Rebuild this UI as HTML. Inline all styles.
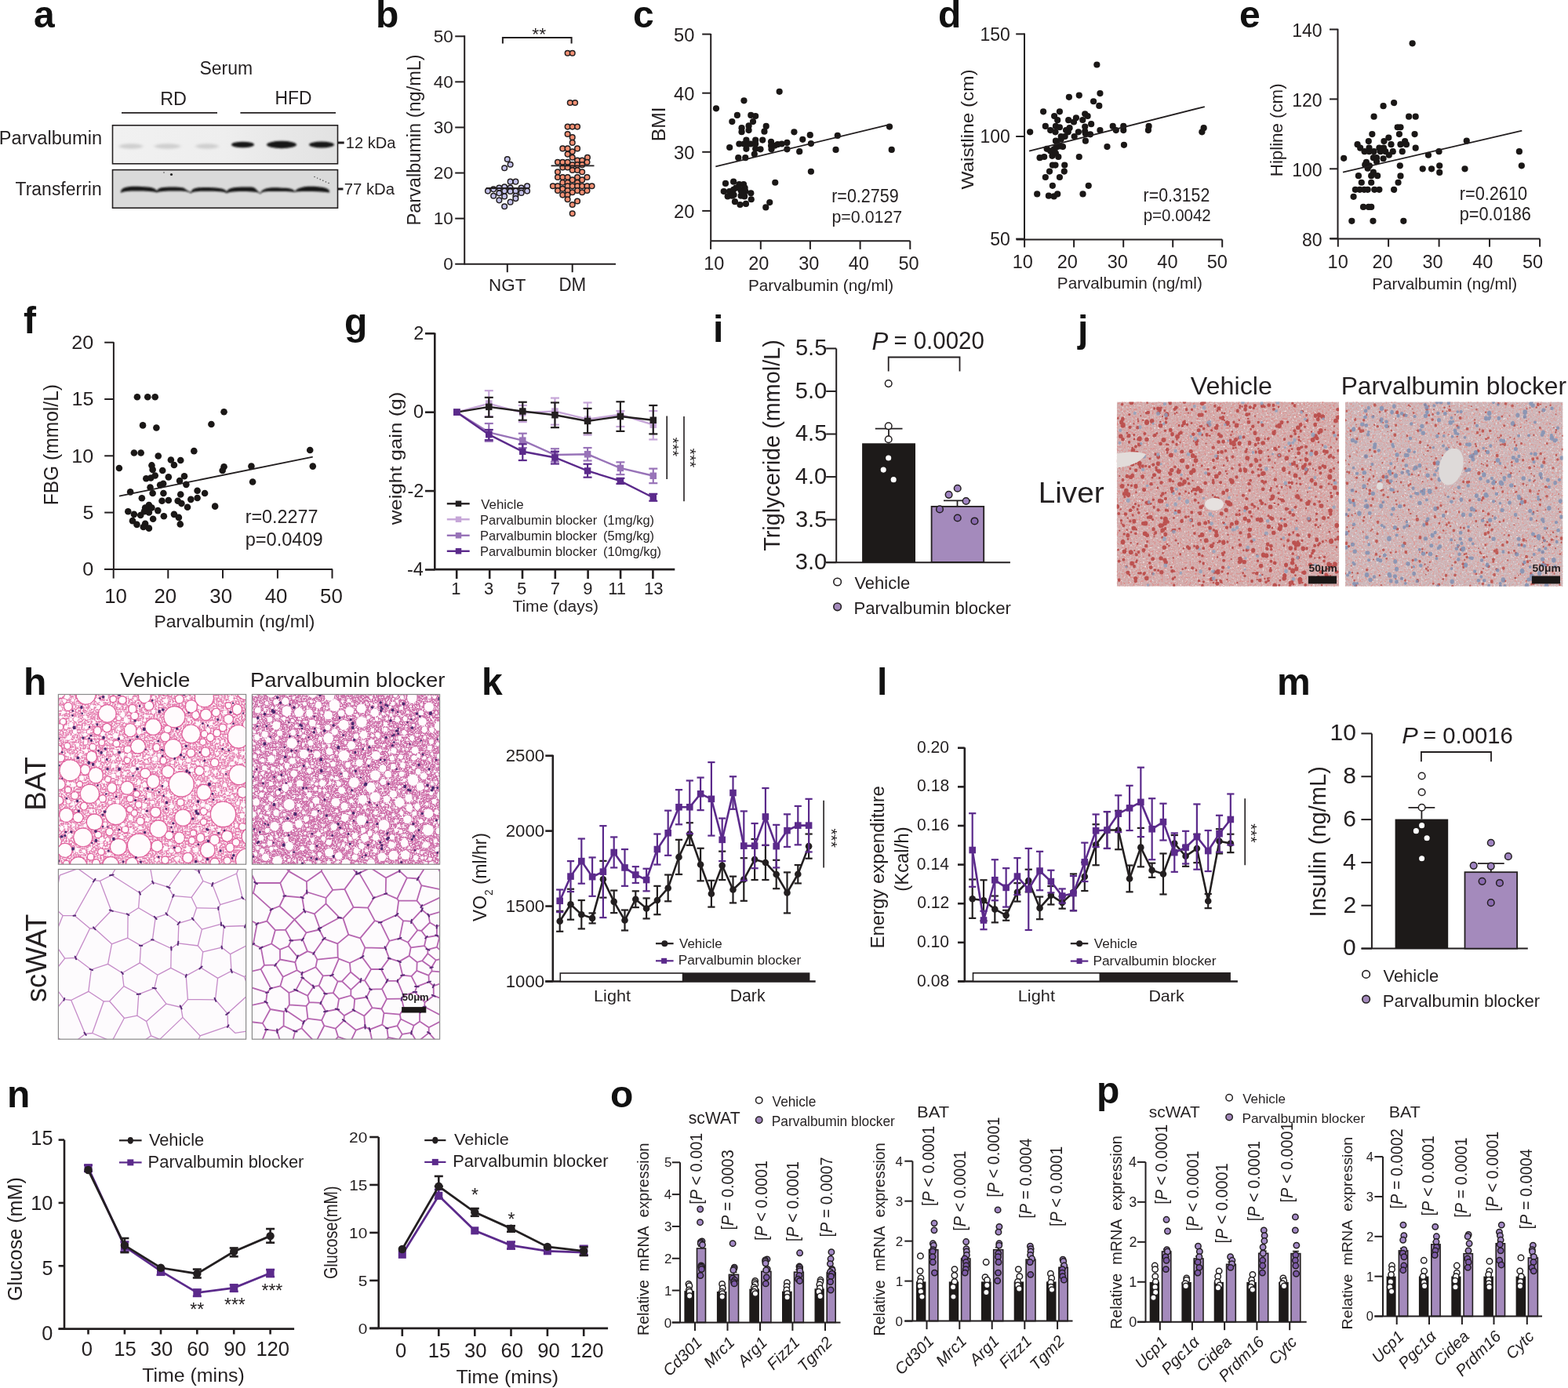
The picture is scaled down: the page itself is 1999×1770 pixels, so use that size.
<!DOCTYPE html>
<html><head><meta charset="utf-8"><title>Figure</title>
<style>
html,body{margin:0;padding:0;background:#fff;}
body{width:1999px;height:1770px;overflow:hidden;}
svg{display:block;}
svg text{font-family:'Liberation Sans', Arial, sans-serif;}
</style></head><body>
<svg xmlns="http://www.w3.org/2000/svg" width="1999" height="1770" viewBox="0 0 1999 1770">
<rect width="1999" height="1770" fill="#ffffff"/>
<text x="43" y="35" font-size="48" text-anchor="start" font-weight="bold" fill="#111" >a</text>
<text transform="translate(254.57 94.95) scale(0.936 1)" font-size="24.51" fill="#231f20" >Serum</text>
<text transform="translate(204.13 133.7) scale(0.979 1)" font-size="23.91" fill="#231f20" >RD</text>
<text transform="translate(350.47 132.8) scale(0.956 1)" font-size="23.91" fill="#231f20" >HFD</text>
<line x1="155" y1="143.9" x2="277" y2="143.9" stroke="#231f20" stroke-width="1.8" />
<line x1="306.4" y1="143.9" x2="428" y2="143.9" stroke="#231f20" stroke-width="1.8" />
<text transform="translate(-1.19 183.55) scale(0.954 1)" font-size="24.76" fill="#231f20" >Parvalbumin</text>
<text transform="translate(19.54 249.27) scale(0.993 1)" font-size="23.13" fill="#231f20" >Transferrin</text>
<defs><linearGradient id="blotTop" x1="0" x2="1" y1="0" y2="0"><stop offset="0" stop-color="#f1f1f1"/><stop offset="0.5" stop-color="#eeeeee"/><stop offset="1" stop-color="#e2e2e2"/></linearGradient><filter id="blur2" x="-20%" y="-50%" width="140%" height="200%"><feGaussianBlur stdDeviation="2.2 1.6"/></filter><filter id="blur1" x="-20%" y="-50%" width="140%" height="200%"><feGaussianBlur stdDeviation="1.2 0.8"/></filter></defs>
<rect x="143.5" y="159.8" width="287" height="49" fill="url(#blotTop)" />
<ellipse cx="167" cy="186.5" rx="15.0" ry="3.2" fill="#cfcfcf" filter="url(#blur2)"/>
<ellipse cx="213.5" cy="186.5" rx="16.5" ry="3.2" fill="#cfcfcf" filter="url(#blur2)"/>
<ellipse cx="264" cy="186.5" rx="14.5" ry="3.2" fill="#cfcfcf" filter="url(#blur2)"/>
<ellipse cx="309.5" cy="184.5" rx="14.5" ry="3.75" fill="#141414" filter="url(#blur1)"/>
<ellipse cx="359" cy="184.5" rx="19.0" ry="4.75" fill="#141414" filter="url(#blur1)"/>
<ellipse cx="410" cy="184.5" rx="16.0" ry="4.0" fill="#141414" filter="url(#blur1)"/>
<rect x="143.5" y="159.8" width="287" height="49" fill="none" stroke="#231f20" stroke-width="1.6" />
<rect x="143.5" y="216.6" width="287" height="48.6" fill="#dadada" />
<path d="M154,244 C156,238 165,237.5 180,238 C192,238.5 197,239 200,243.5 C202,239 207,238.5 220,238.5 C232,238.5 235,239.5 236,241 C238,242 240,244 243.5,245 C245,240 250,239 262,239 C274,239 287,239.5 289,244.5 C291,239 300,238.5 312,238.5 C320,238.5 322,238 325,240 C328,243 331,246 332,246 C335,239.5 345,239 357,239.5 C368,240 373,240 376,244 C380,238 392,237 404,238 C414,239 418,240 420,243.5 L420,245.5 C410,244 400,244 392,244 C380,244 376,244.5 376,245 C372,244 360,244 345,244 C336,244 333,245 332,247.5 C330,245 326,244.5 314,244 C300,244 292,244.5 289,246.5 C286,244 276,243.8 262,243.8 C250,243.8 245,244.5 243.5,246.5 C240,244 235,243.5 224,243.5 C210,243.5 203,244 200,245.5 C196,244 186,243.5 175,243.5 C164,243.5 157,244 154,246 Z" fill="#151515" filter="url(#blur1)"/>
<circle cx="209" cy="220" r="0.8" fill="#444"/>
<circle cx="218.5" cy="222.5" r="1.6" fill="#222"/>
<circle cx="401" cy="225.5" r="0.7" fill="#333"/>
<circle cx="404.6" cy="227.1" r="0.7" fill="#333"/>
<circle cx="408.2" cy="228.7" r="0.7" fill="#333"/>
<circle cx="411.8" cy="230.3" r="0.7" fill="#333"/>
<circle cx="415.4" cy="231.9" r="0.7" fill="#333"/>
<circle cx="419" cy="233.5" r="0.7" fill="#333"/>
<rect x="143.5" y="216.6" width="287" height="48.6" fill="none" stroke="#231f20" stroke-width="1.6" />
<line x1="431" y1="182" x2="438.7" y2="182" stroke="#231f20" stroke-width="3" />
<line x1="431" y1="241" x2="437.5" y2="241" stroke="#231f20" stroke-width="3" />
<text transform="translate(440.8 188.9) scale(0.990 1)" font-size="20.27" fill="#231f20" >12 kDa</text>
<text transform="translate(438.68 248.4) scale(1.016 1)" font-size="20.00" fill="#231f20" >77 kDa</text>
<text x="479" y="35" font-size="48" text-anchor="start" font-weight="bold" fill="#111" >b</text>
<line x1="592.2" y1="45.3" x2="592.2" y2="337.5" stroke="#231f20" stroke-width="2" />
<line x1="580.2" y1="336.7" x2="592.2" y2="336.7" stroke="#231f20" stroke-width="2" />
<line x1="580.2" y1="278.62" x2="592.2" y2="278.62" stroke="#231f20" stroke-width="2" />
<line x1="580.2" y1="220.54" x2="592.2" y2="220.54" stroke="#231f20" stroke-width="2" />
<line x1="580.2" y1="162.46" x2="592.2" y2="162.46" stroke="#231f20" stroke-width="2" />
<line x1="580.2" y1="104.38" x2="592.2" y2="104.38" stroke="#231f20" stroke-width="2" />
<line x1="580.2" y1="46.3" x2="592.2" y2="46.3" stroke="#231f20" stroke-width="2" />
<text transform="translate(565.2 344.46)" font-size="22.50" fill="#231f20" >0</text>
<text transform="translate(552.71 286.38)" font-size="22.50" fill="#231f20" >10</text>
<text transform="translate(552.71 228.3)" font-size="22.50" fill="#231f20" >20</text>
<text transform="translate(552.71 170.22)" font-size="22.50" fill="#231f20" >30</text>
<text transform="translate(552.71 112.14)" font-size="22.50" fill="#231f20" >40</text>
<text transform="translate(552.71 54.06)" font-size="22.50" fill="#231f20" >50</text>
<line x1="592" y1="336.7" x2="785" y2="336.7" stroke="#231f20" stroke-width="2" />
<line x1="646.8" y1="336.7" x2="646.8" y2="347.2" stroke="#231f20" stroke-width="2" />
<line x1="729.7" y1="336.7" x2="729.7" y2="347.2" stroke="#231f20" stroke-width="2" />
<text transform="translate(623.11 370.67) scale(0.975 1)" font-size="22.96" fill="#231f20" >NGT</text>
<text transform="translate(712.41 370.9) scale(0.947 1)" font-size="23.62" fill="#231f20" >DM</text>
<text transform="translate(535.89 287.48) rotate(-90) scale(0.948 1)" font-size="24.81" fill="#231f20" >Parvalbumin (ng/mL)</text>
<polyline points="640.9,55.4 640.9,47.9 728.6,47.9 728.6,55.4" fill="none" stroke="#231f20" stroke-width="2" stroke-linejoin="miter" />
<text transform="translate(678.36 50.58) scale(1.029 1)" font-size="22.29" fill="#231f20" >**</text>
<circle cx="646.78" cy="202.94" r="3.3" fill="#c4c2ea" stroke="#231f20" stroke-width="1.5"/>
<circle cx="650.62" cy="209.72" r="3.3" fill="#c4c2ea" stroke="#231f20" stroke-width="1.5"/>
<circle cx="643.16" cy="214.24" r="3.3" fill="#c4c2ea" stroke="#231f20" stroke-width="1.5"/>
<circle cx="650.62" cy="231.64" r="3.3" fill="#c4c2ea" stroke="#231f20" stroke-width="1.5"/>
<circle cx="657.4" cy="231.64" r="3.3" fill="#c4c2ea" stroke="#231f20" stroke-width="1.5"/>
<circle cx="621.92" cy="243.62" r="3.3" fill="#c4c2ea" stroke="#231f20" stroke-width="1.5"/>
<circle cx="629.15" cy="241.36" r="3.3" fill="#c4c2ea" stroke="#231f20" stroke-width="1.5"/>
<circle cx="636.38" cy="239.55" r="3.3" fill="#c4c2ea" stroke="#231f20" stroke-width="1.5"/>
<circle cx="643.16" cy="238.42" r="3.3" fill="#c4c2ea" stroke="#231f20" stroke-width="1.5"/>
<circle cx="650.62" cy="239.55" r="3.3" fill="#c4c2ea" stroke="#231f20" stroke-width="1.5"/>
<circle cx="657.4" cy="243.62" r="3.3" fill="#c4c2ea" stroke="#231f20" stroke-width="1.5"/>
<circle cx="664.63" cy="239.55" r="3.3" fill="#c4c2ea" stroke="#231f20" stroke-width="1.5"/>
<circle cx="672.09" cy="237.29" r="3.3" fill="#c4c2ea" stroke="#231f20" stroke-width="1.5"/>
<circle cx="672.09" cy="243.62" r="3.3" fill="#c4c2ea" stroke="#231f20" stroke-width="1.5"/>
<circle cx="629.15" cy="249.72" r="3.3" fill="#c4c2ea" stroke="#231f20" stroke-width="1.5"/>
<circle cx="636.38" cy="246.33" r="3.3" fill="#c4c2ea" stroke="#231f20" stroke-width="1.5"/>
<circle cx="643.16" cy="243.62" r="3.3" fill="#c4c2ea" stroke="#231f20" stroke-width="1.5"/>
<circle cx="650.62" cy="244.07" r="3.3" fill="#c4c2ea" stroke="#231f20" stroke-width="1.5"/>
<circle cx="664.63" cy="245.88" r="3.3" fill="#c4c2ea" stroke="#231f20" stroke-width="1.5"/>
<circle cx="643.16" cy="250.4" r="3.3" fill="#c4c2ea" stroke="#231f20" stroke-width="1.5"/>
<circle cx="657.4" cy="249.72" r="3.3" fill="#c4c2ea" stroke="#231f20" stroke-width="1.5"/>
<circle cx="636.38" cy="255.37" r="3.3" fill="#c4c2ea" stroke="#231f20" stroke-width="1.5"/>
<circle cx="650.62" cy="257.63" r="3.3" fill="#c4c2ea" stroke="#231f20" stroke-width="1.5"/>
<circle cx="657.4" cy="253.11" r="3.3" fill="#c4c2ea" stroke="#231f20" stroke-width="1.5"/>
<circle cx="643.16" cy="263.28" r="3.3" fill="#c4c2ea" stroke="#231f20" stroke-width="1.5"/>
<circle cx="723.62" cy="67.8" r="3.3" fill="#f39073" stroke="#231f20" stroke-width="1.5"/>
<circle cx="729.72" cy="67.8" r="3.3" fill="#f39073" stroke="#231f20" stroke-width="1.5"/>
<circle cx="726.78" cy="131.07" r="3.3" fill="#f39073" stroke="#231f20" stroke-width="1.5"/>
<circle cx="733.11" cy="131.07" r="3.3" fill="#f39073" stroke="#231f20" stroke-width="1.5"/>
<circle cx="723.62" cy="161.58" r="3.3" fill="#f39073" stroke="#231f20" stroke-width="1.5"/>
<circle cx="729.72" cy="161.58" r="3.3" fill="#f39073" stroke="#231f20" stroke-width="1.5"/>
<circle cx="736.05" cy="161.58" r="3.3" fill="#f39073" stroke="#231f20" stroke-width="1.5"/>
<circle cx="723.62" cy="171.07" r="3.3" fill="#f39073" stroke="#231f20" stroke-width="1.5"/>
<circle cx="729.72" cy="175.14" r="3.3" fill="#f39073" stroke="#231f20" stroke-width="1.5"/>
<circle cx="729.72" cy="181.92" r="3.3" fill="#f39073" stroke="#231f20" stroke-width="1.5"/>
<circle cx="717.29" cy="189.38" r="3.3" fill="#f39073" stroke="#231f20" stroke-width="1.5"/>
<circle cx="723.62" cy="189.38" r="3.3" fill="#f39073" stroke="#231f20" stroke-width="1.5"/>
<circle cx="736.05" cy="189.38" r="3.3" fill="#f39073" stroke="#231f20" stroke-width="1.5"/>
<circle cx="729.72" cy="193.22" r="3.3" fill="#f39073" stroke="#231f20" stroke-width="1.5"/>
<circle cx="723.62" cy="196.61" r="3.3" fill="#f39073" stroke="#231f20" stroke-width="1.5"/>
<circle cx="729.72" cy="200.68" r="3.3" fill="#f39073" stroke="#231f20" stroke-width="1.5"/>
<circle cx="748.93" cy="200.68" r="3.3" fill="#f39073" stroke="#231f20" stroke-width="1.5"/>
<circle cx="736.05" cy="204.52" r="3.3" fill="#f39073" stroke="#231f20" stroke-width="1.5"/>
<circle cx="742.15" cy="204.52" r="3.3" fill="#f39073" stroke="#231f20" stroke-width="1.5"/>
<circle cx="710.96" cy="206.78" r="3.3" fill="#f39073" stroke="#231f20" stroke-width="1.5"/>
<circle cx="717.29" cy="206.78" r="3.3" fill="#f39073" stroke="#231f20" stroke-width="1.5"/>
<circle cx="723.62" cy="206.78" r="3.3" fill="#f39073" stroke="#231f20" stroke-width="1.5"/>
<circle cx="748.47" cy="206.78" r="3.3" fill="#f39073" stroke="#231f20" stroke-width="1.5"/>
<circle cx="729.72" cy="210.17" r="3.3" fill="#f39073" stroke="#231f20" stroke-width="1.5"/>
<circle cx="736.05" cy="210.17" r="3.3" fill="#f39073" stroke="#231f20" stroke-width="1.5"/>
<circle cx="742.15" cy="210.17" r="3.3" fill="#f39073" stroke="#231f20" stroke-width="1.5"/>
<circle cx="717.29" cy="213.56" r="3.3" fill="#f39073" stroke="#231f20" stroke-width="1.5"/>
<circle cx="723.62" cy="213.56" r="3.3" fill="#f39073" stroke="#231f20" stroke-width="1.5"/>
<circle cx="729.72" cy="216.95" r="3.3" fill="#f39073" stroke="#231f20" stroke-width="1.5"/>
<circle cx="736.05" cy="216.95" r="3.3" fill="#f39073" stroke="#231f20" stroke-width="1.5"/>
<circle cx="742.15" cy="219.21" r="3.3" fill="#f39073" stroke="#231f20" stroke-width="1.5"/>
<circle cx="710.96" cy="219.21" r="3.3" fill="#f39073" stroke="#231f20" stroke-width="1.5"/>
<circle cx="710.96" cy="225.99" r="3.3" fill="#f39073" stroke="#231f20" stroke-width="1.5"/>
<circle cx="717.29" cy="225.99" r="3.3" fill="#f39073" stroke="#231f20" stroke-width="1.5"/>
<circle cx="723.62" cy="225.99" r="3.3" fill="#f39073" stroke="#231f20" stroke-width="1.5"/>
<circle cx="736.05" cy="225.99" r="3.3" fill="#f39073" stroke="#231f20" stroke-width="1.5"/>
<circle cx="748.47" cy="225.99" r="3.3" fill="#f39073" stroke="#231f20" stroke-width="1.5"/>
<circle cx="729.72" cy="229.38" r="3.3" fill="#f39073" stroke="#231f20" stroke-width="1.5"/>
<circle cx="742.15" cy="229.38" r="3.3" fill="#f39073" stroke="#231f20" stroke-width="1.5"/>
<circle cx="717.29" cy="232.77" r="3.3" fill="#f39073" stroke="#231f20" stroke-width="1.5"/>
<circle cx="723.62" cy="232.77" r="3.3" fill="#f39073" stroke="#231f20" stroke-width="1.5"/>
<circle cx="736.05" cy="232.77" r="3.3" fill="#f39073" stroke="#231f20" stroke-width="1.5"/>
<circle cx="704.86" cy="237.29" r="3.3" fill="#f39073" stroke="#231f20" stroke-width="1.5"/>
<circle cx="710.96" cy="237.29" r="3.3" fill="#f39073" stroke="#231f20" stroke-width="1.5"/>
<circle cx="723.62" cy="237.29" r="3.3" fill="#f39073" stroke="#231f20" stroke-width="1.5"/>
<circle cx="729.72" cy="237.29" r="3.3" fill="#f39073" stroke="#231f20" stroke-width="1.5"/>
<circle cx="736.05" cy="237.29" r="3.3" fill="#f39073" stroke="#231f20" stroke-width="1.5"/>
<circle cx="742.15" cy="237.29" r="3.3" fill="#f39073" stroke="#231f20" stroke-width="1.5"/>
<circle cx="748.47" cy="237.29" r="3.3" fill="#f39073" stroke="#231f20" stroke-width="1.5"/>
<circle cx="754.58" cy="237.29" r="3.3" fill="#f39073" stroke="#231f20" stroke-width="1.5"/>
<circle cx="717.29" cy="240.68" r="3.3" fill="#f39073" stroke="#231f20" stroke-width="1.5"/>
<circle cx="710.96" cy="242.94" r="3.3" fill="#f39073" stroke="#231f20" stroke-width="1.5"/>
<circle cx="723.62" cy="242.94" r="3.3" fill="#f39073" stroke="#231f20" stroke-width="1.5"/>
<circle cx="736.05" cy="242.94" r="3.3" fill="#f39073" stroke="#231f20" stroke-width="1.5"/>
<circle cx="748.47" cy="242.94" r="3.3" fill="#f39073" stroke="#231f20" stroke-width="1.5"/>
<circle cx="729.72" cy="245.2" r="3.3" fill="#f39073" stroke="#231f20" stroke-width="1.5"/>
<circle cx="742.15" cy="245.2" r="3.3" fill="#f39073" stroke="#231f20" stroke-width="1.5"/>
<circle cx="717.29" cy="248.59" r="3.3" fill="#f39073" stroke="#231f20" stroke-width="1.5"/>
<circle cx="723.62" cy="248.59" r="3.3" fill="#f39073" stroke="#231f20" stroke-width="1.5"/>
<circle cx="723.62" cy="254.24" r="3.3" fill="#f39073" stroke="#231f20" stroke-width="1.5"/>
<circle cx="736.05" cy="256.5" r="3.3" fill="#f39073" stroke="#231f20" stroke-width="1.5"/>
<circle cx="729.72" cy="261.02" r="3.3" fill="#f39073" stroke="#231f20" stroke-width="1.5"/>
<circle cx="729.72" cy="272.32" r="3.3" fill="#f39073" stroke="#231f20" stroke-width="1.5"/>
<line x1="619.66" y1="240" x2="674.8" y2="240" stroke="#231f20" stroke-width="1.8" />
<line x1="702.6" y1="211.3" x2="757.51" y2="211.3" stroke="#231f20" stroke-width="1.8" />
<text x="807" y="35" font-size="48" text-anchor="start" font-weight="bold" fill="#111" >c</text>
<line x1="906.2" y1="43" x2="906.2" y2="307.3" stroke="#231f20" stroke-width="2" />
<line x1="895.2" y1="268.9" x2="906.2" y2="268.9" stroke="#231f20" stroke-width="2" />
<line x1="895.2" y1="193.8" x2="906.2" y2="193.8" stroke="#231f20" stroke-width="2" />
<line x1="895.2" y1="118.7" x2="906.2" y2="118.7" stroke="#231f20" stroke-width="2" />
<line x1="895.2" y1="43.6" x2="906.2" y2="43.6" stroke="#231f20" stroke-width="2" />
<text transform="translate(859.02 277.83)" font-size="23.70" fill="#231f20" >20</text>
<text transform="translate(859.02 202.73)" font-size="23.70" fill="#231f20" >30</text>
<text transform="translate(859.02 127.63)" font-size="23.70" fill="#231f20" >40</text>
<text transform="translate(859.02 52.53)" font-size="23.70" fill="#231f20" >50</text>
<line x1="906.2" y1="307.2" x2="1160.3" y2="307.2" stroke="#231f20" stroke-width="2" />
<line x1="906.1" y1="307.2" x2="906.1" y2="317.9" stroke="#231f20" stroke-width="2" />
<line x1="969.8" y1="307.2" x2="969.8" y2="317.9" stroke="#231f20" stroke-width="2" />
<line x1="1032.9" y1="307.2" x2="1032.9" y2="317.9" stroke="#231f20" stroke-width="2" />
<line x1="1096.6" y1="307.2" x2="1096.6" y2="317.9" stroke="#231f20" stroke-width="2" />
<line x1="1160.3" y1="307.2" x2="1160.3" y2="317.9" stroke="#231f20" stroke-width="2" />
<text transform="translate(897.29 343.75)" font-size="23.50" fill="#231f20" >10</text>
<text transform="translate(954.18 343.75)" font-size="23.50" fill="#231f20" >20</text>
<text transform="translate(1018.2 343.75)" font-size="23.50" fill="#231f20" >30</text>
<text transform="translate(1081.63 343.75)" font-size="23.50" fill="#231f20" >40</text>
<text transform="translate(1145.4 343.75)" font-size="23.50" fill="#231f20" >50</text>
<text transform="translate(953.94 371.2) scale(0.988 1)" font-size="20.96" fill="#231f20" >Parvalbumin (ng/ml)</text>
<text transform="translate(847.5 180.27) rotate(-90) scale(1.038 1)" font-size="23.77" fill="#231f20" >BMI</text>
<circle cx="912.99" cy="138.31" r="4.1" fill="#1a1716"/>
<circle cx="993.67" cy="116.84" r="4.1" fill="#1a1716"/>
<circle cx="948.47" cy="128.36" r="4.1" fill="#1a1716"/>
<circle cx="939.89" cy="146.89" r="4.1" fill="#1a1716"/>
<circle cx="933.33" cy="155.03" r="4.1" fill="#1a1716"/>
<circle cx="957.29" cy="146.89" r="4.1" fill="#1a1716"/>
<circle cx="963.16" cy="148.02" r="4.1" fill="#1a1716"/>
<circle cx="960" cy="155.03" r="4.1" fill="#1a1716"/>
<circle cx="945.54" cy="163.16" r="4.1" fill="#1a1716"/>
<circle cx="954.58" cy="160.45" r="4.1" fill="#1a1716"/>
<circle cx="945.54" cy="168.14" r="4.1" fill="#1a1716"/>
<circle cx="954.58" cy="166.1" r="4.1" fill="#1a1716"/>
<circle cx="976.72" cy="160.9" r="4.1" fill="#1a1716"/>
<circle cx="974.46" cy="167.68" r="4.1" fill="#1a1716"/>
<circle cx="930.17" cy="188.02" r="4.1" fill="#1a1716"/>
<circle cx="942.37" cy="183.5" r="4.1" fill="#1a1716"/>
<circle cx="948.47" cy="183.5" r="4.1" fill="#1a1716"/>
<circle cx="951.41" cy="178.53" r="4.1" fill="#1a1716"/>
<circle cx="954.58" cy="183.5" r="4.1" fill="#1a1716"/>
<circle cx="957.29" cy="183.5" r="4.1" fill="#1a1716"/>
<circle cx="951.41" cy="189.83" r="4.1" fill="#1a1716"/>
<circle cx="963.16" cy="178.53" r="4.1" fill="#1a1716"/>
<circle cx="963.16" cy="183.5" r="4.1" fill="#1a1716"/>
<circle cx="963.16" cy="189.83" r="4.1" fill="#1a1716"/>
<circle cx="969.49" cy="190.28" r="4.1" fill="#1a1716"/>
<circle cx="972.2" cy="178.53" r="4.1" fill="#1a1716"/>
<circle cx="983.05" cy="180.79" r="4.1" fill="#1a1716"/>
<circle cx="983.05" cy="185.76" r="4.1" fill="#1a1716"/>
<circle cx="987.57" cy="185.76" r="4.1" fill="#1a1716"/>
<circle cx="991.41" cy="184.18" r="4.1" fill="#1a1716"/>
<circle cx="996.61" cy="183.5" r="4.1" fill="#1a1716"/>
<circle cx="1003.39" cy="181.92" r="4.1" fill="#1a1716"/>
<circle cx="1003.39" cy="190.28" r="4.1" fill="#1a1716"/>
<circle cx="983.5" cy="190.28" r="4.1" fill="#1a1716"/>
<circle cx="961.81" cy="196.61" r="4.1" fill="#1a1716"/>
<circle cx="941.24" cy="201.13" r="4.1" fill="#1a1716"/>
<circle cx="950.28" cy="201.13" r="4.1" fill="#1a1716"/>
<circle cx="1012.43" cy="168.36" r="4.1" fill="#1a1716"/>
<circle cx="1023.28" cy="177.85" r="4.1" fill="#1a1716"/>
<circle cx="1032.77" cy="172.2" r="4.1" fill="#1a1716"/>
<circle cx="1033.9" cy="183.05" r="4.1" fill="#1a1716"/>
<circle cx="1019.21" cy="193.22" r="4.1" fill="#1a1716"/>
<circle cx="1065.54" cy="190.96" r="4.1" fill="#1a1716"/>
<circle cx="1067.8" cy="172.88" r="4.1" fill="#1a1716"/>
<circle cx="1134.01" cy="161.58" r="4.1" fill="#1a1716"/>
<circle cx="1136.72" cy="190.96" r="4.1" fill="#1a1716"/>
<circle cx="1033.9" cy="218.76" r="4.1" fill="#1a1716"/>
<circle cx="988.25" cy="232.77" r="4.1" fill="#1a1716"/>
<circle cx="924.97" cy="233.9" r="4.1" fill="#1a1716"/>
<circle cx="935.14" cy="231.64" r="4.1" fill="#1a1716"/>
<circle cx="942.37" cy="235.03" r="4.1" fill="#1a1716"/>
<circle cx="948.02" cy="235.03" r="4.1" fill="#1a1716"/>
<circle cx="949.6" cy="239.55" r="4.1" fill="#1a1716"/>
<circle cx="922.71" cy="244.07" r="4.1" fill="#1a1716"/>
<circle cx="929.94" cy="244.07" r="4.1" fill="#1a1716"/>
<circle cx="935.14" cy="241.81" r="4.1" fill="#1a1716"/>
<circle cx="938.31" cy="239.55" r="4.1" fill="#1a1716"/>
<circle cx="944.63" cy="242.94" r="4.1" fill="#1a1716"/>
<circle cx="950.28" cy="244.07" r="4.1" fill="#1a1716"/>
<circle cx="957.29" cy="246.33" r="4.1" fill="#1a1716"/>
<circle cx="927.68" cy="250.4" r="4.1" fill="#1a1716"/>
<circle cx="935.59" cy="248.59" r="4.1" fill="#1a1716"/>
<circle cx="944.63" cy="249.72" r="4.1" fill="#1a1716"/>
<circle cx="949.15" cy="250.4" r="4.1" fill="#1a1716"/>
<circle cx="957.74" cy="254.24" r="4.1" fill="#1a1716"/>
<circle cx="936.95" cy="257.18" r="4.1" fill="#1a1716"/>
<circle cx="943.5" cy="261.02" r="4.1" fill="#1a1716"/>
<circle cx="950.96" cy="259.89" r="4.1" fill="#1a1716"/>
<circle cx="976.27" cy="264.41" r="4.1" fill="#1a1716"/>
<circle cx="981.24" cy="258.08" r="4.1" fill="#1a1716"/>
<circle cx="941.92" cy="239.55" r="4.1" fill="#1a1716"/>
<circle cx="946.44" cy="246.33" r="4.1" fill="#1a1716"/>
<circle cx="933.33" cy="249.72" r="4.1" fill="#1a1716"/>
<line x1="912.32" y1="212.43" x2="1134.01" y2="158.87" stroke="#231f20" stroke-width="1.8" />
<text transform="translate(1060.2 258.37) scale(0.926 1)" font-size="23.24" fill="#231f20" >r=0.2759</text>
<text transform="translate(1060.41 284.09) scale(0.955 1)" font-size="22.42" fill="#231f20" >p=0.0127</text>
<text x="1196" y="35" font-size="48" text-anchor="start" font-weight="bold" fill="#111" >d</text>
<line x1="1306" y1="42.6" x2="1306" y2="305.4" stroke="#231f20" stroke-width="2" />
<line x1="1295.2" y1="304.6" x2="1306" y2="304.6" stroke="#231f20" stroke-width="2" />
<line x1="1295.2" y1="174" x2="1306" y2="174" stroke="#231f20" stroke-width="2" />
<line x1="1295.2" y1="43.4" x2="1306" y2="43.4" stroke="#231f20" stroke-width="2" />
<text transform="translate(1262.24 313.01) scale(0.980 1)" font-size="23.50" fill="#231f20" >50</text>
<text transform="translate(1249.46 182.41) scale(0.980 1)" font-size="23.50" fill="#231f20" >100</text>
<text transform="translate(1249.46 51.81) scale(0.980 1)" font-size="23.50" fill="#231f20" >150</text>
<line x1="1295.6" y1="305.4" x2="1558.2" y2="305.4" stroke="#231f20" stroke-width="2" />
<line x1="1306.1" y1="305.4" x2="1306.1" y2="315.4" stroke="#231f20" stroke-width="2" />
<line x1="1369.1" y1="305.4" x2="1369.1" y2="315.4" stroke="#231f20" stroke-width="2" />
<line x1="1432.2" y1="305.4" x2="1432.2" y2="315.4" stroke="#231f20" stroke-width="2" />
<line x1="1495.2" y1="305.4" x2="1495.2" y2="315.4" stroke="#231f20" stroke-width="2" />
<line x1="1558.2" y1="305.4" x2="1558.2" y2="315.4" stroke="#231f20" stroke-width="2" />
<text transform="translate(1290.79 341.75)" font-size="23.50" fill="#231f20" >10</text>
<text transform="translate(1347.78 341.75)" font-size="23.50" fill="#231f20" >20</text>
<text transform="translate(1411.7 341.75)" font-size="23.50" fill="#231f20" >30</text>
<text transform="translate(1475.33 341.75)" font-size="23.50" fill="#231f20" >40</text>
<text transform="translate(1538.8 341.75)" font-size="23.50" fill="#231f20" >50</text>
<text transform="translate(1347.85 367.96) scale(1.023 1)" font-size="20.21" fill="#231f20" >Parvalbumin (ng/ml)</text>
<text transform="translate(1240.62 241.62) rotate(-90) scale(1.069 1)" font-size="22.78" fill="#231f20" >Waistline (cm)</text>
<circle cx="1398.36" cy="82.49" r="4.1" fill="#1a1716"/>
<circle cx="1362.88" cy="123.84" r="4.1" fill="#1a1716"/>
<circle cx="1375.76" cy="121.58" r="4.1" fill="#1a1716"/>
<circle cx="1402.43" cy="119.1" r="4.1" fill="#1a1716"/>
<circle cx="1394.07" cy="129.27" r="4.1" fill="#1a1716"/>
<circle cx="1401.3" cy="134.92" r="4.1" fill="#1a1716"/>
<circle cx="1330.11" cy="142.37" r="4.1" fill="#1a1716"/>
<circle cx="1350.9" cy="142.37" r="4.1" fill="#1a1716"/>
<circle cx="1344.12" cy="148.02" r="4.1" fill="#1a1716"/>
<circle cx="1383.22" cy="145.31" r="4.1" fill="#1a1716"/>
<circle cx="1386.61" cy="148.02" r="4.1" fill="#1a1716"/>
<circle cx="1348.19" cy="153.22" r="4.1" fill="#1a1716"/>
<circle cx="1362.2" cy="153.22" r="4.1" fill="#1a1716"/>
<circle cx="1371.92" cy="150.28" r="4.1" fill="#1a1716"/>
<circle cx="1368.98" cy="155.48" r="4.1" fill="#1a1716"/>
<circle cx="1380.28" cy="152.99" r="4.1" fill="#1a1716"/>
<circle cx="1391.13" cy="158.19" r="4.1" fill="#1a1716"/>
<circle cx="1332.82" cy="160.9" r="4.1" fill="#1a1716"/>
<circle cx="1339.15" cy="166.1" r="4.1" fill="#1a1716"/>
<circle cx="1345.93" cy="160.9" r="4.1" fill="#1a1716"/>
<circle cx="1350.9" cy="162.26" r="4.1" fill="#1a1716"/>
<circle cx="1359.04" cy="166.1" r="4.1" fill="#1a1716"/>
<circle cx="1363.56" cy="163.16" r="4.1" fill="#1a1716"/>
<circle cx="1345.48" cy="168.36" r="4.1" fill="#1a1716"/>
<circle cx="1361.75" cy="168.36" r="4.1" fill="#1a1716"/>
<circle cx="1374.86" cy="168.36" r="4.1" fill="#1a1716"/>
<circle cx="1383.22" cy="161.58" r="4.1" fill="#1a1716"/>
<circle cx="1383.22" cy="167.68" r="4.1" fill="#1a1716"/>
<circle cx="1402.43" cy="166.1" r="4.1" fill="#1a1716"/>
<circle cx="1418.7" cy="160.9" r="4.1" fill="#1a1716"/>
<circle cx="1422.77" cy="166.1" r="4.1" fill="#1a1716"/>
<circle cx="1432.26" cy="160.9" r="4.1" fill="#1a1716"/>
<circle cx="1432.26" cy="166.1" r="4.1" fill="#1a1716"/>
<circle cx="1464.58" cy="160.9" r="4.1" fill="#1a1716"/>
<circle cx="1463.9" cy="166.1" r="4.1" fill="#1a1716"/>
<circle cx="1534.63" cy="163.16" r="4.1" fill="#1a1716"/>
<circle cx="1532.37" cy="168.36" r="4.1" fill="#1a1716"/>
<circle cx="1313.16" cy="168.36" r="4.1" fill="#1a1716"/>
<circle cx="1352.71" cy="174.01" r="4.1" fill="#1a1716"/>
<circle cx="1357.68" cy="174.01" r="4.1" fill="#1a1716"/>
<circle cx="1369.66" cy="174.01" r="4.1" fill="#1a1716"/>
<circle cx="1383.9" cy="170.62" r="4.1" fill="#1a1716"/>
<circle cx="1390" cy="171.3" r="4.1" fill="#1a1716"/>
<circle cx="1345.93" cy="179.66" r="4.1" fill="#1a1716"/>
<circle cx="1352.71" cy="177.4" r="4.1" fill="#1a1716"/>
<circle cx="1383.9" cy="179.66" r="4.1" fill="#1a1716"/>
<circle cx="1348.19" cy="184.18" r="4.1" fill="#1a1716"/>
<circle cx="1350.9" cy="186.44" r="4.1" fill="#1a1716"/>
<circle cx="1354.97" cy="187.12" r="4.1" fill="#1a1716"/>
<circle cx="1334.63" cy="189.83" r="4.1" fill="#1a1716"/>
<circle cx="1339.15" cy="192.54" r="4.1" fill="#1a1716"/>
<circle cx="1343.67" cy="190.28" r="4.1" fill="#1a1716"/>
<circle cx="1346.38" cy="188.02" r="4.1" fill="#1a1716"/>
<circle cx="1411.47" cy="187.12" r="4.1" fill="#1a1716"/>
<circle cx="1432.94" cy="184.86" r="4.1" fill="#1a1716"/>
<circle cx="1325.59" cy="201.13" r="4.1" fill="#1a1716"/>
<circle cx="1331.24" cy="200" r="4.1" fill="#1a1716"/>
<circle cx="1341.41" cy="198.87" r="4.1" fill="#1a1716"/>
<circle cx="1349.32" cy="200" r="4.1" fill="#1a1716"/>
<circle cx="1345.93" cy="195.48" r="4.1" fill="#1a1716"/>
<circle cx="1375.76" cy="200" r="4.1" fill="#1a1716"/>
<circle cx="1341.86" cy="210.62" r="4.1" fill="#1a1716"/>
<circle cx="1345.48" cy="210.62" r="4.1" fill="#1a1716"/>
<circle cx="1357.23" cy="210.62" r="4.1" fill="#1a1716"/>
<circle cx="1338.02" cy="218.53" r="4.1" fill="#1a1716"/>
<circle cx="1356.78" cy="218.53" r="4.1" fill="#1a1716"/>
<circle cx="1332.82" cy="225.99" r="4.1" fill="#1a1716"/>
<circle cx="1350.9" cy="225.99" r="4.1" fill="#1a1716"/>
<circle cx="1341.86" cy="236.84" r="4.1" fill="#1a1716"/>
<circle cx="1387.74" cy="236.84" r="4.1" fill="#1a1716"/>
<circle cx="1322.2" cy="247.46" r="4.1" fill="#1a1716"/>
<circle cx="1336.89" cy="249.72" r="4.1" fill="#1a1716"/>
<circle cx="1343.67" cy="250.4" r="4.1" fill="#1a1716"/>
<circle cx="1348.19" cy="247.46" r="4.1" fill="#1a1716"/>
<circle cx="1380.51" cy="247.46" r="4.1" fill="#1a1716"/>
<line x1="1312.03" y1="192.54" x2="1535.76" y2="136.05" stroke="#231f20" stroke-width="1.8" />
<text transform="translate(1457.61 256.57) scale(0.917 1)" font-size="23.24" fill="#231f20" >r=0.3152</text>
<text transform="translate(1457.67 282.34) scale(0.924 1)" font-size="22.20" fill="#231f20" >p=0.0042</text>
<text x="1580" y="35" font-size="48" text-anchor="start" font-weight="bold" fill="#111" >e</text>
<line x1="1705.5" y1="36.8" x2="1705.5" y2="304.5" stroke="#231f20" stroke-width="2" />
<line x1="1695" y1="304.2" x2="1705.5" y2="304.2" stroke="#231f20" stroke-width="2" />
<line x1="1695" y1="215.3" x2="1705.5" y2="215.3" stroke="#231f20" stroke-width="2" />
<line x1="1695" y1="126.4" x2="1705.5" y2="126.4" stroke="#231f20" stroke-width="2" />
<line x1="1695" y1="37.5" x2="1705.5" y2="37.5" stroke="#231f20" stroke-width="2" />
<text transform="translate(1659.94 313.51) scale(0.980 1)" font-size="23.50" fill="#231f20" >80</text>
<text transform="translate(1647.16 224.61) scale(0.980 1)" font-size="23.50" fill="#231f20" >100</text>
<text transform="translate(1647.16 135.71) scale(0.980 1)" font-size="23.50" fill="#231f20" >120</text>
<text transform="translate(1647.16 46.81) scale(0.980 1)" font-size="23.50" fill="#231f20" >140</text>
<line x1="1695.6" y1="304.5" x2="1963.1" y2="304.5" stroke="#231f20" stroke-width="2" />
<line x1="1705.8" y1="304.5" x2="1705.8" y2="314.7" stroke="#231f20" stroke-width="2" />
<line x1="1770.1" y1="304.5" x2="1770.1" y2="314.7" stroke="#231f20" stroke-width="2" />
<line x1="1834.6" y1="304.5" x2="1834.6" y2="314.7" stroke="#231f20" stroke-width="2" />
<line x1="1899" y1="304.5" x2="1899" y2="314.7" stroke="#231f20" stroke-width="2" />
<line x1="1963.1" y1="304.5" x2="1963.1" y2="314.7" stroke="#231f20" stroke-width="2" />
<text transform="translate(1692.59 341.75)" font-size="23.50" fill="#231f20" >10</text>
<text transform="translate(1749.38 341.75)" font-size="23.50" fill="#231f20" >20</text>
<text transform="translate(1813.5 341.75)" font-size="23.50" fill="#231f20" >30</text>
<text transform="translate(1877.13 341.75)" font-size="23.50" fill="#231f20" >40</text>
<text transform="translate(1940.9 341.75)" font-size="23.50" fill="#231f20" >50</text>
<text transform="translate(1749.25 368.66) scale(1.023 1)" font-size="20.21" fill="#231f20" >Parvalbumin (ng/ml)</text>
<text transform="translate(1634.82 225.18) rotate(-90) scale(0.978 1)" font-size="22.78" fill="#231f20" >Hipline (cm)</text>
<circle cx="1800.62" cy="55.37" r="4.1" fill="#1a1716"/>
<circle cx="1763.56" cy="135.14" r="4.1" fill="#1a1716"/>
<circle cx="1777.12" cy="131.07" r="4.1" fill="#1a1716"/>
<circle cx="1751.58" cy="148.7" r="4.1" fill="#1a1716"/>
<circle cx="1796.1" cy="148.7" r="4.1" fill="#1a1716"/>
<circle cx="1804.69" cy="148.7" r="4.1" fill="#1a1716"/>
<circle cx="1781.64" cy="162.26" r="4.1" fill="#1a1716"/>
<circle cx="1785.48" cy="162.26" r="4.1" fill="#1a1716"/>
<circle cx="1783.9" cy="171.07" r="4.1" fill="#1a1716"/>
<circle cx="1749.32" cy="171.07" r="4.1" fill="#1a1716"/>
<circle cx="1803.56" cy="171.07" r="4.1" fill="#1a1716"/>
<circle cx="1770.34" cy="175.59" r="4.1" fill="#1a1716"/>
<circle cx="1744.8" cy="180.11" r="4.1" fill="#1a1716"/>
<circle cx="1764.46" cy="180.11" r="4.1" fill="#1a1716"/>
<circle cx="1791.13" cy="180.11" r="4.1" fill="#1a1716"/>
<circle cx="1730.56" cy="184.18" r="4.1" fill="#1a1716"/>
<circle cx="1734.18" cy="188.7" r="4.1" fill="#1a1716"/>
<circle cx="1773.5" cy="184.18" r="4.1" fill="#1a1716"/>
<circle cx="1785.48" cy="184.18" r="4.1" fill="#1a1716"/>
<circle cx="1792.94" cy="184.18" r="4.1" fill="#1a1716"/>
<circle cx="1745.48" cy="188.7" r="4.1" fill="#1a1716"/>
<circle cx="1758.36" cy="188.7" r="4.1" fill="#1a1716"/>
<circle cx="1764.01" cy="188.7" r="4.1" fill="#1a1716"/>
<circle cx="1804.69" cy="188.7" r="4.1" fill="#1a1716"/>
<circle cx="1739.6" cy="193.22" r="4.1" fill="#1a1716"/>
<circle cx="1745.48" cy="193.22" r="4.1" fill="#1a1716"/>
<circle cx="1751.58" cy="193.22" r="4.1" fill="#1a1716"/>
<circle cx="1759.94" cy="193.22" r="4.1" fill="#1a1716"/>
<circle cx="1766.27" cy="193.22" r="4.1" fill="#1a1716"/>
<circle cx="1775.76" cy="193.22" r="4.1" fill="#1a1716"/>
<circle cx="1787.74" cy="193.22" r="4.1" fill="#1a1716"/>
<circle cx="1770.79" cy="197.74" r="4.1" fill="#1a1716"/>
<circle cx="1750.9" cy="201.13" r="4.1" fill="#1a1716"/>
<circle cx="1754.97" cy="201.13" r="4.1" fill="#1a1716"/>
<circle cx="1763.56" cy="202.26" r="4.1" fill="#1a1716"/>
<circle cx="1820.96" cy="197.74" r="4.1" fill="#1a1716"/>
<circle cx="1834.52" cy="193.22" r="4.1" fill="#1a1716"/>
<circle cx="1936.89" cy="193.22" r="4.1" fill="#1a1716"/>
<circle cx="1713.16" cy="201.81" r="4.1" fill="#1a1716"/>
<circle cx="1741.86" cy="206.78" r="4.1" fill="#1a1716"/>
<circle cx="1754.97" cy="206.1" r="4.1" fill="#1a1716"/>
<circle cx="1745.93" cy="211.3" r="4.1" fill="#1a1716"/>
<circle cx="1740.28" cy="210.17" r="4.1" fill="#1a1716"/>
<circle cx="1743.67" cy="214.69" r="4.1" fill="#1a1716"/>
<circle cx="1784.8" cy="211.3" r="4.1" fill="#1a1716"/>
<circle cx="1835.2" cy="211.3" r="4.1" fill="#1a1716"/>
<circle cx="1939.83" cy="211.3" r="4.1" fill="#1a1716"/>
<circle cx="1813.73" cy="215.37" r="4.1" fill="#1a1716"/>
<circle cx="1825.03" cy="215.37" r="4.1" fill="#1a1716"/>
<circle cx="1867.51" cy="215.37" r="4.1" fill="#1a1716"/>
<circle cx="1835.2" cy="219.89" r="4.1" fill="#1a1716"/>
<circle cx="1750.9" cy="219.66" r="4.1" fill="#1a1716"/>
<circle cx="1748.19" cy="224.18" r="4.1" fill="#1a1716"/>
<circle cx="1756.1" cy="224.18" r="4.1" fill="#1a1716"/>
<circle cx="1731.92" cy="224.18" r="4.1" fill="#1a1716"/>
<circle cx="1785.48" cy="224.41" r="4.1" fill="#1a1716"/>
<circle cx="1735.76" cy="232.77" r="4.1" fill="#1a1716"/>
<circle cx="1748.19" cy="232.77" r="4.1" fill="#1a1716"/>
<circle cx="1782.54" cy="232.77" r="4.1" fill="#1a1716"/>
<circle cx="1727.85" cy="241.81" r="4.1" fill="#1a1716"/>
<circle cx="1733.5" cy="241.81" r="4.1" fill="#1a1716"/>
<circle cx="1739.15" cy="241.81" r="4.1" fill="#1a1716"/>
<circle cx="1743.67" cy="241.81" r="4.1" fill="#1a1716"/>
<circle cx="1752.26" cy="241.81" r="4.1" fill="#1a1716"/>
<circle cx="1758.36" cy="241.81" r="4.1" fill="#1a1716"/>
<circle cx="1777.12" cy="241.81" r="4.1" fill="#1a1716"/>
<circle cx="1725.59" cy="250.85" r="4.1" fill="#1a1716"/>
<circle cx="1738.02" cy="263.95" r="4.1" fill="#1a1716"/>
<circle cx="1744.8" cy="263.95" r="4.1" fill="#1a1716"/>
<circle cx="1748.19" cy="263.95" r="4.1" fill="#1a1716"/>
<circle cx="1723.33" cy="281.81" r="4.1" fill="#1a1716"/>
<circle cx="1750.45" cy="281.81" r="4.1" fill="#1a1716"/>
<circle cx="1789.32" cy="281.81" r="4.1" fill="#1a1716"/>
<circle cx="1869.77" cy="179.66" r="4.1" fill="#1a1716"/>
<line x1="1712.03" y1="219.66" x2="1940.28" y2="166.55" stroke="#231f20" stroke-width="1.8" />
<text transform="translate(1860.69 254.87) scale(0.936 1)" font-size="23.24" fill="#231f20" >r=0.2610</text>
<text transform="translate(1860.69 281.25) scale(0.942 1)" font-size="23.08" fill="#231f20" >p=0.0186</text>
<text x="30" y="425" font-size="48" text-anchor="start" font-weight="bold" fill="#111" >f</text>
<line x1="144.9" y1="436.2" x2="144.9" y2="726.1" stroke="#231f20" stroke-width="2" />
<line x1="133.2" y1="725.9" x2="144.9" y2="725.9" stroke="#231f20" stroke-width="2" />
<line x1="133.2" y1="653.6" x2="144.9" y2="653.6" stroke="#231f20" stroke-width="2" />
<line x1="133.2" y1="581.3" x2="144.9" y2="581.3" stroke="#231f20" stroke-width="2" />
<line x1="133.2" y1="509" x2="144.9" y2="509" stroke="#231f20" stroke-width="2" />
<line x1="133.2" y1="436.7" x2="144.9" y2="436.7" stroke="#231f20" stroke-width="2" />
<text transform="translate(105.31 734.25) scale(1.040 1)" font-size="24.20" fill="#231f20" >0</text>
<text transform="translate(105.44 661.83) scale(1.040 1)" font-size="24.20" fill="#231f20" >5</text>
<text transform="translate(91.34 589.65) scale(1.040 1)" font-size="24.20" fill="#231f20" >10</text>
<text transform="translate(91.47 517.23) scale(1.040 1)" font-size="24.20" fill="#231f20" >15</text>
<text transform="translate(91.34 445.05) scale(1.040 1)" font-size="24.20" fill="#231f20" >20</text>
<line x1="133" y1="726.1" x2="424" y2="726.1" stroke="#231f20" stroke-width="2" />
<line x1="144.7" y1="726.1" x2="144.7" y2="737.6" stroke="#231f20" stroke-width="2" />
<line x1="214.3" y1="726.1" x2="214.3" y2="737.6" stroke="#231f20" stroke-width="2" />
<line x1="284" y1="726.1" x2="284" y2="737.6" stroke="#231f20" stroke-width="2" />
<line x1="353.9" y1="726.1" x2="353.9" y2="737.6" stroke="#231f20" stroke-width="2" />
<line x1="423.5" y1="726.1" x2="423.5" y2="737.6" stroke="#231f20" stroke-width="2" />
<text transform="translate(133.16 768.56)" font-size="25.80" fill="#231f20" >10</text>
<text transform="translate(196.49 768.56)" font-size="25.80" fill="#231f20" >20</text>
<text transform="translate(267.32 768.56)" font-size="25.80" fill="#231f20" >30</text>
<text transform="translate(337.77 768.56)" font-size="25.80" fill="#231f20" >40</text>
<text transform="translate(408.12 768.56)" font-size="25.80" fill="#231f20" >50</text>
<text transform="translate(196.47 800.23) scale(1.030 1)" font-size="22.25" fill="#231f20" >Parvalbumin (ng/ml)</text>
<text transform="translate(73.62 644.37) rotate(-90) scale(0.979 1)" font-size="25.13" fill="#231f20" >FBG (mmol/L)</text>
<circle cx="174.93" cy="506.31" r="4.3" fill="#1a1716"/>
<circle cx="188.23" cy="506.31" r="4.3" fill="#1a1716"/>
<circle cx="197.72" cy="506.31" r="4.3" fill="#1a1716"/>
<circle cx="182.06" cy="542.39" r="4.3" fill="#1a1716"/>
<circle cx="199.38" cy="545.47" r="4.3" fill="#1a1716"/>
<circle cx="269.4" cy="540.96" r="4.3" fill="#1a1716"/>
<circle cx="285.54" cy="525.3" r="4.3" fill="#1a1716"/>
<circle cx="170.9" cy="577.51" r="4.3" fill="#1a1716"/>
<circle cx="179.68" cy="577.51" r="4.3" fill="#1a1716"/>
<circle cx="201.76" cy="581.55" r="4.3" fill="#1a1716"/>
<circle cx="247.33" cy="575.14" r="4.3" fill="#1a1716"/>
<circle cx="395.21" cy="573.95" r="4.3" fill="#1a1716"/>
<circle cx="217.9" cy="586.53" r="4.3" fill="#1a1716"/>
<circle cx="221.93" cy="592.94" r="4.3" fill="#1a1716"/>
<circle cx="230.24" cy="587.01" r="4.3" fill="#1a1716"/>
<circle cx="151.91" cy="596.98" r="4.3" fill="#1a1716"/>
<circle cx="193.45" cy="593.42" r="4.3" fill="#1a1716"/>
<circle cx="194.64" cy="598.88" r="4.3" fill="#1a1716"/>
<circle cx="207.22" cy="600.06" r="4.3" fill="#1a1716"/>
<circle cx="214.81" cy="608.37" r="4.3" fill="#1a1716"/>
<circle cx="186.33" cy="610.27" r="4.3" fill="#1a1716"/>
<circle cx="192.26" cy="609.56" r="4.3" fill="#1a1716"/>
<circle cx="197.72" cy="606.47" r="4.3" fill="#1a1716"/>
<circle cx="229.05" cy="613.12" r="4.3" fill="#1a1716"/>
<circle cx="234.99" cy="607.18" r="4.3" fill="#1a1716"/>
<circle cx="237.36" cy="617.87" r="4.3" fill="#1a1716"/>
<circle cx="204.13" cy="618.58" r="4.3" fill="#1a1716"/>
<circle cx="208.17" cy="616.68" r="4.3" fill="#1a1716"/>
<circle cx="166.15" cy="627.36" r="4.3" fill="#1a1716"/>
<circle cx="191.55" cy="621.43" r="4.3" fill="#1a1716"/>
<circle cx="194.64" cy="629.02" r="4.3" fill="#1a1716"/>
<circle cx="208.4" cy="629.02" r="4.3" fill="#1a1716"/>
<circle cx="251.6" cy="625.7" r="4.3" fill="#1a1716"/>
<circle cx="261.1" cy="629.02" r="4.3" fill="#1a1716"/>
<circle cx="230.24" cy="630.45" r="4.3" fill="#1a1716"/>
<circle cx="285.54" cy="595.32" r="4.3" fill="#1a1716"/>
<circle cx="283.65" cy="600.06" r="4.3" fill="#1a1716"/>
<circle cx="320.44" cy="594.6" r="4.3" fill="#1a1716"/>
<circle cx="398.77" cy="594.6" r="4.3" fill="#1a1716"/>
<circle cx="322.1" cy="614.54" r="4.3" fill="#1a1716"/>
<circle cx="180.87" cy="635.19" r="4.3" fill="#1a1716"/>
<circle cx="206.5" cy="638.75" r="4.3" fill="#1a1716"/>
<circle cx="214.81" cy="638.04" r="4.3" fill="#1a1716"/>
<circle cx="226.68" cy="638.75" r="4.3" fill="#1a1716"/>
<circle cx="231.43" cy="642.08" r="4.3" fill="#1a1716"/>
<circle cx="243.29" cy="636.85" r="4.3" fill="#1a1716"/>
<circle cx="251.6" cy="634.96" r="4.3" fill="#1a1716"/>
<circle cx="239.02" cy="646.82" r="4.3" fill="#1a1716"/>
<circle cx="274.15" cy="645.64" r="4.3" fill="#1a1716"/>
<circle cx="163.3" cy="652.28" r="4.3" fill="#1a1716"/>
<circle cx="170.9" cy="655.84" r="4.3" fill="#1a1716"/>
<circle cx="179.21" cy="657.03" r="4.3" fill="#1a1716"/>
<circle cx="185.14" cy="647.54" r="4.3" fill="#1a1716"/>
<circle cx="189.89" cy="643.98" r="4.3" fill="#1a1716"/>
<circle cx="187.51" cy="649.91" r="4.3" fill="#1a1716"/>
<circle cx="193.45" cy="647.54" r="4.3" fill="#1a1716"/>
<circle cx="183.95" cy="652.28" r="4.3" fill="#1a1716"/>
<circle cx="189.89" cy="653.47" r="4.3" fill="#1a1716"/>
<circle cx="201.28" cy="651.1" r="4.3" fill="#1a1716"/>
<circle cx="208.88" cy="658.22" r="4.3" fill="#1a1716"/>
<circle cx="221.93" cy="655.84" r="4.3" fill="#1a1716"/>
<circle cx="227.87" cy="659.88" r="4.3" fill="#1a1716"/>
<circle cx="169" cy="664.15" r="4.3" fill="#1a1716"/>
<circle cx="174.46" cy="668.9" r="4.3" fill="#1a1716"/>
<circle cx="185.14" cy="667.71" r="4.3" fill="#1a1716"/>
<circle cx="195.11" cy="661.78" r="4.3" fill="#1a1716"/>
<circle cx="182.77" cy="671.98" r="4.3" fill="#1a1716"/>
<circle cx="189.89" cy="673.65" r="4.3" fill="#1a1716"/>
<circle cx="229.77" cy="668.42" r="4.3" fill="#1a1716"/>
<line x1="151.91" y1="632.58" x2="398.77" y2="582.74" stroke="#231f20" stroke-width="1.8" />
<text transform="translate(312.68 666.96) scale(0.986 1)" font-size="23.66" fill="#231f20" >r=0.2277</text>
<text transform="translate(312.67 695.58) scale(1.008 1)" font-size="23.41" fill="#231f20" >p=0.0409</text>
<text x="439" y="427" font-size="48" text-anchor="start" font-weight="bold" fill="#111" >g</text>
<line x1="554.3" y1="424.6" x2="554.3" y2="726.1" stroke="#231f20" stroke-width="2.6" />
<line x1="542" y1="425.3" x2="554.3" y2="425.3" stroke="#231f20" stroke-width="2.6" />
<line x1="542" y1="525.7" x2="554.3" y2="525.7" stroke="#231f20" stroke-width="2.6" />
<line x1="542" y1="626.1" x2="554.3" y2="626.1" stroke="#231f20" stroke-width="2.6" />
<line x1="542" y1="726.5" x2="554.3" y2="726.5" stroke="#231f20" stroke-width="2.6" />
<text transform="translate(527.33 433.03)" font-size="23.50" fill="#231f20" >2</text>
<text transform="translate(526.98 533.31)" font-size="23.50" fill="#231f20" >0</text>
<text transform="translate(519.46 633.83)" font-size="23.50" fill="#231f20" >-2</text>
<text transform="translate(518.99 734.11)" font-size="23.50" fill="#231f20" >-4</text>
<line x1="553" y1="726.1" x2="860.3" y2="726.1" stroke="#231f20" stroke-width="2.6" />
<line x1="582.2" y1="726.1" x2="582.2" y2="738.1" stroke="#231f20" stroke-width="2.6" />
<line x1="624.2" y1="726.1" x2="624.2" y2="738.1" stroke="#231f20" stroke-width="2.6" />
<line x1="666" y1="726.1" x2="666" y2="738.1" stroke="#231f20" stroke-width="2.6" />
<line x1="707.8" y1="726.1" x2="707.8" y2="738.1" stroke="#231f20" stroke-width="2.6" />
<line x1="749.6" y1="726.1" x2="749.6" y2="738.1" stroke="#231f20" stroke-width="2.6" />
<line x1="791.1" y1="726.1" x2="791.1" y2="738.1" stroke="#231f20" stroke-width="2.6" />
<line x1="832.4" y1="726.1" x2="832.4" y2="738.1" stroke="#231f20" stroke-width="2.6" />
<text transform="translate(575.37 757.7)" font-size="22.00" fill="#231f20" >1</text>
<text transform="translate(617.1 757.7)" font-size="22.00" fill="#231f20" >3</text>
<text transform="translate(659 757.7)" font-size="22.00" fill="#231f20" >5</text>
<text transform="translate(701.69 757.7)" font-size="22.00" fill="#231f20" >7</text>
<text transform="translate(743.29 757.7)" font-size="22.00" fill="#231f20" >9</text>
<text transform="translate(775.18 757.7)" font-size="22.00" fill="#231f20" >11</text>
<text transform="translate(820.9 757.7)" font-size="22.00" fill="#231f20" >13</text>
<text transform="translate(653.38 780.38) scale(1.042 1)" font-size="20.11" fill="#231f20" >Time (days)</text>
<text transform="translate(511.5 669.3) rotate(-90) scale(1.179 1)" font-size="21.93" fill="#231f20" >weight gain (g)</text>
<polyline points="582.36,525.67 623.28,514.62 666.3,526.37 707.45,524.49 749.07,534.6 790.92,528.73 832.77,541.66" fill="none" stroke="#c6a6d8" stroke-width="2.4" stroke-linejoin="miter" />
<rect x="578.11" y="521.42" width="8.5" height="8.5" fill="#c6a6d8" />
<line x1="623.28" y1="498.16" x2="623.28" y2="531.08" stroke="#c6a6d8" stroke-width="2.2" />
<line x1="617.78" y1="498.16" x2="628.78" y2="498.16" stroke="#c6a6d8" stroke-width="2.2" />
<line x1="617.78" y1="531.08" x2="628.78" y2="531.08" stroke="#c6a6d8" stroke-width="2.2" />
<rect x="619.03" y="510.37" width="8.5" height="8.5" fill="#c6a6d8" />
<line x1="666.3" y1="516.97" x2="666.3" y2="538.13" stroke="#c6a6d8" stroke-width="2.2" />
<line x1="660.8" y1="516.97" x2="671.8" y2="516.97" stroke="#c6a6d8" stroke-width="2.2" />
<line x1="660.8" y1="538.13" x2="671.8" y2="538.13" stroke="#c6a6d8" stroke-width="2.2" />
<rect x="662.05" y="522.12" width="8.5" height="8.5" fill="#c6a6d8" />
<line x1="707.45" y1="507.56" x2="707.45" y2="541.66" stroke="#c6a6d8" stroke-width="2.2" />
<line x1="701.95" y1="507.56" x2="712.95" y2="507.56" stroke="#c6a6d8" stroke-width="2.2" />
<line x1="701.95" y1="541.66" x2="712.95" y2="541.66" stroke="#c6a6d8" stroke-width="2.2" />
<rect x="703.2" y="520.24" width="8.5" height="8.5" fill="#c6a6d8" />
<line x1="749.07" y1="513.44" x2="749.07" y2="554.59" stroke="#c6a6d8" stroke-width="2.2" />
<line x1="743.57" y1="513.44" x2="754.57" y2="513.44" stroke="#c6a6d8" stroke-width="2.2" />
<line x1="743.57" y1="554.59" x2="754.57" y2="554.59" stroke="#c6a6d8" stroke-width="2.2" />
<rect x="744.82" y="530.35" width="8.5" height="8.5" fill="#c6a6d8" />
<line x1="790.92" y1="524.02" x2="790.92" y2="544.01" stroke="#c6a6d8" stroke-width="2.2" />
<line x1="785.42" y1="524.02" x2="796.42" y2="524.02" stroke="#c6a6d8" stroke-width="2.2" />
<line x1="785.42" y1="544.01" x2="796.42" y2="544.01" stroke="#c6a6d8" stroke-width="2.2" />
<rect x="786.67" y="524.48" width="8.5" height="8.5" fill="#c6a6d8" />
<line x1="832.77" y1="524.02" x2="832.77" y2="560.47" stroke="#c6a6d8" stroke-width="2.2" />
<line x1="827.27" y1="524.02" x2="838.27" y2="524.02" stroke="#c6a6d8" stroke-width="2.2" />
<line x1="827.27" y1="560.47" x2="838.27" y2="560.47" stroke="#c6a6d8" stroke-width="2.2" />
<rect x="828.52" y="537.41" width="8.5" height="8.5" fill="#c6a6d8" />
<polyline points="582.36,525.67 623.28,518.85 666.3,524.49 707.45,529.2 749.07,536.96 790.92,531.08 832.77,535.78" fill="none" stroke="#231f20" stroke-width="2.4" stroke-linejoin="miter" />
<rect x="578.11" y="521.42" width="8.5" height="8.5" fill="#231f20" />
<line x1="623.28" y1="506.86" x2="623.28" y2="531.78" stroke="#231f20" stroke-width="2.2" />
<line x1="617.78" y1="506.86" x2="628.78" y2="506.86" stroke="#231f20" stroke-width="2.2" />
<line x1="617.78" y1="531.78" x2="628.78" y2="531.78" stroke="#231f20" stroke-width="2.2" />
<rect x="619.03" y="514.6" width="8.5" height="8.5" fill="#231f20" />
<line x1="666.3" y1="512.74" x2="666.3" y2="535.78" stroke="#231f20" stroke-width="2.2" />
<line x1="660.8" y1="512.74" x2="671.8" y2="512.74" stroke="#231f20" stroke-width="2.2" />
<line x1="660.8" y1="535.78" x2="671.8" y2="535.78" stroke="#231f20" stroke-width="2.2" />
<rect x="662.05" y="520.24" width="8.5" height="8.5" fill="#231f20" />
<line x1="707.45" y1="513.44" x2="707.45" y2="545.18" stroke="#231f20" stroke-width="2.2" />
<line x1="701.95" y1="513.44" x2="712.95" y2="513.44" stroke="#231f20" stroke-width="2.2" />
<line x1="701.95" y1="545.18" x2="712.95" y2="545.18" stroke="#231f20" stroke-width="2.2" />
<rect x="703.2" y="524.95" width="8.5" height="8.5" fill="#231f20" />
<line x1="749.07" y1="520.97" x2="749.07" y2="552.24" stroke="#231f20" stroke-width="2.2" />
<line x1="743.57" y1="520.97" x2="754.57" y2="520.97" stroke="#231f20" stroke-width="2.2" />
<line x1="743.57" y1="552.24" x2="754.57" y2="552.24" stroke="#231f20" stroke-width="2.2" />
<rect x="744.82" y="532.71" width="8.5" height="8.5" fill="#231f20" />
<line x1="790.92" y1="512.27" x2="790.92" y2="549.89" stroke="#231f20" stroke-width="2.2" />
<line x1="785.42" y1="512.27" x2="796.42" y2="512.27" stroke="#231f20" stroke-width="2.2" />
<line x1="785.42" y1="549.89" x2="796.42" y2="549.89" stroke="#231f20" stroke-width="2.2" />
<rect x="786.67" y="526.83" width="8.5" height="8.5" fill="#231f20" />
<line x1="832.77" y1="516.97" x2="832.77" y2="553.41" stroke="#231f20" stroke-width="2.2" />
<line x1="827.27" y1="516.97" x2="838.27" y2="516.97" stroke="#231f20" stroke-width="2.2" />
<line x1="827.27" y1="553.41" x2="838.27" y2="553.41" stroke="#231f20" stroke-width="2.2" />
<rect x="828.52" y="531.53" width="8.5" height="8.5" fill="#231f20" />
<polyline points="582.36,525.67 623.28,551.3 666.3,561.64 707.45,579.98 749.07,579.28 790.92,596.91 832.77,606.79" fill="none" stroke="#9873b8" stroke-width="2.4" stroke-linejoin="miter" />
<rect x="578.11" y="521.42" width="8.5" height="8.5" fill="#9873b8" />
<line x1="623.28" y1="540.01" x2="623.28" y2="562.82" stroke="#9873b8" stroke-width="2.2" />
<line x1="617.78" y1="540.01" x2="628.78" y2="540.01" stroke="#9873b8" stroke-width="2.2" />
<line x1="617.78" y1="562.82" x2="628.78" y2="562.82" stroke="#9873b8" stroke-width="2.2" />
<rect x="619.03" y="547.05" width="8.5" height="8.5" fill="#9873b8" />
<line x1="666.3" y1="552.71" x2="666.3" y2="571.05" stroke="#9873b8" stroke-width="2.2" />
<line x1="660.8" y1="552.71" x2="671.8" y2="552.71" stroke="#9873b8" stroke-width="2.2" />
<line x1="660.8" y1="571.05" x2="671.8" y2="571.05" stroke="#9873b8" stroke-width="2.2" />
<rect x="662.05" y="557.39" width="8.5" height="8.5" fill="#9873b8" />
<line x1="707.45" y1="572.22" x2="707.45" y2="588.68" stroke="#9873b8" stroke-width="2.2" />
<line x1="701.95" y1="572.22" x2="712.95" y2="572.22" stroke="#9873b8" stroke-width="2.2" />
<line x1="701.95" y1="588.68" x2="712.95" y2="588.68" stroke="#9873b8" stroke-width="2.2" />
<rect x="703.2" y="575.73" width="8.5" height="8.5" fill="#9873b8" />
<line x1="749.07" y1="571.05" x2="749.07" y2="587.51" stroke="#9873b8" stroke-width="2.2" />
<line x1="743.57" y1="571.05" x2="754.57" y2="571.05" stroke="#9873b8" stroke-width="2.2" />
<line x1="743.57" y1="587.51" x2="754.57" y2="587.51" stroke="#9873b8" stroke-width="2.2" />
<rect x="744.82" y="575.03" width="8.5" height="8.5" fill="#9873b8" />
<line x1="790.92" y1="589.39" x2="790.92" y2="605.14" stroke="#9873b8" stroke-width="2.2" />
<line x1="785.42" y1="589.39" x2="796.42" y2="589.39" stroke="#9873b8" stroke-width="2.2" />
<line x1="785.42" y1="605.14" x2="796.42" y2="605.14" stroke="#9873b8" stroke-width="2.2" />
<rect x="786.67" y="592.66" width="8.5" height="8.5" fill="#9873b8" />
<line x1="832.77" y1="597.62" x2="832.77" y2="616.19" stroke="#9873b8" stroke-width="2.2" />
<line x1="827.27" y1="597.62" x2="838.27" y2="597.62" stroke="#9873b8" stroke-width="2.2" />
<line x1="827.27" y1="616.19" x2="838.27" y2="616.19" stroke="#9873b8" stroke-width="2.2" />
<rect x="828.52" y="602.54" width="8.5" height="8.5" fill="#9873b8" />
<polyline points="582.36,525.67 623.28,554.12 666.3,575.75 707.45,583.51 749.07,600.44 790.92,613.37 832.77,634.53" fill="none" stroke="#5b2a8b" stroke-width="2.4" stroke-linejoin="miter" />
<rect x="578.11" y="521.42" width="8.5" height="8.5" fill="#5b2a8b" />
<line x1="623.28" y1="548.01" x2="623.28" y2="561.17" stroke="#5b2a8b" stroke-width="2.2" />
<line x1="617.78" y1="548.01" x2="628.78" y2="548.01" stroke="#5b2a8b" stroke-width="2.2" />
<line x1="617.78" y1="561.17" x2="628.78" y2="561.17" stroke="#5b2a8b" stroke-width="2.2" />
<rect x="619.03" y="549.87" width="8.5" height="8.5" fill="#5b2a8b" />
<line x1="666.3" y1="566.35" x2="666.3" y2="587.04" stroke="#5b2a8b" stroke-width="2.2" />
<line x1="660.8" y1="566.35" x2="671.8" y2="566.35" stroke="#5b2a8b" stroke-width="2.2" />
<line x1="660.8" y1="587.04" x2="671.8" y2="587.04" stroke="#5b2a8b" stroke-width="2.2" />
<rect x="662.05" y="571.5" width="8.5" height="8.5" fill="#5b2a8b" />
<line x1="707.45" y1="575.75" x2="707.45" y2="591.5" stroke="#5b2a8b" stroke-width="2.2" />
<line x1="701.95" y1="575.75" x2="712.95" y2="575.75" stroke="#5b2a8b" stroke-width="2.2" />
<line x1="701.95" y1="591.5" x2="712.95" y2="591.5" stroke="#5b2a8b" stroke-width="2.2" />
<rect x="703.2" y="579.26" width="8.5" height="8.5" fill="#5b2a8b" />
<line x1="749.07" y1="591.74" x2="749.07" y2="608.67" stroke="#5b2a8b" stroke-width="2.2" />
<line x1="743.57" y1="591.74" x2="754.57" y2="591.74" stroke="#5b2a8b" stroke-width="2.2" />
<line x1="743.57" y1="608.67" x2="754.57" y2="608.67" stroke="#5b2a8b" stroke-width="2.2" />
<rect x="744.82" y="596.19" width="8.5" height="8.5" fill="#5b2a8b" />
<line x1="790.92" y1="609.84" x2="790.92" y2="616.9" stroke="#5b2a8b" stroke-width="2.2" />
<line x1="785.42" y1="609.84" x2="796.42" y2="609.84" stroke="#5b2a8b" stroke-width="2.2" />
<line x1="785.42" y1="616.9" x2="796.42" y2="616.9" stroke="#5b2a8b" stroke-width="2.2" />
<rect x="786.67" y="609.12" width="8.5" height="8.5" fill="#5b2a8b" />
<line x1="832.77" y1="629.83" x2="832.77" y2="638.77" stroke="#5b2a8b" stroke-width="2.2" />
<line x1="827.27" y1="629.83" x2="838.27" y2="629.83" stroke="#5b2a8b" stroke-width="2.2" />
<line x1="827.27" y1="638.77" x2="838.27" y2="638.77" stroke="#5b2a8b" stroke-width="2.2" />
<rect x="828.52" y="630.28" width="8.5" height="8.5" fill="#5b2a8b" />
<line x1="569.8" y1="642.3" x2="598.7" y2="642.3" stroke="#231f20" stroke-width="2.4" />
<rect x="580.75" y="638.55" width="7.5" height="7.5" fill="#231f20" />
<text transform="translate(613.22 649.03)" font-size="16.87" fill="#231f20" >Vehicle</text>
<line x1="569.8" y1="662.3" x2="598.7" y2="662.3" stroke="#c6a6d8" stroke-width="2.4" />
<rect x="580.75" y="658.55" width="7.5" height="7.5" fill="#c6a6d8" />
<text transform="translate(611.98 669.25) scale(0.975 1)" font-size="16.90" fill="#231f20" >Parvalbumin blocker  (1mg/kg)</text>
<line x1="569.8" y1="682.8" x2="598.7" y2="682.8" stroke="#9873b8" stroke-width="2.4" />
<rect x="580.75" y="679.05" width="7.5" height="7.5" fill="#9873b8" />
<text transform="translate(611.98 689.47) scale(0.982 1)" font-size="16.79" fill="#231f20" >Parvalbumin blocker  (5mg/kg)</text>
<line x1="569.8" y1="702.8" x2="598.7" y2="702.8" stroke="#5b2a8b" stroke-width="2.4" />
<rect x="580.75" y="699.05" width="7.5" height="7.5" fill="#5b2a8b" />
<text transform="translate(611.98 709.21) scale(0.963 1)" font-size="17.11" fill="#231f20" >Parvalbumin blocker  (10mg/kg)</text>
<line x1="850.2" y1="530.4" x2="850.2" y2="611" stroke="#231f20" stroke-width="1.6" />
<text x="851" y="570" font-size="21" text-anchor="middle" transform="rotate(90 851 570)" fill="#231f20" >***</text>
<line x1="872" y1="531" x2="872" y2="639.2" stroke="#231f20" stroke-width="1.6" />
<text x="872.5" y="584" font-size="21" text-anchor="middle" transform="rotate(90 872.5 584)" fill="#231f20" >***</text>
<text x="909" y="436" font-size="48" text-anchor="start" font-weight="bold" fill="#111" >i</text>
<line x1="1066.2" y1="444.4" x2="1066.2" y2="717.2" stroke="#231f20" stroke-width="2" />
<line x1="1053.2" y1="717.2" x2="1066.2" y2="717.2" stroke="#231f20" stroke-width="2" />
<line x1="1053.2" y1="662.64" x2="1066.2" y2="662.64" stroke="#231f20" stroke-width="2" />
<line x1="1053.2" y1="608.08" x2="1066.2" y2="608.08" stroke="#231f20" stroke-width="2" />
<line x1="1053.2" y1="553.52" x2="1066.2" y2="553.52" stroke="#231f20" stroke-width="2" />
<line x1="1053.2" y1="498.96" x2="1066.2" y2="498.96" stroke="#231f20" stroke-width="2" />
<line x1="1053.2" y1="444.4" x2="1066.2" y2="444.4" stroke="#231f20" stroke-width="2" />
<text transform="translate(1013.77 726.3) scale(0.970 1)" font-size="30.00" fill="#231f20" >3.0</text>
<text transform="translate(1013.92 671.74) scale(0.970 1)" font-size="30.00" fill="#231f20" >3.5</text>
<text transform="translate(1013.77 617.18) scale(0.970 1)" font-size="30.00" fill="#231f20" >4.0</text>
<text transform="translate(1013.92 562.47) scale(0.970 1)" font-size="30.00" fill="#231f20" >4.5</text>
<text transform="translate(1013.77 508.06) scale(0.970 1)" font-size="30.00" fill="#231f20" >5.0</text>
<text transform="translate(1013.92 453.35) scale(0.970 1)" font-size="30.00" fill="#231f20" >5.5</text>
<line x1="1053" y1="717.2" x2="1287.9" y2="717.2" stroke="#231f20" stroke-width="2" />
<rect x="1099.1" y="565.3" width="67.9" height="151.9" fill="#1d1a19" />
<rect x="1187.6" y="645.9" width="66.6" height="71" fill="#a48abc" stroke="#231f20" stroke-width="1.8" />
<line x1="1133" y1="546.6" x2="1133" y2="565.3" stroke="#231f20" stroke-width="1.8" />
<line x1="1115.8" y1="546.6" x2="1150.5" y2="546.6" stroke="#231f20" stroke-width="1.8" />
<line x1="1220.5" y1="638.3" x2="1220.5" y2="645.9" stroke="#231f20" stroke-width="1.8" />
<line x1="1203" y1="638.3" x2="1237.4" y2="638.3" stroke="#231f20" stroke-width="1.8" />
<circle cx="1132.7" cy="489.12" r="4.3" fill="#fff" stroke="#231f20" stroke-width="1.5"/>
<circle cx="1132.7" cy="543.31" r="4.3" fill="#fff" stroke="#231f20" stroke-width="1.5"/>
<circle cx="1132.7" cy="560.22" r="4.3" fill="#fff" stroke="#231f20" stroke-width="1.5"/>
<circle cx="1132.7" cy="584.07" r="4.3" fill="#fff" stroke="#1d1a19" stroke-width="1.5"/>
<circle cx="1126.22" cy="599.12" r="4.3" fill="#fff" stroke="#1d1a19" stroke-width="1.5"/>
<circle cx="1139.19" cy="611.63" r="4.3" fill="#fff" stroke="#1d1a19" stroke-width="1.5"/>
<circle cx="1220.71" cy="622.75" r="4.3" fill="#a084c2" stroke="#231f20" stroke-width="1.5"/>
<circle cx="1209.59" cy="630.85" r="4.3" fill="#a084c2" stroke="#231f20" stroke-width="1.5"/>
<circle cx="1231.59" cy="638.96" r="4.3" fill="#a084c2" stroke="#231f20" stroke-width="1.5"/>
<circle cx="1198.01" cy="649.38" r="4.3" fill="#8a6ab0" stroke="#231f20" stroke-width="1.5"/>
<circle cx="1220.71" cy="660.5" r="4.3" fill="#8a6ab0" stroke="#231f20" stroke-width="1.5"/>
<circle cx="1242.48" cy="664.43" r="4.3" fill="#8a6ab0" stroke="#231f20" stroke-width="1.5"/>
<polyline points="1132.7,473.4 1132.7,455.5 1223.5,455.5 1223.5,473.4" fill="none" stroke="#231f20" stroke-width="1.8" stroke-linejoin="miter" />
<text transform="translate(1111.46 445.5) scale(0.985 1)" font-size="31.74" font-style="italic" fill="#231f20" >P</text>
<text transform="translate(1139.56 444.02) scale(1.009 1)" font-size="28.62" fill="#231f20" >=</text>
<text transform="translate(1164.72 445.19) scale(0.955 1)" font-size="30.85" fill="#231f20" >0.0020</text>
<text transform="translate(993.5 702.78) rotate(-90) scale(0.977 1)" font-size="29.52" fill="#231f20" >Triglyceride (mmol/L)</text>
<circle cx="1067.6" cy="742" r="4.8" fill="#fff" stroke="#231f20" stroke-width="1.6"/>
<text transform="translate(1089.39 751.18) scale(0.987 1)" font-size="22.31" fill="#231f20" >Vehicle</text>
<circle cx="1067.6" cy="773.8" r="4.8" fill="#a48abc" stroke="#231f20" stroke-width="1.6"/>
<text transform="translate(1088.43 782.57) scale(0.968 1)" font-size="22.86" fill="#231f20" >Parvalbumin blocker</text>
<text x="1374" y="436" font-size="48" text-anchor="start" font-weight="bold" fill="#111" >j</text>
<text transform="translate(1517.84 502.89) scale(1.046 1)" font-size="30.88" fill="#231f20" >Vehicle</text>
<text transform="translate(1709.66 502.89) scale(1.028 1)" font-size="30.88" fill="#231f20" >Parvalbumin blocker</text>
<text transform="translate(1323.7 641.42) scale(1.024 1)" font-size="37.82" fill="#231f20" >Liver</text>
<clipPath id="cliplva"><rect x="1423.8" y="512.4" width="283.3" height="235.4"/></clipPath>
<g clip-path="url(#cliplva)">
<rect x="1423.8" y="512.4" width="283.3" height="235.4" fill="#d2b0b0" />
<filter id="ltlva" x="1423.8" y="512.4" width="283.3" height="235.4" filterUnits="userSpaceOnUse"><feTurbulence type="fractalNoise" baseFrequency="0.42" numOctaves="2" seed="4" result="n"/><feColorMatrix in="n" type="matrix" values="0 0 0 0 0.72  0 0 0 0 0.26  0 0 0 0 0.25  3.6 0 0 0 -1.75" result="r"/><feColorMatrix in="n" type="matrix" values="0 0 0 0 0.96  0 0 0 0 0.94  0 0 0 0 0.94  0 3.6 0 0 -2.232" result="wt"/><feMerge><feMergeNode in="r"/><feMergeNode in="wt"/></feMerge></filter>
<rect x="1423.8" y="512.4" width="283.3" height="235.4" fill="#fff" filter="url(#ltlva)"/>
<path d="M1468.5,674.8a2.1,2.1 0 1,0 4.1,0a2.1,2.1 0 1,0 -4.1,0M1557.1,563.2a2.4,2.4 0 1,0 4.9,0a2.4,2.4 0 1,0 -4.9,0M1650.9,633.0a1.8,1.8 0 1,0 3.6,0a1.8,1.8 0 1,0 -3.6,0M1489.1,513.1a1.5,1.5 0 1,0 3.1,0a1.5,1.5 0 1,0 -3.1,0M1587.2,528.7a2.4,2.4 0 1,0 4.9,0a2.4,2.4 0 1,0 -4.9,0M1488.5,567.2a1.1,1.1 0 1,0 2.2,0a1.1,1.1 0 1,0 -2.2,0M1703.8,686.3a2.7,2.7 0 1,0 5.3,0a2.7,2.7 0 1,0 -5.3,0M1596.8,520.4a1.5,1.5 0 1,0 2.9,0a1.5,1.5 0 1,0 -2.9,0M1561.9,539.7a2.9,2.9 0 1,0 5.7,0a2.9,2.9 0 1,0 -5.7,0M1525.7,548.8a2.5,2.5 0 1,0 5.0,0a2.5,2.5 0 1,0 -5.0,0M1457.5,730.8a1.7,1.7 0 1,0 3.4,0a1.7,1.7 0 1,0 -3.4,0M1578.4,593.1a1.7,1.7 0 1,0 3.5,0a1.7,1.7 0 1,0 -3.5,0M1474.1,521.1a2.6,2.6 0 1,0 5.3,0a2.6,2.6 0 1,0 -5.3,0M1489.1,696.1a1.3,1.3 0 1,0 2.6,0a1.3,1.3 0 1,0 -2.6,0M1695.9,722.8a2.3,2.3 0 1,0 4.7,0a2.3,2.3 0 1,0 -4.7,0M1637.6,649.1a2.3,2.3 0 1,0 4.6,0a2.3,2.3 0 1,0 -4.6,0M1456.0,624.5a2.5,2.5 0 1,0 5.1,0a2.5,2.5 0 1,0 -5.1,0M1478.1,729.7a2.7,2.7 0 1,0 5.4,0a2.7,2.7 0 1,0 -5.4,0M1538.2,598.4a1.7,1.7 0 1,0 3.4,0a1.7,1.7 0 1,0 -3.4,0M1531.5,746.6a1.6,1.6 0 1,0 3.1,0a1.6,1.6 0 1,0 -3.1,0M1429.1,534.4a2.3,2.3 0 1,0 4.5,0a2.3,2.3 0 1,0 -4.5,0M1703.3,629.2a1.8,1.8 0 1,0 3.5,0a1.8,1.8 0 1,0 -3.5,0M1578.4,688.5a1.3,1.3 0 1,0 2.6,0a1.3,1.3 0 1,0 -2.6,0M1594.3,643.4a2.0,2.0 0 1,0 4.1,0a2.0,2.0 0 1,0 -4.1,0M1473.5,552.4a1.5,1.5 0 1,0 3.0,0a1.5,1.5 0 1,0 -3.0,0M1684.5,594.0a2.0,2.0 0 1,0 4.0,0a2.0,2.0 0 1,0 -4.0,0M1509.5,536.7a1.1,1.1 0 1,0 2.3,0a1.1,1.1 0 1,0 -2.3,0M1652.8,695.3a1.5,1.5 0 1,0 3.1,0a1.5,1.5 0 1,0 -3.1,0M1614.7,671.5a2.7,2.7 0 1,0 5.4,0a2.7,2.7 0 1,0 -5.4,0M1692.3,608.2a3.0,3.0 0 1,0 5.9,0a3.0,3.0 0 1,0 -5.9,0M1693.5,651.4a2.7,2.7 0 1,0 5.4,0a2.7,2.7 0 1,0 -5.4,0M1561.5,600.8a1.3,1.3 0 1,0 2.7,0a1.3,1.3 0 1,0 -2.7,0M1670.9,550.6a1.1,1.1 0 1,0 2.3,0a1.1,1.1 0 1,0 -2.3,0M1650.2,694.6a1.7,1.7 0 1,0 3.5,0a1.7,1.7 0 1,0 -3.5,0M1659.6,524.7a1.3,1.3 0 1,0 2.7,0a1.3,1.3 0 1,0 -2.7,0M1504.7,611.2a1.2,1.2 0 1,0 2.5,0a1.2,1.2 0 1,0 -2.5,0M1440.8,592.0a2.7,2.7 0 1,0 5.4,0a2.7,2.7 0 1,0 -5.4,0M1700.7,688.0a1.7,1.7 0 1,0 3.5,0a1.7,1.7 0 1,0 -3.5,0M1493.4,738.1a1.8,1.8 0 1,0 3.6,0a1.8,1.8 0 1,0 -3.6,0M1628.9,519.1a1.3,1.3 0 1,0 2.6,0a1.3,1.3 0 1,0 -2.6,0M1658.6,699.6a2.7,2.7 0 1,0 5.3,0a2.7,2.7 0 1,0 -5.3,0M1592.2,612.7a1.9,1.9 0 1,0 3.9,0a1.9,1.9 0 1,0 -3.9,0M1662.6,584.9a1.8,1.8 0 1,0 3.7,0a1.8,1.8 0 1,0 -3.7,0M1500.9,693.2a1.1,1.1 0 1,0 2.2,0a1.1,1.1 0 1,0 -2.2,0M1616.8,737.0a1.1,1.1 0 1,0 2.2,0a1.1,1.1 0 1,0 -2.2,0M1589.4,664.0a2.6,2.6 0 1,0 5.2,0a2.6,2.6 0 1,0 -5.2,0M1587.8,572.9a1.6,1.6 0 1,0 3.2,0a1.6,1.6 0 1,0 -3.2,0M1694.2,725.6a1.2,1.2 0 1,0 2.4,0a1.2,1.2 0 1,0 -2.4,0M1449.6,534.5a1.1,1.1 0 1,0 2.2,0a1.1,1.1 0 1,0 -2.2,0M1547.8,545.6a2.6,2.6 0 1,0 5.3,0a2.6,2.6 0 1,0 -5.3,0M1607.6,542.2a1.9,1.9 0 1,0 3.7,0a1.9,1.9 0 1,0 -3.7,0M1514.4,628.7a1.3,1.3 0 1,0 2.6,0a1.3,1.3 0 1,0 -2.6,0M1469.3,555.7a1.5,1.5 0 1,0 3.1,0a1.5,1.5 0 1,0 -3.1,0M1623.8,641.9a1.1,1.1 0 1,0 2.2,0a1.1,1.1 0 1,0 -2.2,0M1622.8,718.1a2.4,2.4 0 1,0 4.8,0a2.4,2.4 0 1,0 -4.8,0M1646.1,514.2a1.7,1.7 0 1,0 3.4,0a1.7,1.7 0 1,0 -3.4,0M1440.5,692.2a1.2,1.2 0 1,0 2.5,0a1.2,1.2 0 1,0 -2.5,0M1623.2,571.9a2.2,2.2 0 1,0 4.4,0a2.2,2.2 0 1,0 -4.4,0M1511.1,522.3a1.6,1.6 0 1,0 3.1,0a1.6,1.6 0 1,0 -3.1,0M1510.1,724.4a1.4,1.4 0 1,0 2.8,0a1.4,1.4 0 1,0 -2.8,0M1563.5,641.7a2.9,2.9 0 1,0 5.7,0a2.9,2.9 0 1,0 -5.7,0M1449.9,653.9a1.8,1.8 0 1,0 3.6,0a1.8,1.8 0 1,0 -3.6,0M1630.5,740.1a1.4,1.4 0 1,0 2.9,0a1.4,1.4 0 1,0 -2.9,0M1620.1,636.2a1.9,1.9 0 1,0 3.8,0a1.9,1.9 0 1,0 -3.8,0M1438.9,704.2a2.9,2.9 0 1,0 5.9,0a2.9,2.9 0 1,0 -5.9,0M1521.5,587.3a3.0,3.0 0 1,0 6.0,0a3.0,3.0 0 1,0 -6.0,0M1453.1,530.3a1.1,1.1 0 1,0 2.3,0a1.1,1.1 0 1,0 -2.3,0M1652.8,691.3a1.7,1.7 0 1,0 3.3,0a1.7,1.7 0 1,0 -3.3,0M1597.8,517.1a2.1,2.1 0 1,0 4.2,0a2.1,2.1 0 1,0 -4.2,0M1547.6,634.2a1.6,1.6 0 1,0 3.1,0a1.6,1.6 0 1,0 -3.1,0M1536.4,565.5a1.1,1.1 0 1,0 2.2,0a1.1,1.1 0 1,0 -2.2,0M1544.5,570.6a2.2,2.2 0 1,0 4.4,0a2.2,2.2 0 1,0 -4.4,0M1653.7,682.8a1.7,1.7 0 1,0 3.4,0a1.7,1.7 0 1,0 -3.4,0M1489.0,603.1a1.7,1.7 0 1,0 3.5,0a1.7,1.7 0 1,0 -3.5,0M1601.6,739.1a1.1,1.1 0 1,0 2.3,0a1.1,1.1 0 1,0 -2.3,0M1557.4,628.2a2.3,2.3 0 1,0 4.5,0a2.3,2.3 0 1,0 -4.5,0M1674.0,695.9a2.0,2.0 0 1,0 4.1,0a2.0,2.0 0 1,0 -4.1,0M1636.1,669.7a2.6,2.6 0 1,0 5.2,0a2.6,2.6 0 1,0 -5.2,0M1620.5,673.2a1.3,1.3 0 1,0 2.7,0a1.3,1.3 0 1,0 -2.7,0M1681.5,603.3a2.0,2.0 0 1,0 4.0,0a2.0,2.0 0 1,0 -4.0,0M1654.5,739.3a3.0,3.0 0 1,0 5.9,0a3.0,3.0 0 1,0 -5.9,0M1424.2,586.0a1.4,1.4 0 1,0 2.9,0a1.4,1.4 0 1,0 -2.9,0M1532.8,546.6a1.9,1.9 0 1,0 3.8,0a1.9,1.9 0 1,0 -3.8,0M1443.5,583.6a2.8,2.8 0 1,0 5.7,0a2.8,2.8 0 1,0 -5.7,0M1632.9,621.2a1.2,1.2 0 1,0 2.3,0a1.2,1.2 0 1,0 -2.3,0M1693.4,678.1a1.3,1.3 0 1,0 2.6,0a1.3,1.3 0 1,0 -2.6,0M1516.6,663.4a2.2,2.2 0 1,0 4.3,0a2.2,2.2 0 1,0 -4.3,0M1496.3,736.3a1.4,1.4 0 1,0 2.9,0a1.4,1.4 0 1,0 -2.9,0M1494.6,711.4a1.2,1.2 0 1,0 2.4,0a1.2,1.2 0 1,0 -2.4,0M1614.8,559.5a2.0,2.0 0 1,0 4.0,0a2.0,2.0 0 1,0 -4.0,0M1499.6,601.6a2.8,2.8 0 1,0 5.7,0a2.8,2.8 0 1,0 -5.7,0M1554.1,615.2a2.0,2.0 0 1,0 4.0,0a2.0,2.0 0 1,0 -4.0,0M1501.7,553.4a1.6,1.6 0 1,0 3.1,0a1.6,1.6 0 1,0 -3.1,0M1498.1,556.8a2.9,2.9 0 1,0 5.8,0a2.9,2.9 0 1,0 -5.8,0M1430.7,703.2a2.8,2.8 0 1,0 5.6,0a2.8,2.8 0 1,0 -5.6,0M1621.6,516.9a1.8,1.8 0 1,0 3.5,0a1.8,1.8 0 1,0 -3.5,0M1432.7,655.5a2.2,2.2 0 1,0 4.4,0a2.2,2.2 0 1,0 -4.4,0M1490.0,514.2a1.9,1.9 0 1,0 3.7,0a1.9,1.9 0 1,0 -3.7,0M1448.9,585.1a1.7,1.7 0 1,0 3.4,0a1.7,1.7 0 1,0 -3.4,0M1676.0,599.5a1.2,1.2 0 1,0 2.4,0a1.2,1.2 0 1,0 -2.4,0M1646.3,706.0a1.8,1.8 0 1,0 3.7,0a1.8,1.8 0 1,0 -3.7,0M1436.1,556.6a1.6,1.6 0 1,0 3.2,0a1.6,1.6 0 1,0 -3.2,0M1577.7,565.4a2.5,2.5 0 1,0 4.9,0a2.5,2.5 0 1,0 -4.9,0M1660.1,730.2a2.7,2.7 0 1,0 5.4,0a2.7,2.7 0 1,0 -5.4,0M1427.6,649.4a1.1,1.1 0 1,0 2.3,0a1.1,1.1 0 1,0 -2.3,0M1676.3,688.2a2.4,2.4 0 1,0 4.7,0a2.4,2.4 0 1,0 -4.7,0M1474.6,526.4a2.5,2.5 0 1,0 5.0,0a2.5,2.5 0 1,0 -5.0,0M1593.9,658.4a1.7,1.7 0 1,0 3.4,0a1.7,1.7 0 1,0 -3.4,0M1649.1,592.0a1.4,1.4 0 1,0 2.7,0a1.4,1.4 0 1,0 -2.7,0M1521.8,582.5a2.0,2.0 0 1,0 4.1,0a2.0,2.0 0 1,0 -4.1,0M1674.8,529.1a1.1,1.1 0 1,0 2.3,0a1.1,1.1 0 1,0 -2.3,0M1567.5,672.0a1.3,1.3 0 1,0 2.5,0a1.3,1.3 0 1,0 -2.5,0M1499.1,526.2a1.1,1.1 0 1,0 2.2,0a1.1,1.1 0 1,0 -2.2,0M1561.9,672.7a2.1,2.1 0 1,0 4.2,0a2.1,2.1 0 1,0 -4.2,0M1465.8,536.9a2.8,2.8 0 1,0 5.6,0a2.8,2.8 0 1,0 -5.6,0M1574.2,608.5a2.2,2.2 0 1,0 4.4,0a2.2,2.2 0 1,0 -4.4,0M1628.8,635.9a1.1,1.1 0 1,0 2.3,0a1.1,1.1 0 1,0 -2.3,0M1657.1,562.7a1.1,1.1 0 1,0 2.2,0a1.1,1.1 0 1,0 -2.2,0M1521.6,637.8a2.0,2.0 0 1,0 4.1,0a2.0,2.0 0 1,0 -4.1,0M1471.4,679.4a1.8,1.8 0 1,0 3.5,0a1.8,1.8 0 1,0 -3.5,0M1467.2,712.7a2.5,2.5 0 1,0 5.0,0a2.5,2.5 0 1,0 -5.0,0M1679.3,672.3a1.3,1.3 0 1,0 2.6,0a1.3,1.3 0 1,0 -2.6,0M1642.3,724.9a1.8,1.8 0 1,0 3.7,0a1.8,1.8 0 1,0 -3.7,0M1679.6,740.8a1.6,1.6 0 1,0 3.1,0a1.6,1.6 0 1,0 -3.1,0M1688.2,732.9a2.4,2.4 0 1,0 4.9,0a2.4,2.4 0 1,0 -4.9,0M1425.0,595.2a2.0,2.0 0 1,0 4.0,0a2.0,2.0 0 1,0 -4.0,0M1593.7,690.3a2.1,2.1 0 1,0 4.2,0a2.1,2.1 0 1,0 -4.2,0M1467.7,731.5a1.8,1.8 0 1,0 3.7,0a1.8,1.8 0 1,0 -3.7,0M1670.6,561.1a3.0,3.0 0 1,0 6.0,0a3.0,3.0 0 1,0 -6.0,0M1578.7,695.0a2.3,2.3 0 1,0 4.6,0a2.3,2.3 0 1,0 -4.6,0M1672.7,597.7a1.1,1.1 0 1,0 2.3,0a1.1,1.1 0 1,0 -2.3,0M1536.8,554.4a1.9,1.9 0 1,0 3.7,0a1.9,1.9 0 1,0 -3.7,0M1653.5,597.7a1.2,1.2 0 1,0 2.4,0a1.2,1.2 0 1,0 -2.4,0M1429.5,612.0a1.9,1.9 0 1,0 3.9,0a1.9,1.9 0 1,0 -3.9,0M1430.0,669.0a1.3,1.3 0 1,0 2.6,0a1.3,1.3 0 1,0 -2.6,0M1452.3,730.8a1.8,1.8 0 1,0 3.6,0a1.8,1.8 0 1,0 -3.6,0M1676.2,633.4a1.2,1.2 0 1,0 2.4,0a1.2,1.2 0 1,0 -2.4,0M1489.7,612.3a2.1,2.1 0 1,0 4.1,0a2.1,2.1 0 1,0 -4.1,0M1640.1,689.3a2.1,2.1 0 1,0 4.2,0a2.1,2.1 0 1,0 -4.2,0M1493.9,613.7a1.5,1.5 0 1,0 3.1,0a1.5,1.5 0 1,0 -3.1,0M1560.6,574.9a1.8,1.8 0 1,0 3.7,0a1.8,1.8 0 1,0 -3.7,0M1551.3,520.8a2.5,2.5 0 1,0 5.0,0a2.5,2.5 0 1,0 -5.0,0M1587.6,701.4a2.3,2.3 0 1,0 4.6,0a2.3,2.3 0 1,0 -4.6,0M1629.3,746.3a1.5,1.5 0 1,0 3.1,0a1.5,1.5 0 1,0 -3.1,0M1533.2,513.3a2.1,2.1 0 1,0 4.3,0a2.1,2.1 0 1,0 -4.3,0M1585.5,648.1a3.0,3.0 0 1,0 6.0,0a3.0,3.0 0 1,0 -6.0,0M1477.3,565.9a2.3,2.3 0 1,0 4.6,0a2.3,2.3 0 1,0 -4.6,0M1652.8,626.1a1.1,1.1 0 1,0 2.2,0a1.1,1.1 0 1,0 -2.2,0M1527.0,706.9a1.8,1.8 0 1,0 3.5,0a1.8,1.8 0 1,0 -3.5,0M1552.5,604.1a2.0,2.0 0 1,0 4.1,0a2.0,2.0 0 1,0 -4.1,0M1590.7,675.5a2.6,2.6 0 1,0 5.3,0a2.6,2.6 0 1,0 -5.3,0M1635.3,600.7a1.3,1.3 0 1,0 2.7,0a1.3,1.3 0 1,0 -2.7,0M1642.5,699.1a2.8,2.8 0 1,0 5.6,0a2.8,2.8 0 1,0 -5.6,0M1477.4,711.9a2.7,2.7 0 1,0 5.4,0a2.7,2.7 0 1,0 -5.4,0M1443.6,584.9a2.1,2.1 0 1,0 4.1,0a2.1,2.1 0 1,0 -4.1,0M1463.8,708.1a1.4,1.4 0 1,0 2.7,0a1.4,1.4 0 1,0 -2.7,0M1615.8,582.0a1.3,1.3 0 1,0 2.6,0a1.3,1.3 0 1,0 -2.6,0M1480.2,629.5a2.2,2.2 0 1,0 4.5,0a2.2,2.2 0 1,0 -4.5,0M1484.1,674.0a1.5,1.5 0 1,0 2.9,0a1.5,1.5 0 1,0 -2.9,0M1606.5,599.1a1.3,1.3 0 1,0 2.5,0a1.3,1.3 0 1,0 -2.5,0M1461.6,526.0a2.2,2.2 0 1,0 4.4,0a2.2,2.2 0 1,0 -4.4,0M1538.3,541.4a2.7,2.7 0 1,0 5.3,0a2.7,2.7 0 1,0 -5.3,0M1607.0,517.4a2.3,2.3 0 1,0 4.5,0a2.3,2.3 0 1,0 -4.5,0M1590.5,616.9a1.8,1.8 0 1,0 3.5,0a1.8,1.8 0 1,0 -3.5,0M1694.3,600.4a2.1,2.1 0 1,0 4.1,0a2.1,2.1 0 1,0 -4.1,0M1602.4,598.5a1.5,1.5 0 1,0 3.0,0a1.5,1.5 0 1,0 -3.0,0M1636.0,662.1a1.7,1.7 0 1,0 3.4,0a1.7,1.7 0 1,0 -3.4,0M1566.9,565.0a2.4,2.4 0 1,0 4.9,0a2.4,2.4 0 1,0 -4.9,0M1427.7,663.8a1.7,1.7 0 1,0 3.4,0a1.7,1.7 0 1,0 -3.4,0M1484.6,650.5a1.9,1.9 0 1,0 3.9,0a1.9,1.9 0 1,0 -3.9,0M1447.2,627.8a1.2,1.2 0 1,0 2.5,0a1.2,1.2 0 1,0 -2.5,0M1648.7,589.4a1.5,1.5 0 1,0 2.9,0a1.5,1.5 0 1,0 -2.9,0M1483.6,523.7a1.3,1.3 0 1,0 2.5,0a1.3,1.3 0 1,0 -2.5,0M1464.2,659.3a2.6,2.6 0 1,0 5.2,0a2.6,2.6 0 1,0 -5.2,0M1484.6,538.7a1.8,1.8 0 1,0 3.7,0a1.8,1.8 0 1,0 -3.7,0M1454.2,607.8a2.4,2.4 0 1,0 4.7,0a2.4,2.4 0 1,0 -4.7,0M1479.5,677.1a1.9,1.9 0 1,0 3.7,0a1.9,1.9 0 1,0 -3.7,0M1445.9,569.5a2.0,2.0 0 1,0 4.0,0a2.0,2.0 0 1,0 -4.0,0M1449.1,560.3a1.9,1.9 0 1,0 3.9,0a1.9,1.9 0 1,0 -3.9,0M1653.4,634.9a2.1,2.1 0 1,0 4.3,0a2.1,2.1 0 1,0 -4.3,0M1424.9,583.6a1.4,1.4 0 1,0 2.9,0a1.4,1.4 0 1,0 -2.9,0M1680.2,596.6a2.4,2.4 0 1,0 4.8,0a2.4,2.4 0 1,0 -4.8,0M1430.8,629.7a2.7,2.7 0 1,0 5.4,0a2.7,2.7 0 1,0 -5.4,0M1641.1,648.9a1.2,1.2 0 1,0 2.5,0a1.2,1.2 0 1,0 -2.5,0M1683.3,531.2a2.9,2.9 0 1,0 5.8,0a2.9,2.9 0 1,0 -5.8,0M1641.9,681.8a1.8,1.8 0 1,0 3.7,0a1.8,1.8 0 1,0 -3.7,0M1468.1,592.6a2.1,2.1 0 1,0 4.3,0a2.1,2.1 0 1,0 -4.3,0M1607.2,604.0a2.5,2.5 0 1,0 4.9,0a2.5,2.5 0 1,0 -4.9,0M1437.8,580.0a1.2,1.2 0 1,0 2.3,0a1.2,1.2 0 1,0 -2.3,0M1513.5,699.1a2.3,2.3 0 1,0 4.7,0a2.3,2.3 0 1,0 -4.7,0M1464.9,585.0a1.2,1.2 0 1,0 2.3,0a1.2,1.2 0 1,0 -2.3,0M1610.0,616.6a1.3,1.3 0 1,0 2.6,0a1.3,1.3 0 1,0 -2.6,0M1528.2,716.1a1.6,1.6 0 1,0 3.3,0a1.6,1.6 0 1,0 -3.3,0M1617.8,660.2a1.7,1.7 0 1,0 3.4,0a1.7,1.7 0 1,0 -3.4,0M1580.2,598.0a1.3,1.3 0 1,0 2.5,0a1.3,1.3 0 1,0 -2.5,0M1562.4,584.1a1.5,1.5 0 1,0 2.9,0a1.5,1.5 0 1,0 -2.9,0M1475.0,727.4a1.6,1.6 0 1,0 3.3,0a1.6,1.6 0 1,0 -3.3,0M1479.2,519.9a1.3,1.3 0 1,0 2.6,0a1.3,1.3 0 1,0 -2.6,0M1667.7,591.7a2.1,2.1 0 1,0 4.3,0a2.1,2.1 0 1,0 -4.3,0M1487.4,665.6a1.7,1.7 0 1,0 3.3,0a1.7,1.7 0 1,0 -3.3,0M1630.9,636.8a1.5,1.5 0 1,0 3.1,0a1.5,1.5 0 1,0 -3.1,0M1500.6,652.3a2.5,2.5 0 1,0 5.1,0a2.5,2.5 0 1,0 -5.1,0M1618.3,625.4a1.5,1.5 0 1,0 2.9,0a1.5,1.5 0 1,0 -2.9,0M1675.1,711.6a1.2,1.2 0 1,0 2.4,0a1.2,1.2 0 1,0 -2.4,0M1614.1,694.1a2.2,2.2 0 1,0 4.3,0a2.2,2.2 0 1,0 -4.3,0M1695.7,719.3a1.3,1.3 0 1,0 2.7,0a1.3,1.3 0 1,0 -2.7,0M1704.6,589.5a1.5,1.5 0 1,0 3.1,0a1.5,1.5 0 1,0 -3.1,0M1698.8,551.8a1.6,1.6 0 1,0 3.1,0a1.6,1.6 0 1,0 -3.1,0M1599.8,576.6a1.4,1.4 0 1,0 2.7,0a1.4,1.4 0 1,0 -2.7,0M1646.5,656.6a2.3,2.3 0 1,0 4.6,0a2.3,2.3 0 1,0 -4.6,0M1644.9,717.7a2.7,2.7 0 1,0 5.4,0a2.7,2.7 0 1,0 -5.4,0M1655.3,742.7a1.8,1.8 0 1,0 3.5,0a1.8,1.8 0 1,0 -3.5,0M1619.6,633.4a2.9,2.9 0 1,0 5.8,0a2.9,2.9 0 1,0 -5.8,0M1607.2,613.8a2.1,2.1 0 1,0 4.3,0a2.1,2.1 0 1,0 -4.3,0M1505.8,542.9a1.6,1.6 0 1,0 3.1,0a1.6,1.6 0 1,0 -3.1,0M1461.4,513.3a1.2,1.2 0 1,0 2.3,0a1.2,1.2 0 1,0 -2.3,0M1551.4,692.1a1.1,1.1 0 1,0 2.2,0a1.1,1.1 0 1,0 -2.2,0M1602.4,538.6a1.8,1.8 0 1,0 3.6,0a1.8,1.8 0 1,0 -3.6,0M1505.4,617.4a2.2,2.2 0 1,0 4.5,0a2.2,2.2 0 1,0 -4.5,0M1538.6,604.6a2.3,2.3 0 1,0 4.6,0a2.3,2.3 0 1,0 -4.6,0M1454.4,594.5a2.2,2.2 0 1,0 4.4,0a2.2,2.2 0 1,0 -4.4,0M1659.0,743.0a1.3,1.3 0 1,0 2.7,0a1.3,1.3 0 1,0 -2.7,0M1598.7,586.0a2.2,2.2 0 1,0 4.4,0a2.2,2.2 0 1,0 -4.4,0M1662.0,544.2a1.5,1.5 0 1,0 3.0,0a1.5,1.5 0 1,0 -3.0,0M1687.0,595.4a2.1,2.1 0 1,0 4.1,0a2.1,2.1 0 1,0 -4.1,0M1653.3,578.0a2.4,2.4 0 1,0 4.8,0a2.4,2.4 0 1,0 -4.8,0M1423.6,592.5a1.2,1.2 0 1,0 2.5,0a1.2,1.2 0 1,0 -2.5,0M1520.7,562.6a1.1,1.1 0 1,0 2.2,0a1.1,1.1 0 1,0 -2.2,0M1649.4,553.2a1.9,1.9 0 1,0 3.8,0a1.9,1.9 0 1,0 -3.8,0M1578.2,712.4a2.6,2.6 0 1,0 5.2,0a2.6,2.6 0 1,0 -5.2,0M1597.6,552.2a2.4,2.4 0 1,0 4.7,0a2.4,2.4 0 1,0 -4.7,0M1450.0,731.0a1.4,1.4 0 1,0 2.9,0a1.4,1.4 0 1,0 -2.9,0M1493.8,563.4a1.6,1.6 0 1,0 3.1,0a1.6,1.6 0 1,0 -3.1,0M1645.7,713.6a2.3,2.3 0 1,0 4.6,0a2.3,2.3 0 1,0 -4.6,0M1629.0,569.9a1.4,1.4 0 1,0 2.9,0a1.4,1.4 0 1,0 -2.9,0M1507.3,614.4a2.7,2.7 0 1,0 5.3,0a2.7,2.7 0 1,0 -5.3,0M1703.1,532.1a2.9,2.9 0 1,0 5.8,0a2.9,2.9 0 1,0 -5.8,0M1681.8,620.9a2.2,2.2 0 1,0 4.4,0a2.2,2.2 0 1,0 -4.4,0M1644.0,556.4a2.0,2.0 0 1,0 4.0,0a2.0,2.0 0 1,0 -4.0,0M1699.2,719.6a2.8,2.8 0 1,0 5.5,0a2.8,2.8 0 1,0 -5.5,0M1446.1,680.6a1.7,1.7 0 1,0 3.5,0a1.7,1.7 0 1,0 -3.5,0M1679.5,551.7a1.9,1.9 0 1,0 3.7,0a1.9,1.9 0 1,0 -3.7,0M1455.7,701.7a2.3,2.3 0 1,0 4.5,0a2.3,2.3 0 1,0 -4.5,0M1431.4,585.3a1.2,1.2 0 1,0 2.4,0a1.2,1.2 0 1,0 -2.4,0M1602.7,660.7a1.1,1.1 0 1,0 2.3,0a1.1,1.1 0 1,0 -2.3,0M1691.5,739.6a1.7,1.7 0 1,0 3.3,0a1.7,1.7 0 1,0 -3.3,0M1584.5,598.0a2.0,2.0 0 1,0 4.0,0a2.0,2.0 0 1,0 -4.0,0M1534.3,616.1a2.3,2.3 0 1,0 4.7,0a2.3,2.3 0 1,0 -4.7,0M1474.3,582.6a2.4,2.4 0 1,0 4.7,0a2.4,2.4 0 1,0 -4.7,0M1484.8,528.6a2.8,2.8 0 1,0 5.5,0a2.8,2.8 0 1,0 -5.5,0M1467.6,609.2a1.4,1.4 0 1,0 2.9,0a1.4,1.4 0 1,0 -2.9,0M1496.1,595.4a1.8,1.8 0 1,0 3.7,0a1.8,1.8 0 1,0 -3.7,0M1455.6,637.9a1.1,1.1 0 1,0 2.2,0a1.1,1.1 0 1,0 -2.2,0M1444.8,560.0a1.3,1.3 0 1,0 2.6,0a1.3,1.3 0 1,0 -2.6,0M1518.0,581.0a2.6,2.6 0 1,0 5.1,0a2.6,2.6 0 1,0 -5.1,0M1607.8,623.8a2.4,2.4 0 1,0 4.8,0a2.4,2.4 0 1,0 -4.8,0M1616.1,586.6a2.0,2.0 0 1,0 4.0,0a2.0,2.0 0 1,0 -4.0,0M1632.6,638.2a2.3,2.3 0 1,0 4.7,0a2.3,2.3 0 1,0 -4.7,0M1601.7,730.8a1.4,1.4 0 1,0 2.7,0a1.4,1.4 0 1,0 -2.7,0M1612.2,742.3a1.8,1.8 0 1,0 3.7,0a1.8,1.8 0 1,0 -3.7,0M1678.0,534.7a2.3,2.3 0 1,0 4.5,0a2.3,2.3 0 1,0 -4.5,0M1497.4,689.0a1.6,1.6 0 1,0 3.2,0a1.6,1.6 0 1,0 -3.2,0M1574.0,570.9a1.3,1.3 0 1,0 2.7,0a1.3,1.3 0 1,0 -2.7,0M1666.9,663.8a2.0,2.0 0 1,0 4.1,0a2.0,2.0 0 1,0 -4.1,0M1453.7,581.4a2.9,2.9 0 1,0 5.8,0a2.9,2.9 0 1,0 -5.8,0M1479.2,639.0a2.2,2.2 0 1,0 4.4,0a2.2,2.2 0 1,0 -4.4,0M1565.5,642.9a2.9,2.9 0 1,0 5.8,0a2.9,2.9 0 1,0 -5.8,0M1643.5,568.2a1.6,1.6 0 1,0 3.3,0a1.6,1.6 0 1,0 -3.3,0M1540.5,673.4a2.2,2.2 0 1,0 4.3,0a2.2,2.2 0 1,0 -4.3,0M1496.1,675.4a1.6,1.6 0 1,0 3.3,0a1.6,1.6 0 1,0 -3.3,0M1426.6,581.1a1.5,1.5 0 1,0 3.1,0a1.5,1.5 0 1,0 -3.1,0M1476.6,670.3a3.0,3.0 0 1,0 6.0,0a3.0,3.0 0 1,0 -6.0,0M1685.1,660.6a2.6,2.6 0 1,0 5.2,0a2.6,2.6 0 1,0 -5.2,0M1560.4,650.5a2.7,2.7 0 1,0 5.4,0a2.7,2.7 0 1,0 -5.4,0M1439.2,597.7a1.5,1.5 0 1,0 3.1,0a1.5,1.5 0 1,0 -3.1,0M1519.3,613.1a1.1,1.1 0 1,0 2.3,0a1.1,1.1 0 1,0 -2.3,0M1614.9,737.6a1.3,1.3 0 1,0 2.6,0a1.3,1.3 0 1,0 -2.6,0M1474.0,591.2a2.5,2.5 0 1,0 4.9,0a2.5,2.5 0 1,0 -4.9,0M1486.7,693.9a1.2,1.2 0 1,0 2.5,0a1.2,1.2 0 1,0 -2.5,0M1590.2,682.2a2.2,2.2 0 1,0 4.3,0a2.2,2.2 0 1,0 -4.3,0M1445.1,737.6a2.6,2.6 0 1,0 5.2,0a2.6,2.6 0 1,0 -5.2,0M1558.1,714.7a2.0,2.0 0 1,0 4.0,0a2.0,2.0 0 1,0 -4.0,0M1469.0,605.8a2.5,2.5 0 1,0 5.0,0a2.5,2.5 0 1,0 -5.0,0M1554.0,522.3a1.2,1.2 0 1,0 2.5,0a1.2,1.2 0 1,0 -2.5,0M1474.5,650.3a2.1,2.1 0 1,0 4.2,0a2.1,2.1 0 1,0 -4.2,0M1547.8,607.4a2.9,2.9 0 1,0 5.8,0a2.9,2.9 0 1,0 -5.8,0M1519.7,670.6a1.3,1.3 0 1,0 2.6,0a1.3,1.3 0 1,0 -2.6,0M1568.3,554.7a1.2,1.2 0 1,0 2.3,0a1.2,1.2 0 1,0 -2.3,0M1517.6,539.5a1.5,1.5 0 1,0 3.1,0a1.5,1.5 0 1,0 -3.1,0M1606.3,641.7a2.4,2.4 0 1,0 4.9,0a2.4,2.4 0 1,0 -4.9,0M1556.7,532.2a2.3,2.3 0 1,0 4.6,0a2.3,2.3 0 1,0 -4.6,0M1534.8,689.3a2.9,2.9 0 1,0 5.9,0a2.9,2.9 0 1,0 -5.9,0M1570.8,571.4a1.5,1.5 0 1,0 3.0,0a1.5,1.5 0 1,0 -3.0,0M1563.9,587.5a1.2,1.2 0 1,0 2.3,0a1.2,1.2 0 1,0 -2.3,0M1534.2,666.9a2.5,2.5 0 1,0 5.0,0a2.5,2.5 0 1,0 -5.0,0M1637.1,720.5a2.5,2.5 0 1,0 4.9,0a2.5,2.5 0 1,0 -4.9,0M1539.2,664.1a1.1,1.1 0 1,0 2.2,0a1.1,1.1 0 1,0 -2.2,0M1647.4,679.1a1.4,1.4 0 1,0 2.7,0a1.4,1.4 0 1,0 -2.7,0M1555.1,576.4a2.4,2.4 0 1,0 4.9,0a2.4,2.4 0 1,0 -4.9,0M1541.9,696.2a2.8,2.8 0 1,0 5.6,0a2.8,2.8 0 1,0 -5.6,0M1642.6,601.9a1.5,1.5 0 1,0 3.0,0a1.5,1.5 0 1,0 -3.0,0M1690.5,725.3a1.3,1.3 0 1,0 2.5,0a1.3,1.3 0 1,0 -2.5,0M1524.1,697.9a2.4,2.4 0 1,0 4.7,0a2.4,2.4 0 1,0 -4.7,0M1501.1,617.5a2.9,2.9 0 1,0 5.8,0a2.9,2.9 0 1,0 -5.8,0M1447.2,576.9a2.1,2.1 0 1,0 4.3,0a2.1,2.1 0 1,0 -4.3,0M1679.2,735.3a1.7,1.7 0 1,0 3.4,0a1.7,1.7 0 1,0 -3.4,0M1646.2,741.3a1.5,1.5 0 1,0 2.9,0a1.5,1.5 0 1,0 -2.9,0M1485.8,573.5a2.4,2.4 0 1,0 4.8,0a2.4,2.4 0 1,0 -4.8,0M1460.5,641.1a2.8,2.8 0 1,0 5.6,0a2.8,2.8 0 1,0 -5.6,0M1478.9,660.4a1.8,1.8 0 1,0 3.7,0a1.8,1.8 0 1,0 -3.7,0M1695.8,633.3a1.8,1.8 0 1,0 3.5,0a1.8,1.8 0 1,0 -3.5,0M1678.6,689.5a1.2,1.2 0 1,0 2.4,0a1.2,1.2 0 1,0 -2.4,0M1648.6,606.4a2.9,2.9 0 1,0 5.8,0a2.9,2.9 0 1,0 -5.8,0M1695.0,628.5a1.6,1.6 0 1,0 3.2,0a1.6,1.6 0 1,0 -3.2,0M1486.8,577.4a1.3,1.3 0 1,0 2.6,0a1.3,1.3 0 1,0 -2.6,0M1470.3,684.3a1.1,1.1 0 1,0 2.2,0a1.1,1.1 0 1,0 -2.2,0M1591.1,653.1a2.3,2.3 0 1,0 4.6,0a2.3,2.3 0 1,0 -4.6,0M1583.2,730.7a1.4,1.4 0 1,0 2.8,0a1.4,1.4 0 1,0 -2.8,0M1448.8,649.5a1.4,1.4 0 1,0 2.7,0a1.4,1.4 0 1,0 -2.7,0M1701.6,729.4a2.2,2.2 0 1,0 4.4,0a2.2,2.2 0 1,0 -4.4,0M1658.2,569.9a1.7,1.7 0 1,0 3.5,0a1.7,1.7 0 1,0 -3.5,0M1530.7,593.7a1.5,1.5 0 1,0 3.1,0a1.5,1.5 0 1,0 -3.1,0M1558.0,666.3a1.1,1.1 0 1,0 2.2,0a1.1,1.1 0 1,0 -2.2,0M1573.7,542.5a2.9,2.9 0 1,0 5.8,0a2.9,2.9 0 1,0 -5.8,0M1578.7,651.1a1.4,1.4 0 1,0 2.9,0a1.4,1.4 0 1,0 -2.9,0M1621.0,679.5a2.7,2.7 0 1,0 5.5,0a2.7,2.7 0 1,0 -5.5,0M1586.3,575.9a2.0,2.0 0 1,0 4.1,0a2.0,2.0 0 1,0 -4.1,0M1436.6,687.5a1.4,1.4 0 1,0 2.8,0a1.4,1.4 0 1,0 -2.8,0M1625.6,543.5a2.0,2.0 0 1,0 4.0,0a2.0,2.0 0 1,0 -4.0,0M1470.3,521.0a1.4,1.4 0 1,0 2.7,0a1.4,1.4 0 1,0 -2.7,0M1662.3,603.9a1.8,1.8 0 1,0 3.6,0a1.8,1.8 0 1,0 -3.6,0M1646.3,742.7a1.4,1.4 0 1,0 2.7,0a1.4,1.4 0 1,0 -2.7,0M1618.0,696.4a2.4,2.4 0 1,0 4.9,0a2.4,2.4 0 1,0 -4.9,0M1519.6,624.1a2.4,2.4 0 1,0 4.8,0a2.4,2.4 0 1,0 -4.8,0M1492.8,626.7a2.1,2.1 0 1,0 4.1,0a2.1,2.1 0 1,0 -4.1,0M1662.8,569.8a2.1,2.1 0 1,0 4.3,0a2.1,2.1 0 1,0 -4.3,0M1483.6,549.3a1.7,1.7 0 1,0 3.5,0a1.7,1.7 0 1,0 -3.5,0M1604.5,663.1a2.9,2.9 0 1,0 5.7,0a2.9,2.9 0 1,0 -5.7,0M1468.6,637.2a1.7,1.7 0 1,0 3.5,0a1.7,1.7 0 1,0 -3.5,0M1495.9,728.4a1.2,1.2 0 1,0 2.4,0a1.2,1.2 0 1,0 -2.4,0M1495.5,521.9a2.1,2.1 0 1,0 4.2,0a2.1,2.1 0 1,0 -4.2,0M1607.3,565.0a2.8,2.8 0 1,0 5.6,0a2.8,2.8 0 1,0 -5.6,0M1600.8,559.9a2.8,2.8 0 1,0 5.7,0a2.8,2.8 0 1,0 -5.7,0M1662.9,586.3a2.6,2.6 0 1,0 5.3,0a2.6,2.6 0 1,0 -5.3,0M1459.1,594.3a1.6,1.6 0 1,0 3.2,0a1.6,1.6 0 1,0 -3.2,0M1692.8,582.7a1.6,1.6 0 1,0 3.1,0a1.6,1.6 0 1,0 -3.1,0M1481.3,705.3a1.2,1.2 0 1,0 2.5,0a1.2,1.2 0 1,0 -2.5,0M1662.1,592.6a1.9,1.9 0 1,0 3.7,0a1.9,1.9 0 1,0 -3.7,0M1670.3,575.2a1.8,1.8 0 1,0 3.7,0a1.8,1.8 0 1,0 -3.7,0M1602.4,648.4a1.6,1.6 0 1,0 3.2,0a1.6,1.6 0 1,0 -3.2,0M1605.6,586.5a1.2,1.2 0 1,0 2.4,0a1.2,1.2 0 1,0 -2.4,0M1424.4,655.0a1.9,1.9 0 1,0 3.9,0a1.9,1.9 0 1,0 -3.9,0M1648.2,549.3a2.1,2.1 0 1,0 4.3,0a2.1,2.1 0 1,0 -4.3,0M1549.7,636.0a2.5,2.5 0 1,0 5.1,0a2.5,2.5 0 1,0 -5.1,0M1568.8,615.0a2.1,2.1 0 1,0 4.2,0a2.1,2.1 0 1,0 -4.2,0M1463.9,717.9a1.8,1.8 0 1,0 3.6,0a1.8,1.8 0 1,0 -3.6,0M1433.0,625.7a2.8,2.8 0 1,0 5.7,0a2.8,2.8 0 1,0 -5.7,0M1699.7,612.8a1.4,1.4 0 1,0 2.7,0a1.4,1.4 0 1,0 -2.7,0M1688.0,579.3a1.1,1.1 0 1,0 2.2,0a1.1,1.1 0 1,0 -2.2,0M1491.6,623.2a2.2,2.2 0 1,0 4.3,0a2.2,2.2 0 1,0 -4.3,0M1440.5,591.1a2.3,2.3 0 1,0 4.6,0a2.3,2.3 0 1,0 -4.6,0M1519.1,553.7a2.2,2.2 0 1,0 4.5,0a2.2,2.2 0 1,0 -4.5,0M1545.7,676.0a1.7,1.7 0 1,0 3.5,0a1.7,1.7 0 1,0 -3.5,0M1651.0,632.9a2.9,2.9 0 1,0 5.9,0a2.9,2.9 0 1,0 -5.9,0M1652.4,682.3a1.8,1.8 0 1,0 3.5,0a1.8,1.8 0 1,0 -3.5,0M1595.4,601.1a1.1,1.1 0 1,0 2.3,0a1.1,1.1 0 1,0 -2.3,0M1672.0,702.5a2.4,2.4 0 1,0 4.8,0a2.4,2.4 0 1,0 -4.8,0M1664.2,642.1a3.0,3.0 0 1,0 6.0,0a3.0,3.0 0 1,0 -6.0,0M1556.7,743.3a1.1,1.1 0 1,0 2.3,0a1.1,1.1 0 1,0 -2.3,0M1528.5,646.8a2.5,2.5 0 1,0 5.0,0a2.5,2.5 0 1,0 -5.0,0M1569.8,698.4a1.5,1.5 0 1,0 3.1,0a1.5,1.5 0 1,0 -3.1,0M1613.6,699.9a2.0,2.0 0 1,0 4.0,0a2.0,2.0 0 1,0 -4.0,0M1428.6,667.0a1.1,1.1 0 1,0 2.2,0a1.1,1.1 0 1,0 -2.2,0M1507.2,539.4a2.4,2.4 0 1,0 4.7,0a2.4,2.4 0 1,0 -4.7,0M1470.3,681.7a1.1,1.1 0 1,0 2.3,0a1.1,1.1 0 1,0 -2.3,0M1479.6,676.0a2.8,2.8 0 1,0 5.6,0a2.8,2.8 0 1,0 -5.6,0M1442.5,657.0a1.6,1.6 0 1,0 3.2,0a1.6,1.6 0 1,0 -3.2,0M1598.9,530.6a1.1,1.1 0 1,0 2.2,0a1.1,1.1 0 1,0 -2.2,0M1444.3,722.2a1.8,1.8 0 1,0 3.5,0a1.8,1.8 0 1,0 -3.5,0M1595.1,543.8a2.2,2.2 0 1,0 4.4,0a2.2,2.2 0 1,0 -4.4,0M1676.7,559.0a2.4,2.4 0 1,0 4.8,0a2.4,2.4 0 1,0 -4.8,0M1662.3,746.0a1.9,1.9 0 1,0 3.8,0a1.9,1.9 0 1,0 -3.8,0M1604.1,593.6a2.4,2.4 0 1,0 4.8,0a2.4,2.4 0 1,0 -4.8,0M1509.7,659.2a2.0,2.0 0 1,0 4.1,0a2.0,2.0 0 1,0 -4.1,0M1702.9,697.7a1.2,1.2 0 1,0 2.3,0a1.2,1.2 0 1,0 -2.3,0M1472.4,596.5a1.6,1.6 0 1,0 3.1,0a1.6,1.6 0 1,0 -3.1,0M1625.0,573.5a1.9,1.9 0 1,0 3.8,0a1.9,1.9 0 1,0 -3.8,0M1549.8,584.3a2.1,2.1 0 1,0 4.2,0a2.1,2.1 0 1,0 -4.2,0M1545.6,743.0a1.2,1.2 0 1,0 2.4,0a1.2,1.2 0 1,0 -2.4,0M1676.7,662.4a1.7,1.7 0 1,0 3.4,0a1.7,1.7 0 1,0 -3.4,0M1443.4,664.7a2.5,2.5 0 1,0 4.9,0a2.5,2.5 0 1,0 -4.9,0M1521.1,680.1a1.8,1.8 0 1,0 3.7,0a1.8,1.8 0 1,0 -3.7,0M1447.9,714.7a1.4,1.4 0 1,0 2.9,0a1.4,1.4 0 1,0 -2.9,0M1557.2,691.7a2.7,2.7 0 1,0 5.3,0a2.7,2.7 0 1,0 -5.3,0M1663.1,598.9a2.6,2.6 0 1,0 5.2,0a2.6,2.6 0 1,0 -5.2,0M1465.4,642.3a1.6,1.6 0 1,0 3.3,0a1.6,1.6 0 1,0 -3.3,0M1667.0,682.4a2.1,2.1 0 1,0 4.2,0a2.1,2.1 0 1,0 -4.2,0M1651.8,594.2a1.7,1.7 0 1,0 3.3,0a1.7,1.7 0 1,0 -3.3,0M1451.7,595.0a1.3,1.3 0 1,0 2.5,0a1.3,1.3 0 1,0 -2.5,0M1628.2,542.9a2.8,2.8 0 1,0 5.5,0a2.8,2.8 0 1,0 -5.5,0M1592.7,617.4a1.2,1.2 0 1,0 2.4,0a1.2,1.2 0 1,0 -2.4,0M1549.1,645.1a1.2,1.2 0 1,0 2.4,0a1.2,1.2 0 1,0 -2.4,0M1698.8,597.3a1.6,1.6 0 1,0 3.3,0a1.6,1.6 0 1,0 -3.3,0M1503.2,600.2a1.4,1.4 0 1,0 2.8,0a1.4,1.4 0 1,0 -2.8,0M1664.2,529.3a1.5,1.5 0 1,0 3.0,0a1.5,1.5 0 1,0 -3.0,0M1591.6,625.3a1.5,1.5 0 1,0 2.9,0a1.5,1.5 0 1,0 -2.9,0M1559.5,527.1a1.4,1.4 0 1,0 2.8,0a1.4,1.4 0 1,0 -2.8,0M1545.4,692.9a1.6,1.6 0 1,0 3.3,0a1.6,1.6 0 1,0 -3.3,0M1540.1,666.4a1.4,1.4 0 1,0 2.8,0a1.4,1.4 0 1,0 -2.8,0M1577.7,558.2a2.0,2.0 0 1,0 4.0,0a2.0,2.0 0 1,0 -4.0,0M1573.9,666.4a2.7,2.7 0 1,0 5.3,0a2.7,2.7 0 1,0 -5.3,0M1647.7,745.1a1.3,1.3 0 1,0 2.6,0a1.3,1.3 0 1,0 -2.6,0M1692.5,617.1a1.5,1.5 0 1,0 3.0,0a1.5,1.5 0 1,0 -3.0,0M1549.8,729.3a2.9,2.9 0 1,0 5.7,0a2.9,2.9 0 1,0 -5.7,0M1650.7,583.3a1.2,1.2 0 1,0 2.4,0a1.2,1.2 0 1,0 -2.4,0M1479.3,670.6a2.2,2.2 0 1,0 4.4,0a2.2,2.2 0 1,0 -4.4,0M1439.4,513.3a3.0,3.0 0 1,0 6.0,0a3.0,3.0 0 1,0 -6.0,0M1517.8,522.2a1.7,1.7 0 1,0 3.4,0a1.7,1.7 0 1,0 -3.4,0M1449.7,704.2a1.8,1.8 0 1,0 3.7,0a1.8,1.8 0 1,0 -3.7,0M1596.1,730.6a1.2,1.2 0 1,0 2.4,0a1.2,1.2 0 1,0 -2.4,0M1482.8,697.6a2.0,2.0 0 1,0 4.0,0a2.0,2.0 0 1,0 -4.0,0M1546.0,596.2a2.0,2.0 0 1,0 4.1,0a2.0,2.0 0 1,0 -4.1,0M1688.7,735.7a2.8,2.8 0 1,0 5.5,0a2.8,2.8 0 1,0 -5.5,0M1699.9,543.4a1.1,1.1 0 1,0 2.2,0a1.1,1.1 0 1,0 -2.2,0M1656.9,570.6a1.8,1.8 0 1,0 3.6,0a1.8,1.8 0 1,0 -3.6,0M1554.8,741.6a1.7,1.7 0 1,0 3.3,0a1.7,1.7 0 1,0 -3.3,0M1459.2,560.5a2.7,2.7 0 1,0 5.5,0a2.7,2.7 0 1,0 -5.5,0M1652.0,545.3a2.9,2.9 0 1,0 5.8,0a2.9,2.9 0 1,0 -5.8,0M1527.2,683.6a1.9,1.9 0 1,0 3.8,0a1.9,1.9 0 1,0 -3.8,0M1665.8,627.6a1.1,1.1 0 1,0 2.2,0a1.1,1.1 0 1,0 -2.2,0M1580.2,712.8a1.6,1.6 0 1,0 3.2,0a1.6,1.6 0 1,0 -3.2,0M1656.4,617.5a1.5,1.5 0 1,0 3.0,0a1.5,1.5 0 1,0 -3.0,0M1523.8,566.2a1.8,1.8 0 1,0 3.5,0a1.8,1.8 0 1,0 -3.5,0M1693.2,651.5a2.4,2.4 0 1,0 4.8,0a2.4,2.4 0 1,0 -4.8,0M1472.7,599.4a1.9,1.9 0 1,0 3.9,0a1.9,1.9 0 1,0 -3.9,0M1529.9,514.5a2.6,2.6 0 1,0 5.3,0a2.6,2.6 0 1,0 -5.3,0M1457.4,667.5a2.9,2.9 0 1,0 5.9,0a2.9,2.9 0 1,0 -5.9,0M1504.3,575.9a1.5,1.5 0 1,0 2.9,0a1.5,1.5 0 1,0 -2.9,0M1576.2,743.1a1.2,1.2 0 1,0 2.4,0a1.2,1.2 0 1,0 -2.4,0M1491.8,723.4a1.4,1.4 0 1,0 2.8,0a1.4,1.4 0 1,0 -2.8,0M1611.7,682.3a1.1,1.1 0 1,0 2.2,0a1.1,1.1 0 1,0 -2.2,0M1428.8,691.1a2.8,2.8 0 1,0 5.5,0a2.8,2.8 0 1,0 -5.5,0M1619.4,622.4a1.2,1.2 0 1,0 2.3,0a1.2,1.2 0 1,0 -2.3,0M1571.6,538.3a1.5,1.5 0 1,0 2.9,0a1.5,1.5 0 1,0 -2.9,0M1432.1,633.6a1.7,1.7 0 1,0 3.4,0a1.7,1.7 0 1,0 -3.4,0M1503.3,564.5a1.1,1.1 0 1,0 2.3,0a1.1,1.1 0 1,0 -2.3,0M1428.7,542.3a3.0,3.0 0 1,0 5.9,0a3.0,3.0 0 1,0 -5.9,0M1431.5,681.0a1.7,1.7 0 1,0 3.4,0a1.7,1.7 0 1,0 -3.4,0M1587.3,584.1a2.9,2.9 0 1,0 5.9,0a2.9,2.9 0 1,0 -5.9,0M1651.0,607.7a1.6,1.6 0 1,0 3.3,0a1.6,1.6 0 1,0 -3.3,0M1681.2,549.2a2.7,2.7 0 1,0 5.3,0a2.7,2.7 0 1,0 -5.3,0M1597.4,645.9a1.8,1.8 0 1,0 3.7,0a1.8,1.8 0 1,0 -3.7,0M1589.9,533.8a1.3,1.3 0 1,0 2.7,0a1.3,1.3 0 1,0 -2.7,0M1522.8,564.5a1.1,1.1 0 1,0 2.3,0a1.1,1.1 0 1,0 -2.3,0M1623.4,611.6a2.3,2.3 0 1,0 4.6,0a2.3,2.3 0 1,0 -4.6,0M1533.5,734.1a1.3,1.3 0 1,0 2.7,0a1.3,1.3 0 1,0 -2.7,0M1566.5,612.0a2.4,2.4 0 1,0 4.9,0a2.4,2.4 0 1,0 -4.9,0M1459.2,640.9a1.7,1.7 0 1,0 3.4,0a1.7,1.7 0 1,0 -3.4,0M1598.8,567.2a1.9,1.9 0 1,0 3.7,0a1.9,1.9 0 1,0 -3.7,0M1700.0,536.6a2.9,2.9 0 1,0 5.8,0a2.9,2.9 0 1,0 -5.8,0M1696.5,617.9a1.1,1.1 0 1,0 2.3,0a1.1,1.1 0 1,0 -2.3,0M1563.4,739.1a1.1,1.1 0 1,0 2.2,0a1.1,1.1 0 1,0 -2.2,0M1635.9,696.0a1.2,1.2 0 1,0 2.3,0a1.2,1.2 0 1,0 -2.3,0M1593.5,547.3a1.2,1.2 0 1,0 2.3,0a1.2,1.2 0 1,0 -2.3,0M1569.4,582.6a2.1,2.1 0 1,0 4.2,0a2.1,2.1 0 1,0 -4.2,0M1570.3,566.4a2.8,2.8 0 1,0 5.6,0a2.8,2.8 0 1,0 -5.6,0M1424.1,701.2a1.4,1.4 0 1,0 2.8,0a1.4,1.4 0 1,0 -2.8,0M1676.8,655.3a1.7,1.7 0 1,0 3.4,0a1.7,1.7 0 1,0 -3.4,0M1482.4,714.0a2.6,2.6 0 1,0 5.2,0a2.6,2.6 0 1,0 -5.2,0M1693.2,651.2a2.8,2.8 0 1,0 5.6,0a2.8,2.8 0 1,0 -5.6,0M1675.8,669.3a1.5,1.5 0 1,0 2.9,0a1.5,1.5 0 1,0 -2.9,0M1592.3,593.2a2.5,2.5 0 1,0 5.0,0a2.5,2.5 0 1,0 -5.0,0M1577.7,716.4a2.7,2.7 0 1,0 5.4,0a2.7,2.7 0 1,0 -5.4,0M1636.1,560.2a1.5,1.5 0 1,0 2.9,0a1.5,1.5 0 1,0 -2.9,0M1446.8,591.3a1.2,1.2 0 1,0 2.4,0a1.2,1.2 0 1,0 -2.4,0M1507.6,699.3a1.2,1.2 0 1,0 2.4,0a1.2,1.2 0 1,0 -2.4,0M1681.4,729.4a2.4,2.4 0 1,0 4.8,0a2.4,2.4 0 1,0 -4.8,0M1489.6,580.8a1.7,1.7 0 1,0 3.4,0a1.7,1.7 0 1,0 -3.4,0M1598.0,730.3a1.1,1.1 0 1,0 2.2,0a1.1,1.1 0 1,0 -2.2,0M1447.1,705.9a1.1,1.1 0 1,0 2.2,0a1.1,1.1 0 1,0 -2.2,0M1674.0,556.3a2.9,2.9 0 1,0 5.9,0a2.9,2.9 0 1,0 -5.9,0M1554.7,655.0a2.5,2.5 0 1,0 5.0,0a2.5,2.5 0 1,0 -5.0,0M1655.3,610.0a1.7,1.7 0 1,0 3.4,0a1.7,1.7 0 1,0 -3.4,0M1645.8,572.7a1.4,1.4 0 1,0 2.8,0a1.4,1.4 0 1,0 -2.8,0M1668.0,720.0a2.5,2.5 0 1,0 5.1,0a2.5,2.5 0 1,0 -5.1,0M1520.1,593.1a1.2,1.2 0 1,0 2.3,0a1.2,1.2 0 1,0 -2.3,0M1658.4,523.8a1.2,1.2 0 1,0 2.5,0a1.2,1.2 0 1,0 -2.5,0M1427.6,620.1a3.0,3.0 0 1,0 6.0,0a3.0,3.0 0 1,0 -6.0,0M1442.4,571.7a1.4,1.4 0 1,0 2.7,0a1.4,1.4 0 1,0 -2.7,0M1621.2,596.3a1.2,1.2 0 1,0 2.5,0a1.2,1.2 0 1,0 -2.5,0M1618.5,724.3a1.2,1.2 0 1,0 2.5,0a1.2,1.2 0 1,0 -2.5,0M1438.9,608.3a2.8,2.8 0 1,0 5.6,0a2.8,2.8 0 1,0 -5.6,0M1438.6,544.9a2.1,2.1 0 1,0 4.2,0a2.1,2.1 0 1,0 -4.2,0M1638.4,618.8a1.1,1.1 0 1,0 2.2,0a1.1,1.1 0 1,0 -2.2,0M1578.7,535.9a1.1,1.1 0 1,0 2.3,0a1.1,1.1 0 1,0 -2.3,0M1438.7,733.0a1.2,1.2 0 1,0 2.3,0a1.2,1.2 0 1,0 -2.3,0M1557.1,705.7a1.3,1.3 0 1,0 2.5,0a1.3,1.3 0 1,0 -2.5,0M1532.4,699.2a1.9,1.9 0 1,0 3.8,0a1.9,1.9 0 1,0 -3.8,0M1475.8,638.7a3.0,3.0 0 1,0 6.0,0a3.0,3.0 0 1,0 -6.0,0M1654.6,739.0a1.1,1.1 0 1,0 2.2,0a1.1,1.1 0 1,0 -2.2,0M1439.2,630.7a1.1,1.1 0 1,0 2.2,0a1.1,1.1 0 1,0 -2.2,0M1694.5,581.2a1.9,1.9 0 1,0 3.7,0a1.9,1.9 0 1,0 -3.7,0M1670.0,612.5a2.4,2.4 0 1,0 4.7,0a2.4,2.4 0 1,0 -4.7,0M1465.3,617.2a2.3,2.3 0 1,0 4.6,0a2.3,2.3 0 1,0 -4.6,0M1553.8,556.0a2.6,2.6 0 1,0 5.2,0a2.6,2.6 0 1,0 -5.2,0M1523.7,727.2a1.4,1.4 0 1,0 2.9,0a1.4,1.4 0 1,0 -2.9,0M1656.1,541.6a2.2,2.2 0 1,0 4.3,0a2.2,2.2 0 1,0 -4.3,0M1691.8,660.1a1.6,1.6 0 1,0 3.2,0a1.6,1.6 0 1,0 -3.2,0M1699.1,739.9a2.5,2.5 0 1,0 5.0,0a2.5,2.5 0 1,0 -5.0,0M1484.8,533.4a2.0,2.0 0 1,0 4.0,0a2.0,2.0 0 1,0 -4.0,0M1459.9,526.6a1.9,1.9 0 1,0 3.8,0a1.9,1.9 0 1,0 -3.8,0M1688.8,576.2a2.5,2.5 0 1,0 5.0,0a2.5,2.5 0 1,0 -5.0,0M1694.8,734.1a1.1,1.1 0 1,0 2.3,0a1.1,1.1 0 1,0 -2.3,0M1458.9,737.3a2.9,2.9 0 1,0 5.8,0a2.9,2.9 0 1,0 -5.8,0M1470.1,555.0a2.2,2.2 0 1,0 4.5,0a2.2,2.2 0 1,0 -4.5,0M1450.0,536.9a1.2,1.2 0 1,0 2.4,0a1.2,1.2 0 1,0 -2.4,0M1585.1,599.8a2.6,2.6 0 1,0 5.1,0a2.6,2.6 0 1,0 -5.1,0M1464.7,723.6a2.4,2.4 0 1,0 4.9,0a2.4,2.4 0 1,0 -4.9,0M1527.8,654.7a2.2,2.2 0 1,0 4.3,0a2.2,2.2 0 1,0 -4.3,0M1456.7,731.8a1.7,1.7 0 1,0 3.3,0a1.7,1.7 0 1,0 -3.3,0M1568.6,713.0a1.1,1.1 0 1,0 2.2,0a1.1,1.1 0 1,0 -2.2,0M1497.2,519.7a2.3,2.3 0 1,0 4.6,0a2.3,2.3 0 1,0 -4.6,0M1483.5,681.4a2.3,2.3 0 1,0 4.5,0a2.3,2.3 0 1,0 -4.5,0M1704.3,554.8a1.6,1.6 0 1,0 3.2,0a1.6,1.6 0 1,0 -3.2,0M1645.9,617.0a1.2,1.2 0 1,0 2.5,0a1.2,1.2 0 1,0 -2.5,0M1613.3,699.4a1.7,1.7 0 1,0 3.3,0a1.7,1.7 0 1,0 -3.3,0M1530.4,543.5a1.6,1.6 0 1,0 3.2,0a1.6,1.6 0 1,0 -3.2,0M1659.0,595.9a2.9,2.9 0 1,0 5.7,0a2.9,2.9 0 1,0 -5.7,0M1522.7,624.5a2.4,2.4 0 1,0 4.8,0a2.4,2.4 0 1,0 -4.8,0M1680.5,711.2a1.6,1.6 0 1,0 3.2,0a1.6,1.6 0 1,0 -3.2,0M1549.8,542.9a1.9,1.9 0 1,0 3.7,0a1.9,1.9 0 1,0 -3.7,0M1654.4,557.3a1.4,1.4 0 1,0 2.9,0a1.4,1.4 0 1,0 -2.9,0M1440.7,619.2a1.7,1.7 0 1,0 3.5,0a1.7,1.7 0 1,0 -3.5,0M1701.5,670.1a2.8,2.8 0 1,0 5.5,0a2.8,2.8 0 1,0 -5.5,0M1478.3,615.5a2.2,2.2 0 1,0 4.4,0a2.2,2.2 0 1,0 -4.4,0M1442.8,646.8a2.0,2.0 0 1,0 4.1,0a2.0,2.0 0 1,0 -4.1,0M1429.0,560.2a2.4,2.4 0 1,0 4.8,0a2.4,2.4 0 1,0 -4.8,0M1468.0,662.5a1.6,1.6 0 1,0 3.2,0a1.6,1.6 0 1,0 -3.2,0M1532.6,718.5a1.6,1.6 0 1,0 3.1,0a1.6,1.6 0 1,0 -3.1,0M1671.1,705.6a1.9,1.9 0 1,0 3.8,0a1.9,1.9 0 1,0 -3.8,0M1449.7,590.9a2.9,2.9 0 1,0 5.7,0a2.9,2.9 0 1,0 -5.7,0M1497.3,651.4a1.3,1.3 0 1,0 2.5,0a1.3,1.3 0 1,0 -2.5,0M1628.6,674.3a2.7,2.7 0 1,0 5.4,0a2.7,2.7 0 1,0 -5.4,0M1589.5,538.4a2.4,2.4 0 1,0 4.9,0a2.4,2.4 0 1,0 -4.9,0M1585.2,734.5a1.8,1.8 0 1,0 3.6,0a1.8,1.8 0 1,0 -3.6,0M1513.8,616.7a1.9,1.9 0 1,0 3.8,0a1.9,1.9 0 1,0 -3.8,0M1619.1,661.3a2.6,2.6 0 1,0 5.2,0a2.6,2.6 0 1,0 -5.2,0M1573.0,560.6a2.6,2.6 0 1,0 5.2,0a2.6,2.6 0 1,0 -5.2,0M1623.6,549.6a1.7,1.7 0 1,0 3.4,0a1.7,1.7 0 1,0 -3.4,0M1663.7,648.2a1.2,1.2 0 1,0 2.4,0a1.2,1.2 0 1,0 -2.4,0M1667.8,684.5a1.3,1.3 0 1,0 2.5,0a1.3,1.3 0 1,0 -2.5,0M1618.5,715.7a1.9,1.9 0 1,0 3.9,0a1.9,1.9 0 1,0 -3.9,0M1691.3,639.0a1.1,1.1 0 1,0 2.2,0a1.1,1.1 0 1,0 -2.2,0M1607.8,707.8a2.8,2.8 0 1,0 5.5,0a2.8,2.8 0 1,0 -5.5,0M1635.3,734.1a2.5,2.5 0 1,0 4.9,0a2.5,2.5 0 1,0 -4.9,0M1556.8,526.6a1.2,1.2 0 1,0 2.5,0a1.2,1.2 0 1,0 -2.5,0M1435.3,730.3a2.5,2.5 0 1,0 5.0,0a2.5,2.5 0 1,0 -5.0,0M1678.9,695.3a1.7,1.7 0 1,0 3.4,0a1.7,1.7 0 1,0 -3.4,0M1582.3,518.4a1.2,1.2 0 1,0 2.4,0a1.2,1.2 0 1,0 -2.4,0M1535.7,525.0a1.4,1.4 0 1,0 2.9,0a1.4,1.4 0 1,0 -2.9,0M1569.6,550.4a1.2,1.2 0 1,0 2.5,0a1.2,1.2 0 1,0 -2.5,0M1445.5,620.0a2.6,2.6 0 1,0 5.1,0a2.6,2.6 0 1,0 -5.1,0M1548.3,678.2a2.3,2.3 0 1,0 4.5,0a2.3,2.3 0 1,0 -4.5,0M1649.7,699.8a1.8,1.8 0 1,0 3.5,0a1.8,1.8 0 1,0 -3.5,0M1435.5,552.1a1.4,1.4 0 1,0 2.8,0a1.4,1.4 0 1,0 -2.8,0M1517.5,653.4a1.8,1.8 0 1,0 3.5,0a1.8,1.8 0 1,0 -3.5,0M1503.2,551.9a2.3,2.3 0 1,0 4.6,0a2.3,2.3 0 1,0 -4.6,0M1704.6,677.6a1.2,1.2 0 1,0 2.4,0a1.2,1.2 0 1,0 -2.4,0M1618.9,700.6a1.8,1.8 0 1,0 3.7,0a1.8,1.8 0 1,0 -3.7,0M1601.7,715.3a1.7,1.7 0 1,0 3.5,0a1.7,1.7 0 1,0 -3.5,0M1621.5,552.2a2.6,2.6 0 1,0 5.1,0a2.6,2.6 0 1,0 -5.1,0M1583.5,557.4a2.0,2.0 0 1,0 4.1,0a2.0,2.0 0 1,0 -4.1,0M1656.1,617.3a1.4,1.4 0 1,0 2.9,0a1.4,1.4 0 1,0 -2.9,0M1622.3,746.6a2.9,2.9 0 1,0 5.8,0a2.9,2.9 0 1,0 -5.8,0M1510.0,626.8a1.5,1.5 0 1,0 3.1,0a1.5,1.5 0 1,0 -3.1,0M1462.7,640.9a1.4,1.4 0 1,0 2.8,0a1.4,1.4 0 1,0 -2.8,0M1557.3,707.5a1.9,1.9 0 1,0 3.8,0a1.9,1.9 0 1,0 -3.8,0M1703.0,560.2a1.3,1.3 0 1,0 2.5,0a1.3,1.3 0 1,0 -2.5,0M1440.7,678.6a1.4,1.4 0 1,0 2.8,0a1.4,1.4 0 1,0 -2.8,0M1482.9,662.3a3.0,3.0 0 1,0 5.9,0a3.0,3.0 0 1,0 -5.9,0M1634.4,737.7a2.8,2.8 0 1,0 5.6,0a2.8,2.8 0 1,0 -5.6,0M1570.8,564.1a2.4,2.4 0 1,0 4.7,0a2.4,2.4 0 1,0 -4.7,0M1484.0,528.8a1.5,1.5 0 1,0 3.1,0a1.5,1.5 0 1,0 -3.1,0M1631.5,661.4a1.6,1.6 0 1,0 3.2,0a1.6,1.6 0 1,0 -3.2,0M1457.4,552.9a2.0,2.0 0 1,0 4.0,0a2.0,2.0 0 1,0 -4.0,0M1561.5,640.1a2.3,2.3 0 1,0 4.6,0a2.3,2.3 0 1,0 -4.6,0M1583.4,716.7a2.8,2.8 0 1,0 5.6,0a2.8,2.8 0 1,0 -5.6,0M1569.1,597.2a1.8,1.8 0 1,0 3.6,0a1.8,1.8 0 1,0 -3.6,0M1492.3,553.7a2.3,2.3 0 1,0 4.5,0a2.3,2.3 0 1,0 -4.5,0M1547.3,517.7a1.6,1.6 0 1,0 3.1,0a1.6,1.6 0 1,0 -3.1,0M1513.7,526.7a1.1,1.1 0 1,0 2.2,0a1.1,1.1 0 1,0 -2.2,0M1595.1,701.9a2.6,2.6 0 1,0 5.1,0a2.6,2.6 0 1,0 -5.1,0M1590.9,565.5a2.1,2.1 0 1,0 4.1,0a2.1,2.1 0 1,0 -4.1,0M1498.6,566.7a1.5,1.5 0 1,0 2.9,0a1.5,1.5 0 1,0 -2.9,0M1459.1,538.6a3.0,3.0 0 1,0 5.9,0a3.0,3.0 0 1,0 -5.9,0M1445.5,741.0a2.2,2.2 0 1,0 4.4,0a2.2,2.2 0 1,0 -4.4,0M1631.9,538.6a2.2,2.2 0 1,0 4.3,0a2.2,2.2 0 1,0 -4.3,0M1478.8,632.0a1.7,1.7 0 1,0 3.4,0a1.7,1.7 0 1,0 -3.4,0M1678.2,536.0a1.1,1.1 0 1,0 2.2,0a1.1,1.1 0 1,0 -2.2,0M1587.2,636.0a2.1,2.1 0 1,0 4.2,0a2.1,2.1 0 1,0 -4.2,0M1446.0,599.7a2.2,2.2 0 1,0 4.5,0a2.2,2.2 0 1,0 -4.5,0M1590.4,586.8a1.1,1.1 0 1,0 2.2,0a1.1,1.1 0 1,0 -2.2,0M1434.9,722.4a1.4,1.4 0 1,0 2.7,0a1.4,1.4 0 1,0 -2.7,0M1442.7,581.1a1.3,1.3 0 1,0 2.6,0a1.3,1.3 0 1,0 -2.6,0M1575.9,523.9a1.9,1.9 0 1,0 3.7,0a1.9,1.9 0 1,0 -3.7,0M1605.0,638.6a2.0,2.0 0 1,0 4.0,0a2.0,2.0 0 1,0 -4.0,0M1489.9,604.5a2.3,2.3 0 1,0 4.7,0a2.3,2.3 0 1,0 -4.7,0M1503.4,706.8a1.3,1.3 0 1,0 2.5,0a1.3,1.3 0 1,0 -2.5,0M1557.0,723.6a2.1,2.1 0 1,0 4.3,0a2.1,2.1 0 1,0 -4.3,0M1500.6,598.5a1.4,1.4 0 1,0 2.8,0a1.4,1.4 0 1,0 -2.8,0M1634.1,598.3a2.6,2.6 0 1,0 5.1,0a2.6,2.6 0 1,0 -5.1,0M1619.0,708.0a1.8,1.8 0 1,0 3.7,0a1.8,1.8 0 1,0 -3.7,0M1502.0,674.2a1.6,1.6 0 1,0 3.3,0a1.6,1.6 0 1,0 -3.3,0M1437.0,618.3a1.3,1.3 0 1,0 2.5,0a1.3,1.3 0 1,0 -2.5,0M1441.7,574.9a2.9,2.9 0 1,0 5.7,0a2.9,2.9 0 1,0 -5.7,0M1611.4,614.5a1.9,1.9 0 1,0 3.9,0a1.9,1.9 0 1,0 -3.9,0M1532.1,645.0a1.4,1.4 0 1,0 2.7,0a1.4,1.4 0 1,0 -2.7,0M1664.3,699.3a1.7,1.7 0 1,0 3.3,0a1.7,1.7 0 1,0 -3.3,0M1578.9,600.1a2.4,2.4 0 1,0 4.8,0a2.4,2.4 0 1,0 -4.8,0M1659.2,730.3a1.2,1.2 0 1,0 2.3,0a1.2,1.2 0 1,0 -2.3,0M1679.8,563.8a1.2,1.2 0 1,0 2.3,0a1.2,1.2 0 1,0 -2.3,0M1539.8,664.7a1.2,1.2 0 1,0 2.3,0a1.2,1.2 0 1,0 -2.3,0M1603.8,740.1a2.4,2.4 0 1,0 4.8,0a2.4,2.4 0 1,0 -4.8,0M1656.8,549.7a1.5,1.5 0 1,0 2.9,0a1.5,1.5 0 1,0 -2.9,0M1491.1,599.5a2.7,2.7 0 1,0 5.4,0a2.7,2.7 0 1,0 -5.4,0M1704.1,574.6a1.9,1.9 0 1,0 3.8,0a1.9,1.9 0 1,0 -3.8,0M1594.4,741.1a1.7,1.7 0 1,0 3.3,0a1.7,1.7 0 1,0 -3.3,0M1456.0,535.7a1.2,1.2 0 1,0 2.4,0a1.2,1.2 0 1,0 -2.4,0M1556.5,534.1a2.2,2.2 0 1,0 4.4,0a2.2,2.2 0 1,0 -4.4,0M1476.4,522.4a2.3,2.3 0 1,0 4.5,0a2.3,2.3 0 1,0 -4.5,0M1553.0,690.3a1.9,1.9 0 1,0 3.9,0a1.9,1.9 0 1,0 -3.9,0M1529.3,529.0a2.6,2.6 0 1,0 5.2,0a2.6,2.6 0 1,0 -5.2,0M1615.2,573.9a1.1,1.1 0 1,0 2.3,0a1.1,1.1 0 1,0 -2.3,0M1599.9,731.3a2.3,2.3 0 1,0 4.6,0a2.3,2.3 0 1,0 -4.6,0M1683.9,746.3a1.2,1.2 0 1,0 2.4,0a1.2,1.2 0 1,0 -2.4,0M1474.8,622.1a1.2,1.2 0 1,0 2.3,0a1.2,1.2 0 1,0 -2.3,0M1559.6,704.5a1.4,1.4 0 1,0 2.7,0a1.4,1.4 0 1,0 -2.7,0M1652.9,572.3a2.5,2.5 0 1,0 5.0,0a2.5,2.5 0 1,0 -5.0,0M1444.3,540.4a1.1,1.1 0 1,0 2.2,0a1.1,1.1 0 1,0 -2.2,0M1585.9,517.7a2.2,2.2 0 1,0 4.4,0a2.2,2.2 0 1,0 -4.4,0M1540.6,725.4a1.6,1.6 0 1,0 3.1,0a1.6,1.6 0 1,0 -3.1,0M1658.5,689.4a1.5,1.5 0 1,0 3.1,0a1.5,1.5 0 1,0 -3.1,0M1642.6,653.6a2.0,2.0 0 1,0 3.9,0a2.0,2.0 0 1,0 -3.9,0M1542.8,548.7a1.8,1.8 0 1,0 3.6,0a1.8,1.8 0 1,0 -3.6,0M1567.8,614.1a3.0,3.0 0 1,0 5.9,0a3.0,3.0 0 1,0 -5.9,0M1470.4,726.8a1.9,1.9 0 1,0 3.8,0a1.9,1.9 0 1,0 -3.8,0M1450.5,644.9a1.3,1.3 0 1,0 2.5,0a1.3,1.3 0 1,0 -2.5,0M1561.9,625.3a2.4,2.4 0 1,0 4.8,0a2.4,2.4 0 1,0 -4.8,0M1678.8,529.3a2.7,2.7 0 1,0 5.3,0a2.7,2.7 0 1,0 -5.3,0M1688.2,548.0a1.1,1.1 0 1,0 2.3,0a1.1,1.1 0 1,0 -2.3,0M1554.1,519.9a1.2,1.2 0 1,0 2.4,0a1.2,1.2 0 1,0 -2.4,0M1566.5,561.6a2.0,2.0 0 1,0 4.0,0a2.0,2.0 0 1,0 -4.0,0M1480.7,669.2a2.0,2.0 0 1,0 4.1,0a2.0,2.0 0 1,0 -4.1,0M1442.5,673.6a2.8,2.8 0 1,0 5.6,0a2.8,2.8 0 1,0 -5.6,0M1703.2,522.3a2.2,2.2 0 1,0 4.4,0a2.2,2.2 0 1,0 -4.4,0M1512.5,610.5a1.7,1.7 0 1,0 3.4,0a1.7,1.7 0 1,0 -3.4,0M1436.5,660.6a1.2,1.2 0 1,0 2.4,0a1.2,1.2 0 1,0 -2.4,0M1664.2,536.3a2.0,2.0 0 1,0 4.1,0a2.0,2.0 0 1,0 -4.1,0M1579.4,520.0a1.2,1.2 0 1,0 2.3,0a1.2,1.2 0 1,0 -2.3,0M1563.1,604.3a1.2,1.2 0 1,0 2.4,0a1.2,1.2 0 1,0 -2.4,0M1450.0,566.9a2.5,2.5 0 1,0 5.0,0a2.5,2.5 0 1,0 -5.0,0M1461.4,690.6a1.2,1.2 0 1,0 2.3,0a1.2,1.2 0 1,0 -2.3,0M1652.5,693.9a2.7,2.7 0 1,0 5.3,0a2.7,2.7 0 1,0 -5.3,0M1532.8,741.9a1.6,1.6 0 1,0 3.2,0a1.6,1.6 0 1,0 -3.2,0M1601.3,707.4a1.2,1.2 0 1,0 2.4,0a1.2,1.2 0 1,0 -2.4,0M1435.4,675.8a1.3,1.3 0 1,0 2.6,0a1.3,1.3 0 1,0 -2.6,0M1484.7,628.6a1.2,1.2 0 1,0 2.5,0a1.2,1.2 0 1,0 -2.5,0M1499.3,560.1a1.2,1.2 0 1,0 2.3,0a1.2,1.2 0 1,0 -2.3,0M1652.6,711.1a2.3,2.3 0 1,0 4.6,0a2.3,2.3 0 1,0 -4.6,0M1546.5,729.5a1.9,1.9 0 1,0 3.7,0a1.9,1.9 0 1,0 -3.7,0M1579.4,517.4a1.5,1.5 0 1,0 3.0,0a1.5,1.5 0 1,0 -3.0,0M1482.3,667.3a2.9,2.9 0 1,0 5.8,0a2.9,2.9 0 1,0 -5.8,0M1599.1,587.6a2.5,2.5 0 1,0 5.1,0a2.5,2.5 0 1,0 -5.1,0M1445.3,702.0a1.1,1.1 0 1,0 2.2,0a1.1,1.1 0 1,0 -2.2,0M1694.1,690.1a3.0,3.0 0 1,0 5.9,0a3.0,3.0 0 1,0 -5.9,0M1558.9,667.2a1.6,1.6 0 1,0 3.2,0a1.6,1.6 0 1,0 -3.2,0M1634.8,639.0a1.7,1.7 0 1,0 3.4,0a1.7,1.7 0 1,0 -3.4,0M1650.0,733.7a1.4,1.4 0 1,0 2.8,0a1.4,1.4 0 1,0 -2.8,0M1495.3,746.4a1.5,1.5 0 1,0 2.9,0a1.5,1.5 0 1,0 -2.9,0M1526.6,641.2a1.4,1.4 0 1,0 2.8,0a1.4,1.4 0 1,0 -2.8,0M1551.3,577.1a1.7,1.7 0 1,0 3.3,0a1.7,1.7 0 1,0 -3.3,0M1647.1,692.1a2.8,2.8 0 1,0 5.6,0a2.8,2.8 0 1,0 -5.6,0M1685.8,575.3a2.4,2.4 0 1,0 4.8,0a2.4,2.4 0 1,0 -4.8,0M1618.3,659.7a1.7,1.7 0 1,0 3.5,0a1.7,1.7 0 1,0 -3.5,0M1681.7,645.1a2.8,2.8 0 1,0 5.7,0a2.8,2.8 0 1,0 -5.7,0M1452.5,596.7a1.2,1.2 0 1,0 2.4,0a1.2,1.2 0 1,0 -2.4,0M1626.4,620.4a1.4,1.4 0 1,0 2.9,0a1.4,1.4 0 1,0 -2.9,0M1517.9,626.4a1.4,1.4 0 1,0 2.8,0a1.4,1.4 0 1,0 -2.8,0M1562.4,659.0a1.1,1.1 0 1,0 2.2,0a1.1,1.1 0 1,0 -2.2,0M1483.9,635.9a2.1,2.1 0 1,0 4.2,0a2.1,2.1 0 1,0 -4.2,0M1590.0,684.9a1.6,1.6 0 1,0 3.3,0a1.6,1.6 0 1,0 -3.3,0M1680.4,693.1a1.8,1.8 0 1,0 3.6,0a1.8,1.8 0 1,0 -3.6,0M1584.0,701.8a1.4,1.4 0 1,0 2.8,0a1.4,1.4 0 1,0 -2.8,0M1502.0,629.8a1.8,1.8 0 1,0 3.6,0a1.8,1.8 0 1,0 -3.6,0M1435.7,630.8a2.8,2.8 0 1,0 5.5,0a2.8,2.8 0 1,0 -5.5,0M1666.7,639.5a2.2,2.2 0 1,0 4.4,0a2.2,2.2 0 1,0 -4.4,0M1526.5,529.3a2.5,2.5 0 1,0 5.0,0a2.5,2.5 0 1,0 -5.0,0M1574.5,656.2a2.0,2.0 0 1,0 4.0,0a2.0,2.0 0 1,0 -4.0,0M1698.1,583.5a1.9,1.9 0 1,0 3.8,0a1.9,1.9 0 1,0 -3.8,0M1629.1,674.1a2.8,2.8 0 1,0 5.5,0a2.8,2.8 0 1,0 -5.5,0M1434.3,699.9a1.1,1.1 0 1,0 2.2,0a1.1,1.1 0 1,0 -2.2,0M1511.3,595.4a2.5,2.5 0 1,0 4.9,0a2.5,2.5 0 1,0 -4.9,0M1673.8,642.9a1.9,1.9 0 1,0 3.8,0a1.9,1.9 0 1,0 -3.8,0M1610.7,518.6a1.5,1.5 0 1,0 3.1,0a1.5,1.5 0 1,0 -3.1,0M1550.4,523.8a1.4,1.4 0 1,0 2.9,0a1.4,1.4 0 1,0 -2.9,0M1501.8,542.7a1.3,1.3 0 1,0 2.5,0a1.3,1.3 0 1,0 -2.5,0M1526.2,668.1a2.6,2.6 0 1,0 5.2,0a2.6,2.6 0 1,0 -5.2,0M1511.9,697.5a2.2,2.2 0 1,0 4.5,0a2.2,2.2 0 1,0 -4.5,0M1450.3,559.5a2.7,2.7 0 1,0 5.3,0a2.7,2.7 0 1,0 -5.3,0M1461.7,659.9a1.9,1.9 0 1,0 3.9,0a1.9,1.9 0 1,0 -3.9,0M1649.7,695.2a2.5,2.5 0 1,0 5.0,0a2.5,2.5 0 1,0 -5.0,0M1459.7,682.6a2.7,2.7 0 1,0 5.4,0a2.7,2.7 0 1,0 -5.4,0M1611.2,737.9a1.1,1.1 0 1,0 2.3,0a1.1,1.1 0 1,0 -2.3,0M1554.3,740.2a1.4,1.4 0 1,0 2.8,0a1.4,1.4 0 1,0 -2.8,0M1520.0,581.8a1.5,1.5 0 1,0 3.1,0a1.5,1.5 0 1,0 -3.1,0M1544.7,631.4a1.3,1.3 0 1,0 2.7,0a1.3,1.3 0 1,0 -2.7,0M1564.0,731.3a1.5,1.5 0 1,0 3.0,0a1.5,1.5 0 1,0 -3.0,0M1492.2,728.2a2.2,2.2 0 1,0 4.5,0a2.2,2.2 0 1,0 -4.5,0M1645.2,728.0a3.0,3.0 0 1,0 5.9,0a3.0,3.0 0 1,0 -5.9,0M1507.7,512.6a2.3,2.3 0 1,0 4.6,0a2.3,2.3 0 1,0 -4.6,0M1608.2,603.8a2.7,2.7 0 1,0 5.5,0a2.7,2.7 0 1,0 -5.5,0M1649.4,646.7a2.0,2.0 0 1,0 4.0,0a2.0,2.0 0 1,0 -4.0,0M1541.0,555.6a1.4,1.4 0 1,0 2.8,0a1.4,1.4 0 1,0 -2.8,0M1628.2,628.8a1.8,1.8 0 1,0 3.6,0a1.8,1.8 0 1,0 -3.6,0M1608.1,732.9a1.2,1.2 0 1,0 2.4,0a1.2,1.2 0 1,0 -2.4,0M1448.9,693.5a1.3,1.3 0 1,0 2.6,0a1.3,1.3 0 1,0 -2.6,0M1582.8,631.8a2.1,2.1 0 1,0 4.3,0a2.1,2.1 0 1,0 -4.3,0M1602.8,606.4a2.0,2.0 0 1,0 4.0,0a2.0,2.0 0 1,0 -4.0,0M1686.9,710.2a1.7,1.7 0 1,0 3.4,0a1.7,1.7 0 1,0 -3.4,0M1628.1,580.8a2.8,2.8 0 1,0 5.6,0a2.8,2.8 0 1,0 -5.6,0M1422.3,645.9a2.4,2.4 0 1,0 4.7,0a2.4,2.4 0 1,0 -4.7,0M1680.4,639.8a1.8,1.8 0 1,0 3.6,0a1.8,1.8 0 1,0 -3.6,0M1594.3,690.6a1.5,1.5 0 1,0 3.1,0a1.5,1.5 0 1,0 -3.1,0M1603.0,572.3a1.1,1.1 0 1,0 2.3,0a1.1,1.1 0 1,0 -2.3,0M1444.2,554.5a1.6,1.6 0 1,0 3.2,0a1.6,1.6 0 1,0 -3.2,0M1459.0,696.3a2.2,2.2 0 1,0 4.4,0a2.2,2.2 0 1,0 -4.4,0M1531.0,554.6a1.6,1.6 0 1,0 3.2,0a1.6,1.6 0 1,0 -3.2,0M1668.7,709.2a2.2,2.2 0 1,0 4.4,0a2.2,2.2 0 1,0 -4.4,0M1531.1,708.9a1.8,1.8 0 1,0 3.6,0a1.8,1.8 0 1,0 -3.6,0M1518.1,724.3a2.1,2.1 0 1,0 4.3,0a2.1,2.1 0 1,0 -4.3,0M1438.1,528.6a1.7,1.7 0 1,0 3.4,0a1.7,1.7 0 1,0 -3.4,0M1641.7,615.5a1.8,1.8 0 1,0 3.7,0a1.8,1.8 0 1,0 -3.7,0M1460.8,654.8a1.6,1.6 0 1,0 3.2,0a1.6,1.6 0 1,0 -3.2,0M1524.2,562.2a2.0,2.0 0 1,0 3.9,0a2.0,2.0 0 1,0 -3.9,0M1656.7,637.8a2.0,2.0 0 1,0 4.0,0a2.0,2.0 0 1,0 -4.0,0M1579.3,679.4a2.2,2.2 0 1,0 4.4,0a2.2,2.2 0 1,0 -4.4,0M1425.0,739.8a1.8,1.8 0 1,0 3.5,0a1.8,1.8 0 1,0 -3.5,0M1435.5,682.7a2.4,2.4 0 1,0 4.7,0a2.4,2.4 0 1,0 -4.7,0M1526.5,653.6a1.1,1.1 0 1,0 2.2,0a1.1,1.1 0 1,0 -2.2,0M1630.3,671.0a2.5,2.5 0 1,0 5.0,0a2.5,2.5 0 1,0 -5.0,0M1556.4,728.9a1.6,1.6 0 1,0 3.2,0a1.6,1.6 0 1,0 -3.2,0M1423.8,533.4a1.4,1.4 0 1,0 2.9,0a1.4,1.4 0 1,0 -2.9,0M1486.3,566.7a1.2,1.2 0 1,0 2.3,0a1.2,1.2 0 1,0 -2.3,0M1604.8,721.5a2.8,2.8 0 1,0 5.6,0a2.8,2.8 0 1,0 -5.6,0M1522.2,629.9a1.8,1.8 0 1,0 3.6,0a1.8,1.8 0 1,0 -3.6,0M1592.5,683.9a1.6,1.6 0 1,0 3.3,0a1.6,1.6 0 1,0 -3.3,0M1428.2,586.8a1.1,1.1 0 1,0 2.2,0a1.1,1.1 0 1,0 -2.2,0M1615.2,740.3a1.9,1.9 0 1,0 3.8,0a1.9,1.9 0 1,0 -3.8,0M1616.7,646.4a2.9,2.9 0 1,0 5.8,0a2.9,2.9 0 1,0 -5.8,0M1469.7,646.9a1.5,1.5 0 1,0 2.9,0a1.5,1.5 0 1,0 -2.9,0M1551.2,563.6a2.4,2.4 0 1,0 4.8,0a2.4,2.4 0 1,0 -4.8,0M1515.6,575.5a2.6,2.6 0 1,0 5.2,0a2.6,2.6 0 1,0 -5.2,0M1426.0,556.3a2.8,2.8 0 1,0 5.6,0a2.8,2.8 0 1,0 -5.6,0M1611.4,559.8a1.2,1.2 0 1,0 2.4,0a1.2,1.2 0 1,0 -2.4,0M1611.4,708.4a3.0,3.0 0 1,0 6.0,0a3.0,3.0 0 1,0 -6.0,0M1689.5,689.3a1.1,1.1 0 1,0 2.3,0a1.1,1.1 0 1,0 -2.3,0M1645.1,615.4a1.8,1.8 0 1,0 3.7,0a1.8,1.8 0 1,0 -3.7,0M1428.7,515.6a1.8,1.8 0 1,0 3.6,0a1.8,1.8 0 1,0 -3.6,0M1603.8,576.2a2.9,2.9 0 1,0 5.8,0a2.9,2.9 0 1,0 -5.8,0M1440.3,718.4a2.8,2.8 0 1,0 5.6,0a2.8,2.8 0 1,0 -5.6,0M1446.8,707.4a2.0,2.0 0 1,0 4.0,0a2.0,2.0 0 1,0 -4.0,0M1545.0,615.3a1.9,1.9 0 1,0 3.7,0a1.9,1.9 0 1,0 -3.7,0M1684.6,690.8a1.7,1.7 0 1,0 3.4,0a1.7,1.7 0 1,0 -3.4,0M1552.0,553.8a1.9,1.9 0 1,0 3.7,0a1.9,1.9 0 1,0 -3.7,0M1665.6,661.7a2.0,2.0 0 1,0 4.0,0a2.0,2.0 0 1,0 -4.0,0M1549.2,744.1a2.6,2.6 0 1,0 5.2,0a2.6,2.6 0 1,0 -5.2,0M1567.9,668.2a2.5,2.5 0 1,0 5.0,0a2.5,2.5 0 1,0 -5.0,0M1495.1,660.5a1.4,1.4 0 1,0 2.8,0a1.4,1.4 0 1,0 -2.8,0M1637.4,584.3a2.9,2.9 0 1,0 5.8,0a2.9,2.9 0 1,0 -5.8,0M1618.1,636.7a1.9,1.9 0 1,0 3.8,0a1.9,1.9 0 1,0 -3.8,0M1588.0,575.3a1.1,1.1 0 1,0 2.2,0a1.1,1.1 0 1,0 -2.2,0M1550.3,581.6a1.7,1.7 0 1,0 3.4,0a1.7,1.7 0 1,0 -3.4,0M1480.5,561.0a2.9,2.9 0 1,0 5.9,0a2.9,2.9 0 1,0 -5.9,0M1529.7,688.6a1.2,1.2 0 1,0 2.4,0a1.2,1.2 0 1,0 -2.4,0M1446.9,675.1a1.6,1.6 0 1,0 3.3,0a1.6,1.6 0 1,0 -3.3,0M1648.8,517.4a1.8,1.8 0 1,0 3.5,0a1.8,1.8 0 1,0 -3.5,0M1590.8,564.6a2.3,2.3 0 1,0 4.5,0a2.3,2.3 0 1,0 -4.5,0M1478.1,537.9a1.2,1.2 0 1,0 2.4,0a1.2,1.2 0 1,0 -2.4,0M1434.5,607.5a2.4,2.4 0 1,0 4.8,0a2.4,2.4 0 1,0 -4.8,0M1471.6,579.2a1.5,1.5 0 1,0 2.9,0a1.5,1.5 0 1,0 -2.9,0M1483.8,717.1a2.5,2.5 0 1,0 5.1,0a2.5,2.5 0 1,0 -5.1,0M1455.0,667.6a2.7,2.7 0 1,0 5.5,0a2.7,2.7 0 1,0 -5.5,0M1426.2,607.0a1.1,1.1 0 1,0 2.2,0a1.1,1.1 0 1,0 -2.2,0M1511.8,541.4a1.7,1.7 0 1,0 3.4,0a1.7,1.7 0 1,0 -3.4,0M1480.2,685.2a1.5,1.5 0 1,0 3.1,0a1.5,1.5 0 1,0 -3.1,0M1445.7,642.6a1.7,1.7 0 1,0 3.4,0a1.7,1.7 0 1,0 -3.4,0M1632.1,687.7a1.3,1.3 0 1,0 2.7,0a1.3,1.3 0 1,0 -2.7,0M1529.7,682.0a2.9,2.9 0 1,0 5.8,0a2.9,2.9 0 1,0 -5.8,0M1578.8,656.1a1.5,1.5 0 1,0 2.9,0a1.5,1.5 0 1,0 -2.9,0M1545.2,587.0a1.8,1.8 0 1,0 3.5,0a1.8,1.8 0 1,0 -3.5,0M1503.7,588.2a1.1,1.1 0 1,0 2.2,0a1.1,1.1 0 1,0 -2.2,0M1447.1,716.4a1.5,1.5 0 1,0 3.0,0a1.5,1.5 0 1,0 -3.0,0M1695.2,570.2a1.5,1.5 0 1,0 3.0,0a1.5,1.5 0 1,0 -3.0,0M1674.8,617.1a2.2,2.2 0 1,0 4.3,0a2.2,2.2 0 1,0 -4.3,0M1642.3,603.6a1.3,1.3 0 1,0 2.5,0a1.3,1.3 0 1,0 -2.5,0M1424.7,715.6a1.9,1.9 0 1,0 3.9,0a1.9,1.9 0 1,0 -3.9,0M1642.6,743.5a2.6,2.6 0 1,0 5.3,0a2.6,2.6 0 1,0 -5.3,0M1589.6,538.6a1.9,1.9 0 1,0 3.9,0a1.9,1.9 0 1,0 -3.9,0M1559.9,536.2a1.1,1.1 0 1,0 2.2,0a1.1,1.1 0 1,0 -2.2,0M1519.1,600.0a2.7,2.7 0 1,0 5.3,0a2.7,2.7 0 1,0 -5.3,0M1703.8,729.2a1.4,1.4 0 1,0 2.9,0a1.4,1.4 0 1,0 -2.9,0M1663.9,602.1a1.5,1.5 0 1,0 3.0,0a1.5,1.5 0 1,0 -3.0,0M1585.4,522.2a2.2,2.2 0 1,0 4.3,0a2.2,2.2 0 1,0 -4.3,0M1438.9,650.9a2.3,2.3 0 1,0 4.7,0a2.3,2.3 0 1,0 -4.7,0M1439.1,664.7a1.8,1.8 0 1,0 3.6,0a1.8,1.8 0 1,0 -3.6,0M1521.1,696.5a1.4,1.4 0 1,0 2.9,0a1.4,1.4 0 1,0 -2.9,0M1476.7,609.5a1.5,1.5 0 1,0 3.0,0a1.5,1.5 0 1,0 -3.0,0M1654.6,561.0a1.6,1.6 0 1,0 3.2,0a1.6,1.6 0 1,0 -3.2,0M1643.3,621.3a1.5,1.5 0 1,0 2.9,0a1.5,1.5 0 1,0 -2.9,0M1463.6,595.2a1.8,1.8 0 1,0 3.7,0a1.8,1.8 0 1,0 -3.7,0M1642.8,747.3a1.8,1.8 0 1,0 3.7,0a1.8,1.8 0 1,0 -3.7,0M1563.2,691.0a1.7,1.7 0 1,0 3.4,0a1.7,1.7 0 1,0 -3.4,0M1493.3,676.6a2.5,2.5 0 1,0 5.1,0a2.5,2.5 0 1,0 -5.1,0M1485.4,714.8a1.1,1.1 0 1,0 2.3,0a1.1,1.1 0 1,0 -2.3,0M1474.9,601.1a2.7,2.7 0 1,0 5.5,0a2.7,2.7 0 1,0 -5.5,0M1558.8,593.7a1.3,1.3 0 1,0 2.7,0a1.3,1.3 0 1,0 -2.7,0M1554.2,644.2a2.0,2.0 0 1,0 4.0,0a2.0,2.0 0 1,0 -4.0,0M1674.5,541.5a2.3,2.3 0 1,0 4.5,0a2.3,2.3 0 1,0 -4.5,0M1694.1,655.4a2.2,2.2 0 1,0 4.5,0a2.2,2.2 0 1,0 -4.5,0M1650.5,721.0a1.4,1.4 0 1,0 2.9,0a1.4,1.4 0 1,0 -2.9,0M1550.9,710.4a1.2,1.2 0 1,0 2.4,0a1.2,1.2 0 1,0 -2.4,0M1549.3,739.8a1.6,1.6 0 1,0 3.2,0a1.6,1.6 0 1,0 -3.2,0M1544.8,612.3a1.7,1.7 0 1,0 3.5,0a1.7,1.7 0 1,0 -3.5,0M1639.9,538.1a1.7,1.7 0 1,0 3.4,0a1.7,1.7 0 1,0 -3.4,0M1542.0,738.4a2.6,2.6 0 1,0 5.2,0a2.6,2.6 0 1,0 -5.2,0M1504.1,587.4a3.0,3.0 0 1,0 6.0,0a3.0,3.0 0 1,0 -6.0,0M1426.2,676.7a1.1,1.1 0 1,0 2.2,0a1.1,1.1 0 1,0 -2.2,0M1504.4,664.5a2.2,2.2 0 1,0 4.3,0a2.2,2.2 0 1,0 -4.3,0M1602.5,565.1a1.6,1.6 0 1,0 3.2,0a1.6,1.6 0 1,0 -3.2,0M1664.0,577.7a1.8,1.8 0 1,0 3.7,0a1.8,1.8 0 1,0 -3.7,0M1579.5,714.3a2.5,2.5 0 1,0 4.9,0a2.5,2.5 0 1,0 -4.9,0M1645.3,591.8a2.3,2.3 0 1,0 4.6,0a2.3,2.3 0 1,0 -4.6,0M1674.7,530.1a2.3,2.3 0 1,0 4.5,0a2.3,2.3 0 1,0 -4.5,0M1552.9,603.1a2.1,2.1 0 1,0 4.2,0a2.1,2.1 0 1,0 -4.2,0M1650.4,725.3a2.5,2.5 0 1,0 4.9,0a2.5,2.5 0 1,0 -4.9,0M1686.2,715.4a1.8,1.8 0 1,0 3.6,0a1.8,1.8 0 1,0 -3.6,0M1617.8,727.5a2.0,2.0 0 1,0 3.9,0a2.0,2.0 0 1,0 -3.9,0M1441.6,606.5a2.2,2.2 0 1,0 4.3,0a2.2,2.2 0 1,0 -4.3,0M1427.2,538.6a2.6,2.6 0 1,0 5.1,0a2.6,2.6 0 1,0 -5.1,0M1615.3,516.7a2.4,2.4 0 1,0 4.8,0a2.4,2.4 0 1,0 -4.8,0M1594.8,602.1a2.1,2.1 0 1,0 4.2,0a2.1,2.1 0 1,0 -4.2,0M1448.1,545.3a2.2,2.2 0 1,0 4.4,0a2.2,2.2 0 1,0 -4.4,0M1615.4,657.8a1.6,1.6 0 1,0 3.3,0a1.6,1.6 0 1,0 -3.3,0M1476.7,542.8a2.8,2.8 0 1,0 5.6,0a2.8,2.8 0 1,0 -5.6,0M1504.2,610.5a1.8,1.8 0 1,0 3.6,0a1.8,1.8 0 1,0 -3.6,0M1423.4,588.1a1.3,1.3 0 1,0 2.5,0a1.3,1.3 0 1,0 -2.5,0M1452.1,731.2a1.2,1.2 0 1,0 2.5,0a1.2,1.2 0 1,0 -2.5,0M1504.6,575.9a2.4,2.4 0 1,0 4.8,0a2.4,2.4 0 1,0 -4.8,0M1667.5,662.4a2.1,2.1 0 1,0 4.1,0a2.1,2.1 0 1,0 -4.1,0M1591.7,519.4a2.1,2.1 0 1,0 4.3,0a2.1,2.1 0 1,0 -4.3,0M1691.3,719.8a2.8,2.8 0 1,0 5.5,0a2.8,2.8 0 1,0 -5.5,0M1456.8,680.4a3.0,3.0 0 1,0 6.0,0a3.0,3.0 0 1,0 -6.0,0M1490.0,580.5a2.9,2.9 0 1,0 5.9,0a2.9,2.9 0 1,0 -5.9,0M1490.2,548.4a2.2,2.2 0 1,0 4.3,0a2.2,2.2 0 1,0 -4.3,0M1514.0,658.8a1.3,1.3 0 1,0 2.7,0a1.3,1.3 0 1,0 -2.7,0M1487.1,651.0a1.6,1.6 0 1,0 3.3,0a1.6,1.6 0 1,0 -3.3,0M1611.7,643.2a1.3,1.3 0 1,0 2.7,0a1.3,1.3 0 1,0 -2.7,0M1480.9,531.1a1.1,1.1 0 1,0 2.3,0a1.1,1.1 0 1,0 -2.3,0M1624.2,590.3a1.1,1.1 0 1,0 2.2,0a1.1,1.1 0 1,0 -2.2,0M1430.4,713.8a2.0,2.0 0 1,0 4.1,0a2.0,2.0 0 1,0 -4.1,0M1481.6,698.2a2.7,2.7 0 1,0 5.4,0a2.7,2.7 0 1,0 -5.4,0M1437.1,555.6a2.2,2.2 0 1,0 4.3,0a2.2,2.2 0 1,0 -4.3,0M1641.6,575.0a1.7,1.7 0 1,0 3.5,0a1.7,1.7 0 1,0 -3.5,0M1516.1,602.6a2.6,2.6 0 1,0 5.1,0a2.6,2.6 0 1,0 -5.1,0M1584.4,661.4a2.7,2.7 0 1,0 5.5,0a2.7,2.7 0 1,0 -5.5,0M1682.1,670.1a1.1,1.1 0 1,0 2.2,0a1.1,1.1 0 1,0 -2.2,0M1526.8,740.8a1.7,1.7 0 1,0 3.4,0a1.7,1.7 0 1,0 -3.4,0M1430.7,670.3a1.9,1.9 0 1,0 3.8,0a1.9,1.9 0 1,0 -3.8,0M1628.3,643.3a1.4,1.4 0 1,0 2.8,0a1.4,1.4 0 1,0 -2.8,0M1528.5,543.5a1.6,1.6 0 1,0 3.2,0a1.6,1.6 0 1,0 -3.2,0M1566.7,543.4a1.1,1.1 0 1,0 2.2,0a1.1,1.1 0 1,0 -2.2,0M1600.6,662.5a2.4,2.4 0 1,0 4.8,0a2.4,2.4 0 1,0 -4.8,0M1554.0,532.9a1.8,1.8 0 1,0 3.6,0a1.8,1.8 0 1,0 -3.6,0M1506.4,725.7a1.3,1.3 0 1,0 2.6,0a1.3,1.3 0 1,0 -2.6,0M1651.6,663.9a1.4,1.4 0 1,0 2.8,0a1.4,1.4 0 1,0 -2.8,0M1591.4,528.1a1.4,1.4 0 1,0 2.7,0a1.4,1.4 0 1,0 -2.7,0M1622.1,521.9a1.9,1.9 0 1,0 3.8,0a1.9,1.9 0 1,0 -3.8,0M1677.6,739.1a2.4,2.4 0 1,0 4.8,0a2.4,2.4 0 1,0 -4.8,0M1656.5,586.8a1.5,1.5 0 1,0 3.0,0a1.5,1.5 0 1,0 -3.0,0M1496.6,527.5a1.1,1.1 0 1,0 2.3,0a1.1,1.1 0 1,0 -2.3,0M1438.1,563.8a1.5,1.5 0 1,0 2.9,0a1.5,1.5 0 1,0 -2.9,0M1528.2,625.8a2.6,2.6 0 1,0 5.1,0a2.6,2.6 0 1,0 -5.1,0M1525.0,622.7a2.5,2.5 0 1,0 4.9,0a2.5,2.5 0 1,0 -4.9,0M1548.0,682.6a2.9,2.9 0 1,0 5.8,0a2.9,2.9 0 1,0 -5.8,0M1675.3,577.9a2.6,2.6 0 1,0 5.1,0a2.6,2.6 0 1,0 -5.1,0M1684.9,567.5a1.2,1.2 0 1,0 2.4,0a1.2,1.2 0 1,0 -2.4,0M1629.0,668.5a1.3,1.3 0 1,0 2.6,0a1.3,1.3 0 1,0 -2.6,0M1698.9,621.9a2.9,2.9 0 1,0 5.9,0a2.9,2.9 0 1,0 -5.9,0M1564.3,682.0a1.2,1.2 0 1,0 2.4,0a1.2,1.2 0 1,0 -2.4,0M1651.8,616.5a1.3,1.3 0 1,0 2.6,0a1.3,1.3 0 1,0 -2.6,0" fill="#b7423f" opacity="0.85"/>
<path d="M1542.1,667.7a2.4,2.4 0 1,0 4.8,0a2.4,2.4 0 1,0 -4.8,0M1637.3,728.3a2.3,2.3 0 1,0 4.5,0a2.3,2.3 0 1,0 -4.5,0M1527.3,553.0a2.4,2.4 0 1,0 4.8,0a2.4,2.4 0 1,0 -4.8,0M1545.0,737.6a2.2,2.2 0 1,0 4.3,0a2.2,2.2 0 1,0 -4.3,0M1646.0,650.4a1.7,1.7 0 1,0 3.4,0a1.7,1.7 0 1,0 -3.4,0M1560.0,668.7a1.6,1.6 0 1,0 3.2,0a1.6,1.6 0 1,0 -3.2,0M1527.5,700.2a1.7,1.7 0 1,0 3.4,0a1.7,1.7 0 1,0 -3.4,0M1425.5,564.7a1.9,1.9 0 1,0 3.9,0a1.9,1.9 0 1,0 -3.9,0M1501.7,635.6a1.8,1.8 0 1,0 3.5,0a1.8,1.8 0 1,0 -3.5,0M1544.1,728.5a2.3,2.3 0 1,0 4.7,0a2.3,2.3 0 1,0 -4.7,0M1636.7,616.1a2.1,2.1 0 1,0 4.1,0a2.1,2.1 0 1,0 -4.1,0M1648.7,561.1a1.9,1.9 0 1,0 3.7,0a1.9,1.9 0 1,0 -3.7,0M1460.8,619.6a1.8,1.8 0 1,0 3.6,0a1.8,1.8 0 1,0 -3.6,0M1612.2,597.9a2.2,2.2 0 1,0 4.3,0a2.2,2.2 0 1,0 -4.3,0M1585.1,651.2a1.9,1.9 0 1,0 3.9,0a1.9,1.9 0 1,0 -3.9,0M1540.3,541.8a2.1,2.1 0 1,0 4.3,0a2.1,2.1 0 1,0 -4.3,0M1512.6,579.3a2.4,2.4 0 1,0 4.8,0a2.4,2.4 0 1,0 -4.8,0M1540.0,537.8a2.1,2.1 0 1,0 4.2,0a2.1,2.1 0 1,0 -4.2,0M1535.0,603.1a2.1,2.1 0 1,0 4.2,0a2.1,2.1 0 1,0 -4.2,0M1564.6,723.6a1.8,1.8 0 1,0 3.6,0a1.8,1.8 0 1,0 -3.6,0M1652.4,711.2a1.8,1.8 0 1,0 3.5,0a1.8,1.8 0 1,0 -3.5,0M1426.2,548.9a2.0,2.0 0 1,0 4.1,0a2.0,2.0 0 1,0 -4.1,0M1667.7,622.2a1.7,1.7 0 1,0 3.5,0a1.7,1.7 0 1,0 -3.5,0M1588.2,698.3a2.4,2.4 0 1,0 4.9,0a2.4,2.4 0 1,0 -4.9,0M1579.1,557.6a2.1,2.1 0 1,0 4.1,0a2.1,2.1 0 1,0 -4.1,0M1564.0,562.0a1.6,1.6 0 1,0 3.2,0a1.6,1.6 0 1,0 -3.2,0M1669.2,578.9a2.4,2.4 0 1,0 4.7,0a2.4,2.4 0 1,0 -4.7,0M1582.0,513.0a2.4,2.4 0 1,0 4.8,0a2.4,2.4 0 1,0 -4.8,0M1699.5,555.3a2.2,2.2 0 1,0 4.4,0a2.2,2.2 0 1,0 -4.4,0M1434.2,722.9a1.6,1.6 0 1,0 3.3,0a1.6,1.6 0 1,0 -3.3,0M1596.5,688.5a2.1,2.1 0 1,0 4.2,0a2.1,2.1 0 1,0 -4.2,0M1671.5,554.4a2.5,2.5 0 1,0 4.9,0a2.5,2.5 0 1,0 -4.9,0M1606.8,538.6a1.5,1.5 0 1,0 3.1,0a1.5,1.5 0 1,0 -3.1,0M1481.7,540.3a1.9,1.9 0 1,0 3.8,0a1.9,1.9 0 1,0 -3.8,0M1456.3,581.7a2.4,2.4 0 1,0 4.7,0a2.4,2.4 0 1,0 -4.7,0M1620.9,579.0a1.6,1.6 0 1,0 3.2,0a1.6,1.6 0 1,0 -3.2,0M1448.1,585.7a1.6,1.6 0 1,0 3.1,0a1.6,1.6 0 1,0 -3.1,0M1461.6,746.1a1.8,1.8 0 1,0 3.7,0a1.8,1.8 0 1,0 -3.7,0M1657.5,525.6a1.7,1.7 0 1,0 3.3,0a1.7,1.7 0 1,0 -3.3,0M1435.9,638.1a2.4,2.4 0 1,0 4.7,0a2.4,2.4 0 1,0 -4.7,0M1662.7,598.4a2.3,2.3 0 1,0 4.6,0a2.3,2.3 0 1,0 -4.6,0M1532.6,635.3a1.8,1.8 0 1,0 3.6,0a1.8,1.8 0 1,0 -3.6,0M1515.7,663.3a1.9,1.9 0 1,0 3.8,0a1.9,1.9 0 1,0 -3.8,0M1478.5,591.7a1.5,1.5 0 1,0 3.1,0a1.5,1.5 0 1,0 -3.1,0M1528.6,728.8a2.1,2.1 0 1,0 4.1,0a2.1,2.1 0 1,0 -4.1,0M1497.8,623.6a2.0,2.0 0 1,0 4.1,0a2.0,2.0 0 1,0 -4.1,0M1463.1,640.4a1.8,1.8 0 1,0 3.5,0a1.8,1.8 0 1,0 -3.5,0M1452.9,565.7a1.8,1.8 0 1,0 3.7,0a1.8,1.8 0 1,0 -3.7,0M1625.1,523.9a2.0,2.0 0 1,0 4.0,0a2.0,2.0 0 1,0 -4.0,0M1586.2,711.8a1.6,1.6 0 1,0 3.3,0a1.6,1.6 0 1,0 -3.3,0M1643.2,592.0a1.6,1.6 0 1,0 3.3,0a1.6,1.6 0 1,0 -3.3,0M1611.8,680.2a2.5,2.5 0 1,0 5.0,0a2.5,2.5 0 1,0 -5.0,0M1494.0,678.1a2.4,2.4 0 1,0 4.9,0a2.4,2.4 0 1,0 -4.9,0M1572.7,675.5a1.6,1.6 0 1,0 3.2,0a1.6,1.6 0 1,0 -3.2,0M1504.4,605.5a1.7,1.7 0 1,0 3.4,0a1.7,1.7 0 1,0 -3.4,0M1455.0,598.9a2.1,2.1 0 1,0 4.3,0a2.1,2.1 0 1,0 -4.3,0M1565.0,634.6a2.0,2.0 0 1,0 4.0,0a2.0,2.0 0 1,0 -4.0,0M1634.5,685.9a1.8,1.8 0 1,0 3.7,0a1.8,1.8 0 1,0 -3.7,0M1451.7,544.7a1.9,1.9 0 1,0 3.7,0a1.9,1.9 0 1,0 -3.7,0M1541.1,676.9a1.6,1.6 0 1,0 3.2,0a1.6,1.6 0 1,0 -3.2,0M1482.0,687.2a2.4,2.4 0 1,0 4.7,0a2.4,2.4 0 1,0 -4.7,0M1496.6,643.1a2.1,2.1 0 1,0 4.1,0a2.1,2.1 0 1,0 -4.1,0M1494.6,629.2a1.6,1.6 0 1,0 3.1,0a1.6,1.6 0 1,0 -3.1,0M1687.1,569.9a2.4,2.4 0 1,0 4.8,0a2.4,2.4 0 1,0 -4.8,0M1674.7,609.0a1.7,1.7 0 1,0 3.3,0a1.7,1.7 0 1,0 -3.3,0M1503.8,730.8a1.6,1.6 0 1,0 3.1,0a1.6,1.6 0 1,0 -3.1,0M1496.8,574.9a1.9,1.9 0 1,0 3.7,0a1.9,1.9 0 1,0 -3.7,0M1699.8,615.8a2.4,2.4 0 1,0 4.8,0a2.4,2.4 0 1,0 -4.8,0M1606.7,514.1a1.9,1.9 0 1,0 3.7,0a1.9,1.9 0 1,0 -3.7,0M1516.6,556.6a1.7,1.7 0 1,0 3.5,0a1.7,1.7 0 1,0 -3.5,0M1483.8,721.1a2.1,2.1 0 1,0 4.1,0a2.1,2.1 0 1,0 -4.1,0M1548.0,581.7a2.1,2.1 0 1,0 4.3,0a2.1,2.1 0 1,0 -4.3,0M1521.1,518.2a1.7,1.7 0 1,0 3.3,0a1.7,1.7 0 1,0 -3.3,0M1650.6,674.2a2.2,2.2 0 1,0 4.4,0a2.2,2.2 0 1,0 -4.4,0M1544.7,658.0a1.5,1.5 0 1,0 3.0,0a1.5,1.5 0 1,0 -3.0,0M1600.9,709.2a2.1,2.1 0 1,0 4.2,0a2.1,2.1 0 1,0 -4.2,0M1569.7,675.5a2.3,2.3 0 1,0 4.6,0a2.3,2.3 0 1,0 -4.6,0M1538.1,538.9a2.1,2.1 0 1,0 4.3,0a2.1,2.1 0 1,0 -4.3,0M1605.2,733.7a1.5,1.5 0 1,0 3.1,0a1.5,1.5 0 1,0 -3.1,0M1585.6,726.1a1.5,1.5 0 1,0 3.1,0a1.5,1.5 0 1,0 -3.1,0M1613.8,664.3a2.3,2.3 0 1,0 4.7,0a2.3,2.3 0 1,0 -4.7,0M1574.8,672.7a2.3,2.3 0 1,0 4.6,0a2.3,2.3 0 1,0 -4.6,0M1482.8,515.3a2.2,2.2 0 1,0 4.4,0a2.2,2.2 0 1,0 -4.4,0M1468.5,540.2a1.6,1.6 0 1,0 3.2,0a1.6,1.6 0 1,0 -3.2,0M1674.8,720.4a2.0,2.0 0 1,0 4.0,0a2.0,2.0 0 1,0 -4.0,0M1629.1,580.5a1.6,1.6 0 1,0 3.2,0a1.6,1.6 0 1,0 -3.2,0M1596.0,577.1a1.6,1.6 0 1,0 3.1,0a1.6,1.6 0 1,0 -3.1,0M1626.7,513.2a2.2,2.2 0 1,0 4.3,0a2.2,2.2 0 1,0 -4.3,0M1474.5,579.7a1.9,1.9 0 1,0 3.7,0a1.9,1.9 0 1,0 -3.7,0M1632.6,663.6a1.6,1.6 0 1,0 3.2,0a1.6,1.6 0 1,0 -3.2,0M1511.0,639.6a2.5,2.5 0 1,0 4.9,0a2.5,2.5 0 1,0 -4.9,0M1545.2,703.3a2.3,2.3 0 1,0 4.6,0a2.3,2.3 0 1,0 -4.6,0M1636.5,570.6a1.6,1.6 0 1,0 3.3,0a1.6,1.6 0 1,0 -3.3,0M1646.2,564.8a2.0,2.0 0 1,0 4.0,0a2.0,2.0 0 1,0 -4.0,0M1540.4,655.8a2.4,2.4 0 1,0 4.9,0a2.4,2.4 0 1,0 -4.9,0M1484.3,529.4a2.3,2.3 0 1,0 4.5,0a2.3,2.3 0 1,0 -4.5,0M1486.2,644.4a1.8,1.8 0 1,0 3.5,0a1.8,1.8 0 1,0 -3.5,0M1666.0,661.2a2.3,2.3 0 1,0 4.6,0a2.3,2.3 0 1,0 -4.6,0M1522.1,559.7a2.2,2.2 0 1,0 4.3,0a2.2,2.2 0 1,0 -4.3,0M1473.9,527.6a2.5,2.5 0 1,0 5.0,0a2.5,2.5 0 1,0 -5.0,0M1662.1,534.6a1.9,1.9 0 1,0 3.8,0a1.9,1.9 0 1,0 -3.8,0M1444.7,526.9a2.1,2.1 0 1,0 4.2,0a2.1,2.1 0 1,0 -4.2,0M1646.6,738.4a2.4,2.4 0 1,0 4.8,0a2.4,2.4 0 1,0 -4.8,0M1532.9,520.0a2.2,2.2 0 1,0 4.3,0a2.2,2.2 0 1,0 -4.3,0M1560.1,541.6a1.7,1.7 0 1,0 3.5,0a1.7,1.7 0 1,0 -3.5,0M1468.5,731.9a1.8,1.8 0 1,0 3.6,0a1.8,1.8 0 1,0 -3.6,0M1698.3,646.7a2.2,2.2 0 1,0 4.4,0a2.2,2.2 0 1,0 -4.4,0M1641.2,565.4a2.3,2.3 0 1,0 4.7,0a2.3,2.3 0 1,0 -4.7,0M1685.2,534.1a1.8,1.8 0 1,0 3.6,0a1.8,1.8 0 1,0 -3.6,0M1496.2,654.2a2.3,2.3 0 1,0 4.6,0a2.3,2.3 0 1,0 -4.6,0" fill="#8da2bf" opacity="0.8"/>
</g>
<clipPath id="cliplvb"><rect x="1715" y="512.4" width="277.5" height="235.4"/></clipPath>
<g clip-path="url(#cliplvb)">
<rect x="1715" y="512.4" width="277.5" height="235.4" fill="#cdb9bc" />
<filter id="ltlvb" x="1715" y="512.4" width="277.5" height="235.4" filterUnits="userSpaceOnUse"><feTurbulence type="fractalNoise" baseFrequency="0.42" numOctaves="2" seed="7" result="n"/><feColorMatrix in="n" type="matrix" values="0 0 0 0 0.74  0 0 0 0 0.3  0 0 0 0 0.28  3.4 0 0 0 -1.65" result="r"/><feColorMatrix in="n" type="matrix" values="0 0 0 0 0.96  0 0 0 0 0.94  0 0 0 0 0.94  0 3.4 0 0 -2.108" result="wt"/><feMerge><feMergeNode in="r"/><feMergeNode in="wt"/></feMerge></filter>
<rect x="1715" y="512.4" width="277.5" height="235.4" fill="#fff" filter="url(#ltlvb)"/>
<path d="M1980.1,545.4a0.8,0.8 0 1,0 1.6,0a0.8,0.8 0 1,0 -1.6,0M1991.3,555.8a0.9,0.9 0 1,0 1.7,0a0.9,0.9 0 1,0 -1.7,0M1894.0,593.8a1.8,1.8 0 1,0 3.6,0a1.8,1.8 0 1,0 -3.6,0M1778.3,738.3a1.0,1.0 0 1,0 2.0,0a1.0,1.0 0 1,0 -2.0,0M1880.3,731.8a1.5,1.5 0 1,0 3.0,0a1.5,1.5 0 1,0 -3.0,0M1970.6,679.1a0.8,0.8 0 1,0 1.6,0a0.8,0.8 0 1,0 -1.6,0M1958.6,651.2a1.0,1.0 0 1,0 2.0,0a1.0,1.0 0 1,0 -2.0,0M1766.4,712.4a1.3,1.3 0 1,0 2.7,0a1.3,1.3 0 1,0 -2.7,0M1973.4,694.6a1.9,1.9 0 1,0 3.9,0a1.9,1.9 0 1,0 -3.9,0M1870.8,676.8a1.4,1.4 0 1,0 2.7,0a1.4,1.4 0 1,0 -2.7,0M1785.7,737.6a1.0,1.0 0 1,0 2.0,0a1.0,1.0 0 1,0 -2.0,0M1930.3,737.1a1.4,1.4 0 1,0 2.9,0a1.4,1.4 0 1,0 -2.9,0M1753.0,706.7a1.5,1.5 0 1,0 2.9,0a1.5,1.5 0 1,0 -2.9,0M1765.1,524.0a1.3,1.3 0 1,0 2.5,0a1.3,1.3 0 1,0 -2.5,0M1722.7,730.2a1.2,1.2 0 1,0 2.5,0a1.2,1.2 0 1,0 -2.5,0M1857.1,608.8a1.4,1.4 0 1,0 2.9,0a1.4,1.4 0 1,0 -2.9,0M1968.2,584.7a1.1,1.1 0 1,0 2.1,0a1.1,1.1 0 1,0 -2.1,0M1875.3,582.4a1.4,1.4 0 1,0 2.7,0a1.4,1.4 0 1,0 -2.7,0M1864.3,614.4a1.5,1.5 0 1,0 2.9,0a1.5,1.5 0 1,0 -2.9,0M1859.6,533.1a2.0,2.0 0 1,0 4.0,0a2.0,2.0 0 1,0 -4.0,0M1812.6,614.0a1.1,1.1 0 1,0 2.2,0a1.1,1.1 0 1,0 -2.2,0M1971.7,736.5a1.2,1.2 0 1,0 2.5,0a1.2,1.2 0 1,0 -2.5,0M1824.4,535.1a1.8,1.8 0 1,0 3.6,0a1.8,1.8 0 1,0 -3.6,0M1761.5,641.1a1.0,1.0 0 1,0 2.1,0a1.0,1.0 0 1,0 -2.1,0M1805.2,596.5a0.9,0.9 0 1,0 1.8,0a0.9,0.9 0 1,0 -1.8,0M1723.6,638.4a1.7,1.7 0 1,0 3.3,0a1.7,1.7 0 1,0 -3.3,0M1893.1,559.8a1.5,1.5 0 1,0 3.0,0a1.5,1.5 0 1,0 -3.0,0M1727.8,609.1a1.7,1.7 0 1,0 3.4,0a1.7,1.7 0 1,0 -3.4,0M1968.8,620.8a1.7,1.7 0 1,0 3.5,0a1.7,1.7 0 1,0 -3.5,0M1852.0,635.7a1.3,1.3 0 1,0 2.7,0a1.3,1.3 0 1,0 -2.7,0M1988.9,687.5a1.2,1.2 0 1,0 2.4,0a1.2,1.2 0 1,0 -2.4,0M1915.8,663.8a1.1,1.1 0 1,0 2.1,0a1.1,1.1 0 1,0 -2.1,0M1931.2,705.4a1.4,1.4 0 1,0 2.7,0a1.4,1.4 0 1,0 -2.7,0M1975.4,516.7a1.2,1.2 0 1,0 2.4,0a1.2,1.2 0 1,0 -2.4,0M1890.2,592.6a0.9,0.9 0 1,0 1.8,0a0.9,0.9 0 1,0 -1.8,0M1906.1,614.7a1.0,1.0 0 1,0 1.9,0a1.0,1.0 0 1,0 -1.9,0M1725.6,740.1a1.1,1.1 0 1,0 2.1,0a1.1,1.1 0 1,0 -2.1,0M1746.8,563.3a1.0,1.0 0 1,0 1.9,0a1.0,1.0 0 1,0 -1.9,0M1954.4,554.9a1.0,1.0 0 1,0 1.9,0a1.0,1.0 0 1,0 -1.9,0M1741.1,623.0a0.9,0.9 0 1,0 1.8,0a0.9,0.9 0 1,0 -1.8,0M1808.6,685.4a1.9,1.9 0 1,0 3.7,0a1.9,1.9 0 1,0 -3.7,0M1945.4,521.4a1.1,1.1 0 1,0 2.2,0a1.1,1.1 0 1,0 -2.2,0M1949.7,520.2a0.9,0.9 0 1,0 1.8,0a0.9,0.9 0 1,0 -1.8,0M1849.4,602.4a1.6,1.6 0 1,0 3.2,0a1.6,1.6 0 1,0 -3.2,0M1913.3,621.7a0.9,0.9 0 1,0 1.9,0a0.9,0.9 0 1,0 -1.9,0M1778.2,575.1a0.8,0.8 0 1,0 1.6,0a0.8,0.8 0 1,0 -1.6,0M1897.9,549.5a1.8,1.8 0 1,0 3.6,0a1.8,1.8 0 1,0 -3.6,0M1893.0,525.8a1.2,1.2 0 1,0 2.4,0a1.2,1.2 0 1,0 -2.4,0M1881.3,522.3a1.2,1.2 0 1,0 2.4,0a1.2,1.2 0 1,0 -2.4,0M1722.5,692.8a0.8,0.8 0 1,0 1.6,0a0.8,0.8 0 1,0 -1.6,0M1888.6,744.4a1.7,1.7 0 1,0 3.5,0a1.7,1.7 0 1,0 -3.5,0M1778.9,638.2a0.9,0.9 0 1,0 1.7,0a0.9,0.9 0 1,0 -1.7,0M1808.3,715.8a1.7,1.7 0 1,0 3.4,0a1.7,1.7 0 1,0 -3.4,0M1716.1,601.8a1.4,1.4 0 1,0 2.8,0a1.4,1.4 0 1,0 -2.8,0M1761.9,701.3a1.8,1.8 0 1,0 3.6,0a1.8,1.8 0 1,0 -3.6,0M1866.3,597.6a1.7,1.7 0 1,0 3.5,0a1.7,1.7 0 1,0 -3.5,0M1856.3,556.7a1.0,1.0 0 1,0 2.0,0a1.0,1.0 0 1,0 -2.0,0M1757.9,709.8a1.2,1.2 0 1,0 2.5,0a1.2,1.2 0 1,0 -2.5,0M1906.4,704.8a2.0,2.0 0 1,0 3.9,0a2.0,2.0 0 1,0 -3.9,0M1766.1,607.9a1.8,1.8 0 1,0 3.6,0a1.8,1.8 0 1,0 -3.6,0M1924.9,603.4a1.4,1.4 0 1,0 2.9,0a1.4,1.4 0 1,0 -2.9,0M1768.3,550.5a0.8,0.8 0 1,0 1.6,0a0.8,0.8 0 1,0 -1.6,0M1819.1,567.9a1.2,1.2 0 1,0 2.5,0a1.2,1.2 0 1,0 -2.5,0M1982.7,548.4a1.3,1.3 0 1,0 2.6,0a1.3,1.3 0 1,0 -2.6,0M1953.7,653.3a1.3,1.3 0 1,0 2.5,0a1.3,1.3 0 1,0 -2.5,0M1926.2,517.5a1.9,1.9 0 1,0 3.8,0a1.9,1.9 0 1,0 -3.8,0M1903.8,702.3a1.7,1.7 0 1,0 3.4,0a1.7,1.7 0 1,0 -3.4,0M1741.5,528.1a0.9,0.9 0 1,0 1.8,0a0.9,0.9 0 1,0 -1.8,0M1853.2,733.3a1.8,1.8 0 1,0 3.7,0a1.8,1.8 0 1,0 -3.7,0M1827.8,658.9a1.6,1.6 0 1,0 3.1,0a1.6,1.6 0 1,0 -3.1,0M1805.3,740.9a1.9,1.9 0 1,0 3.8,0a1.9,1.9 0 1,0 -3.8,0M1915.1,724.6a1.7,1.7 0 1,0 3.3,0a1.7,1.7 0 1,0 -3.3,0M1895.0,588.0a1.0,1.0 0 1,0 2.0,0a1.0,1.0 0 1,0 -2.0,0M1779.3,525.9a1.9,1.9 0 1,0 3.7,0a1.9,1.9 0 1,0 -3.7,0M1796.8,518.0a1.0,1.0 0 1,0 2.0,0a1.0,1.0 0 1,0 -2.0,0M1742.6,617.2a1.0,1.0 0 1,0 2.1,0a1.0,1.0 0 1,0 -2.1,0M1762.6,624.6a1.1,1.1 0 1,0 2.2,0a1.1,1.1 0 1,0 -2.2,0M1812.2,703.8a1.0,1.0 0 1,0 2.0,0a1.0,1.0 0 1,0 -2.0,0M1863.3,719.1a1.9,1.9 0 1,0 3.9,0a1.9,1.9 0 1,0 -3.9,0M1817.1,521.9a1.9,1.9 0 1,0 3.8,0a1.9,1.9 0 1,0 -3.8,0M1856.8,563.6a0.9,0.9 0 1,0 1.7,0a0.9,0.9 0 1,0 -1.7,0M1780.5,585.5a0.9,0.9 0 1,0 1.7,0a0.9,0.9 0 1,0 -1.7,0M1726.9,746.5a1.7,1.7 0 1,0 3.4,0a1.7,1.7 0 1,0 -3.4,0M1744.8,625.6a1.7,1.7 0 1,0 3.3,0a1.7,1.7 0 1,0 -3.3,0M1854.0,528.7a1.0,1.0 0 1,0 2.1,0a1.0,1.0 0 1,0 -2.1,0M1819.3,727.7a1.3,1.3 0 1,0 2.7,0a1.3,1.3 0 1,0 -2.7,0M1841.6,660.9a0.8,0.8 0 1,0 1.6,0a0.8,0.8 0 1,0 -1.6,0M1904.0,702.6a1.5,1.5 0 1,0 2.9,0a1.5,1.5 0 1,0 -2.9,0M1814.3,579.7a0.8,0.8 0 1,0 1.6,0a0.8,0.8 0 1,0 -1.6,0M1736.6,548.8a1.2,1.2 0 1,0 2.3,0a1.2,1.2 0 1,0 -2.3,0M1929.8,563.5a1.2,1.2 0 1,0 2.4,0a1.2,1.2 0 1,0 -2.4,0M1890.7,660.6a0.8,0.8 0 1,0 1.6,0a0.8,0.8 0 1,0 -1.6,0M1969.5,650.2a1.0,1.0 0 1,0 2.0,0a1.0,1.0 0 1,0 -2.0,0M1779.5,674.6a1.9,1.9 0 1,0 3.8,0a1.9,1.9 0 1,0 -3.8,0M1807.3,606.1a1.3,1.3 0 1,0 2.6,0a1.3,1.3 0 1,0 -2.6,0M1761.7,607.9a1.9,1.9 0 1,0 3.7,0a1.9,1.9 0 1,0 -3.7,0M1868.4,706.1a1.0,1.0 0 1,0 1.9,0a1.0,1.0 0 1,0 -1.9,0M1955.1,696.6a0.9,0.9 0 1,0 1.9,0a0.9,0.9 0 1,0 -1.9,0M1860.8,672.9a1.3,1.3 0 1,0 2.6,0a1.3,1.3 0 1,0 -2.6,0M1880.7,568.9a1.3,1.3 0 1,0 2.6,0a1.3,1.3 0 1,0 -2.6,0M1812.3,700.2a1.1,1.1 0 1,0 2.1,0a1.1,1.1 0 1,0 -2.1,0M1985.9,649.1a0.9,0.9 0 1,0 1.9,0a0.9,0.9 0 1,0 -1.9,0M1828.8,542.5a1.6,1.6 0 1,0 3.1,0a1.6,1.6 0 1,0 -3.1,0M1726.7,654.8a1.0,1.0 0 1,0 2.0,0a1.0,1.0 0 1,0 -2.0,0M1929.2,542.2a1.5,1.5 0 1,0 2.9,0a1.5,1.5 0 1,0 -2.9,0M1912.3,567.3a0.9,0.9 0 1,0 1.7,0a0.9,0.9 0 1,0 -1.7,0M1817.4,665.2a1.0,1.0 0 1,0 1.9,0a1.0,1.0 0 1,0 -1.9,0M1715.8,616.3a1.7,1.7 0 1,0 3.3,0a1.7,1.7 0 1,0 -3.3,0M1757.6,733.8a1.2,1.2 0 1,0 2.5,0a1.2,1.2 0 1,0 -2.5,0M1758.5,536.0a1.1,1.1 0 1,0 2.1,0a1.1,1.1 0 1,0 -2.1,0M1846.4,553.8a0.8,0.8 0 1,0 1.7,0a0.8,0.8 0 1,0 -1.7,0M1852.9,572.2a1.2,1.2 0 1,0 2.3,0a1.2,1.2 0 1,0 -2.3,0M1838.8,676.6a1.3,1.3 0 1,0 2.7,0a1.3,1.3 0 1,0 -2.7,0M1776.6,554.7a1.8,1.8 0 1,0 3.5,0a1.8,1.8 0 1,0 -3.5,0M1728.2,541.4a0.8,0.8 0 1,0 1.6,0a0.8,0.8 0 1,0 -1.6,0M1942.4,639.7a1.9,1.9 0 1,0 3.7,0a1.9,1.9 0 1,0 -3.7,0M1887.7,591.4a1.1,1.1 0 1,0 2.3,0a1.1,1.1 0 1,0 -2.3,0M1916.6,566.8a1.7,1.7 0 1,0 3.3,0a1.7,1.7 0 1,0 -3.3,0M1827.0,522.3a1.0,1.0 0 1,0 2.1,0a1.0,1.0 0 1,0 -2.1,0M1868.6,546.9a1.8,1.8 0 1,0 3.7,0a1.8,1.8 0 1,0 -3.7,0M1970.2,632.8a1.8,1.8 0 1,0 3.7,0a1.8,1.8 0 1,0 -3.7,0M1905.6,639.1a0.9,0.9 0 1,0 1.8,0a0.9,0.9 0 1,0 -1.8,0M1978.2,728.9a1.2,1.2 0 1,0 2.3,0a1.2,1.2 0 1,0 -2.3,0M1820.4,529.7a1.4,1.4 0 1,0 2.8,0a1.4,1.4 0 1,0 -2.8,0M1951.2,603.9a1.0,1.0 0 1,0 2.0,0a1.0,1.0 0 1,0 -2.0,0M1884.2,699.2a0.9,0.9 0 1,0 1.8,0a0.9,0.9 0 1,0 -1.8,0M1792.5,663.6a0.8,0.8 0 1,0 1.6,0a0.8,0.8 0 1,0 -1.6,0M1940.0,586.7a1.7,1.7 0 1,0 3.4,0a1.7,1.7 0 1,0 -3.4,0M1840.4,551.4a0.8,0.8 0 1,0 1.6,0a0.8,0.8 0 1,0 -1.6,0M1744.8,573.7a1.6,1.6 0 1,0 3.2,0a1.6,1.6 0 1,0 -3.2,0M1934.3,661.0a1.0,1.0 0 1,0 2.0,0a1.0,1.0 0 1,0 -2.0,0M1898.2,684.8a1.1,1.1 0 1,0 2.1,0a1.1,1.1 0 1,0 -2.1,0M1736.7,622.8a0.9,0.9 0 1,0 1.9,0a0.9,0.9 0 1,0 -1.9,0M1766.5,604.3a0.8,0.8 0 1,0 1.6,0a0.8,0.8 0 1,0 -1.6,0M1962.4,578.5a1.8,1.8 0 1,0 3.6,0a1.8,1.8 0 1,0 -3.6,0M1917.8,514.9a1.8,1.8 0 1,0 3.6,0a1.8,1.8 0 1,0 -3.6,0M1937.8,636.1a1.8,1.8 0 1,0 3.6,0a1.8,1.8 0 1,0 -3.6,0M1846.9,518.3a0.9,0.9 0 1,0 1.7,0a0.9,0.9 0 1,0 -1.7,0M1799.5,714.4a1.7,1.7 0 1,0 3.4,0a1.7,1.7 0 1,0 -3.4,0M1746.9,594.8a0.8,0.8 0 1,0 1.7,0a0.8,0.8 0 1,0 -1.7,0M1777.3,595.3a1.1,1.1 0 1,0 2.2,0a1.1,1.1 0 1,0 -2.2,0M1755.7,667.2a0.9,0.9 0 1,0 1.9,0a0.9,0.9 0 1,0 -1.9,0M1960.9,625.7a1.1,1.1 0 1,0 2.3,0a1.1,1.1 0 1,0 -2.3,0M1926.6,593.6a1.0,1.0 0 1,0 1.9,0a1.0,1.0 0 1,0 -1.9,0M1748.1,581.8a0.9,0.9 0 1,0 1.9,0a0.9,0.9 0 1,0 -1.9,0M1917.5,596.0a1.5,1.5 0 1,0 3.0,0a1.5,1.5 0 1,0 -3.0,0M1790.5,528.8a1.0,1.0 0 1,0 2.0,0a1.0,1.0 0 1,0 -2.0,0M1823.1,726.6a0.9,0.9 0 1,0 1.8,0a0.9,0.9 0 1,0 -1.8,0M1772.8,549.1a1.0,1.0 0 1,0 1.9,0a1.0,1.0 0 1,0 -1.9,0M1980.6,731.8a0.9,0.9 0 1,0 1.9,0a0.9,0.9 0 1,0 -1.9,0M1727.5,626.9a1.3,1.3 0 1,0 2.7,0a1.3,1.3 0 1,0 -2.7,0M1744.4,610.8a1.6,1.6 0 1,0 3.2,0a1.6,1.6 0 1,0 -3.2,0M1713.9,681.6a1.5,1.5 0 1,0 3.0,0a1.5,1.5 0 1,0 -3.0,0M1932.1,627.0a1.2,1.2 0 1,0 2.4,0a1.2,1.2 0 1,0 -2.4,0M1857.7,544.5a1.2,1.2 0 1,0 2.5,0a1.2,1.2 0 1,0 -2.5,0M1780.6,588.0a0.8,0.8 0 1,0 1.6,0a0.8,0.8 0 1,0 -1.6,0M1757.7,525.4a1.3,1.3 0 1,0 2.6,0a1.3,1.3 0 1,0 -2.6,0M1779.3,643.2a1.2,1.2 0 1,0 2.5,0a1.2,1.2 0 1,0 -2.5,0M1778.3,542.3a1.4,1.4 0 1,0 2.7,0a1.4,1.4 0 1,0 -2.7,0M1901.5,674.9a1.2,1.2 0 1,0 2.5,0a1.2,1.2 0 1,0 -2.5,0M1874.9,518.2a1.0,1.0 0 1,0 2.0,0a1.0,1.0 0 1,0 -2.0,0M1936.3,601.2a0.8,0.8 0 1,0 1.7,0a0.8,0.8 0 1,0 -1.7,0M1831.0,708.7a0.8,0.8 0 1,0 1.7,0a0.8,0.8 0 1,0 -1.7,0M1744.3,629.7a1.8,1.8 0 1,0 3.6,0a1.8,1.8 0 1,0 -3.6,0M1821.7,570.8a1.6,1.6 0 1,0 3.2,0a1.6,1.6 0 1,0 -3.2,0M1739.8,581.9a1.4,1.4 0 1,0 2.7,0a1.4,1.4 0 1,0 -2.7,0M1949.7,715.1a1.0,1.0 0 1,0 2.0,0a1.0,1.0 0 1,0 -2.0,0M1788.0,597.9a0.9,0.9 0 1,0 1.7,0a0.9,0.9 0 1,0 -1.7,0M1788.7,692.9a2.0,2.0 0 1,0 3.9,0a2.0,2.0 0 1,0 -3.9,0M1788.4,529.4a1.6,1.6 0 1,0 3.1,0a1.6,1.6 0 1,0 -3.1,0M1982.0,699.3a1.1,1.1 0 1,0 2.2,0a1.1,1.1 0 1,0 -2.2,0M1919.9,691.4a1.6,1.6 0 1,0 3.1,0a1.6,1.6 0 1,0 -3.1,0M1850.1,747.6a1.6,1.6 0 1,0 3.3,0a1.6,1.6 0 1,0 -3.3,0M1779.4,613.8a0.8,0.8 0 1,0 1.7,0a0.8,0.8 0 1,0 -1.7,0M1817.8,704.8a1.2,1.2 0 1,0 2.4,0a1.2,1.2 0 1,0 -2.4,0M1859.6,695.8a0.8,0.8 0 1,0 1.7,0a0.8,0.8 0 1,0 -1.7,0M1811.9,626.2a1.2,1.2 0 1,0 2.4,0a1.2,1.2 0 1,0 -2.4,0M1903.4,733.0a1.7,1.7 0 1,0 3.3,0a1.7,1.7 0 1,0 -3.3,0M1865.1,673.4a1.3,1.3 0 1,0 2.5,0a1.3,1.3 0 1,0 -2.5,0M1987.3,652.8a1.3,1.3 0 1,0 2.7,0a1.3,1.3 0 1,0 -2.7,0M1823.3,611.1a1.6,1.6 0 1,0 3.2,0a1.6,1.6 0 1,0 -3.2,0M1816.9,725.2a1.5,1.5 0 1,0 3.1,0a1.5,1.5 0 1,0 -3.1,0M1978.7,678.7a1.3,1.3 0 1,0 2.6,0a1.3,1.3 0 1,0 -2.6,0M1815.4,516.6a1.4,1.4 0 1,0 2.9,0a1.4,1.4 0 1,0 -2.9,0M1921.9,682.6a1.6,1.6 0 1,0 3.2,0a1.6,1.6 0 1,0 -3.2,0M1724.0,673.4a1.0,1.0 0 1,0 2.0,0a1.0,1.0 0 1,0 -2.0,0M1821.7,716.9a1.1,1.1 0 1,0 2.2,0a1.1,1.1 0 1,0 -2.2,0M1843.7,524.3a0.9,0.9 0 1,0 1.8,0a0.9,0.9 0 1,0 -1.8,0M1772.1,563.0a1.3,1.3 0 1,0 2.5,0a1.3,1.3 0 1,0 -2.5,0M1727.4,533.4a0.8,0.8 0 1,0 1.7,0a0.8,0.8 0 1,0 -1.7,0M1917.0,740.8a1.6,1.6 0 1,0 3.2,0a1.6,1.6 0 1,0 -3.2,0M1856.2,543.1a1.6,1.6 0 1,0 3.3,0a1.6,1.6 0 1,0 -3.3,0M1749.7,530.5a1.2,1.2 0 1,0 2.5,0a1.2,1.2 0 1,0 -2.5,0M1952.5,585.5a1.8,1.8 0 1,0 3.5,0a1.8,1.8 0 1,0 -3.5,0M1805.6,739.9a1.6,1.6 0 1,0 3.1,0a1.6,1.6 0 1,0 -3.1,0M1953.3,744.2a1.7,1.7 0 1,0 3.4,0a1.7,1.7 0 1,0 -3.4,0M1768.2,633.9a1.3,1.3 0 1,0 2.6,0a1.3,1.3 0 1,0 -2.6,0M1914.1,566.5a1.3,1.3 0 1,0 2.7,0a1.3,1.3 0 1,0 -2.7,0M1792.7,555.8a1.2,1.2 0 1,0 2.3,0a1.2,1.2 0 1,0 -2.3,0M1936.9,642.8a1.1,1.1 0 1,0 2.1,0a1.1,1.1 0 1,0 -2.1,0M1776.6,596.9a1.1,1.1 0 1,0 2.2,0a1.1,1.1 0 1,0 -2.2,0M1789.5,585.6a0.9,0.9 0 1,0 1.9,0a0.9,0.9 0 1,0 -1.9,0M1795.2,670.9a1.4,1.4 0 1,0 2.8,0a1.4,1.4 0 1,0 -2.8,0M1887.4,729.9a1.5,1.5 0 1,0 2.9,0a1.5,1.5 0 1,0 -2.9,0M1749.8,607.4a1.3,1.3 0 1,0 2.5,0a1.3,1.3 0 1,0 -2.5,0M1921.3,637.2a0.8,0.8 0 1,0 1.7,0a0.8,0.8 0 1,0 -1.7,0M1845.5,666.6a1.6,1.6 0 1,0 3.3,0a1.6,1.6 0 1,0 -3.3,0M1837.9,562.7a0.8,0.8 0 1,0 1.6,0a0.8,0.8 0 1,0 -1.6,0M1853.8,688.9a0.8,0.8 0 1,0 1.7,0a0.8,0.8 0 1,0 -1.7,0M1858.8,652.9a1.3,1.3 0 1,0 2.6,0a1.3,1.3 0 1,0 -2.6,0M1778.5,534.1a0.8,0.8 0 1,0 1.6,0a0.8,0.8 0 1,0 -1.6,0M1798.6,723.5a1.1,1.1 0 1,0 2.3,0a1.1,1.1 0 1,0 -2.3,0M1987.5,706.5a1.3,1.3 0 1,0 2.7,0a1.3,1.3 0 1,0 -2.7,0M1835.3,644.8a1.7,1.7 0 1,0 3.4,0a1.7,1.7 0 1,0 -3.4,0M1806.0,549.2a1.8,1.8 0 1,0 3.6,0a1.8,1.8 0 1,0 -3.6,0M1889.0,601.3a1.1,1.1 0 1,0 2.2,0a1.1,1.1 0 1,0 -2.2,0M1741.4,645.9a1.6,1.6 0 1,0 3.3,0a1.6,1.6 0 1,0 -3.3,0M1851.8,676.6a1.6,1.6 0 1,0 3.1,0a1.6,1.6 0 1,0 -3.1,0M1804.9,662.5a2.0,2.0 0 1,0 3.9,0a2.0,2.0 0 1,0 -3.9,0M1912.1,555.5a1.4,1.4 0 1,0 2.9,0a1.4,1.4 0 1,0 -2.9,0M1892.4,695.0a1.5,1.5 0 1,0 3.0,0a1.5,1.5 0 1,0 -3.0,0M1967.3,742.2a0.9,0.9 0 1,0 1.8,0a0.9,0.9 0 1,0 -1.8,0M1846.1,523.1a2.0,2.0 0 1,0 4.0,0a2.0,2.0 0 1,0 -4.0,0M1743.2,612.8a1.4,1.4 0 1,0 2.8,0a1.4,1.4 0 1,0 -2.8,0M1832.9,552.8a1.2,1.2 0 1,0 2.5,0a1.2,1.2 0 1,0 -2.5,0M1775.5,627.7a1.5,1.5 0 1,0 3.1,0a1.5,1.5 0 1,0 -3.1,0M1796.6,617.5a1.4,1.4 0 1,0 2.8,0a1.4,1.4 0 1,0 -2.8,0M1860.8,700.9a1.8,1.8 0 1,0 3.6,0a1.8,1.8 0 1,0 -3.6,0M1982.1,551.3a1.2,1.2 0 1,0 2.4,0a1.2,1.2 0 1,0 -2.4,0M1746.7,676.8a1.1,1.1 0 1,0 2.2,0a1.1,1.1 0 1,0 -2.2,0M1949.1,626.2a1.7,1.7 0 1,0 3.3,0a1.7,1.7 0 1,0 -3.3,0M1722.4,656.7a1.1,1.1 0 1,0 2.2,0a1.1,1.1 0 1,0 -2.2,0M1945.3,536.7a0.8,0.8 0 1,0 1.7,0a0.8,0.8 0 1,0 -1.7,0M1904.7,589.2a1.1,1.1 0 1,0 2.3,0a1.1,1.1 0 1,0 -2.3,0M1825.8,744.4a1.4,1.4 0 1,0 2.8,0a1.4,1.4 0 1,0 -2.8,0M1944.3,709.9a1.8,1.8 0 1,0 3.5,0a1.8,1.8 0 1,0 -3.5,0M1837.8,580.7a1.2,1.2 0 1,0 2.5,0a1.2,1.2 0 1,0 -2.5,0M1962.0,720.3a1.2,1.2 0 1,0 2.4,0a1.2,1.2 0 1,0 -2.4,0M1965.8,691.9a0.8,0.8 0 1,0 1.6,0a0.8,0.8 0 1,0 -1.6,0M1890.0,699.2a0.8,0.8 0 1,0 1.6,0a0.8,0.8 0 1,0 -1.6,0M1818.5,664.3a1.2,1.2 0 1,0 2.5,0a1.2,1.2 0 1,0 -2.5,0M1861.1,533.6a1.0,1.0 0 1,0 1.9,0a1.0,1.0 0 1,0 -1.9,0M1954.9,594.6a1.2,1.2 0 1,0 2.4,0a1.2,1.2 0 1,0 -2.4,0M1877.7,578.9a1.1,1.1 0 1,0 2.2,0a1.1,1.1 0 1,0 -2.2,0M1853.6,716.9a1.7,1.7 0 1,0 3.5,0a1.7,1.7 0 1,0 -3.5,0M1762.5,630.9a1.6,1.6 0 1,0 3.2,0a1.6,1.6 0 1,0 -3.2,0M1962.4,637.3a1.4,1.4 0 1,0 2.8,0a1.4,1.4 0 1,0 -2.8,0M1892.3,669.5a1.8,1.8 0 1,0 3.6,0a1.8,1.8 0 1,0 -3.6,0M1987.6,745.8a0.9,0.9 0 1,0 1.7,0a0.9,0.9 0 1,0 -1.7,0M1912.9,603.7a1.0,1.0 0 1,0 2.0,0a1.0,1.0 0 1,0 -2.0,0M1740.9,726.8a1.8,1.8 0 1,0 3.6,0a1.8,1.8 0 1,0 -3.6,0M1860.8,629.5a0.9,0.9 0 1,0 1.8,0a0.9,0.9 0 1,0 -1.8,0M1971.4,690.7a0.9,0.9 0 1,0 1.8,0a0.9,0.9 0 1,0 -1.8,0M1873.3,746.8a1.0,1.0 0 1,0 1.9,0a1.0,1.0 0 1,0 -1.9,0M1817.5,597.9a1.1,1.1 0 1,0 2.1,0a1.1,1.1 0 1,0 -2.1,0M1746.7,660.3a0.9,0.9 0 1,0 1.9,0a0.9,0.9 0 1,0 -1.9,0M1902.1,622.6a1.7,1.7 0 1,0 3.5,0a1.7,1.7 0 1,0 -3.5,0M1921.3,714.4a0.9,0.9 0 1,0 1.7,0a0.9,0.9 0 1,0 -1.7,0M1934.5,694.7a1.0,1.0 0 1,0 2.0,0a1.0,1.0 0 1,0 -2.0,0M1713.6,535.8a1.6,1.6 0 1,0 3.2,0a1.6,1.6 0 1,0 -3.2,0M1982.7,528.3a0.9,0.9 0 1,0 1.9,0a0.9,0.9 0 1,0 -1.9,0M1825.2,528.5a1.4,1.4 0 1,0 2.8,0a1.4,1.4 0 1,0 -2.8,0M1952.2,710.6a0.9,0.9 0 1,0 1.8,0a0.9,0.9 0 1,0 -1.8,0M1966.8,697.3a0.9,0.9 0 1,0 1.7,0a0.9,0.9 0 1,0 -1.7,0M1950.0,731.4a1.8,1.8 0 1,0 3.6,0a1.8,1.8 0 1,0 -3.6,0M1922.2,704.7a1.3,1.3 0 1,0 2.5,0a1.3,1.3 0 1,0 -2.5,0M1716.2,672.2a1.2,1.2 0 1,0 2.4,0a1.2,1.2 0 1,0 -2.4,0M1754.4,543.8a1.8,1.8 0 1,0 3.6,0a1.8,1.8 0 1,0 -3.6,0M1965.1,524.4a0.8,0.8 0 1,0 1.6,0a0.8,0.8 0 1,0 -1.6,0M1906.9,581.0a1.8,1.8 0 1,0 3.5,0a1.8,1.8 0 1,0 -3.5,0M1842.5,680.0a0.8,0.8 0 1,0 1.6,0a0.8,0.8 0 1,0 -1.6,0M1929.4,559.4a1.1,1.1 0 1,0 2.3,0a1.1,1.1 0 1,0 -2.3,0M1848.9,588.9a0.9,0.9 0 1,0 1.9,0a0.9,0.9 0 1,0 -1.9,0M1838.4,524.5a0.9,0.9 0 1,0 1.7,0a0.9,0.9 0 1,0 -1.7,0M1750.1,713.4a1.0,1.0 0 1,0 2.0,0a1.0,1.0 0 1,0 -2.0,0M1987.1,724.4a0.9,0.9 0 1,0 1.8,0a0.9,0.9 0 1,0 -1.8,0M1951.4,744.7a1.2,1.2 0 1,0 2.3,0a1.2,1.2 0 1,0 -2.3,0M1847.9,671.1a1.2,1.2 0 1,0 2.4,0a1.2,1.2 0 1,0 -2.4,0M1787.0,684.8a0.9,0.9 0 1,0 1.8,0a0.9,0.9 0 1,0 -1.8,0M1820.6,517.7a1.0,1.0 0 1,0 2.0,0a1.0,1.0 0 1,0 -2.0,0M1937.8,544.9a0.9,0.9 0 1,0 1.8,0a0.9,0.9 0 1,0 -1.8,0M1823.9,582.4a0.8,0.8 0 1,0 1.6,0a0.8,0.8 0 1,0 -1.6,0M1728.4,559.7a1.6,1.6 0 1,0 3.3,0a1.6,1.6 0 1,0 -3.3,0M1929.0,702.2a1.5,1.5 0 1,0 3.0,0a1.5,1.5 0 1,0 -3.0,0M1990.5,573.1a1.5,1.5 0 1,0 3.0,0a1.5,1.5 0 1,0 -3.0,0M1838.6,738.5a1.2,1.2 0 1,0 2.3,0a1.2,1.2 0 1,0 -2.3,0M1913.9,695.0a1.9,1.9 0 1,0 3.9,0a1.9,1.9 0 1,0 -3.9,0M1925.8,589.5a1.4,1.4 0 1,0 2.9,0a1.4,1.4 0 1,0 -2.9,0M1935.1,733.6a0.9,0.9 0 1,0 1.9,0a0.9,0.9 0 1,0 -1.9,0M1916.8,682.2a0.9,0.9 0 1,0 1.8,0a0.9,0.9 0 1,0 -1.8,0M1746.7,644.7a1.4,1.4 0 1,0 2.7,0a1.4,1.4 0 1,0 -2.7,0M1805.3,658.0a0.9,0.9 0 1,0 1.7,0a0.9,0.9 0 1,0 -1.7,0M1872.2,638.2a1.7,1.7 0 1,0 3.4,0a1.7,1.7 0 1,0 -3.4,0M1913.6,531.1a1.3,1.3 0 1,0 2.6,0a1.3,1.3 0 1,0 -2.6,0M1748.7,636.3a1.5,1.5 0 1,0 2.9,0a1.5,1.5 0 1,0 -2.9,0M1909.1,514.6a1.3,1.3 0 1,0 2.5,0a1.3,1.3 0 1,0 -2.5,0M1762.3,631.7a1.2,1.2 0 1,0 2.4,0a1.2,1.2 0 1,0 -2.4,0M1849.5,692.2a1.0,1.0 0 1,0 2.0,0a1.0,1.0 0 1,0 -2.0,0M1846.3,570.4a0.9,0.9 0 1,0 1.8,0a0.9,0.9 0 1,0 -1.8,0M1888.7,549.7a1.7,1.7 0 1,0 3.3,0a1.7,1.7 0 1,0 -3.3,0M1817.3,539.1a1.6,1.6 0 1,0 3.3,0a1.6,1.6 0 1,0 -3.3,0M1719.4,581.9a1.4,1.4 0 1,0 2.9,0a1.4,1.4 0 1,0 -2.9,0M1718.1,677.5a1.3,1.3 0 1,0 2.6,0a1.3,1.3 0 1,0 -2.6,0M1984.1,586.0a1.7,1.7 0 1,0 3.4,0a1.7,1.7 0 1,0 -3.4,0M1986.3,629.9a0.8,0.8 0 1,0 1.7,0a0.8,0.8 0 1,0 -1.7,0M1808.9,704.0a0.8,0.8 0 1,0 1.6,0a0.8,0.8 0 1,0 -1.6,0M1889.2,635.0a1.6,1.6 0 1,0 3.1,0a1.6,1.6 0 1,0 -3.1,0M1816.9,732.7a0.8,0.8 0 1,0 1.7,0a0.8,0.8 0 1,0 -1.7,0M1829.3,584.4a1.3,1.3 0 1,0 2.6,0a1.3,1.3 0 1,0 -2.6,0M1774.1,603.5a1.2,1.2 0 1,0 2.3,0a1.2,1.2 0 1,0 -2.3,0M1970.1,519.0a1.0,1.0 0 1,0 2.0,0a1.0,1.0 0 1,0 -2.0,0M1754.4,680.7a1.6,1.6 0 1,0 3.2,0a1.6,1.6 0 1,0 -3.2,0M1717.7,696.7a1.8,1.8 0 1,0 3.6,0a1.8,1.8 0 1,0 -3.6,0M1841.8,652.6a1.6,1.6 0 1,0 3.3,0a1.6,1.6 0 1,0 -3.3,0M1970.8,565.5a1.5,1.5 0 1,0 3.0,0a1.5,1.5 0 1,0 -3.0,0M1735.1,598.2a1.8,1.8 0 1,0 3.7,0a1.8,1.8 0 1,0 -3.7,0M1888.1,638.0a1.2,1.2 0 1,0 2.3,0a1.2,1.2 0 1,0 -2.3,0M1840.3,519.7a1.3,1.3 0 1,0 2.6,0a1.3,1.3 0 1,0 -2.6,0M1975.3,540.2a0.8,0.8 0 1,0 1.6,0a0.8,0.8 0 1,0 -1.6,0M1887.2,706.0a1.1,1.1 0 1,0 2.3,0a1.1,1.1 0 1,0 -2.3,0M1736.8,664.2a1.4,1.4 0 1,0 2.9,0a1.4,1.4 0 1,0 -2.9,0M1778.2,704.0a1.3,1.3 0 1,0 2.6,0a1.3,1.3 0 1,0 -2.6,0M1932.1,567.8a1.1,1.1 0 1,0 2.1,0a1.1,1.1 0 1,0 -2.1,0M1897.2,669.7a1.7,1.7 0 1,0 3.5,0a1.7,1.7 0 1,0 -3.5,0M1976.0,682.0a0.8,0.8 0 1,0 1.6,0a0.8,0.8 0 1,0 -1.6,0M1842.6,669.2a1.6,1.6 0 1,0 3.3,0a1.6,1.6 0 1,0 -3.3,0M1800.9,526.6a1.3,1.3 0 1,0 2.7,0a1.3,1.3 0 1,0 -2.7,0M1767.6,634.0a0.9,0.9 0 1,0 1.9,0a0.9,0.9 0 1,0 -1.9,0M1957.5,519.5a1.3,1.3 0 1,0 2.6,0a1.3,1.3 0 1,0 -2.6,0M1958.0,663.7a0.9,0.9 0 1,0 1.7,0a0.9,0.9 0 1,0 -1.7,0M1865.6,706.8a1.4,1.4 0 1,0 2.8,0a1.4,1.4 0 1,0 -2.8,0M1965.4,704.3a1.1,1.1 0 1,0 2.2,0a1.1,1.1 0 1,0 -2.2,0M1748.1,675.1a1.2,1.2 0 1,0 2.4,0a1.2,1.2 0 1,0 -2.4,0M1940.4,617.1a1.5,1.5 0 1,0 3.1,0a1.5,1.5 0 1,0 -3.1,0M1753.2,690.3a1.8,1.8 0 1,0 3.5,0a1.8,1.8 0 1,0 -3.5,0M1938.3,694.9a1.5,1.5 0 1,0 2.9,0a1.5,1.5 0 1,0 -2.9,0M1761.4,590.0a1.0,1.0 0 1,0 2.0,0a1.0,1.0 0 1,0 -2.0,0M1795.0,650.0a1.1,1.1 0 1,0 2.1,0a1.1,1.1 0 1,0 -2.1,0M1895.7,722.2a2.0,2.0 0 1,0 4.0,0a2.0,2.0 0 1,0 -4.0,0M1714.7,655.9a1.3,1.3 0 1,0 2.7,0a1.3,1.3 0 1,0 -2.7,0M1833.2,685.4a1.8,1.8 0 1,0 3.6,0a1.8,1.8 0 1,0 -3.6,0M1782.1,662.1a0.9,0.9 0 1,0 1.8,0a0.9,0.9 0 1,0 -1.8,0M1835.5,595.8a1.7,1.7 0 1,0 3.4,0a1.7,1.7 0 1,0 -3.4,0M1966.4,717.3a1.3,1.3 0 1,0 2.5,0a1.3,1.3 0 1,0 -2.5,0M1910.8,665.6a1.3,1.3 0 1,0 2.6,0a1.3,1.3 0 1,0 -2.6,0M1750.9,575.8a1.9,1.9 0 1,0 3.8,0a1.9,1.9 0 1,0 -3.8,0M1879.1,539.5a1.1,1.1 0 1,0 2.1,0a1.1,1.1 0 1,0 -2.1,0M1751.0,541.9a1.1,1.1 0 1,0 2.2,0a1.1,1.1 0 1,0 -2.2,0M1794.8,516.8a1.2,1.2 0 1,0 2.4,0a1.2,1.2 0 1,0 -2.4,0M1971.6,621.3a1.1,1.1 0 1,0 2.2,0a1.1,1.1 0 1,0 -2.2,0M1819.8,575.1a1.0,1.0 0 1,0 2.0,0a1.0,1.0 0 1,0 -2.0,0M1767.1,613.4a1.9,1.9 0 1,0 3.7,0a1.9,1.9 0 1,0 -3.7,0M1815.3,719.6a1.2,1.2 0 1,0 2.4,0a1.2,1.2 0 1,0 -2.4,0M1890.5,625.8a1.1,1.1 0 1,0 2.2,0a1.1,1.1 0 1,0 -2.2,0M1959.7,651.5a0.9,0.9 0 1,0 1.8,0a0.9,0.9 0 1,0 -1.8,0M1798.8,604.9a1.3,1.3 0 1,0 2.6,0a1.3,1.3 0 1,0 -2.6,0M1818.7,574.9a1.0,1.0 0 1,0 2.0,0a1.0,1.0 0 1,0 -2.0,0M1988.9,686.5a1.8,1.8 0 1,0 3.5,0a1.8,1.8 0 1,0 -3.5,0M1962.1,545.7a1.3,1.3 0 1,0 2.5,0a1.3,1.3 0 1,0 -2.5,0M1914.6,627.0a1.3,1.3 0 1,0 2.5,0a1.3,1.3 0 1,0 -2.5,0M1889.7,661.3a0.9,0.9 0 1,0 1.8,0a0.9,0.9 0 1,0 -1.8,0M1729.3,576.6a0.8,0.8 0 1,0 1.6,0a0.8,0.8 0 1,0 -1.6,0M1800.0,521.5a0.8,0.8 0 1,0 1.7,0a0.8,0.8 0 1,0 -1.7,0M1895.7,558.3a1.5,1.5 0 1,0 3.0,0a1.5,1.5 0 1,0 -3.0,0M1830.0,709.2a1.3,1.3 0 1,0 2.6,0a1.3,1.3 0 1,0 -2.6,0M1955.7,612.4a1.1,1.1 0 1,0 2.2,0a1.1,1.1 0 1,0 -2.2,0M1971.5,673.6a1.1,1.1 0 1,0 2.3,0a1.1,1.1 0 1,0 -2.3,0M1955.4,683.9a1.4,1.4 0 1,0 2.8,0a1.4,1.4 0 1,0 -2.8,0M1721.8,721.6a0.8,0.8 0 1,0 1.7,0a0.8,0.8 0 1,0 -1.7,0M1718.7,592.2a0.9,0.9 0 1,0 1.8,0a0.9,0.9 0 1,0 -1.8,0M1780.7,626.7a1.2,1.2 0 1,0 2.5,0a1.2,1.2 0 1,0 -2.5,0M1902.2,716.2a1.5,1.5 0 1,0 3.0,0a1.5,1.5 0 1,0 -3.0,0M1954.5,613.8a0.9,0.9 0 1,0 1.7,0a0.9,0.9 0 1,0 -1.7,0M1911.2,746.7a0.9,0.9 0 1,0 1.8,0a0.9,0.9 0 1,0 -1.8,0M1883.4,603.5a2.0,2.0 0 1,0 3.9,0a2.0,2.0 0 1,0 -3.9,0M1723.0,624.9a1.1,1.1 0 1,0 2.1,0a1.1,1.1 0 1,0 -2.1,0M1816.7,687.4a0.8,0.8 0 1,0 1.6,0a0.8,0.8 0 1,0 -1.6,0M1790.3,740.1a1.2,1.2 0 1,0 2.3,0a1.2,1.2 0 1,0 -2.3,0M1717.4,658.0a1.4,1.4 0 1,0 2.9,0a1.4,1.4 0 1,0 -2.9,0M1970.8,720.7a1.9,1.9 0 1,0 3.8,0a1.9,1.9 0 1,0 -3.8,0M1787.0,587.2a1.5,1.5 0 1,0 3.0,0a1.5,1.5 0 1,0 -3.0,0M1810.2,600.8a0.8,0.8 0 1,0 1.6,0a0.8,0.8 0 1,0 -1.6,0M1769.0,543.9a1.1,1.1 0 1,0 2.1,0a1.1,1.1 0 1,0 -2.1,0M1908.5,558.0a1.0,1.0 0 1,0 2.0,0a1.0,1.0 0 1,0 -2.0,0M1736.6,608.2a1.3,1.3 0 1,0 2.7,0a1.3,1.3 0 1,0 -2.7,0M1880.5,664.6a1.3,1.3 0 1,0 2.5,0a1.3,1.3 0 1,0 -2.5,0M1906.4,700.9a1.7,1.7 0 1,0 3.4,0a1.7,1.7 0 1,0 -3.4,0M1714.0,731.4a1.2,1.2 0 1,0 2.4,0a1.2,1.2 0 1,0 -2.4,0M1989.3,691.8a1.2,1.2 0 1,0 2.4,0a1.2,1.2 0 1,0 -2.4,0M1726.0,535.3a1.6,1.6 0 1,0 3.2,0a1.6,1.6 0 1,0 -3.2,0M1715.4,524.2a1.5,1.5 0 1,0 3.0,0a1.5,1.5 0 1,0 -3.0,0M1882.7,671.6a0.8,0.8 0 1,0 1.6,0a0.8,0.8 0 1,0 -1.6,0M1980.1,688.7a0.8,0.8 0 1,0 1.6,0a0.8,0.8 0 1,0 -1.6,0M1872.2,589.2a0.9,0.9 0 1,0 1.9,0a0.9,0.9 0 1,0 -1.9,0M1884.6,743.8a0.8,0.8 0 1,0 1.6,0a0.8,0.8 0 1,0 -1.6,0M1937.5,731.8a0.8,0.8 0 1,0 1.7,0a0.8,0.8 0 1,0 -1.7,0M1963.0,515.8a1.0,1.0 0 1,0 2.0,0a1.0,1.0 0 1,0 -2.0,0M1720.6,554.2a0.9,0.9 0 1,0 1.8,0a0.9,0.9 0 1,0 -1.8,0M1868.9,614.9a1.9,1.9 0 1,0 3.9,0a1.9,1.9 0 1,0 -3.9,0M1923.8,530.0a0.8,0.8 0 1,0 1.6,0a0.8,0.8 0 1,0 -1.6,0M1790.7,704.2a1.7,1.7 0 1,0 3.3,0a1.7,1.7 0 1,0 -3.3,0M1946.1,716.3a1.6,1.6 0 1,0 3.1,0a1.6,1.6 0 1,0 -3.1,0M1868.5,710.5a1.7,1.7 0 1,0 3.4,0a1.7,1.7 0 1,0 -3.4,0M1940.6,719.4a1.3,1.3 0 1,0 2.5,0a1.3,1.3 0 1,0 -2.5,0M1737.6,659.4a1.5,1.5 0 1,0 3.0,0a1.5,1.5 0 1,0 -3.0,0M1976.5,688.2a1.8,1.8 0 1,0 3.6,0a1.8,1.8 0 1,0 -3.6,0M1966.4,589.5a1.9,1.9 0 1,0 3.7,0a1.9,1.9 0 1,0 -3.7,0M1871.8,614.4a1.2,1.2 0 1,0 2.3,0a1.2,1.2 0 1,0 -2.3,0M1851.2,609.9a1.5,1.5 0 1,0 3.1,0a1.5,1.5 0 1,0 -3.1,0M1784.7,615.0a1.4,1.4 0 1,0 2.9,0a1.4,1.4 0 1,0 -2.9,0M1983.0,684.3a1.3,1.3 0 1,0 2.6,0a1.3,1.3 0 1,0 -2.6,0M1817.1,667.8a1.9,1.9 0 1,0 3.7,0a1.9,1.9 0 1,0 -3.7,0M1718.9,603.4a1.0,1.0 0 1,0 2.0,0a1.0,1.0 0 1,0 -2.0,0M1929.4,669.4a0.8,0.8 0 1,0 1.6,0a0.8,0.8 0 1,0 -1.6,0M1963.0,608.5a0.9,0.9 0 1,0 1.7,0a0.9,0.9 0 1,0 -1.7,0M1741.5,529.2a0.9,0.9 0 1,0 1.9,0a0.9,0.9 0 1,0 -1.9,0M1736.9,678.4a0.9,0.9 0 1,0 1.7,0a0.9,0.9 0 1,0 -1.7,0M1833.9,667.2a1.2,1.2 0 1,0 2.3,0a1.2,1.2 0 1,0 -2.3,0M1794.7,619.1a1.2,1.2 0 1,0 2.3,0a1.2,1.2 0 1,0 -2.3,0M1874.6,651.3a1.0,1.0 0 1,0 2.0,0a1.0,1.0 0 1,0 -2.0,0M1902.0,713.5a1.9,1.9 0 1,0 3.9,0a1.9,1.9 0 1,0 -3.9,0M1886.0,581.6a0.8,0.8 0 1,0 1.6,0a0.8,0.8 0 1,0 -1.6,0M1832.3,745.4a2.0,2.0 0 1,0 4.0,0a2.0,2.0 0 1,0 -4.0,0M1910.8,558.0a0.9,0.9 0 1,0 1.8,0a0.9,0.9 0 1,0 -1.8,0M1756.1,614.3a1.9,1.9 0 1,0 3.8,0a1.9,1.9 0 1,0 -3.8,0M1771.6,704.6a1.3,1.3 0 1,0 2.6,0a1.3,1.3 0 1,0 -2.6,0M1788.3,619.2a0.8,0.8 0 1,0 1.6,0a0.8,0.8 0 1,0 -1.6,0M1890.0,725.2a1.0,1.0 0 1,0 2.0,0a1.0,1.0 0 1,0 -2.0,0M1983.0,580.4a1.1,1.1 0 1,0 2.1,0a1.1,1.1 0 1,0 -2.1,0M1907.1,562.8a0.8,0.8 0 1,0 1.6,0a0.8,0.8 0 1,0 -1.6,0M1852.8,627.9a0.9,0.9 0 1,0 1.8,0a0.9,0.9 0 1,0 -1.8,0M1762.3,539.0a0.9,0.9 0 1,0 1.8,0a0.9,0.9 0 1,0 -1.8,0M1754.9,665.5a1.8,1.8 0 1,0 3.6,0a1.8,1.8 0 1,0 -3.6,0M1879.7,566.2a1.3,1.3 0 1,0 2.6,0a1.3,1.3 0 1,0 -2.6,0M1978.4,596.9a1.5,1.5 0 1,0 3.1,0a1.5,1.5 0 1,0 -3.1,0M1714.7,692.7a1.8,1.8 0 1,0 3.5,0a1.8,1.8 0 1,0 -3.5,0M1864.4,723.3a1.4,1.4 0 1,0 2.7,0a1.4,1.4 0 1,0 -2.7,0M1931.0,627.8a1.1,1.1 0 1,0 2.2,0a1.1,1.1 0 1,0 -2.2,0M1788.8,644.4a1.6,1.6 0 1,0 3.2,0a1.6,1.6 0 1,0 -3.2,0M1723.9,670.3a0.8,0.8 0 1,0 1.6,0a0.8,0.8 0 1,0 -1.6,0M1891.8,680.9a1.9,1.9 0 1,0 3.7,0a1.9,1.9 0 1,0 -3.7,0M1894.7,665.8a1.5,1.5 0 1,0 3.0,0a1.5,1.5 0 1,0 -3.0,0M1900.4,675.7a1.5,1.5 0 1,0 2.9,0a1.5,1.5 0 1,0 -2.9,0M1948.2,596.5a1.9,1.9 0 1,0 3.8,0a1.9,1.9 0 1,0 -3.8,0M1767.6,522.9a0.8,0.8 0 1,0 1.6,0a0.8,0.8 0 1,0 -1.6,0M1866.4,714.0a0.9,0.9 0 1,0 1.7,0a0.9,0.9 0 1,0 -1.7,0M1959.2,629.9a1.4,1.4 0 1,0 2.9,0a1.4,1.4 0 1,0 -2.9,0M1759.6,746.1a1.2,1.2 0 1,0 2.4,0a1.2,1.2 0 1,0 -2.4,0M1780.8,659.0a0.8,0.8 0 1,0 1.6,0a0.8,0.8 0 1,0 -1.6,0M1894.6,709.9a0.9,0.9 0 1,0 1.7,0a0.9,0.9 0 1,0 -1.7,0M1784.3,577.0a0.9,0.9 0 1,0 1.8,0a0.9,0.9 0 1,0 -1.8,0M1886.0,704.2a1.2,1.2 0 1,0 2.3,0a1.2,1.2 0 1,0 -2.3,0M1906.2,726.0a1.7,1.7 0 1,0 3.4,0a1.7,1.7 0 1,0 -3.4,0M1819.5,723.0a0.9,0.9 0 1,0 1.8,0a0.9,0.9 0 1,0 -1.8,0M1942.4,532.4a1.0,1.0 0 1,0 2.0,0a1.0,1.0 0 1,0 -2.0,0M1742.8,645.1a0.8,0.8 0 1,0 1.7,0a0.8,0.8 0 1,0 -1.7,0M1882.1,551.7a1.5,1.5 0 1,0 2.9,0a1.5,1.5 0 1,0 -2.9,0M1851.7,585.8a0.9,0.9 0 1,0 1.7,0a0.9,0.9 0 1,0 -1.7,0M1924.2,557.8a1.0,1.0 0 1,0 2.1,0a1.0,1.0 0 1,0 -2.1,0M1968.4,719.7a1.5,1.5 0 1,0 3.1,0a1.5,1.5 0 1,0 -3.1,0M1890.2,710.8a1.7,1.7 0 1,0 3.4,0a1.7,1.7 0 1,0 -3.4,0M1944.6,689.5a1.1,1.1 0 1,0 2.2,0a1.1,1.1 0 1,0 -2.2,0M1923.9,605.2a1.3,1.3 0 1,0 2.6,0a1.3,1.3 0 1,0 -2.6,0M1720.6,549.3a1.5,1.5 0 1,0 2.9,0a1.5,1.5 0 1,0 -2.9,0M1736.9,535.7a1.8,1.8 0 1,0 3.6,0a1.8,1.8 0 1,0 -3.6,0M1962.2,741.5a1.6,1.6 0 1,0 3.3,0a1.6,1.6 0 1,0 -3.3,0M1797.1,655.0a1.2,1.2 0 1,0 2.5,0a1.2,1.2 0 1,0 -2.5,0M1736.6,549.8a1.4,1.4 0 1,0 2.8,0a1.4,1.4 0 1,0 -2.8,0M1830.7,647.8a1.9,1.9 0 1,0 3.7,0a1.9,1.9 0 1,0 -3.7,0M1733.1,549.6a2.0,2.0 0 1,0 3.9,0a2.0,2.0 0 1,0 -3.9,0M1746.0,599.1a1.3,1.3 0 1,0 2.6,0a1.3,1.3 0 1,0 -2.6,0M1787.9,602.8a0.9,0.9 0 1,0 1.8,0a0.9,0.9 0 1,0 -1.8,0M1938.0,565.5a1.5,1.5 0 1,0 3.1,0a1.5,1.5 0 1,0 -3.1,0M1841.6,631.3a0.8,0.8 0 1,0 1.7,0a0.8,0.8 0 1,0 -1.7,0M1959.1,515.9a1.8,1.8 0 1,0 3.5,0a1.8,1.8 0 1,0 -3.5,0M1718.9,602.4a1.2,1.2 0 1,0 2.3,0a1.2,1.2 0 1,0 -2.3,0M1882.6,574.9a2.0,2.0 0 1,0 4.0,0a2.0,2.0 0 1,0 -4.0,0M1809.1,564.1a1.6,1.6 0 1,0 3.1,0a1.6,1.6 0 1,0 -3.1,0M1895.7,655.4a1.9,1.9 0 1,0 3.8,0a1.9,1.9 0 1,0 -3.8,0M1958.1,584.3a1.8,1.8 0 1,0 3.6,0a1.8,1.8 0 1,0 -3.6,0M1961.3,525.5a1.2,1.2 0 1,0 2.5,0a1.2,1.2 0 1,0 -2.5,0M1954.8,607.1a1.0,1.0 0 1,0 2.1,0a1.0,1.0 0 1,0 -2.1,0M1849.0,711.1a0.8,0.8 0 1,0 1.6,0a0.8,0.8 0 1,0 -1.6,0M1895.5,679.0a1.9,1.9 0 1,0 3.8,0a1.9,1.9 0 1,0 -3.8,0M1893.0,575.3a1.4,1.4 0 1,0 2.9,0a1.4,1.4 0 1,0 -2.9,0M1916.1,542.8a1.6,1.6 0 1,0 3.3,0a1.6,1.6 0 1,0 -3.3,0M1880.1,651.4a1.4,1.4 0 1,0 2.9,0a1.4,1.4 0 1,0 -2.9,0M1885.5,547.5a0.9,0.9 0 1,0 1.7,0a0.9,0.9 0 1,0 -1.7,0M1714.8,587.2a0.9,0.9 0 1,0 1.8,0a0.9,0.9 0 1,0 -1.8,0M1879.3,535.2a0.9,0.9 0 1,0 1.7,0a0.9,0.9 0 1,0 -1.7,0M1857.6,697.6a1.2,1.2 0 1,0 2.4,0a1.2,1.2 0 1,0 -2.4,0M1729.5,730.9a1.3,1.3 0 1,0 2.6,0a1.3,1.3 0 1,0 -2.6,0M1967.0,689.2a1.8,1.8 0 1,0 3.7,0a1.8,1.8 0 1,0 -3.7,0M1940.8,688.5a1.8,1.8 0 1,0 3.5,0a1.8,1.8 0 1,0 -3.5,0M1900.0,741.5a1.9,1.9 0 1,0 3.7,0a1.9,1.9 0 1,0 -3.7,0M1759.1,625.1a1.9,1.9 0 1,0 3.8,0a1.9,1.9 0 1,0 -3.8,0M1901.8,658.1a1.1,1.1 0 1,0 2.2,0a1.1,1.1 0 1,0 -2.2,0M1737.3,612.4a0.8,0.8 0 1,0 1.6,0a0.8,0.8 0 1,0 -1.6,0M1759.9,620.5a1.2,1.2 0 1,0 2.3,0a1.2,1.2 0 1,0 -2.3,0M1889.2,651.6a1.6,1.6 0 1,0 3.2,0a1.6,1.6 0 1,0 -3.2,0M1871.9,699.4a0.8,0.8 0 1,0 1.6,0a0.8,0.8 0 1,0 -1.6,0M1842.0,733.7a1.6,1.6 0 1,0 3.1,0a1.6,1.6 0 1,0 -3.1,0M1945.1,740.7a0.9,0.9 0 1,0 1.8,0a0.9,0.9 0 1,0 -1.8,0M1850.3,720.7a1.0,1.0 0 1,0 2.0,0a1.0,1.0 0 1,0 -2.0,0M1857.6,556.6a0.8,0.8 0 1,0 1.6,0a0.8,0.8 0 1,0 -1.6,0M1965.7,685.8a1.6,1.6 0 1,0 3.2,0a1.6,1.6 0 1,0 -3.2,0M1961.6,643.4a1.7,1.7 0 1,0 3.5,0a1.7,1.7 0 1,0 -3.5,0M1929.9,619.9a1.2,1.2 0 1,0 2.4,0a1.2,1.2 0 1,0 -2.4,0M1769.9,616.0a1.7,1.7 0 1,0 3.5,0a1.7,1.7 0 1,0 -3.5,0M1723.3,735.4a0.9,0.9 0 1,0 1.8,0a0.9,0.9 0 1,0 -1.8,0M1854.3,582.4a0.8,0.8 0 1,0 1.6,0a0.8,0.8 0 1,0 -1.6,0M1885.8,554.9a1.1,1.1 0 1,0 2.2,0a1.1,1.1 0 1,0 -2.2,0M1945.2,618.7a1.0,1.0 0 1,0 2.1,0a1.0,1.0 0 1,0 -2.1,0M1751.1,516.6a1.7,1.7 0 1,0 3.3,0a1.7,1.7 0 1,0 -3.3,0M1848.1,584.1a1.6,1.6 0 1,0 3.2,0a1.6,1.6 0 1,0 -3.2,0M1859.5,566.3a1.9,1.9 0 1,0 3.9,0a1.9,1.9 0 1,0 -3.9,0M1826.8,590.6a2.0,2.0 0 1,0 3.9,0a2.0,2.0 0 1,0 -3.9,0M1829.3,622.3a1.7,1.7 0 1,0 3.4,0a1.7,1.7 0 1,0 -3.4,0M1894.0,571.3a0.8,0.8 0 1,0 1.6,0a0.8,0.8 0 1,0 -1.6,0M1731.4,546.5a1.6,1.6 0 1,0 3.1,0a1.6,1.6 0 1,0 -3.1,0" fill="#bc4c47" opacity="0.85"/>
<path d="M1816.9,637.5a2.0,2.0 0 1,0 4.0,0a2.0,2.0 0 1,0 -4.0,0M1724.0,744.4a2.4,2.4 0 1,0 4.9,0a2.4,2.4 0 1,0 -4.9,0M1904.3,660.7a1.8,1.8 0 1,0 3.5,0a1.8,1.8 0 1,0 -3.5,0M1941.5,717.3a2.0,2.0 0 1,0 3.9,0a2.0,2.0 0 1,0 -3.9,0M1951.3,739.3a1.9,1.9 0 1,0 3.8,0a1.9,1.9 0 1,0 -3.8,0M1965.4,522.9a2.5,2.5 0 1,0 5.0,0a2.5,2.5 0 1,0 -5.0,0M1983.7,545.8a2.2,2.2 0 1,0 4.4,0a2.2,2.2 0 1,0 -4.4,0M1718.7,638.0a1.8,1.8 0 1,0 3.5,0a1.8,1.8 0 1,0 -3.5,0M1849.6,556.7a1.9,1.9 0 1,0 3.8,0a1.9,1.9 0 1,0 -3.8,0M1898.5,568.5a1.9,1.9 0 1,0 3.7,0a1.9,1.9 0 1,0 -3.7,0M1792.3,601.3a2.4,2.4 0 1,0 4.9,0a2.4,2.4 0 1,0 -4.9,0M1873.8,648.8a2.5,2.5 0 1,0 4.9,0a2.5,2.5 0 1,0 -4.9,0M1788.5,672.5a1.8,1.8 0 1,0 3.5,0a1.8,1.8 0 1,0 -3.5,0M1738.6,645.7a2.4,2.4 0 1,0 4.8,0a2.4,2.4 0 1,0 -4.8,0M1790.0,743.9a1.8,1.8 0 1,0 3.7,0a1.8,1.8 0 1,0 -3.7,0M1937.9,640.5a2.4,2.4 0 1,0 4.7,0a2.4,2.4 0 1,0 -4.7,0M1831.1,527.0a2.2,2.2 0 1,0 4.4,0a2.2,2.2 0 1,0 -4.4,0M1901.5,687.2a2.6,2.6 0 1,0 5.2,0a2.6,2.6 0 1,0 -5.2,0M1796.9,633.1a1.8,1.8 0 1,0 3.7,0a1.8,1.8 0 1,0 -3.7,0M1832.6,611.3a2.6,2.6 0 1,0 5.1,0a2.6,2.6 0 1,0 -5.1,0M1738.6,524.0a2.4,2.4 0 1,0 4.8,0a2.4,2.4 0 1,0 -4.8,0M1932.4,529.5a2.5,2.5 0 1,0 4.9,0a2.5,2.5 0 1,0 -4.9,0M1754.3,713.5a2.4,2.4 0 1,0 4.8,0a2.4,2.4 0 1,0 -4.8,0M1768.9,601.3a2.6,2.6 0 1,0 5.2,0a2.6,2.6 0 1,0 -5.2,0M1976.4,520.8a2.2,2.2 0 1,0 4.4,0a2.2,2.2 0 1,0 -4.4,0M1744.4,739.4a2.7,2.7 0 1,0 5.5,0a2.7,2.7 0 1,0 -5.5,0M1829.5,712.3a2.0,2.0 0 1,0 4.0,0a2.0,2.0 0 1,0 -4.0,0M1947.0,555.3a2.0,2.0 0 1,0 4.1,0a2.0,2.0 0 1,0 -4.1,0M1859.6,687.3a2.2,2.2 0 1,0 4.4,0a2.2,2.2 0 1,0 -4.4,0M1742.9,520.2a1.9,1.9 0 1,0 3.7,0a1.9,1.9 0 1,0 -3.7,0M1791.6,665.6a1.9,1.9 0 1,0 3.8,0a1.9,1.9 0 1,0 -3.8,0M1965.6,665.1a2.0,2.0 0 1,0 4.1,0a2.0,2.0 0 1,0 -4.1,0M1872.1,711.4a2.0,2.0 0 1,0 4.0,0a2.0,2.0 0 1,0 -4.0,0M1897.1,663.2a2.6,2.6 0 1,0 5.2,0a2.6,2.6 0 1,0 -5.2,0M1896.0,526.9a2.7,2.7 0 1,0 5.3,0a2.7,2.7 0 1,0 -5.3,0M1772.3,656.1a1.8,1.8 0 1,0 3.7,0a1.8,1.8 0 1,0 -3.7,0M1931.1,706.8a2.6,2.6 0 1,0 5.2,0a2.6,2.6 0 1,0 -5.2,0M1906.9,727.3a2.3,2.3 0 1,0 4.6,0a2.3,2.3 0 1,0 -4.6,0M1950.2,578.5a1.8,1.8 0 1,0 3.7,0a1.8,1.8 0 1,0 -3.7,0M1776.8,606.7a2.6,2.6 0 1,0 5.1,0a2.6,2.6 0 1,0 -5.1,0M1926.8,583.6a2.5,2.5 0 1,0 5.1,0a2.5,2.5 0 1,0 -5.1,0M1961.6,605.0a2.5,2.5 0 1,0 4.9,0a2.5,2.5 0 1,0 -4.9,0M1794.3,604.9a1.9,1.9 0 1,0 3.9,0a1.9,1.9 0 1,0 -3.9,0M1801.5,531.1a2.1,2.1 0 1,0 4.3,0a2.1,2.1 0 1,0 -4.3,0M1934.1,555.8a1.9,1.9 0 1,0 3.9,0a1.9,1.9 0 1,0 -3.9,0M1963.8,594.4a2.0,2.0 0 1,0 3.9,0a2.0,2.0 0 1,0 -3.9,0M1758.8,520.7a2.7,2.7 0 1,0 5.3,0a2.7,2.7 0 1,0 -5.3,0M1913.7,739.5a2.7,2.7 0 1,0 5.3,0a2.7,2.7 0 1,0 -5.3,0M1886.3,735.4a2.0,2.0 0 1,0 4.0,0a2.0,2.0 0 1,0 -4.0,0M1914.5,703.5a1.9,1.9 0 1,0 3.7,0a1.9,1.9 0 1,0 -3.7,0M1968.8,741.6a1.9,1.9 0 1,0 3.9,0a1.9,1.9 0 1,0 -3.9,0M1759.2,537.6a1.9,1.9 0 1,0 3.8,0a1.9,1.9 0 1,0 -3.8,0M1807.9,700.7a1.9,1.9 0 1,0 3.9,0a1.9,1.9 0 1,0 -3.9,0M1775.8,672.6a2.6,2.6 0 1,0 5.2,0a2.6,2.6 0 1,0 -5.2,0M1713.7,698.2a2.4,2.4 0 1,0 4.9,0a2.4,2.4 0 1,0 -4.9,0M1799.9,622.7a1.8,1.8 0 1,0 3.5,0a1.8,1.8 0 1,0 -3.5,0M1834.4,513.0a2.5,2.5 0 1,0 5.0,0a2.5,2.5 0 1,0 -5.0,0M1856.6,553.4a1.9,1.9 0 1,0 3.9,0a1.9,1.9 0 1,0 -3.9,0M1874.9,580.7a2.5,2.5 0 1,0 5.1,0a2.5,2.5 0 1,0 -5.1,0M1875.9,693.4a1.8,1.8 0 1,0 3.7,0a1.8,1.8 0 1,0 -3.7,0M1769.3,734.3a2.5,2.5 0 1,0 5.0,0a2.5,2.5 0 1,0 -5.0,0M1831.3,747.6a1.8,1.8 0 1,0 3.5,0a1.8,1.8 0 1,0 -3.5,0M1880.9,542.9a2.0,2.0 0 1,0 4.1,0a2.0,2.0 0 1,0 -4.1,0M1770.7,604.6a1.8,1.8 0 1,0 3.5,0a1.8,1.8 0 1,0 -3.5,0M1762.8,672.1a1.9,1.9 0 1,0 3.8,0a1.9,1.9 0 1,0 -3.8,0M1848.7,741.7a2.6,2.6 0 1,0 5.1,0a2.6,2.6 0 1,0 -5.1,0M1740.2,685.4a2.3,2.3 0 1,0 4.7,0a2.3,2.3 0 1,0 -4.7,0M1862.1,700.3a2.8,2.8 0 1,0 5.5,0a2.8,2.8 0 1,0 -5.5,0M1813.5,706.1a1.9,1.9 0 1,0 3.8,0a1.9,1.9 0 1,0 -3.8,0M1866.0,720.6a2.6,2.6 0 1,0 5.1,0a2.6,2.6 0 1,0 -5.1,0M1808.9,721.3a2.3,2.3 0 1,0 4.7,0a2.3,2.3 0 1,0 -4.7,0M1960.2,701.3a2.2,2.2 0 1,0 4.4,0a2.2,2.2 0 1,0 -4.4,0M1810.2,543.5a2.7,2.7 0 1,0 5.4,0a2.7,2.7 0 1,0 -5.4,0M1748.3,531.6a2.0,2.0 0 1,0 4.1,0a2.0,2.0 0 1,0 -4.1,0M1750.4,567.2a2.5,2.5 0 1,0 4.9,0a2.5,2.5 0 1,0 -4.9,0M1802.7,713.8a2.1,2.1 0 1,0 4.2,0a2.1,2.1 0 1,0 -4.2,0M1953.8,706.9a2.0,2.0 0 1,0 4.0,0a2.0,2.0 0 1,0 -4.0,0M1870.1,671.8a1.9,1.9 0 1,0 3.8,0a1.9,1.9 0 1,0 -3.8,0M1723.4,717.5a1.7,1.7 0 1,0 3.4,0a1.7,1.7 0 1,0 -3.4,0M1765.1,543.4a2.6,2.6 0 1,0 5.2,0a2.6,2.6 0 1,0 -5.2,0M1893.4,632.3a2.2,2.2 0 1,0 4.5,0a2.2,2.2 0 1,0 -4.5,0M1979.6,561.6a2.6,2.6 0 1,0 5.2,0a2.6,2.6 0 1,0 -5.2,0M1793.7,574.6a2.5,2.5 0 1,0 4.9,0a2.5,2.5 0 1,0 -4.9,0M1827.4,648.8a2.5,2.5 0 1,0 4.9,0a2.5,2.5 0 1,0 -4.9,0M1727.9,603.9a2.1,2.1 0 1,0 4.3,0a2.1,2.1 0 1,0 -4.3,0M1941.2,696.2a2.2,2.2 0 1,0 4.4,0a2.2,2.2 0 1,0 -4.4,0M1822.3,695.7a2.5,2.5 0 1,0 5.0,0a2.5,2.5 0 1,0 -5.0,0M1724.6,703.2a2.6,2.6 0 1,0 5.3,0a2.6,2.6 0 1,0 -5.3,0M1791.7,670.3a2.2,2.2 0 1,0 4.5,0a2.2,2.2 0 1,0 -4.5,0M1784.9,527.4a2.3,2.3 0 1,0 4.6,0a2.3,2.3 0 1,0 -4.6,0M1915.4,609.3a2.4,2.4 0 1,0 4.8,0a2.4,2.4 0 1,0 -4.8,0M1762.8,707.9a2.5,2.5 0 1,0 5.0,0a2.5,2.5 0 1,0 -5.0,0M1850.8,537.5a1.7,1.7 0 1,0 3.4,0a1.7,1.7 0 1,0 -3.4,0M1825.6,570.7a1.7,1.7 0 1,0 3.5,0a1.7,1.7 0 1,0 -3.5,0M1800.4,731.5a2.3,2.3 0 1,0 4.5,0a2.3,2.3 0 1,0 -4.5,0M1902.5,613.6a2.0,2.0 0 1,0 4.1,0a2.0,2.0 0 1,0 -4.1,0M1758.2,645.3a2.5,2.5 0 1,0 4.9,0a2.5,2.5 0 1,0 -4.9,0M1857.4,621.6a2.3,2.3 0 1,0 4.7,0a2.3,2.3 0 1,0 -4.7,0M1768.6,732.5a2.6,2.6 0 1,0 5.3,0a2.6,2.6 0 1,0 -5.3,0M1757.4,714.7a2.5,2.5 0 1,0 5.0,0a2.5,2.5 0 1,0 -5.0,0M1721.9,694.3a2.6,2.6 0 1,0 5.2,0a2.6,2.6 0 1,0 -5.2,0M1795.7,559.0a2.2,2.2 0 1,0 4.5,0a2.2,2.2 0 1,0 -4.5,0M1723.2,547.3a2.5,2.5 0 1,0 4.9,0a2.5,2.5 0 1,0 -4.9,0M1817.4,606.3a2.7,2.7 0 1,0 5.4,0a2.7,2.7 0 1,0 -5.4,0M1934.7,581.9a1.8,1.8 0 1,0 3.5,0a1.8,1.8 0 1,0 -3.5,0M1723.7,668.7a2.3,2.3 0 1,0 4.6,0a2.3,2.3 0 1,0 -4.6,0M1986.9,639.1a2.4,2.4 0 1,0 4.7,0a2.4,2.4 0 1,0 -4.7,0M1933.9,632.7a2.2,2.2 0 1,0 4.5,0a2.2,2.2 0 1,0 -4.5,0M1812.2,628.8a2.5,2.5 0 1,0 4.9,0a2.5,2.5 0 1,0 -4.9,0M1848.1,688.4a2.1,2.1 0 1,0 4.2,0a2.1,2.1 0 1,0 -4.2,0M1885.2,610.4a2.3,2.3 0 1,0 4.6,0a2.3,2.3 0 1,0 -4.6,0M1927.1,538.5a1.7,1.7 0 1,0 3.5,0a1.7,1.7 0 1,0 -3.5,0M1773.6,567.0a1.9,1.9 0 1,0 3.7,0a1.9,1.9 0 1,0 -3.7,0M1869.5,619.3a2.2,2.2 0 1,0 4.4,0a2.2,2.2 0 1,0 -4.4,0M1925.8,540.3a2.7,2.7 0 1,0 5.4,0a2.7,2.7 0 1,0 -5.4,0M1929.8,572.5a2.5,2.5 0 1,0 5.1,0a2.5,2.5 0 1,0 -5.1,0M1950.6,512.8a2.1,2.1 0 1,0 4.2,0a2.1,2.1 0 1,0 -4.2,0M1910.5,591.0a1.9,1.9 0 1,0 3.8,0a1.9,1.9 0 1,0 -3.8,0M1791.8,580.4a2.5,2.5 0 1,0 5.0,0a2.5,2.5 0 1,0 -5.0,0M1852.1,594.3a2.8,2.8 0 1,0 5.6,0a2.8,2.8 0 1,0 -5.6,0M1807.3,641.4a2.7,2.7 0 1,0 5.4,0a2.7,2.7 0 1,0 -5.4,0M1985.9,611.8a2.1,2.1 0 1,0 4.2,0a2.1,2.1 0 1,0 -4.2,0M1883.3,636.9a2.3,2.3 0 1,0 4.6,0a2.3,2.3 0 1,0 -4.6,0M1865.7,557.8a1.9,1.9 0 1,0 3.8,0a1.9,1.9 0 1,0 -3.8,0M1867.9,566.8a2.2,2.2 0 1,0 4.4,0a2.2,2.2 0 1,0 -4.4,0M1723.7,596.7a1.9,1.9 0 1,0 3.8,0a1.9,1.9 0 1,0 -3.8,0M1848.7,725.1a1.9,1.9 0 1,0 3.8,0a1.9,1.9 0 1,0 -3.8,0M1771.3,591.2a2.0,2.0 0 1,0 4.0,0a2.0,2.0 0 1,0 -4.0,0M1738.0,531.9a2.4,2.4 0 1,0 4.9,0a2.4,2.4 0 1,0 -4.9,0M1949.3,514.6a2.5,2.5 0 1,0 5.1,0a2.5,2.5 0 1,0 -5.1,0M1933.6,687.3a2.5,2.5 0 1,0 5.1,0a2.5,2.5 0 1,0 -5.1,0M1738.8,582.0a2.6,2.6 0 1,0 5.3,0a2.6,2.6 0 1,0 -5.3,0M1856.7,695.6a2.0,2.0 0 1,0 4.0,0a2.0,2.0 0 1,0 -4.0,0M1948.7,723.0a1.9,1.9 0 1,0 3.8,0a1.9,1.9 0 1,0 -3.8,0M1916.7,747.5a1.8,1.8 0 1,0 3.5,0a1.8,1.8 0 1,0 -3.5,0M1778.1,725.7a2.5,2.5 0 1,0 4.9,0a2.5,2.5 0 1,0 -4.9,0M1811.6,552.2a2.7,2.7 0 1,0 5.4,0a2.7,2.7 0 1,0 -5.4,0M1725.8,746.9a1.7,1.7 0 1,0 3.5,0a1.7,1.7 0 1,0 -3.5,0M1804.8,629.6a2.3,2.3 0 1,0 4.7,0a2.3,2.3 0 1,0 -4.7,0M1939.5,609.9a2.7,2.7 0 1,0 5.5,0a2.7,2.7 0 1,0 -5.5,0M1802.1,596.2a2.8,2.8 0 1,0 5.6,0a2.8,2.8 0 1,0 -5.6,0M1803.0,628.9a1.8,1.8 0 1,0 3.6,0a1.8,1.8 0 1,0 -3.6,0M1934.3,634.9a2.6,2.6 0 1,0 5.3,0a2.6,2.6 0 1,0 -5.3,0M1900.2,610.1a1.8,1.8 0 1,0 3.5,0a1.8,1.8 0 1,0 -3.5,0M1809.8,626.9a2.1,2.1 0 1,0 4.2,0a2.1,2.1 0 1,0 -4.2,0M1838.1,568.5a1.9,1.9 0 1,0 3.9,0a1.9,1.9 0 1,0 -3.9,0M1968.3,699.4a2.1,2.1 0 1,0 4.2,0a2.1,2.1 0 1,0 -4.2,0M1941.5,531.5a2.4,2.4 0 1,0 4.8,0a2.4,2.4 0 1,0 -4.8,0M1789.9,580.5a2.3,2.3 0 1,0 4.5,0a2.3,2.3 0 1,0 -4.5,0M1872.5,582.0a2.0,2.0 0 1,0 3.9,0a2.0,2.0 0 1,0 -3.9,0M1820.8,706.5a2.7,2.7 0 1,0 5.4,0a2.7,2.7 0 1,0 -5.4,0M1958.7,684.4a2.8,2.8 0 1,0 5.5,0a2.8,2.8 0 1,0 -5.5,0M1724.4,719.4a2.1,2.1 0 1,0 4.2,0a2.1,2.1 0 1,0 -4.2,0M1721.8,561.4a2.6,2.6 0 1,0 5.3,0a2.6,2.6 0 1,0 -5.3,0M1897.1,532.4a2.0,2.0 0 1,0 4.1,0a2.0,2.0 0 1,0 -4.1,0M1968.8,746.7a2.8,2.8 0 1,0 5.5,0a2.8,2.8 0 1,0 -5.5,0M1960.0,731.0a2.7,2.7 0 1,0 5.3,0a2.7,2.7 0 1,0 -5.3,0M1842.2,572.5a2.3,2.3 0 1,0 4.6,0a2.3,2.3 0 1,0 -4.6,0M1724.1,641.8a2.0,2.0 0 1,0 4.0,0a2.0,2.0 0 1,0 -4.0,0M1770.7,613.6a2.4,2.4 0 1,0 4.9,0a2.4,2.4 0 1,0 -4.9,0M1846.4,538.9a2.8,2.8 0 1,0 5.6,0a2.8,2.8 0 1,0 -5.6,0M1773.5,648.9a2.6,2.6 0 1,0 5.2,0a2.6,2.6 0 1,0 -5.2,0M1901.2,616.1a2.7,2.7 0 1,0 5.4,0a2.7,2.7 0 1,0 -5.4,0M1739.4,638.4a1.8,1.8 0 1,0 3.7,0a1.8,1.8 0 1,0 -3.7,0M1852.1,582.5a2.6,2.6 0 1,0 5.2,0a2.6,2.6 0 1,0 -5.2,0M1838.9,555.8a1.9,1.9 0 1,0 3.8,0a1.9,1.9 0 1,0 -3.8,0M1747.7,629.4a2.6,2.6 0 1,0 5.3,0a2.6,2.6 0 1,0 -5.3,0M1967.2,689.6a1.8,1.8 0 1,0 3.6,0a1.8,1.8 0 1,0 -3.6,0M1889.4,571.6a1.8,1.8 0 1,0 3.7,0a1.8,1.8 0 1,0 -3.7,0M1743.4,694.4a1.8,1.8 0 1,0 3.5,0a1.8,1.8 0 1,0 -3.5,0M1953.4,589.1a2.1,2.1 0 1,0 4.2,0a2.1,2.1 0 1,0 -4.2,0M1963.9,554.4a2.2,2.2 0 1,0 4.3,0a2.2,2.2 0 1,0 -4.3,0M1949.9,661.8a2.0,2.0 0 1,0 3.9,0a2.0,2.0 0 1,0 -3.9,0M1740.3,705.0a2.4,2.4 0 1,0 4.8,0a2.4,2.4 0 1,0 -4.8,0M1975.9,554.9a2.0,2.0 0 1,0 4.0,0a2.0,2.0 0 1,0 -4.0,0M1906.6,586.9a2.8,2.8 0 1,0 5.6,0a2.8,2.8 0 1,0 -5.6,0M1797.0,540.4a2.2,2.2 0 1,0 4.5,0a2.2,2.2 0 1,0 -4.5,0M1736.6,602.7a2.7,2.7 0 1,0 5.5,0a2.7,2.7 0 1,0 -5.5,0M1894.5,613.7a2.4,2.4 0 1,0 4.9,0a2.4,2.4 0 1,0 -4.9,0M1941.4,525.6a2.8,2.8 0 1,0 5.5,0a2.8,2.8 0 1,0 -5.5,0M1963.3,609.5a1.9,1.9 0 1,0 3.8,0a1.9,1.9 0 1,0 -3.8,0M1910.6,641.8a1.8,1.8 0 1,0 3.7,0a1.8,1.8 0 1,0 -3.7,0M1880.0,632.1a2.4,2.4 0 1,0 4.7,0a2.4,2.4 0 1,0 -4.7,0M1719.6,640.6a2.2,2.2 0 1,0 4.4,0a2.2,2.2 0 1,0 -4.4,0M1951.9,681.0a2.5,2.5 0 1,0 5.0,0a2.5,2.5 0 1,0 -5.0,0M1870.6,566.9a2.6,2.6 0 1,0 5.2,0a2.6,2.6 0 1,0 -5.2,0M1784.8,737.8a2.3,2.3 0 1,0 4.6,0a2.3,2.3 0 1,0 -4.6,0M1826.8,605.5a2.2,2.2 0 1,0 4.4,0a2.2,2.2 0 1,0 -4.4,0M1852.9,549.2a2.2,2.2 0 1,0 4.3,0a2.2,2.2 0 1,0 -4.3,0M1724.8,644.6a1.8,1.8 0 1,0 3.7,0a1.8,1.8 0 1,0 -3.7,0M1775.1,518.1a2.3,2.3 0 1,0 4.5,0a2.3,2.3 0 1,0 -4.5,0M1721.6,625.4a2.4,2.4 0 1,0 4.9,0a2.4,2.4 0 1,0 -4.9,0M1747.4,592.1a2.0,2.0 0 1,0 4.1,0a2.0,2.0 0 1,0 -4.1,0M1836.7,586.0a2.1,2.1 0 1,0 4.2,0a2.1,2.1 0 1,0 -4.2,0M1951.5,517.1a2.7,2.7 0 1,0 5.4,0a2.7,2.7 0 1,0 -5.4,0M1964.0,662.5a2.5,2.5 0 1,0 5.1,0a2.5,2.5 0 1,0 -5.1,0M1916.1,611.8a1.9,1.9 0 1,0 3.8,0a1.9,1.9 0 1,0 -3.8,0M1743.8,654.5a2.4,2.4 0 1,0 4.9,0a2.4,2.4 0 1,0 -4.9,0M1910.7,744.1a2.0,2.0 0 1,0 4.0,0a2.0,2.0 0 1,0 -4.0,0M1878.9,577.2a2.7,2.7 0 1,0 5.3,0a2.7,2.7 0 1,0 -5.3,0M1730.3,654.8a2.7,2.7 0 1,0 5.3,0a2.7,2.7 0 1,0 -5.3,0M1778.3,741.8a2.2,2.2 0 1,0 4.3,0a2.2,2.2 0 1,0 -4.3,0M1988.6,584.0a2.7,2.7 0 1,0 5.4,0a2.7,2.7 0 1,0 -5.4,0M1811.9,706.1a2.7,2.7 0 1,0 5.4,0a2.7,2.7 0 1,0 -5.4,0M1872.0,687.9a2.5,2.5 0 1,0 5.1,0a2.5,2.5 0 1,0 -5.1,0M1964.3,703.9a2.4,2.4 0 1,0 4.8,0a2.4,2.4 0 1,0 -4.8,0M1912.8,650.1a2.0,2.0 0 1,0 4.0,0a2.0,2.0 0 1,0 -4.0,0M1718.6,730.2a1.8,1.8 0 1,0 3.7,0a1.8,1.8 0 1,0 -3.7,0M1830.3,556.3a2.0,2.0 0 1,0 3.9,0a2.0,2.0 0 1,0 -3.9,0M1761.6,640.2a1.8,1.8 0 1,0 3.7,0a1.8,1.8 0 1,0 -3.7,0M1952.3,655.2a1.8,1.8 0 1,0 3.7,0a1.8,1.8 0 1,0 -3.7,0M1768.2,686.9a2.8,2.8 0 1,0 5.5,0a2.8,2.8 0 1,0 -5.5,0M1826.3,517.3a2.0,2.0 0 1,0 4.0,0a2.0,2.0 0 1,0 -4.0,0M1870.2,599.1a2.5,2.5 0 1,0 5.0,0a2.5,2.5 0 1,0 -5.0,0M1728.5,743.9a1.8,1.8 0 1,0 3.6,0a1.8,1.8 0 1,0 -3.6,0M1891.6,631.2a2.7,2.7 0 1,0 5.3,0a2.7,2.7 0 1,0 -5.3,0M1831.9,597.5a2.1,2.1 0 1,0 4.2,0a2.1,2.1 0 1,0 -4.2,0M1967.9,673.6a2.1,2.1 0 1,0 4.2,0a2.1,2.1 0 1,0 -4.2,0M1829.3,600.2a1.8,1.8 0 1,0 3.6,0a1.8,1.8 0 1,0 -3.6,0M1978.1,714.3a2.8,2.8 0 1,0 5.5,0a2.8,2.8 0 1,0 -5.5,0M1856.5,525.1a1.8,1.8 0 1,0 3.6,0a1.8,1.8 0 1,0 -3.6,0M1773.8,624.7a2.0,2.0 0 1,0 4.1,0a2.0,2.0 0 1,0 -4.1,0M1980.2,722.5a2.2,2.2 0 1,0 4.4,0a2.2,2.2 0 1,0 -4.4,0M1800.8,598.1a2.2,2.2 0 1,0 4.4,0a2.2,2.2 0 1,0 -4.4,0M1831.9,535.6a2.6,2.6 0 1,0 5.2,0a2.6,2.6 0 1,0 -5.2,0M1911.0,747.6a2.0,2.0 0 1,0 4.0,0a2.0,2.0 0 1,0 -4.0,0M1833.7,697.0a2.2,2.2 0 1,0 4.3,0a2.2,2.2 0 1,0 -4.3,0M1959.9,687.2a2.0,2.0 0 1,0 4.0,0a2.0,2.0 0 1,0 -4.0,0M1911.8,616.7a2.7,2.7 0 1,0 5.5,0a2.7,2.7 0 1,0 -5.5,0M1774.2,569.5a2.0,2.0 0 1,0 4.1,0a2.0,2.0 0 1,0 -4.1,0M1734.1,541.1a2.6,2.6 0 1,0 5.3,0a2.6,2.6 0 1,0 -5.3,0M1863.2,699.4a2.5,2.5 0 1,0 5.1,0a2.5,2.5 0 1,0 -5.1,0M1889.2,605.4a2.7,2.7 0 1,0 5.3,0a2.7,2.7 0 1,0 -5.3,0M1800.6,722.7a1.8,1.8 0 1,0 3.6,0a1.8,1.8 0 1,0 -3.6,0M1882.5,740.2a2.3,2.3 0 1,0 4.6,0a2.3,2.3 0 1,0 -4.6,0M1813.2,624.8a2.2,2.2 0 1,0 4.4,0a2.2,2.2 0 1,0 -4.4,0M1758.5,612.6a1.9,1.9 0 1,0 3.8,0a1.9,1.9 0 1,0 -3.8,0M1848.1,639.8a2.3,2.3 0 1,0 4.6,0a2.3,2.3 0 1,0 -4.6,0M1908.0,516.1a1.8,1.8 0 1,0 3.6,0a1.8,1.8 0 1,0 -3.6,0M1814.9,530.4a2.5,2.5 0 1,0 5.1,0a2.5,2.5 0 1,0 -5.1,0M1911.2,561.5a2.3,2.3 0 1,0 4.6,0a2.3,2.3 0 1,0 -4.6,0M1790.4,593.7a2.4,2.4 0 1,0 4.8,0a2.4,2.4 0 1,0 -4.8,0M1848.7,533.1a1.8,1.8 0 1,0 3.5,0a1.8,1.8 0 1,0 -3.5,0M1874.2,711.9a2.4,2.4 0 1,0 4.8,0a2.4,2.4 0 1,0 -4.8,0M1860.6,637.1a2.3,2.3 0 1,0 4.5,0a2.3,2.3 0 1,0 -4.5,0M1922.4,641.0a2.2,2.2 0 1,0 4.3,0a2.2,2.2 0 1,0 -4.3,0M1785.3,602.8a2.2,2.2 0 1,0 4.4,0a2.2,2.2 0 1,0 -4.4,0M1860.5,525.2a2.1,2.1 0 1,0 4.3,0a2.1,2.1 0 1,0 -4.3,0M1970.8,612.0a2.5,2.5 0 1,0 5.1,0a2.5,2.5 0 1,0 -5.1,0M1889.9,740.3a2.3,2.3 0 1,0 4.6,0a2.3,2.3 0 1,0 -4.6,0M1740.0,645.7a2.8,2.8 0 1,0 5.5,0a2.8,2.8 0 1,0 -5.5,0M1981.9,666.2a2.1,2.1 0 1,0 4.2,0a2.1,2.1 0 1,0 -4.2,0M1892.0,533.5a2.6,2.6 0 1,0 5.1,0a2.6,2.6 0 1,0 -5.1,0M1931.2,587.0a2.6,2.6 0 1,0 5.1,0a2.6,2.6 0 1,0 -5.1,0M1964.1,720.4a2.6,2.6 0 1,0 5.3,0a2.6,2.6 0 1,0 -5.3,0M1905.6,629.8a2.3,2.3 0 1,0 4.6,0a2.3,2.3 0 1,0 -4.6,0M1839.2,583.6a2.2,2.2 0 1,0 4.4,0a2.2,2.2 0 1,0 -4.4,0M1736.6,620.2a2.5,2.5 0 1,0 4.9,0a2.5,2.5 0 1,0 -4.9,0M1792.3,719.0a2.7,2.7 0 1,0 5.4,0a2.7,2.7 0 1,0 -5.4,0M1972.2,648.1a2.7,2.7 0 1,0 5.3,0a2.7,2.7 0 1,0 -5.3,0M1743.0,550.7a1.8,1.8 0 1,0 3.6,0a1.8,1.8 0 1,0 -3.6,0M1814.7,516.0a2.1,2.1 0 1,0 4.2,0a2.1,2.1 0 1,0 -4.2,0M1959.2,633.7a1.8,1.8 0 1,0 3.6,0a1.8,1.8 0 1,0 -3.6,0M1863.0,656.4a2.5,2.5 0 1,0 4.9,0a2.5,2.5 0 1,0 -4.9,0M1755.6,574.5a2.1,2.1 0 1,0 4.3,0a2.1,2.1 0 1,0 -4.3,0M1858.3,706.8a2.2,2.2 0 1,0 4.5,0a2.2,2.2 0 1,0 -4.5,0M1902.0,639.4a2.1,2.1 0 1,0 4.2,0a2.1,2.1 0 1,0 -4.2,0M1739.9,733.1a2.7,2.7 0 1,0 5.3,0a2.7,2.7 0 1,0 -5.3,0M1912.5,650.5a2.6,2.6 0 1,0 5.2,0a2.6,2.6 0 1,0 -5.2,0M1772.3,525.6a2.3,2.3 0 1,0 4.5,0a2.3,2.3 0 1,0 -4.5,0M1808.8,548.4a2.0,2.0 0 1,0 4.0,0a2.0,2.0 0 1,0 -4.0,0M1983.0,691.0a1.8,1.8 0 1,0 3.5,0a1.8,1.8 0 1,0 -3.5,0M1786.3,696.0a2.4,2.4 0 1,0 4.9,0a2.4,2.4 0 1,0 -4.9,0M1782.1,645.6a2.7,2.7 0 1,0 5.4,0a2.7,2.7 0 1,0 -5.4,0M1716.0,733.5a2.0,2.0 0 1,0 4.1,0a2.0,2.0 0 1,0 -4.1,0M1771.3,624.3a2.2,2.2 0 1,0 4.4,0a2.2,2.2 0 1,0 -4.4,0M1749.8,570.4a2.5,2.5 0 1,0 5.0,0a2.5,2.5 0 1,0 -5.0,0M1790.2,529.7a2.2,2.2 0 1,0 4.4,0a2.2,2.2 0 1,0 -4.4,0M1856.9,713.3a2.4,2.4 0 1,0 4.8,0a2.4,2.4 0 1,0 -4.8,0M1893.7,720.5a2.4,2.4 0 1,0 4.7,0a2.4,2.4 0 1,0 -4.7,0M1872.5,656.6a2.2,2.2 0 1,0 4.3,0a2.2,2.2 0 1,0 -4.3,0M1924.0,618.9a2.7,2.7 0 1,0 5.5,0a2.7,2.7 0 1,0 -5.5,0M1878.3,728.5a1.9,1.9 0 1,0 3.7,0a1.9,1.9 0 1,0 -3.7,0M1914.6,562.5a2.3,2.3 0 1,0 4.5,0a2.3,2.3 0 1,0 -4.5,0M1816.3,519.4a2.6,2.6 0 1,0 5.2,0a2.6,2.6 0 1,0 -5.2,0M1875.5,585.6a2.4,2.4 0 1,0 4.7,0a2.4,2.4 0 1,0 -4.7,0M1955.0,538.5a2.0,2.0 0 1,0 4.0,0a2.0,2.0 0 1,0 -4.0,0M1943.9,746.7a2.7,2.7 0 1,0 5.3,0a2.7,2.7 0 1,0 -5.3,0M1801.3,576.3a1.9,1.9 0 1,0 3.8,0a1.9,1.9 0 1,0 -3.8,0M1741.8,554.2a2.2,2.2 0 1,0 4.5,0a2.2,2.2 0 1,0 -4.5,0M1902.1,513.2a1.9,1.9 0 1,0 3.9,0a1.9,1.9 0 1,0 -3.9,0M1934.6,695.1a2.0,2.0 0 1,0 4.0,0a2.0,2.0 0 1,0 -4.0,0M1982.2,561.0a1.9,1.9 0 1,0 3.8,0a1.9,1.9 0 1,0 -3.8,0M1820.0,626.6a2.8,2.8 0 1,0 5.5,0a2.8,2.8 0 1,0 -5.5,0M1776.4,715.9a2.4,2.4 0 1,0 4.7,0a2.4,2.4 0 1,0 -4.7,0M1964.0,713.1a2.7,2.7 0 1,0 5.4,0a2.7,2.7 0 1,0 -5.4,0M1887.8,663.8a2.2,2.2 0 1,0 4.5,0a2.2,2.2 0 1,0 -4.5,0M1813.5,669.4a1.9,1.9 0 1,0 3.7,0a1.9,1.9 0 1,0 -3.7,0M1771.1,740.8a2.2,2.2 0 1,0 4.3,0a2.2,2.2 0 1,0 -4.3,0M1838.2,657.6a2.1,2.1 0 1,0 4.1,0a2.1,2.1 0 1,0 -4.1,0M1778.6,682.5a2.1,2.1 0 1,0 4.2,0a2.1,2.1 0 1,0 -4.2,0M1959.2,636.6a2.1,2.1 0 1,0 4.2,0a2.1,2.1 0 1,0 -4.2,0M1817.1,664.5a1.8,1.8 0 1,0 3.6,0a1.8,1.8 0 1,0 -3.6,0M1964.9,551.5a2.5,2.5 0 1,0 4.9,0a2.5,2.5 0 1,0 -4.9,0M1717.9,650.1a1.9,1.9 0 1,0 3.8,0a1.9,1.9 0 1,0 -3.8,0M1910.8,615.8a2.8,2.8 0 1,0 5.5,0a2.8,2.8 0 1,0 -5.5,0M1775.9,734.9a2.5,2.5 0 1,0 5.1,0a2.5,2.5 0 1,0 -5.1,0M1831.4,699.1a2.2,2.2 0 1,0 4.4,0a2.2,2.2 0 1,0 -4.4,0M1814.8,686.9a2.6,2.6 0 1,0 5.2,0a2.6,2.6 0 1,0 -5.2,0M1827.8,679.0a1.9,1.9 0 1,0 3.7,0a1.9,1.9 0 1,0 -3.7,0M1950.1,734.8a2.8,2.8 0 1,0 5.5,0a2.8,2.8 0 1,0 -5.5,0M1823.6,682.7a2.5,2.5 0 1,0 4.9,0a2.5,2.5 0 1,0 -4.9,0M1758.9,534.6a2.4,2.4 0 1,0 4.8,0a2.4,2.4 0 1,0 -4.8,0M1984.2,676.4a2.3,2.3 0 1,0 4.7,0a2.3,2.3 0 1,0 -4.7,0M1975.7,558.5a2.8,2.8 0 1,0 5.5,0a2.8,2.8 0 1,0 -5.5,0M1742.4,704.9a2.0,2.0 0 1,0 3.9,0a2.0,2.0 0 1,0 -3.9,0M1921.5,606.8a2.7,2.7 0 1,0 5.5,0a2.7,2.7 0 1,0 -5.5,0M1861.6,692.8a1.9,1.9 0 1,0 3.7,0a1.9,1.9 0 1,0 -3.7,0M1954.7,579.0a2.5,2.5 0 1,0 5.1,0a2.5,2.5 0 1,0 -5.1,0M1780.7,530.2a1.9,1.9 0 1,0 3.7,0a1.9,1.9 0 1,0 -3.7,0M1844.9,513.9a2.0,2.0 0 1,0 3.9,0a2.0,2.0 0 1,0 -3.9,0M1726.2,563.5a2.2,2.2 0 1,0 4.5,0a2.2,2.2 0 1,0 -4.5,0M1759.7,669.9a2.0,2.0 0 1,0 4.0,0a2.0,2.0 0 1,0 -4.0,0M1819.9,626.1a2.4,2.4 0 1,0 4.7,0a2.4,2.4 0 1,0 -4.7,0M1839.9,527.4a2.4,2.4 0 1,0 4.9,0a2.4,2.4 0 1,0 -4.9,0M1853.5,552.2a2.3,2.3 0 1,0 4.7,0a2.3,2.3 0 1,0 -4.7,0M1714.3,656.1a2.0,2.0 0 1,0 4.1,0a2.0,2.0 0 1,0 -4.1,0M1895.7,533.8a2.4,2.4 0 1,0 4.8,0a2.4,2.4 0 1,0 -4.8,0M1829.8,512.6a2.3,2.3 0 1,0 4.5,0a2.3,2.3 0 1,0 -4.5,0M1743.0,714.2a2.0,2.0 0 1,0 4.1,0a2.0,2.0 0 1,0 -4.1,0M1764.9,608.4a2.4,2.4 0 1,0 4.8,0a2.4,2.4 0 1,0 -4.8,0M1859.7,679.4a2.4,2.4 0 1,0 4.8,0a2.4,2.4 0 1,0 -4.8,0M1988.3,659.1a2.1,2.1 0 1,0 4.1,0a2.1,2.1 0 1,0 -4.1,0M1973.0,620.9a2.0,2.0 0 1,0 4.0,0a2.0,2.0 0 1,0 -4.0,0M1714.3,679.9a2.4,2.4 0 1,0 4.7,0a2.4,2.4 0 1,0 -4.7,0M1750.1,735.5a1.9,1.9 0 1,0 3.7,0a1.9,1.9 0 1,0 -3.7,0M1876.9,650.2a2.2,2.2 0 1,0 4.4,0a2.2,2.2 0 1,0 -4.4,0M1818.0,661.9a2.3,2.3 0 1,0 4.6,0a2.3,2.3 0 1,0 -4.6,0M1807.7,593.7a2.3,2.3 0 1,0 4.5,0a2.3,2.3 0 1,0 -4.5,0M1830.3,590.4a2.7,2.7 0 1,0 5.3,0a2.7,2.7 0 1,0 -5.3,0M1896.2,746.5a1.9,1.9 0 1,0 3.8,0a1.9,1.9 0 1,0 -3.8,0M1930.1,656.5a2.1,2.1 0 1,0 4.1,0a2.1,2.1 0 1,0 -4.1,0M1854.6,699.7a2.3,2.3 0 1,0 4.6,0a2.3,2.3 0 1,0 -4.6,0M1778.5,579.9a2.6,2.6 0 1,0 5.2,0a2.6,2.6 0 1,0 -5.2,0M1739.3,542.4a2.4,2.4 0 1,0 4.9,0a2.4,2.4 0 1,0 -4.9,0M1886.9,714.5a2.2,2.2 0 1,0 4.4,0a2.2,2.2 0 1,0 -4.4,0M1804.5,741.3a2.0,2.0 0 1,0 4.1,0a2.0,2.0 0 1,0 -4.1,0M1908.7,533.3a2.2,2.2 0 1,0 4.3,0a2.2,2.2 0 1,0 -4.3,0M1844.5,633.6a1.7,1.7 0 1,0 3.5,0a1.7,1.7 0 1,0 -3.5,0M1946.4,739.1a2.5,2.5 0 1,0 5.0,0a2.5,2.5 0 1,0 -5.0,0M1937.9,728.2a2.8,2.8 0 1,0 5.5,0a2.8,2.8 0 1,0 -5.5,0M1948.2,612.5a1.8,1.8 0 1,0 3.6,0a1.8,1.8 0 1,0 -3.6,0M1817.1,525.6a2.3,2.3 0 1,0 4.5,0a2.3,2.3 0 1,0 -4.5,0M1968.1,721.0a1.9,1.9 0 1,0 3.9,0a1.9,1.9 0 1,0 -3.9,0M1894.0,576.6a2.6,2.6 0 1,0 5.2,0a2.6,2.6 0 1,0 -5.2,0M1765.2,537.7a2.3,2.3 0 1,0 4.6,0a2.3,2.3 0 1,0 -4.6,0M1980.4,615.8a2.3,2.3 0 1,0 4.5,0a2.3,2.3 0 1,0 -4.5,0M1948.2,651.5a2.5,2.5 0 1,0 5.0,0a2.5,2.5 0 1,0 -5.0,0M1867.3,600.1a2.2,2.2 0 1,0 4.4,0a2.2,2.2 0 1,0 -4.4,0M1857.3,545.3a2.0,2.0 0 1,0 4.0,0a2.0,2.0 0 1,0 -4.0,0" fill="#7a8fb3" opacity="0.8"/>
</g>
<path d="M1424,578 C1436,577 1446,574 1461,579 C1455,590 1440,594 1424,597 Z" fill="#e2dcda"/>
<ellipse cx="1548" cy="643" rx="12" ry="8" fill="#e6e1df"/>
<ellipse cx="1850" cy="595" rx="15" ry="24" fill="#dedad9" transform="rotate(15 1850 595)"/>
<ellipse cx="1759" cy="620" rx="4" ry="5" fill="#e0dcdb"/>
<rect x="1667.9" y="734.5" width="36.1" height="9.9" fill="#1a1716" />
<text transform="translate(1668.58 729.21) scale(1.020 1)" font-size="13.59" font-weight="bold" fill="#231f20" >50μm</text>
<rect x="1952.9" y="734.5" width="36.1" height="9.9" fill="#1a1716" />
<text transform="translate(1953.58 729.21) scale(1.020 1)" font-size="13.59" font-weight="bold" fill="#231f20" >50μm</text>
<text x="30" y="885.5" font-size="48" text-anchor="start" font-weight="bold" fill="#111" >h</text>
<text transform="translate(153.16 875.85) scale(1.087 1)" font-size="25.44" fill="#231f20" >Vehicle</text>
<text transform="translate(318.9 875.85) scale(1.079 1)" font-size="25.44" fill="#231f20" >Parvalbumin blocker</text>
<text transform="translate(58.1 1033.76) rotate(-90)" font-size="36.81" fill="#231f20" >BAT</text>
<text transform="translate(59.23 1277.98) rotate(-90) scale(0.977 1)" font-size="37.00" fill="#231f20" >scWAT</text>
<clipPath id="clipbv"><rect x="74.4" y="885.5" width="239.2" height="216.7"/></clipPath>
<g clip-path="url(#clipbv)">
<rect x="74.4" y="885.5" width="239.2" height="216.7" fill="#e683b2" />
<filter id="foambv" x="74.4" y="885.5" width="239.2" height="216.7" filterUnits="userSpaceOnUse"><feTurbulence type="fractalNoise" baseFrequency="0.5" numOctaves="2" seed="7" result="n"/><feColorMatrix in="n" type="matrix" values="0 0 0 0 1  0 0 0 0 0.97  0 0 0 0 0.99  0 0 0 5.0 -2.2"/></filter>
<rect x="74.4" y="885.5" width="239.2" height="216.7" fill="#fff" filter="url(#foambv)"/>
<path d="M102.6,1028.1a4.4,4.4 0 1,0 8.7,0a4.4,4.4 0 1,0 -8.7,0M81.3,901.1a5.5,5.5 0 1,0 11.1,0a5.5,5.5 0 1,0 -11.1,0M270.0,908.6a5.4,5.4 0 1,0 10.8,0a5.4,5.4 0 1,0 -10.8,0M160.7,1101.8a7.6,7.6 0 1,0 15.1,0a7.6,7.6 0 1,0 -15.1,0M102.2,1012.3a12.2,12.2 0 1,0 24.4,0a12.2,12.2 0 1,0 -24.4,0M153.6,1004.7a8.6,8.6 0 1,0 17.2,0a8.6,8.6 0 1,0 -17.2,0M166.6,951.7a9.4,9.4 0 1,0 18.8,0a9.4,9.4 0 1,0 -18.8,0M231.9,935.8a11.7,11.7 0 1,0 23.5,0a11.7,11.7 0 1,0 -23.5,0M192.8,1078.9a7.5,7.5 0 1,0 15.0,0a7.5,7.5 0 1,0 -15.0,0M130.8,1102.7a10.3,10.3 0 1,0 20.7,0a10.3,10.3 0 1,0 -20.7,0M250.8,1010.4a9.2,9.2 0 1,0 18.3,0a9.2,9.2 0 1,0 -18.3,0M134.0,1038.1a13.6,13.6 0 1,0 27.3,0a13.6,13.6 0 1,0 -27.3,0M206.1,983.9a7.8,7.8 0 1,0 15.7,0a7.8,7.8 0 1,0 -15.7,0M292.0,988.0a12.8,12.8 0 1,0 25.6,0a12.8,12.8 0 1,0 -25.6,0M75.4,1039.5a9.1,9.1 0 1,0 18.2,0a9.1,9.1 0 1,0 -18.2,0M308.1,1066.8a8.8,8.8 0 1,0 17.5,0a8.8,8.8 0 1,0 -17.5,0M161.5,1032.1a4.0,4.0 0 1,0 8.1,0a4.0,4.0 0 1,0 -8.1,0M75.9,982.3a13.5,13.5 0 1,0 27.1,0a13.5,13.5 0 1,0 -27.1,0M282.4,1066.2a7.1,7.1 0 1,0 14.3,0a7.1,7.1 0 1,0 -14.3,0M285.0,1097.6a4.7,4.7 0 1,0 9.4,0a4.7,4.7 0 1,0 -9.4,0M205.7,1096.6a4.8,4.8 0 1,0 9.6,0a4.8,4.8 0 1,0 -9.6,0M73.6,1084.4a9.3,9.3 0 1,0 18.6,0a9.3,9.3 0 1,0 -18.6,0M163.8,904.0a5.1,5.1 0 1,0 10.1,0a5.1,5.1 0 1,0 -10.1,0M208.8,914.2a13.6,13.6 0 1,0 27.2,0a13.6,13.6 0 1,0 -27.2,0M184.0,900.0a5.9,5.9 0 1,0 11.9,0a5.9,5.9 0 1,0 -11.9,0M97.1,885.7a12.5,12.5 0 1,0 25.0,0a12.5,12.5 0 1,0 -25.0,0M69.1,1000.2a7.0,7.0 0 1,0 14.1,0a7.0,7.0 0 1,0 -14.1,0M268.2,1038.3a16.3,16.3 0 1,0 32.6,0a16.3,16.3 0 1,0 -32.6,0M190.9,1057.1a11.2,11.2 0 1,0 22.5,0a11.2,11.2 0 1,0 -22.5,0M120.6,1064.5a4.4,4.4 0 1,0 8.8,0a4.4,4.4 0 1,0 -8.8,0M300.4,1097.0a15.2,15.2 0 1,0 30.4,0a15.2,15.2 0 1,0 -30.4,0M119.6,931.9a4.8,4.8 0 1,0 9.5,0a4.8,4.8 0 1,0 -9.5,0M93.8,1067.9a12.0,12.0 0 1,0 24.0,0a12.0,12.0 0 1,0 -24.0,0M215.2,999.9a16.1,16.1 0 1,0 32.2,0a16.1,16.1 0 1,0 -32.2,0M162.4,1078.1a15.1,15.1 0 1,0 30.2,0a15.1,15.1 0 1,0 -30.2,0M187.2,996.6a8.2,8.2 0 1,0 16.3,0a8.2,8.2 0 1,0 -16.3,0M290.5,939.3a13.7,13.7 0 1,0 27.3,0a13.7,13.7 0 1,0 -27.3,0M255.6,1083.9a9.2,9.2 0 1,0 18.3,0a9.2,9.2 0 1,0 -18.3,0M113.7,952.7a4.5,4.5 0 1,0 9.0,0a4.5,4.5 0 1,0 -9.0,0M68.3,955.7a5.6,5.6 0 1,0 11.2,0a5.6,5.6 0 1,0 -11.2,0M125.4,909.9a11.4,11.4 0 1,0 22.8,0a11.4,11.4 0 1,0 -22.8,0M236.5,900.8a7.5,7.5 0 1,0 14.9,0a7.5,7.5 0 1,0 -14.9,0M97.7,1000.0a3.9,3.9 0 1,0 7.8,0a3.9,3.9 0 1,0 -7.8,0M254.5,946.2a4.2,4.2 0 1,0 8.4,0a4.2,4.2 0 1,0 -8.4,0M296.3,904.6a6.1,6.1 0 1,0 12.1,0a6.1,6.1 0 1,0 -12.1,0M150.8,892.8a5.2,5.2 0 1,0 10.4,0a5.2,5.2 0 1,0 -10.4,0M125.7,946.9a4.0,4.0 0 1,0 8.0,0a4.0,4.0 0 1,0 -8.0,0M102.8,981.6a5.9,5.9 0 1,0 11.7,0a5.9,5.9 0 1,0 -11.7,0M222.5,1042.8a10.8,10.8 0 1,0 21.6,0a10.8,10.8 0 1,0 -21.6,0M110.2,1048.2a10.3,10.3 0 1,0 20.7,0a10.3,10.3 0 1,0 -20.7,0M206.7,883.3a4.2,4.2 0 1,0 8.4,0a4.2,4.2 0 1,0 -8.4,0M178.6,986.2a6.6,6.6 0 1,0 13.3,0a6.6,6.6 0 1,0 -13.3,0M267.9,1100.0a5.8,5.8 0 1,0 11.7,0a5.8,5.8 0 1,0 -11.7,0M130.6,928.1a5.7,5.7 0 1,0 11.5,0a5.7,5.7 0 1,0 -11.5,0M274.5,880.9a4.3,4.3 0 1,0 8.6,0a4.3,4.3 0 1,0 -8.6,0M158.1,969.6a4.1,4.1 0 1,0 8.2,0a4.1,4.1 0 1,0 -8.2,0M110.2,965.1a6.6,6.6 0 1,0 13.1,0a6.6,6.6 0 1,0 -13.1,0M204.1,969.9a4.2,4.2 0 1,0 8.3,0a4.2,4.2 0 1,0 -8.3,0M232.7,1093.9a6.7,6.7 0 1,0 13.4,0a6.7,6.7 0 1,0 -13.4,0M158.5,931.2a7.7,7.7 0 1,0 15.3,0a7.7,7.7 0 1,0 -15.3,0M184.7,927.0a10.5,10.5 0 1,0 21.1,0a10.5,10.5 0 1,0 -21.1,0M117.4,1101.3a5.1,5.1 0 1,0 10.1,0a5.1,5.1 0 1,0 -10.1,0M288.2,1080.8a5.1,5.1 0 1,0 10.1,0a5.1,5.1 0 1,0 -10.1,0M111.2,1092.7a4.4,4.4 0 1,0 8.8,0a4.4,4.4 0 1,0 -8.8,0M157.7,955.7a4.9,4.9 0 1,0 9.8,0a4.9,4.9 0 1,0 -9.8,0M248.3,889.7a12.1,12.1 0 1,0 24.3,0a12.1,12.1 0 1,0 -24.3,0M133.8,881.4a4.3,4.3 0 1,0 8.6,0a4.3,4.3 0 1,0 -8.6,0M209.5,954.8a11.3,11.3 0 1,0 22.5,0a11.3,11.3 0 1,0 -22.5,0M155.2,1057.8a4.3,4.3 0 1,0 8.7,0a4.3,4.3 0 1,0 -8.7,0M267.5,1071.1a6.1,6.1 0 1,0 12.1,0a6.1,6.1 0 1,0 -12.1,0M268.4,972.6a5.4,5.4 0 1,0 10.8,0a5.4,5.4 0 1,0 -10.8,0M169.9,1012.6a4.2,4.2 0 1,0 8.4,0a4.2,4.2 0 1,0 -8.4,0M69.6,1020.8a5.6,5.6 0 1,0 11.2,0a5.6,5.6 0 1,0 -11.2,0M263.1,940.5a5.1,5.1 0 1,0 10.2,0a5.1,5.1 0 1,0 -10.2,0M66.1,881.1a8.9,8.9 0 1,0 17.7,0a8.9,8.9 0 1,0 -17.7,0M140.0,891.5a4.2,4.2 0 1,0 8.5,0a4.2,4.2 0 1,0 -8.5,0M248.3,983.1a5.9,5.9 0 1,0 11.9,0a5.9,5.9 0 1,0 -11.9,0M140.2,1080.0a10.7,10.7 0 1,0 21.4,0a10.7,10.7 0 1,0 -21.4,0M124.6,1086.2a4.4,4.4 0 1,0 8.8,0a4.4,4.4 0 1,0 -8.8,0M256.5,959.1a5.6,5.6 0 1,0 11.1,0a5.6,5.6 0 1,0 -11.1,0M302.1,881.5a11.0,11.0 0 1,0 22.1,0a11.0,11.0 0 1,0 -22.1,0M240.5,1071.8a4.2,4.2 0 1,0 8.3,0a4.2,4.2 0 1,0 -8.3,0M222.1,1068.4a6.6,6.6 0 1,0 13.1,0a6.6,6.6 0 1,0 -13.1,0M88.9,1103.7a11.0,11.0 0 1,0 22.1,0a11.0,11.0 0 1,0 -22.1,0M238.0,960.3a5.4,5.4 0 1,0 10.8,0a5.4,5.4 0 1,0 -10.8,0M136.8,1004.8a6.0,6.0 0 1,0 11.9,0a6.0,6.0 0 1,0 -11.9,0M296.1,1074.2a4.7,4.7 0 1,0 9.5,0a4.7,4.7 0 1,0 -9.5,0M144.0,948.3a4.4,4.4 0 1,0 8.9,0a4.4,4.4 0 1,0 -8.9,0M172.4,1026.0a4.3,4.3 0 1,0 8.6,0a4.3,4.3 0 1,0 -8.6,0M225.4,1023.3a4.7,4.7 0 1,0 9.5,0a4.7,4.7 0 1,0 -9.5,0M80.4,1101.3a4.1,4.1 0 1,0 8.2,0a4.1,4.1 0 1,0 -8.2,0M210.2,1065.5a5.4,5.4 0 1,0 10.8,0a5.4,5.4 0 1,0 -10.8,0M204.5,939.8a6.2,6.2 0 1,0 12.4,0a6.2,6.2 0 1,0 -12.4,0M112.9,988.7a9.2,9.2 0 1,0 18.3,0a9.2,9.2 0 1,0 -18.3,0M92.9,1042.5a6.6,6.6 0 1,0 13.2,0a6.6,6.6 0 1,0 -13.2,0M174.0,1047.2a5.0,5.0 0 1,0 10.0,0a5.0,5.0 0 1,0 -10.0,0M302.9,1010.2a6.4,6.4 0 1,0 12.7,0a6.4,6.4 0 1,0 -12.7,0M191.7,1035.8a6.6,6.6 0 1,0 13.3,0a6.6,6.6 0 1,0 -13.3,0M126.0,1018.4a4.8,4.8 0 1,0 9.6,0a4.8,4.8 0 1,0 -9.6,0M81.7,951.1a4.1,4.1 0 1,0 8.3,0a4.1,4.1 0 1,0 -8.3,0M250.6,1068.4a5.1,5.1 0 1,0 10.1,0a5.1,5.1 0 1,0 -10.1,0M271.8,934.8a4.8,4.8 0 1,0 9.6,0a4.8,4.8 0 1,0 -9.6,0M255.2,911.5a7.3,7.3 0 1,0 14.7,0a7.3,7.3 0 1,0 -14.7,0M255.2,1034.8a4.5,4.5 0 1,0 9.1,0a4.5,4.5 0 1,0 -9.1,0M133.6,993.9a3.9,3.9 0 1,0 7.9,0a3.9,3.9 0 1,0 -7.9,0M134.8,1060.8a4.7,4.7 0 1,0 9.5,0a4.7,4.7 0 1,0 -9.5,0M255.4,1048.2a4.2,4.2 0 1,0 8.4,0a4.2,4.2 0 1,0 -8.4,0M285.2,917.1a6.2,6.2 0 1,0 12.4,0a6.2,6.2 0 1,0 -12.4,0M166.6,912.9a5.0,5.0 0 1,0 10.0,0a5.0,5.0 0 1,0 -10.0,0M242.4,1062.4a4.1,4.1 0 1,0 8.2,0a4.1,4.1 0 1,0 -8.2,0M223.2,891.6a5.5,5.5 0 1,0 11.1,0a5.5,5.5 0 1,0 -11.1,0M72.6,966.6a5.0,5.0 0 1,0 10.1,0a5.0,5.0 0 1,0 -10.1,0M82.6,1007.3a4.1,4.1 0 1,0 8.3,0a4.1,4.1 0 1,0 -8.3,0M176.5,888.1a7.9,7.9 0 1,0 15.7,0a7.9,7.9 0 1,0 -15.7,0M287.2,899.6a4.1,4.1 0 1,0 8.2,0a4.1,4.1 0 1,0 -8.2,0M309.3,923.4a6.5,6.5 0 1,0 13.0,0a6.5,6.5 0 1,0 -13.0,0M76.2,920.2a4.2,4.2 0 1,0 8.4,0a4.2,4.2 0 1,0 -8.4,0M90.4,1014.5a4.9,4.9 0 1,0 9.9,0a4.9,4.9 0 1,0 -9.9,0M167.1,1036.8a4.2,4.2 0 1,0 8.4,0a4.2,4.2 0 1,0 -8.4,0M244.7,911.9a4.8,4.8 0 1,0 9.5,0a4.8,4.8 0 1,0 -9.5,0M304.4,1054.3a4.8,4.8 0 1,0 9.6,0a4.8,4.8 0 1,0 -9.6,0M195.1,953.1a4.5,4.5 0 1,0 8.9,0a4.5,4.5 0 1,0 -8.9,0M222.7,1083.3a4.2,4.2 0 1,0 8.5,0a4.2,4.2 0 1,0 -8.5,0M256.0,936.1a4.5,4.5 0 1,0 9.0,0a4.5,4.5 0 1,0 -9.0,0M63.5,1073.1a7.5,7.5 0 1,0 15.0,0a7.5,7.5 0 1,0 -15.0,0M161.4,1018.6a4.4,4.4 0 1,0 8.9,0a4.4,4.4 0 1,0 -8.9,0M72.3,926.9a4.3,4.3 0 1,0 8.6,0a4.3,4.3 0 1,0 -8.6,0M311.2,901.1a5.6,5.6 0 1,0 11.2,0a5.6,5.6 0 1,0 -11.2,0M279.2,928.0a4.8,4.8 0 1,0 9.7,0a4.8,4.8 0 1,0 -9.7,0M208.7,929.9a4.9,4.9 0 1,0 9.8,0a4.9,4.9 0 1,0 -9.8,0" fill="none" stroke="#e0609c" stroke-width="1.1"/>
<path d="M103.5,1028.1a3.5,3.5 0 1,0 6.9,0a3.5,3.5 0 1,0 -6.9,0M200.9,963.4a2.1,2.1 0 1,0 4.1,0a2.1,2.1 0 1,0 -4.1,0M193.8,889.0a2.0,2.0 0 1,0 4.1,0a2.0,2.0 0 1,0 -4.1,0M82.2,901.1a4.6,4.6 0 1,0 9.3,0a4.6,4.6 0 1,0 -9.3,0M270.9,908.6a4.5,4.5 0 1,0 9.0,0a4.5,4.5 0 1,0 -9.0,0M223.1,1095.3a2.7,2.7 0 1,0 5.4,0a2.7,2.7 0 1,0 -5.4,0M161.6,1101.8a6.7,6.7 0 1,0 13.3,0a6.7,6.7 0 1,0 -13.3,0M281.3,946.2a2.0,2.0 0 1,0 4.1,0a2.0,2.0 0 1,0 -4.1,0M96.5,950.4a2.3,2.3 0 1,0 4.6,0a2.3,2.3 0 1,0 -4.6,0M103.1,1012.3a11.3,11.3 0 1,0 22.6,0a11.3,11.3 0 1,0 -22.6,0M154.5,1004.7a7.7,7.7 0 1,0 15.4,0a7.7,7.7 0 1,0 -15.4,0M82.2,927.2a2.1,2.1 0 1,0 4.1,0a2.1,2.1 0 1,0 -4.1,0M167.5,951.7a8.5,8.5 0 1,0 17.0,0a8.5,8.5 0 1,0 -17.0,0M232.8,935.8a10.8,10.8 0 1,0 21.7,0a10.8,10.8 0 1,0 -21.7,0M193.7,1078.9a6.6,6.6 0 1,0 13.2,0a6.6,6.6 0 1,0 -13.2,0M131.7,1102.7a9.4,9.4 0 1,0 18.9,0a9.4,9.4 0 1,0 -18.9,0M171.4,1052.1a2.2,2.2 0 1,0 4.4,0a2.2,2.2 0 1,0 -4.4,0M251.7,1010.4a8.3,8.3 0 1,0 16.5,0a8.3,8.3 0 1,0 -16.5,0M134.9,1038.1a12.7,12.7 0 1,0 25.5,0a12.7,12.7 0 1,0 -25.5,0M207.0,983.9a6.9,6.9 0 1,0 13.9,0a6.9,6.9 0 1,0 -13.9,0M292.9,988.0a11.9,11.9 0 1,0 23.8,0a11.9,11.9 0 1,0 -23.8,0M76.3,1039.5a8.2,8.2 0 1,0 16.4,0a8.2,8.2 0 1,0 -16.4,0M309.0,1066.8a7.9,7.9 0 1,0 15.7,0a7.9,7.9 0 1,0 -15.7,0M162.4,1032.1a3.1,3.1 0 1,0 6.3,0a3.1,3.1 0 1,0 -6.3,0M182.4,918.6a2.0,2.0 0 1,0 4.0,0a2.0,2.0 0 1,0 -4.0,0M81.9,1054.7a2.2,2.2 0 1,0 4.4,0a2.2,2.2 0 1,0 -4.4,0M128.9,969.1a2.2,2.2 0 1,0 4.5,0a2.2,2.2 0 1,0 -4.5,0M76.8,982.3a12.6,12.6 0 1,0 25.3,0a12.6,12.6 0 1,0 -25.3,0M283.3,1066.2a6.2,6.2 0 1,0 12.5,0a6.2,6.2 0 1,0 -12.5,0M285.9,1097.6a3.8,3.8 0 1,0 7.6,0a3.8,3.8 0 1,0 -7.6,0M111.0,933.1a2.3,2.3 0 1,0 4.6,0a2.3,2.3 0 1,0 -4.6,0M187.5,1014.1a2.8,2.8 0 1,0 5.5,0a2.8,2.8 0 1,0 -5.5,0M67.5,975.5a3.0,3.0 0 1,0 5.9,0a3.0,3.0 0 1,0 -5.9,0M206.6,1096.6a3.9,3.9 0 1,0 7.8,0a3.9,3.9 0 1,0 -7.8,0M74.5,1084.4a8.4,8.4 0 1,0 16.8,0a8.4,8.4 0 1,0 -16.8,0M164.7,904.0a4.2,4.2 0 1,0 8.3,0a4.2,4.2 0 1,0 -8.3,0M107.2,957.6a2.6,2.6 0 1,0 5.2,0a2.6,2.6 0 1,0 -5.2,0M67.4,914.8a2.0,2.0 0 1,0 4.1,0a2.0,2.0 0 1,0 -4.1,0M157.9,886.3a2.1,2.1 0 1,0 4.3,0a2.1,2.1 0 1,0 -4.3,0M209.7,914.2a12.7,12.7 0 1,0 25.4,0a12.7,12.7 0 1,0 -25.4,0M153.1,963.1a2.9,2.9 0 1,0 5.8,0a2.9,2.9 0 1,0 -5.8,0M278.7,1105.6a2.2,2.2 0 1,0 4.4,0a2.2,2.2 0 1,0 -4.4,0M184.9,900.0a5.0,5.0 0 1,0 10.1,0a5.0,5.0 0 1,0 -10.1,0M152.6,940.5a2.1,2.1 0 1,0 4.3,0a2.1,2.1 0 1,0 -4.3,0M98.0,885.7a11.6,11.6 0 1,0 23.2,0a11.6,11.6 0 1,0 -23.2,0M70.0,1000.2a6.1,6.1 0 1,0 12.3,0a6.1,6.1 0 1,0 -12.3,0M269.1,1038.3a15.4,15.4 0 1,0 30.8,0a15.4,15.4 0 1,0 -30.8,0M157.8,918.4a3.0,3.0 0 1,0 5.9,0a3.0,3.0 0 1,0 -5.9,0M191.8,1057.1a10.3,10.3 0 1,0 20.7,0a10.3,10.3 0 1,0 -20.7,0M121.5,1064.5a3.5,3.5 0 1,0 7.0,0a3.5,3.5 0 1,0 -7.0,0M137.0,939.3a2.0,2.0 0 1,0 4.0,0a2.0,2.0 0 1,0 -4.0,0M301.3,1097.0a14.3,14.3 0 1,0 28.6,0a14.3,14.3 0 1,0 -28.6,0M120.5,931.9a3.9,3.9 0 1,0 7.7,0a3.9,3.9 0 1,0 -7.7,0M104.8,1085.6a2.2,2.2 0 1,0 4.5,0a2.2,2.2 0 1,0 -4.5,0M94.7,1067.9a11.1,11.1 0 1,0 22.2,0a11.1,11.1 0 1,0 -22.2,0M216.1,999.9a15.2,15.2 0 1,0 30.4,0a15.2,15.2 0 1,0 -30.4,0M163.3,1078.1a14.2,14.2 0 1,0 28.4,0a14.2,14.2 0 1,0 -28.4,0M67.9,1061.7a2.5,2.5 0 1,0 4.9,0a2.5,2.5 0 1,0 -4.9,0M185.0,1044.9a2.4,2.4 0 1,0 4.8,0a2.4,2.4 0 1,0 -4.8,0M188.1,996.6a7.3,7.3 0 1,0 14.5,0a7.3,7.3 0 1,0 -14.5,0M291.4,939.3a12.8,12.8 0 1,0 25.5,0a12.8,12.8 0 1,0 -25.5,0M127.3,897.1a2.1,2.1 0 1,0 4.1,0a2.1,2.1 0 1,0 -4.1,0M256.5,1083.9a8.3,8.3 0 1,0 16.5,0a8.3,8.3 0 1,0 -16.5,0M245.5,1030.2a2.3,2.3 0 1,0 4.7,0a2.3,2.3 0 1,0 -4.7,0M304.1,970.8a2.7,2.7 0 1,0 5.4,0a2.7,2.7 0 1,0 -5.4,0M174.6,997.4a2.4,2.4 0 1,0 4.7,0a2.4,2.4 0 1,0 -4.7,0M114.6,952.7a3.6,3.6 0 1,0 7.2,0a3.6,3.6 0 1,0 -7.2,0M69.2,955.7a4.7,4.7 0 1,0 9.4,0a4.7,4.7 0 1,0 -9.4,0M133.4,889.5a2.2,2.2 0 1,0 4.3,0a2.2,2.2 0 1,0 -4.3,0M126.3,909.9a10.5,10.5 0 1,0 21.0,0a10.5,10.5 0 1,0 -21.0,0M237.4,900.8a6.6,6.6 0 1,0 13.1,0a6.6,6.6 0 1,0 -13.1,0M238.9,976.9a2.0,2.0 0 1,0 4.1,0a2.0,2.0 0 1,0 -4.1,0M301.2,1024.3a2.1,2.1 0 1,0 4.1,0a2.1,2.1 0 1,0 -4.1,0M282.3,983.4a2.1,2.1 0 1,0 4.1,0a2.1,2.1 0 1,0 -4.1,0M98.6,1000.0a3.0,3.0 0 1,0 6.0,0a3.0,3.0 0 1,0 -6.0,0M93.9,917.1a2.8,2.8 0 1,0 5.6,0a2.8,2.8 0 1,0 -5.6,0M255.4,946.2a3.3,3.3 0 1,0 6.6,0a3.3,3.3 0 1,0 -6.6,0M129.8,884.0a2.0,2.0 0 1,0 4.0,0a2.0,2.0 0 1,0 -4.0,0M297.2,904.6a5.2,5.2 0 1,0 10.3,0a5.2,5.2 0 1,0 -10.3,0M151.7,892.8a4.3,4.3 0 1,0 8.6,0a4.3,4.3 0 1,0 -8.6,0M126.6,946.9a3.1,3.1 0 1,0 6.2,0a3.1,3.1 0 1,0 -6.2,0M103.7,981.6a5.0,5.0 0 1,0 9.9,0a5.0,5.0 0 1,0 -9.9,0M192.6,881.6a2.6,2.6 0 1,0 5.1,0a2.6,2.6 0 1,0 -5.1,0M223.4,1042.8a9.9,9.9 0 1,0 19.8,0a9.9,9.9 0 1,0 -19.8,0M100.6,962.3a2.0,2.0 0 1,0 4.0,0a2.0,2.0 0 1,0 -4.0,0M275.5,1007.1a2.2,2.2 0 1,0 4.3,0a2.2,2.2 0 1,0 -4.3,0M85.1,940.7a2.9,2.9 0 1,0 5.8,0a2.9,2.9 0 1,0 -5.8,0M111.1,1048.2a9.4,9.4 0 1,0 18.9,0a9.4,9.4 0 1,0 -18.9,0M207.6,883.3a3.3,3.3 0 1,0 6.6,0a3.3,3.3 0 1,0 -6.6,0M179.5,986.2a5.7,5.7 0 1,0 11.5,0a5.7,5.7 0 1,0 -11.5,0M289.9,925.7a2.2,2.2 0 1,0 4.4,0a2.2,2.2 0 1,0 -4.4,0M268.8,1100.0a4.9,4.9 0 1,0 9.9,0a4.9,4.9 0 1,0 -9.9,0M131.5,928.1a4.8,4.8 0 1,0 9.7,0a4.8,4.8 0 1,0 -9.7,0M197.7,1096.5a2.3,2.3 0 1,0 4.6,0a2.3,2.3 0 1,0 -4.6,0M271.6,995.8a2.2,2.2 0 1,0 4.5,0a2.2,2.2 0 1,0 -4.5,0M275.4,880.9a3.4,3.4 0 1,0 6.8,0a3.4,3.4 0 1,0 -6.8,0M159.0,969.6a3.2,3.2 0 1,0 6.4,0a3.2,3.2 0 1,0 -6.4,0M275.3,945.3a2.1,2.1 0 1,0 4.3,0a2.1,2.1 0 1,0 -4.3,0M111.1,965.1a5.7,5.7 0 1,0 11.3,0a5.7,5.7 0 1,0 -11.3,0M205.0,969.9a3.3,3.3 0 1,0 6.5,0a3.3,3.3 0 1,0 -6.5,0M107.3,927.6a2.4,2.4 0 1,0 4.8,0a2.4,2.4 0 1,0 -4.8,0M115.1,901.1a2.3,2.3 0 1,0 4.5,0a2.3,2.3 0 1,0 -4.5,0M208.4,1081.6a2.9,2.9 0 1,0 5.9,0a2.9,2.9 0 1,0 -5.9,0M192.6,1023.2a2.2,2.2 0 1,0 4.4,0a2.2,2.2 0 1,0 -4.4,0M166.2,981.6a2.9,2.9 0 1,0 5.7,0a2.9,2.9 0 1,0 -5.7,0M233.6,1093.9a5.8,5.8 0 1,0 11.6,0a5.8,5.8 0 1,0 -11.6,0M84.8,999.4a2.2,2.2 0 1,0 4.4,0a2.2,2.2 0 1,0 -4.4,0M159.4,931.2a6.8,6.8 0 1,0 13.5,0a6.8,6.8 0 1,0 -13.5,0M305.9,1040.2a2.9,2.9 0 1,0 5.7,0a2.9,2.9 0 1,0 -5.7,0M151.6,975.8a2.0,2.0 0 1,0 4.0,0a2.0,2.0 0 1,0 -4.0,0M185.6,927.0a9.6,9.6 0 1,0 19.3,0a9.6,9.6 0 1,0 -19.3,0M122.6,975.0a2.5,2.5 0 1,0 5.0,0a2.5,2.5 0 1,0 -5.0,0M118.3,1101.3a4.2,4.2 0 1,0 8.3,0a4.2,4.2 0 1,0 -8.3,0M80.0,894.1a2.3,2.3 0 1,0 4.6,0a2.3,2.3 0 1,0 -4.6,0M289.1,1080.8a4.2,4.2 0 1,0 8.3,0a4.2,4.2 0 1,0 -8.3,0M112.1,1092.7a3.5,3.5 0 1,0 7.0,0a3.5,3.5 0 1,0 -7.0,0M158.6,955.7a4.0,4.0 0 1,0 8.0,0a4.0,4.0 0 1,0 -8.0,0M67.7,943.9a2.4,2.4 0 1,0 4.8,0a2.4,2.4 0 1,0 -4.8,0M185.4,965.0a2.0,2.0 0 1,0 4.1,0a2.0,2.0 0 1,0 -4.1,0M249.2,889.7a11.2,11.2 0 1,0 22.5,0a11.2,11.2 0 1,0 -22.5,0M134.7,881.4a3.4,3.4 0 1,0 6.8,0a3.4,3.4 0 1,0 -6.8,0M210.4,954.8a10.4,10.4 0 1,0 20.7,0a10.4,10.4 0 1,0 -20.7,0M156.1,1057.8a3.4,3.4 0 1,0 6.9,0a3.4,3.4 0 1,0 -6.9,0M82.7,888.2a2.9,2.9 0 1,0 5.7,0a2.9,2.9 0 1,0 -5.7,0M128.5,936.1a2.6,2.6 0 1,0 5.1,0a2.6,2.6 0 1,0 -5.1,0M287.4,1011.6a2.3,2.3 0 1,0 4.7,0a2.3,2.3 0 1,0 -4.7,0M268.4,1071.1a5.2,5.2 0 1,0 10.3,0a5.2,5.2 0 1,0 -10.3,0M215.9,1028.2a2.9,2.9 0 1,0 5.8,0a2.9,2.9 0 1,0 -5.8,0M68.3,1084.9a2.6,2.6 0 1,0 5.2,0a2.6,2.6 0 1,0 -5.2,0M269.3,972.6a4.5,4.5 0 1,0 9.0,0a4.5,4.5 0 1,0 -9.0,0M204.8,1025.7a2.0,2.0 0 1,0 4.0,0a2.0,2.0 0 1,0 -4.0,0M298.2,968.4a2.0,2.0 0 1,0 4.1,0a2.0,2.0 0 1,0 -4.1,0M262.9,930.8a2.4,2.4 0 1,0 4.7,0a2.4,2.4 0 1,0 -4.7,0M247.2,1083.9a2.9,2.9 0 1,0 5.7,0a2.9,2.9 0 1,0 -5.7,0M170.8,1012.6a3.3,3.3 0 1,0 6.6,0a3.3,3.3 0 1,0 -6.6,0M70.5,1020.8a4.7,4.7 0 1,0 9.4,0a4.7,4.7 0 1,0 -9.4,0M250.1,1056.8a2.1,2.1 0 1,0 4.2,0a2.1,2.1 0 1,0 -4.2,0M154.8,1051.9a2.1,2.1 0 1,0 4.1,0a2.1,2.1 0 1,0 -4.1,0M314.7,1023.3a2.2,2.2 0 1,0 4.3,0a2.2,2.2 0 1,0 -4.3,0M264.0,940.5a4.2,4.2 0 1,0 8.4,0a4.2,4.2 0 1,0 -8.4,0M225.8,1103.6a2.9,2.9 0 1,0 5.8,0a2.9,2.9 0 1,0 -5.8,0M75.8,914.4a2.0,2.0 0 1,0 4.0,0a2.0,2.0 0 1,0 -4.0,0M67.0,881.1a8.0,8.0 0 1,0 15.9,0a8.0,8.0 0 1,0 -15.9,0M212.1,1014.0a2.7,2.7 0 1,0 5.4,0a2.7,2.7 0 1,0 -5.4,0M91.0,1025.2a2.3,2.3 0 1,0 4.6,0a2.3,2.3 0 1,0 -4.6,0M291.7,890.5a2.9,2.9 0 1,0 5.7,0a2.9,2.9 0 1,0 -5.7,0M140.9,891.5a3.3,3.3 0 1,0 6.7,0a3.3,3.3 0 1,0 -6.7,0M249.2,983.1a5.0,5.0 0 1,0 10.1,0a5.0,5.0 0 1,0 -10.1,0M92.9,933.2a2.7,2.7 0 1,0 5.4,0a2.7,2.7 0 1,0 -5.4,0M252.0,1094.7a2.8,2.8 0 1,0 5.6,0a2.8,2.8 0 1,0 -5.6,0M141.1,1080.0a9.8,9.8 0 1,0 19.6,0a9.8,9.8 0 1,0 -19.6,0M125.5,1086.2a3.5,3.5 0 1,0 7.0,0a3.5,3.5 0 1,0 -7.0,0M298.7,958.7a2.2,2.2 0 1,0 4.3,0a2.2,2.2 0 1,0 -4.3,0M91.6,1052.2a2.1,2.1 0 1,0 4.3,0a2.1,2.1 0 1,0 -4.3,0M257.4,959.1a4.7,4.7 0 1,0 9.3,0a4.7,4.7 0 1,0 -9.3,0M67.3,926.3a2.4,2.4 0 1,0 4.8,0a2.4,2.4 0 1,0 -4.8,0M303.0,881.5a10.1,10.1 0 1,0 20.3,0a10.1,10.1 0 1,0 -20.3,0M190.2,959.2a2.5,2.5 0 1,0 5.0,0a2.5,2.5 0 1,0 -5.0,0M263.7,1038.5a2.1,2.1 0 1,0 4.2,0a2.1,2.1 0 1,0 -4.2,0M181.5,1001.0a2.8,2.8 0 1,0 5.5,0a2.8,2.8 0 1,0 -5.5,0M176.3,1055.8a2.4,2.4 0 1,0 4.8,0a2.4,2.4 0 1,0 -4.8,0M241.4,1071.8a3.3,3.3 0 1,0 6.5,0a3.3,3.3 0 1,0 -6.5,0M105.9,936.6a2.3,2.3 0 1,0 4.7,0a2.3,2.3 0 1,0 -4.7,0M163.6,888.2a2.6,2.6 0 1,0 5.2,0a2.6,2.6 0 1,0 -5.2,0M217.6,972.2a2.3,2.3 0 1,0 4.6,0a2.3,2.3 0 1,0 -4.6,0M223.0,1068.4a5.7,5.7 0 1,0 11.3,0a5.7,5.7 0 1,0 -11.3,0M237.3,969.5a2.6,2.6 0 1,0 5.2,0a2.6,2.6 0 1,0 -5.2,0M89.8,1103.7a10.1,10.1 0 1,0 20.3,0a10.1,10.1 0 1,0 -20.3,0M238.9,960.3a4.5,4.5 0 1,0 9.0,0a4.5,4.5 0 1,0 -9.0,0M260.7,1064.0a2.2,2.2 0 1,0 4.5,0a2.2,2.2 0 1,0 -4.5,0M306.9,960.6a2.7,2.7 0 1,0 5.4,0a2.7,2.7 0 1,0 -5.4,0M137.7,1004.8a5.1,5.1 0 1,0 10.1,0a5.1,5.1 0 1,0 -10.1,0M274.9,960.9a2.2,2.2 0 1,0 4.4,0a2.2,2.2 0 1,0 -4.4,0M172.7,922.6a2.9,2.9 0 1,0 5.8,0a2.9,2.9 0 1,0 -5.8,0M141.8,989.2a2.8,2.8 0 1,0 5.7,0a2.8,2.8 0 1,0 -5.7,0M297.0,1074.2a3.8,3.8 0 1,0 7.7,0a3.8,3.8 0 1,0 -7.7,0M101.4,992.3a2.8,2.8 0 1,0 5.5,0a2.8,2.8 0 1,0 -5.5,0M183.8,913.2a2.0,2.0 0 1,0 4.1,0a2.0,2.0 0 1,0 -4.1,0M144.9,948.3a3.5,3.5 0 1,0 7.1,0a3.5,3.5 0 1,0 -7.1,0M76.2,1056.1a2.5,2.5 0 1,0 4.9,0a2.5,2.5 0 1,0 -4.9,0M141.7,976.1a2.9,2.9 0 1,0 5.9,0a2.9,2.9 0 1,0 -5.9,0M173.3,1026.0a3.4,3.4 0 1,0 6.8,0a3.4,3.4 0 1,0 -6.8,0M71.6,1043.6a2.2,2.2 0 1,0 4.5,0a2.2,2.2 0 1,0 -4.5,0M249.4,923.0a2.8,2.8 0 1,0 5.6,0a2.8,2.8 0 1,0 -5.6,0M226.3,1023.3a3.8,3.8 0 1,0 7.7,0a3.8,3.8 0 1,0 -7.7,0M81.3,1101.3a3.2,3.2 0 1,0 6.4,0a3.2,3.2 0 1,0 -6.4,0M211.1,1065.5a4.5,4.5 0 1,0 9.0,0a4.5,4.5 0 1,0 -9.0,0M268.3,1055.6a2.1,2.1 0 1,0 4.2,0a2.1,2.1 0 1,0 -4.2,0M78.2,1106.6a2.3,2.3 0 1,0 4.6,0a2.3,2.3 0 1,0 -4.6,0M205.4,939.8a5.3,5.3 0 1,0 10.6,0a5.3,5.3 0 1,0 -10.6,0M131.1,960.3a2.0,2.0 0 1,0 4.0,0a2.0,2.0 0 1,0 -4.0,0M122.4,893.4a2.3,2.3 0 1,0 4.6,0a2.3,2.3 0 1,0 -4.6,0M134.6,1070.8a2.3,2.3 0 1,0 4.7,0a2.3,2.3 0 1,0 -4.7,0M113.8,988.7a8.3,8.3 0 1,0 16.5,0a8.3,8.3 0 1,0 -16.5,0M249.9,973.0a2.1,2.1 0 1,0 4.1,0a2.1,2.1 0 1,0 -4.1,0M196.9,981.6a2.0,2.0 0 1,0 4.0,0a2.0,2.0 0 1,0 -4.0,0M93.8,1042.5a5.7,5.7 0 1,0 11.4,0a5.7,5.7 0 1,0 -11.4,0M214.6,1075.7a2.3,2.3 0 1,0 4.5,0a2.3,2.3 0 1,0 -4.5,0M174.9,1047.2a4.1,4.1 0 1,0 8.2,0a4.1,4.1 0 1,0 -8.2,0M303.8,1010.2a5.5,5.5 0 1,0 10.9,0a5.5,5.5 0 1,0 -10.9,0M192.6,1035.8a5.7,5.7 0 1,0 11.5,0a5.7,5.7 0 1,0 -11.5,0M106.3,1052.7a2.2,2.2 0 1,0 4.4,0a2.2,2.2 0 1,0 -4.4,0M163.7,1043.4a2.8,2.8 0 1,0 5.7,0a2.8,2.8 0 1,0 -5.7,0M232.9,957.9a2.0,2.0 0 1,0 4.0,0a2.0,2.0 0 1,0 -4.0,0M126.9,1018.4a3.9,3.9 0 1,0 7.8,0a3.9,3.9 0 1,0 -7.8,0M284.2,908.3a2.6,2.6 0 1,0 5.3,0a2.6,2.6 0 1,0 -5.3,0M82.6,951.1a3.2,3.2 0 1,0 6.5,0a3.2,3.2 0 1,0 -6.5,0M142.4,966.8a2.5,2.5 0 1,0 5.1,0a2.5,2.5 0 1,0 -5.1,0M280.2,1018.2a2.0,2.0 0 1,0 4.1,0a2.0,2.0 0 1,0 -4.1,0M251.5,1068.4a4.2,4.2 0 1,0 8.3,0a4.2,4.2 0 1,0 -8.3,0M241.7,982.1a2.5,2.5 0 1,0 5.1,0a2.5,2.5 0 1,0 -5.1,0M148.1,986.7a2.2,2.2 0 1,0 4.4,0a2.2,2.2 0 1,0 -4.4,0M314.6,1050.6a2.0,2.0 0 1,0 4.0,0a2.0,2.0 0 1,0 -4.0,0M246.0,1102.7a2.1,2.1 0 1,0 4.2,0a2.1,2.1 0 1,0 -4.2,0M272.7,934.8a3.9,3.9 0 1,0 7.8,0a3.9,3.9 0 1,0 -7.8,0M238.8,917.6a2.1,2.1 0 1,0 4.2,0a2.1,2.1 0 1,0 -4.2,0M114.4,1034.4a2.0,2.0 0 1,0 4.0,0a2.0,2.0 0 1,0 -4.0,0M112.2,1082.3a2.2,2.2 0 1,0 4.4,0a2.2,2.2 0 1,0 -4.4,0M90.2,1000.8a2.9,2.9 0 1,0 5.8,0a2.9,2.9 0 1,0 -5.8,0M256.1,911.5a6.4,6.4 0 1,0 12.9,0a6.4,6.4 0 1,0 -12.9,0M256.1,1034.8a3.6,3.6 0 1,0 7.3,0a3.6,3.6 0 1,0 -7.3,0M266.8,922.5a2.2,2.2 0 1,0 4.3,0a2.2,2.2 0 1,0 -4.3,0M149.4,929.5a2.1,2.1 0 1,0 4.2,0a2.1,2.1 0 1,0 -4.2,0M157.0,986.5a2.4,2.4 0 1,0 4.8,0a2.4,2.4 0 1,0 -4.8,0M181.9,1104.1a2.0,2.0 0 1,0 4.0,0a2.0,2.0 0 1,0 -4.0,0M134.5,993.9a3.0,3.0 0 1,0 6.1,0a3.0,3.0 0 1,0 -6.1,0M208.2,1000.2a3.0,3.0 0 1,0 5.9,0a3.0,3.0 0 1,0 -5.9,0M135.7,1060.8a3.8,3.8 0 1,0 7.7,0a3.8,3.8 0 1,0 -7.7,0M256.3,1048.2a3.3,3.3 0 1,0 6.6,0a3.3,3.3 0 1,0 -6.6,0M153.7,911.2a2.8,2.8 0 1,0 5.5,0a2.8,2.8 0 1,0 -5.5,0M170.6,890.8a2.0,2.0 0 1,0 4.1,0a2.0,2.0 0 1,0 -4.1,0M298.0,1008.4a2.0,2.0 0 1,0 4.0,0a2.0,2.0 0 1,0 -4.0,0M69.4,988.4a2.2,2.2 0 1,0 4.5,0a2.2,2.2 0 1,0 -4.5,0M228.2,971.6a2.1,2.1 0 1,0 4.1,0a2.1,2.1 0 1,0 -4.1,0M174.5,933.0a3.0,3.0 0 1,0 5.9,0a3.0,3.0 0 1,0 -5.9,0M256.0,1026.2a2.6,2.6 0 1,0 5.2,0a2.6,2.6 0 1,0 -5.2,0M286.1,917.1a5.3,5.3 0 1,0 10.6,0a5.3,5.3 0 1,0 -10.6,0M314.3,952.2a2.0,2.0 0 1,0 4.0,0a2.0,2.0 0 1,0 -4.0,0M167.5,912.9a4.1,4.1 0 1,0 8.2,0a4.1,4.1 0 1,0 -8.2,0M277.3,1058.2a2.2,2.2 0 1,0 4.4,0a2.2,2.2 0 1,0 -4.4,0M271.8,984.8a2.4,2.4 0 1,0 4.8,0a2.4,2.4 0 1,0 -4.8,0M209.0,893.6a2.6,2.6 0 1,0 5.1,0a2.6,2.6 0 1,0 -5.1,0M85.9,1065.8a2.7,2.7 0 1,0 5.4,0a2.7,2.7 0 1,0 -5.4,0M150.4,998.0a2.3,2.3 0 1,0 4.6,0a2.3,2.3 0 1,0 -4.6,0M144.4,938.3a3.0,3.0 0 1,0 5.9,0a3.0,3.0 0 1,0 -5.9,0M243.3,1062.4a3.2,3.2 0 1,0 6.4,0a3.2,3.2 0 1,0 -6.4,0M224.1,891.6a4.6,4.6 0 1,0 9.3,0a4.6,4.6 0 1,0 -9.3,0M73.5,966.6a4.1,4.1 0 1,0 8.3,0a4.1,4.1 0 1,0 -8.3,0M83.5,1007.3a3.2,3.2 0 1,0 6.5,0a3.2,3.2 0 1,0 -6.5,0M177.4,888.1a7.0,7.0 0 1,0 13.9,0a7.0,7.0 0 1,0 -13.9,0M127.0,1078.1a2.2,2.2 0 1,0 4.5,0a2.2,2.2 0 1,0 -4.5,0M288.1,899.6a3.2,3.2 0 1,0 6.4,0a3.2,3.2 0 1,0 -6.4,0M215.9,1103.3a2.8,2.8 0 1,0 5.7,0a2.8,2.8 0 1,0 -5.7,0M237.4,889.9a2.2,2.2 0 1,0 4.4,0a2.2,2.2 0 1,0 -4.4,0M310.2,923.4a5.6,5.6 0 1,0 11.2,0a5.6,5.6 0 1,0 -11.2,0M222.8,981.2a2.1,2.1 0 1,0 4.2,0a2.1,2.1 0 1,0 -4.2,0M284.1,1001.1a2.5,2.5 0 1,0 5.0,0a2.5,2.5 0 1,0 -5.0,0M122.6,901.8a2.6,2.6 0 1,0 5.3,0a2.6,2.6 0 1,0 -5.3,0M178.4,1006.3a2.0,2.0 0 1,0 4.1,0a2.0,2.0 0 1,0 -4.1,0M123.2,1023.2a2.2,2.2 0 1,0 4.3,0a2.2,2.2 0 1,0 -4.3,0M180.3,1035.3a2.3,2.3 0 1,0 4.5,0a2.3,2.3 0 1,0 -4.5,0M250.3,997.5a2.5,2.5 0 1,0 5.1,0a2.5,2.5 0 1,0 -5.1,0M77.1,920.2a3.3,3.3 0 1,0 6.6,0a3.3,3.3 0 1,0 -6.6,0M260.8,987.3a2.3,2.3 0 1,0 4.7,0a2.3,2.3 0 1,0 -4.7,0M147.9,1022.1a2.1,2.1 0 1,0 4.1,0a2.1,2.1 0 1,0 -4.1,0M91.3,1014.5a4.0,4.0 0 1,0 8.1,0a4.0,4.0 0 1,0 -8.1,0M184.6,971.2a2.0,2.0 0 1,0 4.1,0a2.0,2.0 0 1,0 -4.1,0M293.6,1016.3a2.3,2.3 0 1,0 4.6,0a2.3,2.3 0 1,0 -4.6,0M164.4,1059.2a2.7,2.7 0 1,0 5.5,0a2.7,2.7 0 1,0 -5.5,0M239.8,1016.2a2.2,2.2 0 1,0 4.4,0a2.2,2.2 0 1,0 -4.4,0M306.8,1026.3a2.9,2.9 0 1,0 5.9,0a2.9,2.9 0 1,0 -5.9,0M168.0,1036.8a3.3,3.3 0 1,0 6.6,0a3.3,3.3 0 1,0 -6.6,0M245.6,911.9a3.9,3.9 0 1,0 7.7,0a3.9,3.9 0 1,0 -7.7,0M162.5,963.3a2.7,2.7 0 1,0 5.3,0a2.7,2.7 0 1,0 -5.3,0M84.1,962.4a2.2,2.2 0 1,0 4.4,0a2.2,2.2 0 1,0 -4.4,0M215.7,1084.9a2.7,2.7 0 1,0 5.4,0a2.7,2.7 0 1,0 -5.4,0M139.6,946.0a2.0,2.0 0 1,0 4.0,0a2.0,2.0 0 1,0 -4.0,0M305.3,1054.3a3.9,3.9 0 1,0 7.8,0a3.9,3.9 0 1,0 -7.8,0M240.4,881.4a2.4,2.4 0 1,0 4.8,0a2.4,2.4 0 1,0 -4.8,0M196.0,953.1a3.6,3.6 0 1,0 7.1,0a3.6,3.6 0 1,0 -7.1,0M88.3,917.3a2.0,2.0 0 1,0 4.1,0a2.0,2.0 0 1,0 -4.1,0M293.3,973.6a2.7,2.7 0 1,0 5.4,0a2.7,2.7 0 1,0 -5.4,0M223.6,1083.3a3.3,3.3 0 1,0 6.7,0a3.3,3.3 0 1,0 -6.7,0M256.9,936.1a3.6,3.6 0 1,0 7.2,0a3.6,3.6 0 1,0 -7.2,0M87.9,924.3a2.7,2.7 0 1,0 5.3,0a2.7,2.7 0 1,0 -5.3,0M64.4,1073.1a6.6,6.6 0 1,0 13.2,0a6.6,6.6 0 1,0 -13.2,0M95.7,1084.0a2.5,2.5 0 1,0 4.9,0a2.5,2.5 0 1,0 -4.9,0M162.3,1018.6a3.5,3.5 0 1,0 7.1,0a3.5,3.5 0 1,0 -7.1,0M299.1,1052.1a2.1,2.1 0 1,0 4.2,0a2.1,2.1 0 1,0 -4.2,0M73.2,926.9a3.4,3.4 0 1,0 6.8,0a3.4,3.4 0 1,0 -6.8,0M138.0,1023.2a2.2,2.2 0 1,0 4.4,0a2.2,2.2 0 1,0 -4.4,0M193.3,907.3a2.6,2.6 0 1,0 5.2,0a2.6,2.6 0 1,0 -5.2,0M117.9,921.1a2.0,2.0 0 1,0 4.0,0a2.0,2.0 0 1,0 -4.0,0M106.5,914.4a2.3,2.3 0 1,0 4.6,0a2.3,2.3 0 1,0 -4.6,0M149.9,900.6a2.1,2.1 0 1,0 4.2,0a2.1,2.1 0 1,0 -4.2,0M78.3,908.3a2.4,2.4 0 1,0 4.8,0a2.4,2.4 0 1,0 -4.8,0M292.2,881.3a2.1,2.1 0 1,0 4.2,0a2.1,2.1 0 1,0 -4.2,0M238.6,1105.8a2.1,2.1 0 1,0 4.2,0a2.1,2.1 0 1,0 -4.2,0M262.1,1028.9a2.8,2.8 0 1,0 5.5,0a2.8,2.8 0 1,0 -5.5,0M137.1,1089.5a2.3,2.3 0 1,0 4.7,0a2.3,2.3 0 1,0 -4.7,0M235.4,1019.0a2.0,2.0 0 1,0 4.0,0a2.0,2.0 0 1,0 -4.0,0M132.0,1051.1a2.2,2.2 0 1,0 4.3,0a2.2,2.2 0 1,0 -4.3,0M312.1,901.1a4.7,4.7 0 1,0 9.4,0a4.7,4.7 0 1,0 -9.4,0M89.9,964.1a2.1,2.1 0 1,0 4.2,0a2.1,2.1 0 1,0 -4.2,0M280.1,928.0a3.9,3.9 0 1,0 7.9,0a3.9,3.9 0 1,0 -7.9,0M289.3,980.3a2.0,2.0 0 1,0 4.0,0a2.0,2.0 0 1,0 -4.0,0M85.3,1022.0a2.1,2.1 0 1,0 4.1,0a2.1,2.1 0 1,0 -4.1,0M107.0,946.8a2.2,2.2 0 1,0 4.4,0a2.2,2.2 0 1,0 -4.4,0M209.6,929.9a4.0,4.0 0 1,0 8.0,0a4.0,4.0 0 1,0 -8.0,0M276.3,1077.8a2.1,2.1 0 1,0 4.3,0a2.1,2.1 0 1,0 -4.3,0M122.9,882.4a2.2,2.2 0 1,0 4.4,0a2.2,2.2 0 1,0 -4.4,0M256.0,973.8a2.0,2.0 0 1,0 4.0,0a2.0,2.0 0 1,0 -4.0,0M126.6,1070.8a2.9,2.9 0 1,0 5.8,0a2.9,2.9 0 1,0 -5.8,0M252.3,902.6a2.0,2.0 0 1,0 4.1,0a2.0,2.0 0 1,0 -4.1,0M267.0,992.9a2.1,2.1 0 1,0 4.2,0a2.1,2.1 0 1,0 -4.2,0M251.7,1042.6a2.8,2.8 0 1,0 5.6,0a2.8,2.8 0 1,0 -5.6,0M175.9,966.6a2.0,2.0 0 1,0 4.0,0a2.0,2.0 0 1,0 -4.0,0M282.1,965.5a2.0,2.0 0 1,0 4.0,0a2.0,2.0 0 1,0 -4.0,0M72.6,903.1a2.9,2.9 0 1,0 5.8,0a2.9,2.9 0 1,0 -5.8,0M236.9,1082.8a2.9,2.9 0 1,0 5.7,0a2.9,2.9 0 1,0 -5.7,0M90.8,893.1a2.0,2.0 0 1,0 4.0,0a2.0,2.0 0 1,0 -4.0,0M195.1,967.9a2.9,2.9 0 1,0 5.7,0a2.9,2.9 0 1,0 -5.7,0M149.5,915.8a2.1,2.1 0 1,0 4.1,0a2.1,2.1 0 1,0 -4.1,0M261.1,980.6a2.8,2.8 0 1,0 5.6,0a2.8,2.8 0 1,0 -5.6,0M309.6,1032.9a2.5,2.5 0 1,0 5.0,0a2.5,2.5 0 1,0 -5.0,0M144.3,958.3a2.5,2.5 0 1,0 5.1,0a2.5,2.5 0 1,0 -5.1,0M130.0,997.2a2.1,2.1 0 1,0 4.3,0a2.1,2.1 0 1,0 -4.3,0M181.2,1027.3a2.8,2.8 0 1,0 5.6,0a2.8,2.8 0 1,0 -5.6,0M152.8,1067.4a2.4,2.4 0 1,0 4.8,0a2.4,2.4 0 1,0 -4.8,0M173.3,976.0a2.2,2.2 0 1,0 4.5,0a2.2,2.2 0 1,0 -4.5,0" fill="#fffbfd" />
<path d="M129.8,888.8a1.8,1.8 0 1,0 3.6,0a1.8,1.8 0 1,0 -3.6,0M184.5,955.7a1.1,1.1 0 1,0 2.3,0a1.1,1.1 0 1,0 -2.3,0M130.4,940.7a1.7,1.7 0 1,0 3.3,0a1.7,1.7 0 1,0 -3.3,0M263.6,1072.6a1.8,1.8 0 1,0 3.6,0a1.8,1.8 0 1,0 -3.6,0M89.2,1060.8a1.6,1.6 0 1,0 3.3,0a1.6,1.6 0 1,0 -3.3,0M173.2,939.6a1.8,1.8 0 1,0 3.7,0a1.8,1.8 0 1,0 -3.7,0M127.6,959.7a1.6,1.6 0 1,0 3.1,0a1.6,1.6 0 1,0 -3.1,0M150.3,980.8a1.8,1.8 0 1,0 3.5,0a1.8,1.8 0 1,0 -3.5,0M171.0,1020.6a1.6,1.6 0 1,0 3.2,0a1.6,1.6 0 1,0 -3.2,0M220.8,1080.7a1.5,1.5 0 1,0 3.0,0a1.5,1.5 0 1,0 -3.0,0M134.0,1012.5a1.3,1.3 0 1,0 2.6,0a1.3,1.3 0 1,0 -2.6,0M135.2,980.6a1.8,1.8 0 1,0 3.7,0a1.8,1.8 0 1,0 -3.7,0M112.8,927.2a1.2,1.2 0 1,0 2.4,0a1.2,1.2 0 1,0 -2.4,0M124.1,957.5a1.4,1.4 0 1,0 2.8,0a1.4,1.4 0 1,0 -2.8,0M164.4,944.3a1.2,1.2 0 1,0 2.4,0a1.2,1.2 0 1,0 -2.4,0M240.0,985.3a1.5,1.5 0 1,0 3.0,0a1.5,1.5 0 1,0 -3.0,0M122.5,923.9a1.4,1.4 0 1,0 2.7,0a1.4,1.4 0 1,0 -2.7,0M176.7,900.4a1.3,1.3 0 1,0 2.6,0a1.3,1.3 0 1,0 -2.6,0M204.7,956.3a1.3,1.3 0 1,0 2.6,0a1.3,1.3 0 1,0 -2.6,0M112.2,941.4a1.5,1.5 0 1,0 3.0,0a1.5,1.5 0 1,0 -3.0,0M269.6,1012.4a1.4,1.4 0 1,0 2.9,0a1.4,1.4 0 1,0 -2.9,0M253.5,959.4a1.1,1.1 0 1,0 2.3,0a1.1,1.1 0 1,0 -2.3,0M228.8,962.7a1.8,1.8 0 1,0 3.6,0a1.8,1.8 0 1,0 -3.6,0M120.1,1060.1a1.9,1.9 0 1,0 3.8,0a1.9,1.9 0 1,0 -3.8,0M83.4,1018.2a1.4,1.4 0 1,0 2.8,0a1.4,1.4 0 1,0 -2.8,0M116.2,1074.9a1.2,1.2 0 1,0 2.4,0a1.2,1.2 0 1,0 -2.4,0M114.5,937.9a1.5,1.5 0 1,0 3.0,0a1.5,1.5 0 1,0 -3.0,0M186.7,1005.5a1.7,1.7 0 1,0 3.4,0a1.7,1.7 0 1,0 -3.4,0M287.1,987.0a1.1,1.1 0 1,0 2.3,0a1.1,1.1 0 1,0 -2.3,0M217.3,1054.9a1.2,1.2 0 1,0 2.4,0a1.2,1.2 0 1,0 -2.4,0M143.2,1069.9a1.7,1.7 0 1,0 3.3,0a1.7,1.7 0 1,0 -3.3,0M98.6,1034.2a1.7,1.7 0 1,0 3.5,0a1.7,1.7 0 1,0 -3.5,0M170.5,919.2a1.6,1.6 0 1,0 3.3,0a1.6,1.6 0 1,0 -3.3,0M112.6,972.7a1.2,1.2 0 1,0 2.4,0a1.2,1.2 0 1,0 -2.4,0M279.4,1085.0a1.7,1.7 0 1,0 3.4,0a1.7,1.7 0 1,0 -3.4,0M282.3,955.3a1.4,1.4 0 1,0 2.9,0a1.4,1.4 0 1,0 -2.9,0M201.5,907.4a1.7,1.7 0 1,0 3.3,0a1.7,1.7 0 1,0 -3.3,0M262.9,1058.0a1.8,1.8 0 1,0 3.6,0a1.8,1.8 0 1,0 -3.6,0M183.2,1061.5a1.4,1.4 0 1,0 2.7,0a1.4,1.4 0 1,0 -2.7,0M251.4,1076.8a1.4,1.4 0 1,0 2.8,0a1.4,1.4 0 1,0 -2.8,0M205.9,964.1a1.3,1.3 0 1,0 2.6,0a1.3,1.3 0 1,0 -2.6,0M284.7,1059.1a1.3,1.3 0 1,0 2.7,0a1.3,1.3 0 1,0 -2.7,0M92.8,927.8a1.9,1.9 0 1,0 3.7,0a1.9,1.9 0 1,0 -3.7,0M82.3,1061.0a1.5,1.5 0 1,0 3.0,0a1.5,1.5 0 1,0 -3.0,0M205.5,1002.4a1.4,1.4 0 1,0 2.9,0a1.4,1.4 0 1,0 -2.9,0M205.9,905.0a1.8,1.8 0 1,0 3.7,0a1.8,1.8 0 1,0 -3.7,0M295.9,896.7a1.1,1.1 0 1,0 2.2,0a1.1,1.1 0 1,0 -2.2,0M129.8,1054.3a1.2,1.2 0 1,0 2.4,0a1.2,1.2 0 1,0 -2.4,0M168.3,989.3a1.3,1.3 0 1,0 2.6,0a1.3,1.3 0 1,0 -2.6,0M235.5,951.4a1.7,1.7 0 1,0 3.4,0a1.7,1.7 0 1,0 -3.4,0M236.6,983.2a1.6,1.6 0 1,0 3.1,0a1.6,1.6 0 1,0 -3.1,0M265.1,1000.2a1.9,1.9 0 1,0 3.7,0a1.9,1.9 0 1,0 -3.7,0M276.3,917.7a1.4,1.4 0 1,0 2.7,0a1.4,1.4 0 1,0 -2.7,0M102.3,902.0a1.6,1.6 0 1,0 3.1,0a1.6,1.6 0 1,0 -3.1,0M149.9,942.1a1.5,1.5 0 1,0 2.9,0a1.5,1.5 0 1,0 -2.9,0M91.3,1082.5a1.8,1.8 0 1,0 3.5,0a1.8,1.8 0 1,0 -3.5,0M146.8,1016.1a1.4,1.4 0 1,0 2.8,0a1.4,1.4 0 1,0 -2.8,0M91.0,912.3a1.4,1.4 0 1,0 2.8,0a1.4,1.4 0 1,0 -2.8,0M126.1,890.6a1.3,1.3 0 1,0 2.6,0a1.3,1.3 0 1,0 -2.6,0M207.3,1014.9a1.3,1.3 0 1,0 2.7,0a1.3,1.3 0 1,0 -2.7,0M248.5,1034.8a1.7,1.7 0 1,0 3.3,0a1.7,1.7 0 1,0 -3.3,0M184.6,1019.0a1.2,1.2 0 1,0 2.5,0a1.2,1.2 0 1,0 -2.5,0M277.1,1062.3a1.5,1.5 0 1,0 3.0,0a1.5,1.5 0 1,0 -3.0,0M114.7,944.3a1.7,1.7 0 1,0 3.4,0a1.7,1.7 0 1,0 -3.4,0M308.8,909.6a1.1,1.1 0 1,0 2.2,0a1.1,1.1 0 1,0 -2.2,0M290.4,956.8a1.3,1.3 0 1,0 2.7,0a1.3,1.3 0 1,0 -2.7,0M247.9,1098.7a1.8,1.8 0 1,0 3.7,0a1.8,1.8 0 1,0 -3.7,0M97.4,966.4a1.9,1.9 0 1,0 3.8,0a1.9,1.9 0 1,0 -3.8,0M201.0,1092.9a1.3,1.3 0 1,0 2.6,0a1.3,1.3 0 1,0 -2.6,0M296.0,1090.7a1.8,1.8 0 1,0 3.6,0a1.8,1.8 0 1,0 -3.6,0M129.4,1039.0a1.6,1.6 0 1,0 3.2,0a1.6,1.6 0 1,0 -3.2,0M262.6,1095.7a1.8,1.8 0 1,0 3.7,0a1.8,1.8 0 1,0 -3.7,0M200.3,945.1a1.5,1.5 0 1,0 3.0,0a1.5,1.5 0 1,0 -3.0,0M170.4,1006.6a1.8,1.8 0 1,0 3.6,0a1.8,1.8 0 1,0 -3.6,0M120.9,1071.6a1.1,1.1 0 1,0 2.2,0a1.1,1.1 0 1,0 -2.2,0M201.6,1010.1a1.2,1.2 0 1,0 2.4,0a1.2,1.2 0 1,0 -2.4,0M117.1,974.7a1.6,1.6 0 1,0 3.1,0a1.6,1.6 0 1,0 -3.1,0M104.2,940.9a1.7,1.7 0 1,0 3.5,0a1.7,1.7 0 1,0 -3.5,0M239.3,908.8a1.3,1.3 0 1,0 2.6,0a1.3,1.3 0 1,0 -2.6,0M178.1,1099.2a1.4,1.4 0 1,0 2.7,0a1.4,1.4 0 1,0 -2.7,0M111.6,972.7a1.7,1.7 0 1,0 3.3,0a1.7,1.7 0 1,0 -3.3,0M150.7,1058.1a1.2,1.2 0 1,0 2.5,0a1.2,1.2 0 1,0 -2.5,0M97.2,1021.4a1.5,1.5 0 1,0 2.9,0a1.5,1.5 0 1,0 -2.9,0M292.3,908.3a1.7,1.7 0 1,0 3.4,0a1.7,1.7 0 1,0 -3.4,0M233.4,965.8a1.2,1.2 0 1,0 2.4,0a1.2,1.2 0 1,0 -2.4,0M219.3,1049.8a1.5,1.5 0 1,0 3.0,0a1.5,1.5 0 1,0 -3.0,0M185.8,1034.1a1.6,1.6 0 1,0 3.2,0a1.6,1.6 0 1,0 -3.2,0M206.3,956.7a1.3,1.3 0 1,0 2.6,0a1.3,1.3 0 1,0 -2.6,0M131.8,1035.1a1.9,1.9 0 1,0 3.8,0a1.9,1.9 0 1,0 -3.8,0M155.9,1098.8a1.2,1.2 0 1,0 2.3,0a1.2,1.2 0 1,0 -2.3,0M250.7,1022.1a1.8,1.8 0 1,0 3.7,0a1.8,1.8 0 1,0 -3.7,0M233.4,885.8a1.2,1.2 0 1,0 2.3,0a1.2,1.2 0 1,0 -2.3,0M223.9,929.3a1.8,1.8 0 1,0 3.6,0a1.8,1.8 0 1,0 -3.6,0M171.9,1093.5a1.4,1.4 0 1,0 2.8,0a1.4,1.4 0 1,0 -2.8,0M136.2,1054.5a1.1,1.1 0 1,0 2.2,0a1.1,1.1 0 1,0 -2.2,0M132.3,955.0a1.8,1.8 0 1,0 3.6,0a1.8,1.8 0 1,0 -3.6,0M192.8,893.4a1.3,1.3 0 1,0 2.7,0a1.3,1.3 0 1,0 -2.7,0M219.0,1060.8a1.2,1.2 0 1,0 2.4,0a1.2,1.2 0 1,0 -2.4,0M259.3,970.1a1.5,1.5 0 1,0 3.0,0a1.5,1.5 0 1,0 -3.0,0M173.2,980.5a1.9,1.9 0 1,0 3.8,0a1.9,1.9 0 1,0 -3.8,0M249.2,1037.2a1.2,1.2 0 1,0 2.4,0a1.2,1.2 0 1,0 -2.4,0M81.2,1065.6a1.6,1.6 0 1,0 3.3,0a1.6,1.6 0 1,0 -3.3,0M136.8,1085.0a1.5,1.5 0 1,0 3.1,0a1.5,1.5 0 1,0 -3.1,0M77.8,959.3a1.4,1.4 0 1,0 2.8,0a1.4,1.4 0 1,0 -2.8,0M74.2,976.0a1.2,1.2 0 1,0 2.4,0a1.2,1.2 0 1,0 -2.4,0M262.0,1057.1a1.2,1.2 0 1,0 2.4,0a1.2,1.2 0 1,0 -2.4,0M150.2,885.9a1.9,1.9 0 1,0 3.8,0a1.9,1.9 0 1,0 -3.8,0M295.0,1094.3a1.2,1.2 0 1,0 2.3,0a1.2,1.2 0 1,0 -2.3,0M150.2,959.5a1.9,1.9 0 1,0 3.8,0a1.9,1.9 0 1,0 -3.8,0M250.7,1037.8a1.8,1.8 0 1,0 3.6,0a1.8,1.8 0 1,0 -3.6,0M91.4,906.5a1.3,1.3 0 1,0 2.7,0a1.3,1.3 0 1,0 -2.7,0M244.3,1044.0a1.6,1.6 0 1,0 3.2,0a1.6,1.6 0 1,0 -3.2,0M270.7,1019.7a1.3,1.3 0 1,0 2.6,0a1.3,1.3 0 1,0 -2.6,0M296.2,922.8a1.3,1.3 0 1,0 2.6,0a1.3,1.3 0 1,0 -2.6,0M210.9,1023.6a1.6,1.6 0 1,0 3.1,0a1.6,1.6 0 1,0 -3.1,0M72.8,1098.0a1.7,1.7 0 1,0 3.5,0a1.7,1.7 0 1,0 -3.5,0M103.4,909.7a1.3,1.3 0 1,0 2.6,0a1.3,1.3 0 1,0 -2.6,0M78.1,992.6a1.1,1.1 0 1,0 2.2,0a1.1,1.1 0 1,0 -2.2,0M135.1,968.3a1.3,1.3 0 1,0 2.5,0a1.3,1.3 0 1,0 -2.5,0M73.7,941.8a1.3,1.3 0 1,0 2.6,0a1.3,1.3 0 1,0 -2.6,0M77.3,1066.9a1.7,1.7 0 1,0 3.4,0a1.7,1.7 0 1,0 -3.4,0M182.0,930.0a1.8,1.8 0 1,0 3.5,0a1.8,1.8 0 1,0 -3.5,0M193.1,1007.1a1.2,1.2 0 1,0 2.4,0a1.2,1.2 0 1,0 -2.4,0M221.6,967.4a1.2,1.2 0 1,0 2.3,0a1.2,1.2 0 1,0 -2.3,0M76.5,1067.0a1.8,1.8 0 1,0 3.6,0a1.8,1.8 0 1,0 -3.6,0M257.1,922.7a1.4,1.4 0 1,0 2.8,0a1.4,1.4 0 1,0 -2.8,0M120.6,1071.9a1.8,1.8 0 1,0 3.5,0a1.8,1.8 0 1,0 -3.5,0M210.5,1031.4a1.3,1.3 0 1,0 2.6,0a1.3,1.3 0 1,0 -2.6,0M263.7,925.4a1.2,1.2 0 1,0 2.4,0a1.2,1.2 0 1,0 -2.4,0M123.3,1001.4a1.2,1.2 0 1,0 2.5,0a1.2,1.2 0 1,0 -2.5,0" fill="#4a2a6e" />
</g>
<rect x="74.4" y="885.5" width="239.2" height="216.7" fill="none" stroke="#8a8a8a" stroke-width="1.2" />
<clipPath id="clipbb"><rect x="321.4" y="885.5" width="239.2" height="216.7"/></clipPath>
<g clip-path="url(#clipbb)">
<rect x="321.4" y="885.5" width="239.2" height="216.7" fill="#cf72ab" />
<filter id="foambb" x="321.4" y="885.5" width="239.2" height="216.7" filterUnits="userSpaceOnUse"><feTurbulence type="fractalNoise" baseFrequency="0.55" numOctaves="2" seed="8" result="n"/><feColorMatrix in="n" type="matrix" values="0 0 0 0 1  0 0 0 0 0.97  0 0 0 0 0.99  0 0 0 5.0 -2.45"/></filter>
<rect x="321.4" y="885.5" width="239.2" height="216.7" fill="#fff" filter="url(#foambb)"/>
<path d="M554.5,909.1a1.7,1.7 0 1,0 3.4,0a1.7,1.7 0 1,0 -3.4,0M333.4,936.6a4.2,4.2 0 1,0 8.4,0a4.2,4.2 0 1,0 -8.4,0M361.6,1026.0a7.0,7.0 0 1,0 14.0,0a7.0,7.0 0 1,0 -14.0,0M426.7,992.7a2.6,2.6 0 1,0 5.2,0a2.6,2.6 0 1,0 -5.2,0M521.8,900.8a1.6,1.6 0 1,0 3.2,0a1.6,1.6 0 1,0 -3.2,0M319.7,941.0a1.7,1.7 0 1,0 3.4,0a1.7,1.7 0 1,0 -3.4,0M538.9,966.4a2.3,2.3 0 1,0 4.7,0a2.3,2.3 0 1,0 -4.7,0M379.3,1105.3a1.5,1.5 0 1,0 2.9,0a1.5,1.5 0 1,0 -2.9,0M469.5,966.0a1.4,1.4 0 1,0 2.8,0a1.4,1.4 0 1,0 -2.8,0M396.9,1037.2a3.8,3.8 0 1,0 7.7,0a3.8,3.8 0 1,0 -7.7,0M475.5,1084.8a2.8,2.8 0 1,0 5.6,0a2.8,2.8 0 1,0 -5.6,0M348.5,895.1a3.3,3.3 0 1,0 6.6,0a3.3,3.3 0 1,0 -6.6,0M431.8,924.4a6.4,6.4 0 1,0 12.8,0a6.4,6.4 0 1,0 -12.8,0M454.3,1045.8a6.4,6.4 0 1,0 12.8,0a6.4,6.4 0 1,0 -12.8,0M381.8,961.4a5.7,5.7 0 1,0 11.5,0a5.7,5.7 0 1,0 -11.5,0M344.3,1053.8a5.7,5.7 0 1,0 11.4,0a5.7,5.7 0 1,0 -11.4,0M486.9,1039.7a1.5,1.5 0 1,0 2.9,0a1.5,1.5 0 1,0 -2.9,0M520.1,994.7a6.5,6.5 0 1,0 12.9,0a6.5,6.5 0 1,0 -12.9,0M352.2,1000.4a1.6,1.6 0 1,0 3.2,0a1.6,1.6 0 1,0 -3.2,0M331.3,1085.3a2.9,2.9 0 1,0 5.7,0a2.9,2.9 0 1,0 -5.7,0M488.3,930.4a2.8,2.8 0 1,0 5.7,0a2.8,2.8 0 1,0 -5.7,0M317.6,958.3a1.7,1.7 0 1,0 3.5,0a1.7,1.7 0 1,0 -3.5,0M420.1,965.9a1.8,1.8 0 1,0 3.6,0a1.8,1.8 0 1,0 -3.6,0M533.3,920.2a5.3,5.3 0 1,0 10.6,0a5.3,5.3 0 1,0 -10.6,0M355.5,1030.8a2.3,2.3 0 1,0 4.6,0a2.3,2.3 0 1,0 -4.6,0M360.0,1054.3a6.7,6.7 0 1,0 13.4,0a6.7,6.7 0 1,0 -13.4,0M317.8,1053.8a1.9,1.9 0 1,0 3.8,0a1.9,1.9 0 1,0 -3.8,0M356.7,979.3a2.1,2.1 0 1,0 4.1,0a2.1,2.1 0 1,0 -4.1,0M416.9,981.6a1.7,1.7 0 1,0 3.4,0a1.7,1.7 0 1,0 -3.4,0M460.7,946.0a2.4,2.4 0 1,0 4.8,0a2.4,2.4 0 1,0 -4.8,0M336.2,904.6a1.5,1.5 0 1,0 2.9,0a1.5,1.5 0 1,0 -2.9,0M403.2,1063.6a2.9,2.9 0 1,0 5.8,0a2.9,2.9 0 1,0 -5.8,0M490.1,1102.7a2.8,2.8 0 1,0 5.7,0a2.8,2.8 0 1,0 -5.7,0M319.2,912.3a1.4,1.4 0 1,0 2.8,0a1.4,1.4 0 1,0 -2.8,0M554.8,881.2a2.1,2.1 0 1,0 4.2,0a2.1,2.1 0 1,0 -4.2,0M363.4,1078.9a5.3,5.3 0 1,0 10.6,0a5.3,5.3 0 1,0 -10.6,0M555.5,1052.7a1.4,1.4 0 1,0 2.8,0a1.4,1.4 0 1,0 -2.8,0M454.0,920.8a6.9,6.9 0 1,0 13.8,0a6.9,6.9 0 1,0 -13.8,0M419.8,899.4a6.7,6.7 0 1,0 13.3,0a6.7,6.7 0 1,0 -13.3,0M436.9,987.8a3.5,3.5 0 1,0 6.9,0a3.5,3.5 0 1,0 -6.9,0M345.3,1012.2a1.5,1.5 0 1,0 3.1,0a1.5,1.5 0 1,0 -3.1,0M345.4,980.1a2.5,2.5 0 1,0 5.1,0a2.5,2.5 0 1,0 -5.1,0M490.4,987.3a4.3,4.3 0 1,0 8.7,0a4.3,4.3 0 1,0 -8.7,0M404.0,931.6a2.3,2.3 0 1,0 4.5,0a2.3,2.3 0 1,0 -4.5,0M488.6,1019.1a4.3,4.3 0 1,0 8.7,0a4.3,4.3 0 1,0 -8.7,0M405.7,978.5a1.4,1.4 0 1,0 2.8,0a1.4,1.4 0 1,0 -2.8,0M445.7,1049.2a1.7,1.7 0 1,0 3.4,0a1.7,1.7 0 1,0 -3.4,0M314.3,1019.5a3.7,3.7 0 1,0 7.5,0a3.7,3.7 0 1,0 -7.5,0M495.6,1090.8a6.0,6.0 0 1,0 12.1,0a6.0,6.0 0 1,0 -12.1,0M365.3,947.7a6.8,6.8 0 1,0 13.6,0a6.8,6.8 0 1,0 -13.6,0M556.7,964.2a3.1,3.1 0 1,0 6.2,0a3.1,3.1 0 1,0 -6.2,0M525.3,924.9a1.9,1.9 0 1,0 3.8,0a1.9,1.9 0 1,0 -3.8,0M553.1,1072.5a2.2,2.2 0 1,0 4.3,0a2.2,2.2 0 1,0 -4.3,0M386.8,1019.5a1.9,1.9 0 1,0 3.9,0a1.9,1.9 0 1,0 -3.9,0M481.6,1092.7a5.4,5.4 0 1,0 10.8,0a5.4,5.4 0 1,0 -10.8,0M516.6,1017.6a4.4,4.4 0 1,0 8.7,0a4.4,4.4 0 1,0 -8.7,0M420.8,991.6a2.1,2.1 0 1,0 4.3,0a2.1,2.1 0 1,0 -4.3,0M522.3,941.4a3.0,3.0 0 1,0 5.9,0a3.0,3.0 0 1,0 -5.9,0M497.7,941.9a1.4,1.4 0 1,0 2.9,0a1.4,1.4 0 1,0 -2.9,0M343.2,1068.5a2.4,2.4 0 1,0 4.8,0a2.4,2.4 0 1,0 -4.8,0M387.3,1062.8a1.8,1.8 0 1,0 3.6,0a1.8,1.8 0 1,0 -3.6,0M382.7,1081.9a2.8,2.8 0 1,0 5.6,0a2.8,2.8 0 1,0 -5.6,0M404.1,1099.4a2.3,2.3 0 1,0 4.7,0a2.3,2.3 0 1,0 -4.7,0M460.0,1068.6a5.1,5.1 0 1,0 10.2,0a5.1,5.1 0 1,0 -10.2,0M508.8,1060.4a2.2,2.2 0 1,0 4.3,0a2.2,2.2 0 1,0 -4.3,0M477.3,1057.4a2.2,2.2 0 1,0 4.5,0a2.2,2.2 0 1,0 -4.5,0M538.9,1058.7a6.9,6.9 0 1,0 13.8,0a6.9,6.9 0 1,0 -13.8,0M467.0,1035.8a1.5,1.5 0 1,0 3.0,0a1.5,1.5 0 1,0 -3.0,0M430.3,1077.4a1.4,1.4 0 1,0 2.9,0a1.4,1.4 0 1,0 -2.9,0M541.0,901.5a6.0,6.0 0 1,0 12.0,0a6.0,6.0 0 1,0 -12.0,0M528.5,1028.5a3.5,3.5 0 1,0 6.9,0a3.5,3.5 0 1,0 -6.9,0M324.1,1089.0a2.0,2.0 0 1,0 3.9,0a2.0,2.0 0 1,0 -3.9,0M473.8,963.5a5.5,5.5 0 1,0 11.1,0a5.5,5.5 0 1,0 -11.1,0M514.2,1044.8a5.2,5.2 0 1,0 10.5,0a5.2,5.2 0 1,0 -10.5,0M392.6,947.7a3.4,3.4 0 1,0 6.8,0a3.4,3.4 0 1,0 -6.8,0M395.7,998.4a2.1,2.1 0 1,0 4.2,0a2.1,2.1 0 1,0 -4.2,0M494.7,959.4a1.5,1.5 0 1,0 2.9,0a1.5,1.5 0 1,0 -2.9,0M378.4,968.8a1.5,1.5 0 1,0 3.1,0a1.5,1.5 0 1,0 -3.1,0M508.9,903.1a2.4,2.4 0 1,0 4.9,0a2.4,2.4 0 1,0 -4.9,0M387.8,920.6a1.7,1.7 0 1,0 3.4,0a1.7,1.7 0 1,0 -3.4,0M496.7,1067.5a3.1,3.1 0 1,0 6.3,0a3.1,3.1 0 1,0 -6.3,0M394.7,1080.4a3.2,3.2 0 1,0 6.3,0a3.2,3.2 0 1,0 -6.3,0M431.3,1008.1a4.4,4.4 0 1,0 8.9,0a4.4,4.4 0 1,0 -8.9,0M558.6,1091.6a6.3,6.3 0 1,0 12.6,0a6.3,6.3 0 1,0 -12.6,0M396.4,973.0a1.5,1.5 0 1,0 3.0,0a1.5,1.5 0 1,0 -3.0,0M504.7,894.3a1.6,1.6 0 1,0 3.1,0a1.6,1.6 0 1,0 -3.1,0M456.5,1019.6a5.8,5.8 0 1,0 11.6,0a5.8,5.8 0 1,0 -11.6,0M547.4,1011.6a2.4,2.4 0 1,0 4.7,0a2.4,2.4 0 1,0 -4.7,0M540.4,1037.4a5.9,5.9 0 1,0 11.8,0a5.9,5.9 0 1,0 -11.8,0M431.6,963.6a6.8,6.8 0 1,0 13.6,0a6.8,6.8 0 1,0 -13.6,0M442.6,950.5a5.4,5.4 0 1,0 10.8,0a5.4,5.4 0 1,0 -10.8,0M431.0,909.5a4.0,4.0 0 1,0 8.0,0a4.0,4.0 0 1,0 -8.0,0M435.7,1100.8a5.3,5.3 0 1,0 10.7,0a5.3,5.3 0 1,0 -10.7,0M546.9,946.0a3.0,3.0 0 1,0 6.0,0a3.0,3.0 0 1,0 -6.0,0M445.9,1054.3a1.7,1.7 0 1,0 3.3,0a1.7,1.7 0 1,0 -3.3,0M472.5,908.7a5.2,5.2 0 1,0 10.4,0a5.2,5.2 0 1,0 -10.4,0M322.8,964.7a2.3,2.3 0 1,0 4.5,0a2.3,2.3 0 1,0 -4.5,0M348.5,1036.6a3.6,3.6 0 1,0 7.1,0a3.6,3.6 0 1,0 -7.1,0M361.0,1012.0a1.4,1.4 0 1,0 2.9,0a1.4,1.4 0 1,0 -2.9,0M555.3,977.0a1.5,1.5 0 1,0 3.0,0a1.5,1.5 0 1,0 -3.0,0M472.0,988.6a6.4,6.4 0 1,0 12.8,0a6.4,6.4 0 1,0 -12.8,0M373.6,963.3a1.6,1.6 0 1,0 3.1,0a1.6,1.6 0 1,0 -3.1,0M470.9,889.2a2.2,2.2 0 1,0 4.4,0a2.2,2.2 0 1,0 -4.4,0M491.8,1082.4a1.5,1.5 0 1,0 3.0,0a1.5,1.5 0 1,0 -3.0,0M322.5,933.2a1.9,1.9 0 1,0 3.9,0a1.9,1.9 0 1,0 -3.9,0M405.6,1007.8a2.1,2.1 0 1,0 4.3,0a2.1,2.1 0 1,0 -4.3,0M496.3,1012.9a4.8,4.8 0 1,0 9.7,0a4.8,4.8 0 1,0 -9.7,0M422.3,1023.1a5.5,5.5 0 1,0 11.1,0a5.5,5.5 0 1,0 -11.1,0M351.2,1067.1a1.6,1.6 0 1,0 3.1,0a1.6,1.6 0 1,0 -3.1,0M512.6,1052.6a1.4,1.4 0 1,0 2.9,0a1.4,1.4 0 1,0 -2.9,0M473.2,938.0a1.7,1.7 0 1,0 3.3,0a1.7,1.7 0 1,0 -3.3,0M359.8,906.7a5.8,5.8 0 1,0 11.5,0a5.8,5.8 0 1,0 -11.5,0M557.9,1047.4a2.0,2.0 0 1,0 3.9,0a2.0,2.0 0 1,0 -3.9,0M517.5,955.1a1.4,1.4 0 1,0 2.8,0a1.4,1.4 0 1,0 -2.8,0M414.2,1087.1a5.5,5.5 0 1,0 11.0,0a5.5,5.5 0 1,0 -11.0,0M559.3,902.2a1.4,1.4 0 1,0 2.8,0a1.4,1.4 0 1,0 -2.8,0M350.8,913.6a2.4,2.4 0 1,0 4.8,0a2.4,2.4 0 1,0 -4.8,0M463.2,1029.4a2.1,2.1 0 1,0 4.1,0a2.1,2.1 0 1,0 -4.1,0M331.0,991.2a1.4,1.4 0 1,0 2.8,0a1.4,1.4 0 1,0 -2.8,0M368.5,970.5a4.1,4.1 0 1,0 8.2,0a4.1,4.1 0 1,0 -8.2,0M377.9,998.9a4.1,4.1 0 1,0 8.2,0a4.1,4.1 0 1,0 -8.2,0M414.2,927.8a3.4,3.4 0 1,0 6.9,0a3.4,3.4 0 1,0 -6.9,0M434.8,1042.8a4.8,4.8 0 1,0 9.6,0a4.8,4.8 0 1,0 -9.6,0M477.3,899.2a2.0,2.0 0 1,0 3.9,0a2.0,2.0 0 1,0 -3.9,0M440.4,1081.3a2.1,2.1 0 1,0 4.1,0a2.1,2.1 0 1,0 -4.1,0M538.9,1077.6a4.0,4.0 0 1,0 8.0,0a4.0,4.0 0 1,0 -8.0,0M353.2,934.9a3.5,3.5 0 1,0 7.0,0a3.5,3.5 0 1,0 -7.0,0M486.1,1008.2a1.6,1.6 0 1,0 3.3,0a1.6,1.6 0 1,0 -3.3,0M425.4,1105.5a1.8,1.8 0 1,0 3.6,0a1.8,1.8 0 1,0 -3.6,0M373.9,1015.1a1.5,1.5 0 1,0 3.0,0a1.5,1.5 0 1,0 -3.0,0M341.2,968.0a4.7,4.7 0 1,0 9.4,0a4.7,4.7 0 1,0 -9.4,0M553.8,925.9a5.8,5.8 0 1,0 11.6,0a5.8,5.8 0 1,0 -11.6,0M406.4,990.2a2.8,2.8 0 1,0 5.6,0a2.8,2.8 0 1,0 -5.6,0M472.1,897.4a1.6,1.6 0 1,0 3.2,0a1.6,1.6 0 1,0 -3.2,0M410.2,951.5a2.0,2.0 0 1,0 4.1,0a2.0,2.0 0 1,0 -4.1,0M353.1,991.7a2.7,2.7 0 1,0 5.5,0a2.7,2.7 0 1,0 -5.5,0M468.1,1100.4a4.9,4.9 0 1,0 9.9,0a4.9,4.9 0 1,0 -9.9,0M531.0,1003.1a4.7,4.7 0 1,0 9.3,0a4.7,4.7 0 1,0 -9.3,0M484.6,997.0a3.9,3.9 0 1,0 7.8,0a3.9,3.9 0 1,0 -7.8,0M513.8,916.7a2.7,2.7 0 1,0 5.3,0a2.7,2.7 0 1,0 -5.3,0M545.0,996.2a1.5,1.5 0 1,0 3.0,0a1.5,1.5 0 1,0 -3.0,0M550.5,1022.0a3.2,3.2 0 1,0 6.4,0a3.2,3.2 0 1,0 -6.4,0M359.4,916.6a2.5,2.5 0 1,0 5.0,0a2.5,2.5 0 1,0 -5.0,0M541.7,1005.6a1.8,1.8 0 1,0 3.6,0a1.8,1.8 0 1,0 -3.6,0M483.7,979.9a4.3,4.3 0 1,0 8.5,0a4.3,4.3 0 1,0 -8.5,0M359.6,1004.7a4.2,4.2 0 1,0 8.3,0a4.2,4.2 0 1,0 -8.3,0M469.5,946.8a3.8,3.8 0 1,0 7.6,0a3.8,3.8 0 1,0 -7.6,0M340.1,908.6a1.6,1.6 0 1,0 3.2,0a1.6,1.6 0 1,0 -3.2,0M421.4,1054.5a4.2,4.2 0 1,0 8.4,0a4.2,4.2 0 1,0 -8.4,0M401.8,907.5a1.4,1.4 0 1,0 2.8,0a1.4,1.4 0 1,0 -2.8,0M363.1,990.8a1.5,1.5 0 1,0 2.9,0a1.5,1.5 0 1,0 -2.9,0M444.0,1036.9a2.0,2.0 0 1,0 4.0,0a2.0,2.0 0 1,0 -4.0,0M508.6,987.1a3.4,3.4 0 1,0 6.8,0a3.4,3.4 0 1,0 -6.8,0M454.3,1031.8a1.8,1.8 0 1,0 3.7,0a1.8,1.8 0 1,0 -3.7,0M347.6,1097.6a6.1,6.1 0 1,0 12.3,0a6.1,6.1 0 1,0 -12.3,0M536.6,1103.8a1.4,1.4 0 1,0 2.8,0a1.4,1.4 0 1,0 -2.8,0M513.3,995.0a2.1,2.1 0 1,0 4.3,0a2.1,2.1 0 1,0 -4.3,0M526.9,1094.0a3.2,3.2 0 1,0 6.3,0a3.2,3.2 0 1,0 -6.3,0M369.2,1088.2a1.9,1.9 0 1,0 3.8,0a1.9,1.9 0 1,0 -3.8,0M537.8,930.6a3.4,3.4 0 1,0 6.7,0a3.4,3.4 0 1,0 -6.7,0M545.7,968.3a1.9,1.9 0 1,0 3.7,0a1.9,1.9 0 1,0 -3.7,0M385.9,897.4a2.5,2.5 0 1,0 5.0,0a2.5,2.5 0 1,0 -5.0,0M389.2,1102.6a4.4,4.4 0 1,0 8.8,0a4.4,4.4 0 1,0 -8.8,0M454.6,903.5a6.0,6.0 0 1,0 12.1,0a6.0,6.0 0 1,0 -12.1,0M322.5,1022.9a4.2,4.2 0 1,0 8.3,0a4.2,4.2 0 1,0 -8.3,0M448.7,1093.2a3.6,3.6 0 1,0 7.2,0a3.6,3.6 0 1,0 -7.2,0M319.3,1044.2a1.4,1.4 0 1,0 2.8,0a1.4,1.4 0 1,0 -2.8,0M402.0,899.2a3.9,3.9 0 1,0 7.7,0a3.9,3.9 0 1,0 -7.7,0M351.0,941.3a2.3,2.3 0 1,0 4.7,0a2.3,2.3 0 1,0 -4.7,0M503.6,917.6a2.9,2.9 0 1,0 5.7,0a2.9,2.9 0 1,0 -5.7,0M555.7,1059.8a3.6,3.6 0 1,0 7.1,0a3.6,3.6 0 1,0 -7.1,0M382.4,1068.4a1.4,1.4 0 1,0 2.8,0a1.4,1.4 0 1,0 -2.8,0M468.8,1062.5a3.0,3.0 0 1,0 5.9,0a3.0,3.0 0 1,0 -5.9,0M349.6,1081.6a1.9,1.9 0 1,0 3.8,0a1.9,1.9 0 1,0 -3.8,0M319.7,1038.4a3.4,3.4 0 1,0 6.8,0a3.4,3.4 0 1,0 -6.8,0M494.9,1032.2a1.8,1.8 0 1,0 3.6,0a1.8,1.8 0 1,0 -3.6,0M555.8,949.0a2.1,2.1 0 1,0 4.1,0a2.1,2.1 0 1,0 -4.1,0M482.5,1052.1a6.9,6.9 0 1,0 13.8,0a6.9,6.9 0 1,0 -13.8,0M466.9,1004.3a5.8,5.8 0 1,0 11.5,0a5.8,5.8 0 1,0 -11.5,0M339.8,883.9a5.8,5.8 0 1,0 11.6,0a5.8,5.8 0 1,0 -11.6,0M525.2,1037.4a3.0,3.0 0 1,0 6.0,0a3.0,3.0 0 1,0 -6.0,0M397.5,1089.2a2.0,2.0 0 1,0 4.1,0a2.0,2.0 0 1,0 -4.1,0M427.7,947.8a1.6,1.6 0 1,0 3.3,0a1.6,1.6 0 1,0 -3.3,0M398.6,994.1a1.8,1.8 0 1,0 3.6,0a1.8,1.8 0 1,0 -3.6,0M434.7,894.3a1.8,1.8 0 1,0 3.6,0a1.8,1.8 0 1,0 -3.6,0M356.4,1046.2a2.1,2.1 0 1,0 4.2,0a2.1,2.1 0 1,0 -4.2,0M359.2,894.3a4.6,4.6 0 1,0 9.2,0a4.6,4.6 0 1,0 -9.2,0M407.1,998.9a3.9,3.9 0 1,0 7.8,0a3.9,3.9 0 1,0 -7.8,0M533.5,909.0a3.2,3.2 0 1,0 6.4,0a3.2,3.2 0 1,0 -6.4,0M527.5,1018.8a1.4,1.4 0 1,0 2.9,0a1.4,1.4 0 1,0 -2.9,0M324.9,905.8a3.8,3.8 0 1,0 7.6,0a3.8,3.8 0 1,0 -7.6,0M496.7,911.6a1.9,1.9 0 1,0 3.7,0a1.9,1.9 0 1,0 -3.7,0M320.1,979.8a2.3,2.3 0 1,0 4.6,0a2.3,2.3 0 1,0 -4.6,0M482.4,956.4a2.1,2.1 0 1,0 4.2,0a2.1,2.1 0 1,0 -4.2,0M412.6,941.5a6.1,6.1 0 1,0 12.1,0a6.1,6.1 0 1,0 -12.1,0M332.7,955.3a2.4,2.4 0 1,0 4.9,0a2.4,2.4 0 1,0 -4.9,0M520.1,1081.0a1.7,1.7 0 1,0 3.4,0a1.7,1.7 0 1,0 -3.4,0M314.5,977.4a2.3,2.3 0 1,0 4.7,0a2.3,2.3 0 1,0 -4.7,0M535.9,898.5a1.5,1.5 0 1,0 2.9,0a1.5,1.5 0 1,0 -2.9,0M528.8,1106.6a2.5,2.5 0 1,0 5.0,0a2.5,2.5 0 1,0 -5.0,0M330.3,931.9a1.7,1.7 0 1,0 3.4,0a1.7,1.7 0 1,0 -3.4,0M525.6,978.8a1.9,1.9 0 1,0 3.9,0a1.9,1.9 0 1,0 -3.9,0M418.6,1043.8a2.0,2.0 0 1,0 3.9,0a2.0,2.0 0 1,0 -3.9,0M332.1,969.5a2.7,2.7 0 1,0 5.4,0a2.7,2.7 0 1,0 -5.4,0M498.5,897.2a2.5,2.5 0 1,0 5.1,0a2.5,2.5 0 1,0 -5.1,0M448.3,1011.5a1.4,1.4 0 1,0 2.9,0a1.4,1.4 0 1,0 -2.9,0M319.6,882.7a5.0,5.0 0 1,0 10.0,0a5.0,5.0 0 1,0 -10.0,0M336.3,1007.6a1.9,1.9 0 1,0 3.8,0a1.9,1.9 0 1,0 -3.8,0M435.8,1077.5a2.0,2.0 0 1,0 3.9,0a2.0,2.0 0 1,0 -3.9,0M545.3,984.8a1.5,1.5 0 1,0 2.9,0a1.5,1.5 0 1,0 -2.9,0M414.2,887.1a6.0,6.0 0 1,0 11.9,0a6.0,6.0 0 1,0 -11.9,0M337.5,896.7a2.4,2.4 0 1,0 4.9,0a2.4,2.4 0 1,0 -4.9,0M316.8,1011.0a1.4,1.4 0 1,0 2.8,0a1.4,1.4 0 1,0 -2.8,0M386.9,884.1a2.0,2.0 0 1,0 3.9,0a2.0,2.0 0 1,0 -3.9,0M324.7,987.1a1.9,1.9 0 1,0 3.9,0a1.9,1.9 0 1,0 -3.9,0M381.6,1031.7a1.5,1.5 0 1,0 2.9,0a1.5,1.5 0 1,0 -2.9,0M323.5,975.6a1.6,1.6 0 1,0 3.3,0a1.6,1.6 0 1,0 -3.3,0M453.5,972.8a4.6,4.6 0 1,0 9.2,0a4.6,4.6 0 1,0 -9.2,0M423.4,998.6a1.4,1.4 0 1,0 2.8,0a1.4,1.4 0 1,0 -2.8,0M379.6,980.5a2.2,2.2 0 1,0 4.4,0a2.2,2.2 0 1,0 -4.4,0M486.8,910.4a2.0,2.0 0 1,0 4.0,0a2.0,2.0 0 1,0 -4.0,0M319.3,953.2a1.5,1.5 0 1,0 3.1,0a1.5,1.5 0 1,0 -3.1,0M445.4,1021.6a2.6,2.6 0 1,0 5.2,0a2.6,2.6 0 1,0 -5.2,0M548.3,914.9a1.4,1.4 0 1,0 2.8,0a1.4,1.4 0 1,0 -2.8,0M330.3,1013.6a3.1,3.1 0 1,0 6.2,0a3.1,3.1 0 1,0 -6.2,0M475.3,1074.7a1.5,1.5 0 1,0 3.1,0a1.5,1.5 0 1,0 -3.1,0M498.2,977.7a3.2,3.2 0 1,0 6.3,0a3.2,3.2 0 1,0 -6.3,0M519.3,890.0a6.1,6.1 0 1,0 12.1,0a6.1,6.1 0 1,0 -12.1,0M552.4,983.5a1.4,1.4 0 1,0 2.8,0a1.4,1.4 0 1,0 -2.8,0M418.2,951.1a1.6,1.6 0 1,0 3.1,0a1.6,1.6 0 1,0 -3.1,0M416.5,1099.9a2.7,2.7 0 1,0 5.4,0a2.7,2.7 0 1,0 -5.4,0M330.8,1005.8a2.0,2.0 0 1,0 3.9,0a2.0,2.0 0 1,0 -3.9,0M413.1,911.9a5.4,5.4 0 1,0 10.8,0a5.4,5.4 0 1,0 -10.8,0M510.9,1090.3a5.7,5.7 0 1,0 11.5,0a5.7,5.7 0 1,0 -11.5,0M329.5,1068.3a3.4,3.4 0 1,0 6.9,0a3.4,3.4 0 1,0 -6.9,0M512.3,934.6a3.0,3.0 0 1,0 6.0,0a3.0,3.0 0 1,0 -6.0,0M401.3,999.7a2.2,2.2 0 1,0 4.4,0a2.2,2.2 0 1,0 -4.4,0M398.5,1020.8a4.4,4.4 0 1,0 8.8,0a4.4,4.4 0 1,0 -8.8,0M456.9,1072.9a1.5,1.5 0 1,0 3.1,0a1.5,1.5 0 1,0 -3.1,0M456.5,988.7a1.4,1.4 0 1,0 2.8,0a1.4,1.4 0 1,0 -2.8,0M530.4,937.4a1.5,1.5 0 1,0 2.9,0a1.5,1.5 0 1,0 -2.9,0M489.2,883.5a3.2,3.2 0 1,0 6.5,0a3.2,3.2 0 1,0 -6.5,0M352.4,950.0a1.5,1.5 0 1,0 3.1,0a1.5,1.5 0 1,0 -3.1,0M496.9,966.9a2.9,2.9 0 1,0 5.7,0a2.9,2.9 0 1,0 -5.7,0M404.9,1089.7a2.5,2.5 0 1,0 4.9,0a2.5,2.5 0 1,0 -4.9,0M376.4,1050.7a4.5,4.5 0 1,0 8.9,0a4.5,4.5 0 1,0 -8.9,0M337.6,1058.9a3.0,3.0 0 1,0 6.0,0a3.0,3.0 0 1,0 -6.0,0M392.0,1057.9a1.6,1.6 0 1,0 3.3,0a1.6,1.6 0 1,0 -3.3,0M375.3,908.4a5.8,5.8 0 1,0 11.6,0a5.8,5.8 0 1,0 -11.6,0M322.3,948.2a1.6,1.6 0 1,0 3.2,0a1.6,1.6 0 1,0 -3.2,0M487.6,950.9a1.7,1.7 0 1,0 3.3,0a1.7,1.7 0 1,0 -3.3,0M517.6,1030.1a4.2,4.2 0 1,0 8.3,0a4.2,4.2 0 1,0 -8.3,0M476.1,1036.5a2.8,2.8 0 1,0 5.6,0a2.8,2.8 0 1,0 -5.6,0M492.2,909.1a1.5,1.5 0 1,0 3.1,0a1.5,1.5 0 1,0 -3.1,0M465.9,896.4a1.4,1.4 0 1,0 2.8,0a1.4,1.4 0 1,0 -2.8,0M495.7,995.0a1.5,1.5 0 1,0 3.0,0a1.5,1.5 0 1,0 -3.0,0M550.6,883.2a1.5,1.5 0 1,0 3.0,0a1.5,1.5 0 1,0 -3.0,0M508.0,964.9a3.0,3.0 0 1,0 6.0,0a3.0,3.0 0 1,0 -6.0,0M415.5,958.3a4.4,4.4 0 1,0 8.8,0a4.4,4.4 0 1,0 -8.8,0M484.6,1104.2a1.8,1.8 0 1,0 3.6,0a1.8,1.8 0 1,0 -3.6,0M339.0,943.8a3.1,3.1 0 1,0 6.3,0a3.1,3.1 0 1,0 -6.3,0M347.5,959.5a2.4,2.4 0 1,0 4.8,0a2.4,2.4 0 1,0 -4.8,0M386.9,1044.4a3.3,3.3 0 1,0 6.5,0a3.3,3.3 0 1,0 -6.5,0M376.7,900.0a1.5,1.5 0 1,0 2.9,0a1.5,1.5 0 1,0 -2.9,0M511.0,1075.0a4.7,4.7 0 1,0 9.3,0a4.7,4.7 0 1,0 -9.3,0M471.9,1016.6a6.4,6.4 0 1,0 12.8,0a6.4,6.4 0 1,0 -12.8,0M369.6,1105.5a1.4,1.4 0 1,0 2.8,0a1.4,1.4 0 1,0 -2.8,0M547.6,930.8a3.0,3.0 0 1,0 5.9,0a3.0,3.0 0 1,0 -5.9,0M562.4,956.2a1.9,1.9 0 1,0 3.9,0a1.9,1.9 0 1,0 -3.9,0M464.1,954.7a1.5,1.5 0 1,0 2.9,0a1.5,1.5 0 1,0 -2.9,0M465.2,884.3a2.0,2.0 0 1,0 4.1,0a2.0,2.0 0 1,0 -4.1,0M497.0,929.0a1.4,1.4 0 1,0 2.8,0a1.4,1.4 0 1,0 -2.8,0M365.3,885.9a1.6,1.6 0 1,0 3.1,0a1.6,1.6 0 1,0 -3.1,0M350.5,903.0a1.9,1.9 0 1,0 3.8,0a1.9,1.9 0 1,0 -3.8,0M560.0,880.8a2.9,2.9 0 1,0 5.7,0a2.9,2.9 0 1,0 -5.7,0M334.5,1077.6a2.0,2.0 0 1,0 4.0,0a2.0,2.0 0 1,0 -4.0,0M415.7,1074.2a3.4,3.4 0 1,0 6.9,0a3.4,3.4 0 1,0 -6.9,0M500.9,1102.0a1.7,1.7 0 1,0 3.4,0a1.7,1.7 0 1,0 -3.4,0M557.1,1106.0a1.4,1.4 0 1,0 2.8,0a1.4,1.4 0 1,0 -2.8,0M333.9,995.3a1.9,1.9 0 1,0 3.8,0a1.9,1.9 0 1,0 -3.8,0M553.8,1035.5a2.8,2.8 0 1,0 5.5,0a2.8,2.8 0 1,0 -5.5,0M510.2,975.8a3.2,3.2 0 1,0 6.3,0a3.2,3.2 0 1,0 -6.3,0M547.1,1101.9a3.2,3.2 0 1,0 6.5,0a3.2,3.2 0 1,0 -6.5,0M471.7,1051.4a1.4,1.4 0 1,0 2.8,0a1.4,1.4 0 1,0 -2.8,0M440.3,906.6a5.4,5.4 0 1,0 10.9,0a5.4,5.4 0 1,0 -10.9,0M465.1,1084.8a2.3,2.3 0 1,0 4.6,0a2.3,2.3 0 1,0 -4.6,0M345.4,902.3a1.7,1.7 0 1,0 3.5,0a1.7,1.7 0 1,0 -3.5,0M330.5,1040.5a1.9,1.9 0 1,0 3.7,0a1.9,1.9 0 1,0 -3.7,0M545.7,1095.5a2.3,2.3 0 1,0 4.6,0a2.3,2.3 0 1,0 -4.6,0M325.6,1011.6a1.4,1.4 0 1,0 2.8,0a1.4,1.4 0 1,0 -2.8,0M554.0,997.4a1.8,1.8 0 1,0 3.7,0a1.8,1.8 0 1,0 -3.7,0M533.8,1016.4a1.4,1.4 0 1,0 2.8,0a1.4,1.4 0 1,0 -2.8,0M520.9,1056.9a4.3,4.3 0 1,0 8.6,0a4.3,4.3 0 1,0 -8.6,0M457.1,1079.1a3.8,3.8 0 1,0 7.6,0a3.8,3.8 0 1,0 -7.6,0M409.3,1060.3a1.4,1.4 0 1,0 2.9,0a1.4,1.4 0 1,0 -2.9,0M447.1,880.9a1.8,1.8 0 1,0 3.7,0a1.8,1.8 0 1,0 -3.7,0M521.5,981.8a1.4,1.4 0 1,0 2.8,0a1.4,1.4 0 1,0 -2.8,0M381.5,935.0a1.6,1.6 0 1,0 3.1,0a1.6,1.6 0 1,0 -3.1,0M539.6,940.5a1.9,1.9 0 1,0 3.7,0a1.9,1.9 0 1,0 -3.7,0M392.9,884.5a5.4,5.4 0 1,0 10.9,0a5.4,5.4 0 1,0 -10.9,0M541.6,1093.4a1.4,1.4 0 1,0 2.8,0a1.4,1.4 0 1,0 -2.8,0M390.7,1069.9a1.5,1.5 0 1,0 3.1,0a1.5,1.5 0 1,0 -3.1,0M529.9,984.1a3.3,3.3 0 1,0 6.5,0a3.3,3.3 0 1,0 -6.5,0M501.9,887.0a2.3,2.3 0 1,0 4.7,0a2.3,2.3 0 1,0 -4.7,0M503.3,1023.2a6.1,6.1 0 1,0 12.2,0a6.1,6.1 0 1,0 -12.2,0M434.5,1028.3a4.6,4.6 0 1,0 9.3,0a4.6,4.6 0 1,0 -9.3,0M488.7,923.4a2.7,2.7 0 1,0 5.4,0a2.7,2.7 0 1,0 -5.4,0M388.3,1008.6a1.9,1.9 0 1,0 3.9,0a1.9,1.9 0 1,0 -3.9,0M466.2,1094.6a1.8,1.8 0 1,0 3.6,0a1.8,1.8 0 1,0 -3.6,0M421.5,974.4a3.2,3.2 0 1,0 6.4,0a3.2,3.2 0 1,0 -6.4,0M396.0,1070.9a2.5,2.5 0 1,0 4.9,0a2.5,2.5 0 1,0 -4.9,0M335.9,1025.5a1.4,1.4 0 1,0 2.8,0a1.4,1.4 0 1,0 -2.8,0M351.7,1010.4a2.7,2.7 0 1,0 5.5,0a2.7,2.7 0 1,0 -5.5,0M340.5,1075.3a3.2,3.2 0 1,0 6.5,0a3.2,3.2 0 1,0 -6.5,0M360.1,1038.8a2.1,2.1 0 1,0 4.2,0a2.1,2.1 0 1,0 -4.2,0M479.6,884.9a1.5,1.5 0 1,0 3.0,0a1.5,1.5 0 1,0 -3.0,0M433.5,1060.4a2.1,2.1 0 1,0 4.1,0a2.1,2.1 0 1,0 -4.1,0M361.6,1070.4a3.1,3.1 0 1,0 6.1,0a3.1,3.1 0 1,0 -6.1,0M452.5,930.3a1.5,1.5 0 1,0 3.0,0a1.5,1.5 0 1,0 -3.0,0M320.3,1008.2a1.9,1.9 0 1,0 3.7,0a1.9,1.9 0 1,0 -3.7,0M560.2,1052.1a1.4,1.4 0 1,0 2.9,0a1.4,1.4 0 1,0 -2.9,0M374.5,1097.4a1.6,1.6 0 1,0 3.3,0a1.6,1.6 0 1,0 -3.3,0M467.7,971.3a2.6,2.6 0 1,0 5.1,0a2.6,2.6 0 1,0 -5.1,0M342.6,999.4a2.7,2.7 0 1,0 5.5,0a2.7,2.7 0 1,0 -5.5,0M535.9,989.5a4.3,4.3 0 1,0 8.6,0a4.3,4.3 0 1,0 -8.6,0M440.3,975.5a3.2,3.2 0 1,0 6.3,0a3.2,3.2 0 1,0 -6.3,0M319.8,919.4a4.0,4.0 0 1,0 8.1,0a4.0,4.0 0 1,0 -8.1,0M506.1,1053.1a2.1,2.1 0 1,0 4.3,0a2.1,2.1 0 1,0 -4.3,0M385.2,949.3a1.6,1.6 0 1,0 3.1,0a1.6,1.6 0 1,0 -3.1,0M541.7,1047.3a1.4,1.4 0 1,0 2.8,0a1.4,1.4 0 1,0 -2.8,0M341.0,983.5a1.4,1.4 0 1,0 2.8,0a1.4,1.4 0 1,0 -2.8,0M409.3,1051.8a1.6,1.6 0 1,0 3.3,0a1.6,1.6 0 1,0 -3.3,0M334.2,979.4a3.1,3.1 0 1,0 6.3,0a3.1,3.1 0 1,0 -6.3,0M493.8,895.6a1.4,1.4 0 1,0 2.8,0a1.4,1.4 0 1,0 -2.8,0M385.1,1036.4a2.1,2.1 0 1,0 4.2,0a2.1,2.1 0 1,0 -4.2,0M505.9,945.6a1.4,1.4 0 1,0 2.9,0a1.4,1.4 0 1,0 -2.9,0M389.3,975.4a2.3,2.3 0 1,0 4.7,0a2.3,2.3 0 1,0 -4.7,0M316.5,1064.7a1.7,1.7 0 1,0 3.4,0a1.7,1.7 0 1,0 -3.4,0M367.7,1000.3a2.4,2.4 0 1,0 4.7,0a2.4,2.4 0 1,0 -4.7,0M368.0,923.9a1.4,1.4 0 1,0 2.8,0a1.4,1.4 0 1,0 -2.8,0M394.0,922.1a4.3,4.3 0 1,0 8.7,0a4.3,4.3 0 1,0 -8.7,0M415.3,1014.2a2.2,2.2 0 1,0 4.4,0a2.2,2.2 0 1,0 -4.4,0M327.0,959.3a2.3,2.3 0 1,0 4.6,0a2.3,2.3 0 1,0 -4.6,0M533.9,1047.2a2.7,2.7 0 1,0 5.4,0a2.7,2.7 0 1,0 -5.4,0M460.2,1101.6a1.7,1.7 0 1,0 3.4,0a1.7,1.7 0 1,0 -3.4,0M384.8,932.2a1.6,1.6 0 1,0 3.3,0a1.6,1.6 0 1,0 -3.3,0M324.3,940.4a3.4,3.4 0 1,0 6.7,0a3.4,3.4 0 1,0 -6.7,0M340.6,1036.4a2.0,2.0 0 1,0 4.1,0a2.0,2.0 0 1,0 -4.1,0M553.7,1049.0a1.5,1.5 0 1,0 3.1,0a1.5,1.5 0 1,0 -3.1,0M370.5,934.3a3.3,3.3 0 1,0 6.5,0a3.3,3.3 0 1,0 -6.5,0M534.7,1071.8a1.4,1.4 0 1,0 2.9,0a1.4,1.4 0 1,0 -2.9,0M427.0,1091.7a4.7,4.7 0 1,0 9.5,0a4.7,4.7 0 1,0 -9.5,0M403.2,926.1a2.0,2.0 0 1,0 4.1,0a2.0,2.0 0 1,0 -4.1,0M401.0,1053.7a1.4,1.4 0 1,0 2.8,0a1.4,1.4 0 1,0 -2.8,0M395.8,989.6a1.4,1.4 0 1,0 2.9,0a1.4,1.4 0 1,0 -2.9,0M347.0,932.2a1.5,1.5 0 1,0 3.0,0a1.5,1.5 0 1,0 -3.0,0M389.1,1052.6a1.9,1.9 0 1,0 3.8,0a1.9,1.9 0 1,0 -3.8,0M563.6,1048.8a1.8,1.8 0 1,0 3.6,0a1.8,1.8 0 1,0 -3.6,0M356.6,971.1a2.3,2.3 0 1,0 4.6,0a2.3,2.3 0 1,0 -4.6,0M557.2,1014.5a4.9,4.9 0 1,0 9.7,0a4.9,4.9 0 1,0 -9.7,0M511.1,1105.3a1.7,1.7 0 1,0 3.3,0a1.7,1.7 0 1,0 -3.3,0M449.1,973.7a1.4,1.4 0 1,0 2.8,0a1.4,1.4 0 1,0 -2.8,0M536.1,1094.2a2.1,2.1 0 1,0 4.3,0a2.1,2.1 0 1,0 -4.3,0M427.5,1034.7a1.9,1.9 0 1,0 3.8,0a1.9,1.9 0 1,0 -3.8,0M316.8,1034.7a1.4,1.4 0 1,0 2.8,0a1.4,1.4 0 1,0 -2.8,0M409.1,1033.1a1.4,1.4 0 1,0 2.8,0a1.4,1.4 0 1,0 -2.8,0M370.9,919.0a2.0,2.0 0 1,0 4.0,0a2.0,2.0 0 1,0 -4.0,0M459.2,979.7a1.6,1.6 0 1,0 3.2,0a1.6,1.6 0 1,0 -3.2,0M491.4,916.4a1.9,1.9 0 1,0 3.9,0a1.9,1.9 0 1,0 -3.9,0M536.3,1087.5a1.5,1.5 0 1,0 2.9,0a1.5,1.5 0 1,0 -2.9,0M478.3,917.2a1.9,1.9 0 1,0 3.7,0a1.9,1.9 0 1,0 -3.7,0M444.2,1069.6a2.3,2.3 0 1,0 4.5,0a2.3,2.3 0 1,0 -4.5,0M325.2,1101.9a1.5,1.5 0 1,0 3.0,0a1.5,1.5 0 1,0 -3.0,0M414.8,903.1a1.7,1.7 0 1,0 3.4,0a1.7,1.7 0 1,0 -3.4,0M534.1,882.1a3.4,3.4 0 1,0 6.8,0a3.4,3.4 0 1,0 -6.8,0M542.0,1025.5a2.2,2.2 0 1,0 4.5,0a2.2,2.2 0 1,0 -4.5,0M370.4,986.6a4.3,4.3 0 1,0 8.6,0a4.3,4.3 0 1,0 -8.6,0M472.5,931.0a2.4,2.4 0 1,0 4.8,0a2.4,2.4 0 1,0 -4.8,0M380.3,1099.7a1.6,1.6 0 1,0 3.1,0a1.6,1.6 0 1,0 -3.1,0M428.1,1099.6a2.1,2.1 0 1,0 4.3,0a2.1,2.1 0 1,0 -4.3,0M530.5,1085.8a2.3,2.3 0 1,0 4.6,0a2.3,2.3 0 1,0 -4.6,0M531.3,963.5a2.3,2.3 0 1,0 4.5,0a2.3,2.3 0 1,0 -4.5,0M554.6,1083.1a2.5,2.5 0 1,0 4.9,0a2.5,2.5 0 1,0 -4.9,0M532.4,1020.3a1.4,1.4 0 1,0 2.8,0a1.4,1.4 0 1,0 -2.8,0M366.4,1097.0a2.1,2.1 0 1,0 4.2,0a2.1,2.1 0 1,0 -4.2,0M540.2,1101.3a2.3,2.3 0 1,0 4.6,0a2.3,2.3 0 1,0 -4.6,0M507.3,1009.0a1.4,1.4 0 1,0 2.8,0a1.4,1.4 0 1,0 -2.8,0M421.0,922.2a1.4,1.4 0 1,0 2.9,0a1.4,1.4 0 1,0 -2.9,0M502.5,1047.2a2.1,2.1 0 1,0 4.3,0a2.1,2.1 0 1,0 -4.3,0M559.1,940.8a2.0,2.0 0 1,0 3.9,0a2.0,2.0 0 1,0 -3.9,0M417.2,971.1a1.4,1.4 0 1,0 2.8,0a1.4,1.4 0 1,0 -2.8,0M490.0,1067.7a1.4,1.4 0 1,0 2.9,0a1.4,1.4 0 1,0 -2.9,0M356.3,1070.6a1.4,1.4 0 1,0 2.8,0a1.4,1.4 0 1,0 -2.8,0M390.6,902.9a1.5,1.5 0 1,0 3.0,0a1.5,1.5 0 1,0 -3.0,0M351.3,981.8a1.5,1.5 0 1,0 2.9,0a1.5,1.5 0 1,0 -2.9,0M516.4,926.6a1.4,1.4 0 1,0 2.9,0a1.4,1.4 0 1,0 -2.9,0M517.6,943.4a1.6,1.6 0 1,0 3.2,0a1.6,1.6 0 1,0 -3.2,0M560.1,1037.4a3.5,3.5 0 1,0 6.9,0a3.5,3.5 0 1,0 -6.9,0M450.8,938.8a3.2,3.2 0 1,0 6.5,0a3.2,3.2 0 1,0 -6.5,0M479.3,1001.1a1.4,1.4 0 1,0 2.9,0a1.4,1.4 0 1,0 -2.9,0M442.9,893.5a1.8,1.8 0 1,0 3.5,0a1.8,1.8 0 1,0 -3.5,0M419.0,999.0a1.6,1.6 0 1,0 3.1,0a1.6,1.6 0 1,0 -3.1,0M390.3,909.4a4.3,4.3 0 1,0 8.5,0a4.3,4.3 0 1,0 -8.5,0M394.6,1026.7a2.2,2.2 0 1,0 4.4,0a2.2,2.2 0 1,0 -4.4,0M409.4,1069.5a2.9,2.9 0 1,0 5.8,0a2.9,2.9 0 1,0 -5.8,0M398.8,1106.4a1.6,1.6 0 1,0 3.2,0a1.6,1.6 0 1,0 -3.2,0M412.8,1058.2a2.0,2.0 0 1,0 4.1,0a2.0,2.0 0 1,0 -4.1,0M522.4,1105.0a1.5,1.5 0 1,0 3.1,0a1.5,1.5 0 1,0 -3.1,0M452.4,1101.4a2.0,2.0 0 1,0 4.1,0a2.0,2.0 0 1,0 -4.1,0M481.6,1043.5a1.5,1.5 0 1,0 3.0,0a1.5,1.5 0 1,0 -3.0,0M329.4,898.2a1.5,1.5 0 1,0 3.1,0a1.5,1.5 0 1,0 -3.1,0M502.5,1058.6a2.5,2.5 0 1,0 5.0,0a2.5,2.5 0 1,0 -5.0,0M447.5,897.3a1.7,1.7 0 1,0 3.5,0a1.7,1.7 0 1,0 -3.5,0M506.8,1003.8a2.1,2.1 0 1,0 4.2,0a2.1,2.1 0 1,0 -4.2,0M555.5,987.0a1.7,1.7 0 1,0 3.3,0a1.7,1.7 0 1,0 -3.3,0M375.5,926.2a2.1,2.1 0 1,0 4.3,0a2.1,2.1 0 1,0 -4.3,0M551.1,918.3a1.4,1.4 0 1,0 2.8,0a1.4,1.4 0 1,0 -2.8,0M548.7,961.4a1.9,1.9 0 1,0 3.8,0a1.9,1.9 0 1,0 -3.8,0M438.1,1070.7a2.2,2.2 0 1,0 4.4,0a2.2,2.2 0 1,0 -4.4,0M424.3,1096.8a1.5,1.5 0 1,0 3.0,0a1.5,1.5 0 1,0 -3.0,0M408.2,908.7a1.8,1.8 0 1,0 3.6,0a1.8,1.8 0 1,0 -3.6,0M503.3,1030.4a1.4,1.4 0 1,0 2.8,0a1.4,1.4 0 1,0 -2.8,0M362.8,976.5a3.2,3.2 0 1,0 6.3,0a3.2,3.2 0 1,0 -6.3,0M509.3,1036.8a2.6,2.6 0 1,0 5.1,0a2.6,2.6 0 1,0 -5.1,0M562.1,1066.7a2.1,2.1 0 1,0 4.1,0a2.1,2.1 0 1,0 -4.1,0M561.5,1080.8a2.0,2.0 0 1,0 4.0,0a2.0,2.0 0 1,0 -4.0,0M368.1,961.7a1.8,1.8 0 1,0 3.5,0a1.8,1.8 0 1,0 -3.5,0M342.7,1018.7a3.0,3.0 0 1,0 5.9,0a3.0,3.0 0 1,0 -5.9,0M315.5,963.3a1.6,1.6 0 1,0 3.1,0a1.6,1.6 0 1,0 -3.1,0M444.8,998.0a6.5,6.5 0 1,0 13.1,0a6.5,6.5 0 1,0 -13.1,0M474.7,1067.8a4.4,4.4 0 1,0 8.9,0a4.4,4.4 0 1,0 -8.9,0M386.9,1095.2a1.8,1.8 0 1,0 3.6,0a1.8,1.8 0 1,0 -3.6,0M422.5,933.1a4.2,4.2 0 1,0 8.4,0a4.2,4.2 0 1,0 -8.4,0M539.9,977.9a1.4,1.4 0 1,0 2.8,0a1.4,1.4 0 1,0 -2.8,0M494.7,1077.7a4.4,4.4 0 1,0 8.9,0a4.4,4.4 0 1,0 -8.9,0M544.7,953.9a3.1,3.1 0 1,0 6.2,0a3.1,3.1 0 1,0 -6.2,0M513.5,1010.1a1.4,1.4 0 1,0 2.9,0a1.4,1.4 0 1,0 -2.9,0M448.9,1066.0a3.6,3.6 0 1,0 7.3,0a3.6,3.6 0 1,0 -7.3,0M372.9,1046.4a1.4,1.4 0 1,0 2.8,0a1.4,1.4 0 1,0 -2.8,0M322.9,998.4a1.9,1.9 0 1,0 3.8,0a1.9,1.9 0 1,0 -3.8,0M502.5,989.2a1.4,1.4 0 1,0 2.8,0a1.4,1.4 0 1,0 -2.8,0M558.8,993.3a3.5,3.5 0 1,0 7.1,0a3.5,3.5 0 1,0 -7.1,0M517.9,908.2a2.0,2.0 0 1,0 4.0,0a2.0,2.0 0 1,0 -4.0,0M320.0,900.2a1.4,1.4 0 1,0 2.8,0a1.4,1.4 0 1,0 -2.8,0M450.8,1084.9a3.5,3.5 0 1,0 6.9,0a3.5,3.5 0 1,0 -6.9,0M372.8,889.8a1.7,1.7 0 1,0 3.3,0a1.7,1.7 0 1,0 -3.3,0M443.7,1091.4a1.5,1.5 0 1,0 3.0,0a1.5,1.5 0 1,0 -3.0,0M405.3,1028.6a2.1,2.1 0 1,0 4.2,0a2.1,2.1 0 1,0 -4.2,0M548.5,999.5a2.2,2.2 0 1,0 4.5,0a2.2,2.2 0 1,0 -4.5,0M478.4,937.1a3.1,3.1 0 1,0 6.2,0a3.1,3.1 0 1,0 -6.2,0M343.3,1082.3a2.6,2.6 0 1,0 5.2,0a2.6,2.6 0 1,0 -5.2,0M315.5,895.0a1.5,1.5 0 1,0 3.1,0a1.5,1.5 0 1,0 -3.1,0M467.4,914.7a2.2,2.2 0 1,0 4.4,0a2.2,2.2 0 1,0 -4.4,0M395.0,894.9a1.9,1.9 0 1,0 3.8,0a1.9,1.9 0 1,0 -3.8,0M486.3,942.6a1.7,1.7 0 1,0 3.5,0a1.7,1.7 0 1,0 -3.5,0M380.3,921.0a1.4,1.4 0 1,0 2.8,0a1.4,1.4 0 1,0 -2.8,0M330.3,916.0a1.4,1.4 0 1,0 2.8,0a1.4,1.4 0 1,0 -2.8,0M327.9,1034.3a2.1,2.1 0 1,0 4.2,0a2.1,2.1 0 1,0 -4.2,0M427.4,960.1a1.8,1.8 0 1,0 3.6,0a1.8,1.8 0 1,0 -3.6,0M525.3,914.8a1.8,1.8 0 1,0 3.6,0a1.8,1.8 0 1,0 -3.6,0M512.5,955.2a1.5,1.5 0 1,0 3.1,0a1.5,1.5 0 1,0 -3.1,0M347.5,925.2a4.8,4.8 0 1,0 9.5,0a4.8,4.8 0 1,0 -9.5,0M506.6,954.6a1.4,1.4 0 1,0 2.9,0a1.4,1.4 0 1,0 -2.9,0M499.8,891.4a1.4,1.4 0 1,0 2.9,0a1.4,1.4 0 1,0 -2.9,0M482.9,914.0a2.0,2.0 0 1,0 4.0,0a2.0,2.0 0 1,0 -4.0,0M521.3,974.1a1.7,1.7 0 1,0 3.4,0a1.7,1.7 0 1,0 -3.4,0M513.9,1065.3a2.0,2.0 0 1,0 4.0,0a2.0,2.0 0 1,0 -4.0,0M561.5,914.4a1.4,1.4 0 1,0 2.8,0a1.4,1.4 0 1,0 -2.8,0M544.8,888.9a2.4,2.4 0 1,0 4.8,0a2.4,2.4 0 1,0 -4.8,0M428.7,999.3a3.1,3.1 0 1,0 6.2,0a3.1,3.1 0 1,0 -6.2,0M474.7,1027.2a1.7,1.7 0 1,0 3.4,0a1.7,1.7 0 1,0 -3.4,0M408.1,1040.3a1.8,1.8 0 1,0 3.6,0a1.8,1.8 0 1,0 -3.6,0M551.8,889.1a2.2,2.2 0 1,0 4.4,0a2.2,2.2 0 1,0 -4.4,0M475.6,1093.4a1.4,1.4 0 1,0 2.8,0a1.4,1.4 0 1,0 -2.8,0M495.7,1025.7a1.4,1.4 0 1,0 2.8,0a1.4,1.4 0 1,0 -2.8,0M331.7,885.2a1.9,1.9 0 1,0 3.9,0a1.9,1.9 0 1,0 -3.9,0M333.4,908.4a1.4,1.4 0 1,0 2.8,0a1.4,1.4 0 1,0 -2.8,0M400.2,1006.0a2.1,2.1 0 1,0 4.1,0a2.1,2.1 0 1,0 -4.1,0M507.3,941.0a2.3,2.3 0 1,0 4.5,0a2.3,2.3 0 1,0 -4.5,0M333.8,1093.2a4.6,4.6 0 1,0 9.3,0a4.6,4.6 0 1,0 -9.3,0M349.8,1022.8a1.6,1.6 0 1,0 3.2,0a1.6,1.6 0 1,0 -3.2,0M458.8,937.0a4.9,4.9 0 1,0 9.8,0a4.9,4.9 0 1,0 -9.8,0M508.1,911.3a1.4,1.4 0 1,0 2.9,0a1.4,1.4 0 1,0 -2.9,0M381.2,916.8a1.5,1.5 0 1,0 3.0,0a1.5,1.5 0 1,0 -3.0,0M429.8,883.1a3.2,3.2 0 1,0 6.5,0a3.2,3.2 0 1,0 -6.5,0M340.6,917.3a3.4,3.4 0 1,0 6.8,0a3.4,3.4 0 1,0 -6.8,0M391.0,1013.4a3.2,3.2 0 1,0 6.5,0a3.2,3.2 0 1,0 -6.5,0M381.1,1016.2a1.5,1.5 0 1,0 2.9,0a1.5,1.5 0 1,0 -2.9,0M434.5,981.7a2.0,2.0 0 1,0 4.0,0a2.0,2.0 0 1,0 -4.0,0M361.7,1095.5a1.5,1.5 0 1,0 3.1,0a1.5,1.5 0 1,0 -3.1,0M416.4,975.6a1.6,1.6 0 1,0 3.2,0a1.6,1.6 0 1,0 -3.2,0M399.6,962.1a4.5,4.5 0 1,0 9.0,0a4.5,4.5 0 1,0 -9.0,0M499.3,915.6a1.5,1.5 0 1,0 3.1,0a1.5,1.5 0 1,0 -3.1,0M326.4,1081.2a2.1,2.1 0 1,0 4.1,0a2.1,2.1 0 1,0 -4.1,0M332.5,986.2a2.2,2.2 0 1,0 4.4,0a2.2,2.2 0 1,0 -4.4,0M360.2,960.9a1.5,1.5 0 1,0 2.9,0a1.5,1.5 0 1,0 -2.9,0M453.8,912.5a1.5,1.5 0 1,0 2.9,0a1.5,1.5 0 1,0 -2.9,0M460.1,1058.7a3.1,3.1 0 1,0 6.2,0a3.1,3.1 0 1,0 -6.2,0M558.9,1099.5a1.4,1.4 0 1,0 2.8,0a1.4,1.4 0 1,0 -2.8,0M448.4,980.2a1.5,1.5 0 1,0 3.0,0a1.5,1.5 0 1,0 -3.0,0M371.4,882.8a2.9,2.9 0 1,0 5.9,0a2.9,2.9 0 1,0 -5.9,0M396.4,977.4a1.6,1.6 0 1,0 3.2,0a1.6,1.6 0 1,0 -3.2,0M378.6,1027.0a2.3,2.3 0 1,0 4.6,0a2.3,2.3 0 1,0 -4.6,0M405.8,941.9a2.4,2.4 0 1,0 4.9,0a2.4,2.4 0 1,0 -4.9,0M411.5,1008.2a2.2,2.2 0 1,0 4.4,0a2.2,2.2 0 1,0 -4.4,0M498.3,957.3a3.7,3.7 0 1,0 7.4,0a3.7,3.7 0 1,0 -7.4,0M521.4,961.1a1.6,1.6 0 1,0 3.2,0a1.6,1.6 0 1,0 -3.2,0M495.8,901.8a1.7,1.7 0 1,0 3.4,0a1.7,1.7 0 1,0 -3.4,0M384.8,938.8a2.4,2.4 0 1,0 4.8,0a2.4,2.4 0 1,0 -4.8,0M485.9,1026.2a2.1,2.1 0 1,0 4.2,0a2.1,2.1 0 1,0 -4.2,0M391.2,982.8a3.1,3.1 0 1,0 6.2,0a3.1,3.1 0 1,0 -6.2,0M524.5,956.8a4.5,4.5 0 1,0 9.1,0a4.5,4.5 0 1,0 -9.1,0M337.0,1043.0a2.4,2.4 0 1,0 4.8,0a2.4,2.4 0 1,0 -4.8,0M356.2,1022.0a1.4,1.4 0 1,0 2.8,0a1.4,1.4 0 1,0 -2.8,0M513.0,969.9a1.6,1.6 0 1,0 3.2,0a1.6,1.6 0 1,0 -3.2,0M499.6,1039.2a1.8,1.8 0 1,0 3.5,0a1.8,1.8 0 1,0 -3.5,0M509.9,889.1a2.5,2.5 0 1,0 5.1,0a2.5,2.5 0 1,0 -5.1,0M337.6,1029.8a2.5,2.5 0 1,0 4.9,0a2.5,2.5 0 1,0 -4.9,0M438.7,946.8a1.7,1.7 0 1,0 3.3,0a1.7,1.7 0 1,0 -3.3,0M524.3,966.6a3.3,3.3 0 1,0 6.6,0a3.3,3.3 0 1,0 -6.6,0" fill="#fffbfd" />
<path d="M399.4,913.8a1.2,1.2 0 1,0 2.4,0a1.2,1.2 0 1,0 -2.4,0M359.9,1077.5a1.9,1.9 0 1,0 3.7,0a1.9,1.9 0 1,0 -3.7,0M485.2,1082.2a1.5,1.5 0 1,0 2.9,0a1.5,1.5 0 1,0 -2.9,0M458.7,991.6a1.1,1.1 0 1,0 2.2,0a1.1,1.1 0 1,0 -2.2,0M548.8,1007.8a1.8,1.8 0 1,0 3.6,0a1.8,1.8 0 1,0 -3.6,0M498.9,905.5a1.7,1.7 0 1,0 3.3,0a1.7,1.7 0 1,0 -3.3,0M558.4,891.1a1.6,1.6 0 1,0 3.1,0a1.6,1.6 0 1,0 -3.1,0M448.1,927.9a1.7,1.7 0 1,0 3.3,0a1.7,1.7 0 1,0 -3.3,0M556.5,1087.4a1.2,1.2 0 1,0 2.3,0a1.2,1.2 0 1,0 -2.3,0M486.2,903.8a1.3,1.3 0 1,0 2.6,0a1.3,1.3 0 1,0 -2.6,0M525.8,1066.6a1.7,1.7 0 1,0 3.3,0a1.7,1.7 0 1,0 -3.3,0M449.7,943.5a1.8,1.8 0 1,0 3.6,0a1.8,1.8 0 1,0 -3.6,0M485.1,1077.9a1.7,1.7 0 1,0 3.4,0a1.7,1.7 0 1,0 -3.4,0M514.5,1003.0a1.8,1.8 0 1,0 3.5,0a1.8,1.8 0 1,0 -3.5,0M401.8,1095.5a1.8,1.8 0 1,0 3.6,0a1.8,1.8 0 1,0 -3.6,0M522.0,1008.2a1.3,1.3 0 1,0 2.5,0a1.3,1.3 0 1,0 -2.5,0M399.8,929.3a1.3,1.3 0 1,0 2.7,0a1.3,1.3 0 1,0 -2.7,0M361.6,952.7a1.2,1.2 0 1,0 2.4,0a1.2,1.2 0 1,0 -2.4,0M479.7,1026.9a1.1,1.1 0 1,0 2.3,0a1.1,1.1 0 1,0 -2.3,0M447.4,1007.9a1.3,1.3 0 1,0 2.5,0a1.3,1.3 0 1,0 -2.5,0M429.7,1050.8a1.5,1.5 0 1,0 2.9,0a1.5,1.5 0 1,0 -2.9,0M423.8,1092.1a1.5,1.5 0 1,0 2.9,0a1.5,1.5 0 1,0 -2.9,0M384.0,1101.2a1.6,1.6 0 1,0 3.2,0a1.6,1.6 0 1,0 -3.2,0M460.6,1093.1a1.1,1.1 0 1,0 2.2,0a1.1,1.1 0 1,0 -2.2,0M431.8,1055.5a1.2,1.2 0 1,0 2.5,0a1.2,1.2 0 1,0 -2.5,0M506.1,935.4a1.5,1.5 0 1,0 3.0,0a1.5,1.5 0 1,0 -3.0,0M385.7,976.7a1.6,1.6 0 1,0 3.2,0a1.6,1.6 0 1,0 -3.2,0M464.5,999.9a1.9,1.9 0 1,0 3.7,0a1.9,1.9 0 1,0 -3.7,0M479.3,1050.7a1.6,1.6 0 1,0 3.2,0a1.6,1.6 0 1,0 -3.2,0M536.5,1037.5a1.7,1.7 0 1,0 3.5,0a1.7,1.7 0 1,0 -3.5,0M395.6,957.5a1.2,1.2 0 1,0 2.5,0a1.2,1.2 0 1,0 -2.5,0M521.4,949.0a1.1,1.1 0 1,0 2.3,0a1.1,1.1 0 1,0 -2.3,0M389.2,1004.9a1.3,1.3 0 1,0 2.6,0a1.3,1.3 0 1,0 -2.6,0M535.5,944.4a1.2,1.2 0 1,0 2.4,0a1.2,1.2 0 1,0 -2.4,0M501.1,937.1a1.3,1.3 0 1,0 2.5,0a1.3,1.3 0 1,0 -2.5,0M343.4,939.9a1.2,1.2 0 1,0 2.4,0a1.2,1.2 0 1,0 -2.4,0M379.1,945.4a1.2,1.2 0 1,0 2.4,0a1.2,1.2 0 1,0 -2.4,0M322.6,1057.3a1.4,1.4 0 1,0 2.8,0a1.4,1.4 0 1,0 -2.8,0M489.1,969.3a1.4,1.4 0 1,0 2.9,0a1.4,1.4 0 1,0 -2.9,0M407.3,968.5a1.9,1.9 0 1,0 3.7,0a1.9,1.9 0 1,0 -3.7,0M532.6,975.4a1.5,1.5 0 1,0 2.9,0a1.5,1.5 0 1,0 -2.9,0M550.3,1004.7a1.8,1.8 0 1,0 3.5,0a1.8,1.8 0 1,0 -3.5,0M532.8,1058.7a1.3,1.3 0 1,0 2.7,0a1.3,1.3 0 1,0 -2.7,0M498.9,938.2a1.3,1.3 0 1,0 2.6,0a1.3,1.3 0 1,0 -2.6,0M391.6,956.0a1.3,1.3 0 1,0 2.5,0a1.3,1.3 0 1,0 -2.5,0M490.3,940.5a1.8,1.8 0 1,0 3.6,0a1.8,1.8 0 1,0 -3.6,0M463.4,1000.7a1.5,1.5 0 1,0 3.1,0a1.5,1.5 0 1,0 -3.1,0M346.0,906.5a1.8,1.8 0 1,0 3.5,0a1.8,1.8 0 1,0 -3.5,0M461.4,955.2a1.2,1.2 0 1,0 2.5,0a1.2,1.2 0 1,0 -2.5,0M523.2,917.3a1.2,1.2 0 1,0 2.4,0a1.2,1.2 0 1,0 -2.4,0M347.2,907.8a1.9,1.9 0 1,0 3.7,0a1.9,1.9 0 1,0 -3.7,0M467.7,1077.6a1.6,1.6 0 1,0 3.2,0a1.6,1.6 0 1,0 -3.2,0M442.6,1063.5a1.4,1.4 0 1,0 2.8,0a1.4,1.4 0 1,0 -2.8,0M355.8,896.2a1.7,1.7 0 1,0 3.4,0a1.7,1.7 0 1,0 -3.4,0M326.5,926.2a1.3,1.3 0 1,0 2.7,0a1.3,1.3 0 1,0 -2.7,0M448.0,922.8a1.8,1.8 0 1,0 3.5,0a1.8,1.8 0 1,0 -3.5,0M355.0,1006.9a1.8,1.8 0 1,0 3.6,0a1.8,1.8 0 1,0 -3.6,0M398.6,933.7a1.7,1.7 0 1,0 3.4,0a1.7,1.7 0 1,0 -3.4,0M523.4,928.1a1.9,1.9 0 1,0 3.8,0a1.9,1.9 0 1,0 -3.8,0M422.3,1065.5a1.4,1.4 0 1,0 2.8,0a1.4,1.4 0 1,0 -2.8,0M503.8,932.0a1.4,1.4 0 1,0 2.8,0a1.4,1.4 0 1,0 -2.8,0M484.6,901.9a1.4,1.4 0 1,0 2.7,0a1.4,1.4 0 1,0 -2.7,0M547.1,909.6a1.9,1.9 0 1,0 3.7,0a1.9,1.9 0 1,0 -3.7,0M406.3,885.9a1.7,1.7 0 1,0 3.3,0a1.7,1.7 0 1,0 -3.3,0M492.2,1063.2a1.3,1.3 0 1,0 2.6,0a1.3,1.3 0 1,0 -2.6,0M370.0,957.3a1.7,1.7 0 1,0 3.4,0a1.7,1.7 0 1,0 -3.4,0M436.3,937.6a1.4,1.4 0 1,0 2.8,0a1.4,1.4 0 1,0 -2.8,0M518.9,1007.2a1.8,1.8 0 1,0 3.6,0a1.8,1.8 0 1,0 -3.6,0M469.4,1023.1a1.6,1.6 0 1,0 3.2,0a1.6,1.6 0 1,0 -3.2,0M402.9,1078.8a1.2,1.2 0 1,0 2.3,0a1.2,1.2 0 1,0 -2.3,0M412.7,1019.8a1.2,1.2 0 1,0 2.3,0a1.2,1.2 0 1,0 -2.3,0M451.5,983.3a1.7,1.7 0 1,0 3.5,0a1.7,1.7 0 1,0 -3.5,0M505.9,907.9a1.2,1.2 0 1,0 2.4,0a1.2,1.2 0 1,0 -2.4,0M423.4,925.0a1.7,1.7 0 1,0 3.5,0a1.7,1.7 0 1,0 -3.5,0M451.5,959.6a1.4,1.4 0 1,0 2.7,0a1.4,1.4 0 1,0 -2.7,0M464.7,1090.5a1.6,1.6 0 1,0 3.2,0a1.6,1.6 0 1,0 -3.2,0M335.6,910.6a1.9,1.9 0 1,0 3.8,0a1.9,1.9 0 1,0 -3.8,0M466.6,1048.4a1.6,1.6 0 1,0 3.3,0a1.6,1.6 0 1,0 -3.3,0M411.9,931.9a1.8,1.8 0 1,0 3.6,0a1.8,1.8 0 1,0 -3.6,0M543.1,1001.3a1.9,1.9 0 1,0 3.8,0a1.9,1.9 0 1,0 -3.8,0M444.6,1076.2a1.6,1.6 0 1,0 3.2,0a1.6,1.6 0 1,0 -3.2,0M329.8,1061.0a1.5,1.5 0 1,0 3.0,0a1.5,1.5 0 1,0 -3.0,0M429.5,953.2a1.9,1.9 0 1,0 3.7,0a1.9,1.9 0 1,0 -3.7,0M554.8,1046.0a1.6,1.6 0 1,0 3.2,0a1.6,1.6 0 1,0 -3.2,0M348.2,990.8a1.4,1.4 0 1,0 2.8,0a1.4,1.4 0 1,0 -2.8,0M537.5,962.1a1.5,1.5 0 1,0 3.1,0a1.5,1.5 0 1,0 -3.1,0M392.2,940.1a1.2,1.2 0 1,0 2.4,0a1.2,1.2 0 1,0 -2.4,0M525.2,1050.8a1.7,1.7 0 1,0 3.5,0a1.7,1.7 0 1,0 -3.5,0M505.1,931.9a1.6,1.6 0 1,0 3.2,0a1.6,1.6 0 1,0 -3.2,0M368.4,898.4a1.2,1.2 0 1,0 2.4,0a1.2,1.2 0 1,0 -2.4,0M414.5,1040.1a1.8,1.8 0 1,0 3.6,0a1.8,1.8 0 1,0 -3.6,0M366.6,1065.0a1.5,1.5 0 1,0 3.1,0a1.5,1.5 0 1,0 -3.1,0M320.3,1092.2a1.8,1.8 0 1,0 3.6,0a1.8,1.8 0 1,0 -3.6,0M449.9,1046.6a1.2,1.2 0 1,0 2.4,0a1.2,1.2 0 1,0 -2.4,0M433.4,986.9a1.2,1.2 0 1,0 2.4,0a1.2,1.2 0 1,0 -2.4,0M445.7,917.8a1.5,1.5 0 1,0 3.0,0a1.5,1.5 0 1,0 -3.0,0M381.4,924.3a1.4,1.4 0 1,0 2.7,0a1.4,1.4 0 1,0 -2.7,0M336.6,1050.5a1.3,1.3 0 1,0 2.7,0a1.3,1.3 0 1,0 -2.7,0M518.2,921.1a1.2,1.2 0 1,0 2.4,0a1.2,1.2 0 1,0 -2.4,0M472.8,902.0a1.7,1.7 0 1,0 3.5,0a1.7,1.7 0 1,0 -3.5,0M498.6,950.8a1.7,1.7 0 1,0 3.4,0a1.7,1.7 0 1,0 -3.4,0M373.4,1086.6a1.4,1.4 0 1,0 2.8,0a1.4,1.4 0 1,0 -2.8,0M533.8,913.6a1.4,1.4 0 1,0 2.9,0a1.4,1.4 0 1,0 -2.9,0M493.4,1061.6a1.1,1.1 0 1,0 2.3,0a1.1,1.1 0 1,0 -2.3,0M361.8,965.3a1.8,1.8 0 1,0 3.7,0a1.8,1.8 0 1,0 -3.7,0M484.3,906.3a1.5,1.5 0 1,0 2.9,0a1.5,1.5 0 1,0 -2.9,0M506.5,929.2a1.1,1.1 0 1,0 2.3,0a1.1,1.1 0 1,0 -2.3,0M529.8,910.1a1.8,1.8 0 1,0 3.6,0a1.8,1.8 0 1,0 -3.6,0M501.0,946.5a1.3,1.3 0 1,0 2.6,0a1.3,1.3 0 1,0 -2.6,0M496.2,919.1a1.7,1.7 0 1,0 3.5,0a1.7,1.7 0 1,0 -3.5,0M396.4,1063.4a1.4,1.4 0 1,0 2.9,0a1.4,1.4 0 1,0 -2.9,0M490.2,899.0a1.7,1.7 0 1,0 3.4,0a1.7,1.7 0 1,0 -3.4,0M468.6,976.7a1.4,1.4 0 1,0 2.8,0a1.4,1.4 0 1,0 -2.8,0M556.2,1004.8a1.4,1.4 0 1,0 2.9,0a1.4,1.4 0 1,0 -2.9,0M493.4,1068.5a1.8,1.8 0 1,0 3.6,0a1.8,1.8 0 1,0 -3.6,0M512.8,897.6a1.8,1.8 0 1,0 3.5,0a1.8,1.8 0 1,0 -3.5,0M340.3,1051.9a1.4,1.4 0 1,0 2.9,0a1.4,1.4 0 1,0 -2.9,0M504.4,980.7a1.3,1.3 0 1,0 2.6,0a1.3,1.3 0 1,0 -2.6,0M493.7,999.6a1.5,1.5 0 1,0 3.1,0a1.5,1.5 0 1,0 -3.1,0M335.5,948.5a1.9,1.9 0 1,0 3.7,0a1.9,1.9 0 1,0 -3.7,0M351.9,889.4a1.8,1.8 0 1,0 3.6,0a1.8,1.8 0 1,0 -3.6,0M483.7,968.8a1.4,1.4 0 1,0 2.8,0a1.4,1.4 0 1,0 -2.8,0M365.0,1043.7a1.7,1.7 0 1,0 3.4,0a1.7,1.7 0 1,0 -3.4,0M545.5,980.8a1.6,1.6 0 1,0 3.2,0a1.6,1.6 0 1,0 -3.2,0M347.6,1074.9a1.1,1.1 0 1,0 2.2,0a1.1,1.1 0 1,0 -2.2,0M363.7,998.5a1.1,1.1 0 1,0 2.3,0a1.1,1.1 0 1,0 -2.3,0M404.7,1034.1a1.3,1.3 0 1,0 2.6,0a1.3,1.3 0 1,0 -2.6,0M407.9,982.9a1.8,1.8 0 1,0 3.5,0a1.8,1.8 0 1,0 -3.5,0M523.7,1070.4a1.6,1.6 0 1,0 3.2,0a1.6,1.6 0 1,0 -3.2,0M347.7,1026.1a1.7,1.7 0 1,0 3.3,0a1.7,1.7 0 1,0 -3.3,0M357.5,988.2a1.4,1.4 0 1,0 2.7,0a1.4,1.4 0 1,0 -2.7,0M378.3,937.9a1.2,1.2 0 1,0 2.4,0a1.2,1.2 0 1,0 -2.4,0M367.9,938.9a1.5,1.5 0 1,0 3.0,0a1.5,1.5 0 1,0 -3.0,0M320.3,990.6a1.7,1.7 0 1,0 3.4,0a1.7,1.7 0 1,0 -3.4,0M328.3,1073.5a1.6,1.6 0 1,0 3.2,0a1.6,1.6 0 1,0 -3.2,0M395.4,1094.2a1.3,1.3 0 1,0 2.6,0a1.3,1.3 0 1,0 -2.6,0M492.9,900.2a1.3,1.3 0 1,0 2.5,0a1.3,1.3 0 1,0 -2.5,0M373.1,902.2a1.8,1.8 0 1,0 3.6,0a1.8,1.8 0 1,0 -3.6,0M483.5,896.1a1.7,1.7 0 1,0 3.5,0a1.7,1.7 0 1,0 -3.5,0M326.8,1075.0a1.4,1.4 0 1,0 2.8,0a1.4,1.4 0 1,0 -2.8,0M367.2,921.0a1.1,1.1 0 1,0 2.2,0a1.1,1.1 0 1,0 -2.2,0M385.2,1005.1a1.4,1.4 0 1,0 2.7,0a1.4,1.4 0 1,0 -2.7,0M554.9,968.9a1.4,1.4 0 1,0 2.8,0a1.4,1.4 0 1,0 -2.8,0M376.4,957.4a1.1,1.1 0 1,0 2.2,0a1.1,1.1 0 1,0 -2.2,0M448.7,1036.9a1.8,1.8 0 1,0 3.6,0a1.8,1.8 0 1,0 -3.6,0M527.7,1084.3a1.3,1.3 0 1,0 2.7,0a1.3,1.3 0 1,0 -2.7,0M327.2,915.4a1.6,1.6 0 1,0 3.1,0a1.6,1.6 0 1,0 -3.1,0M334.0,999.0a1.5,1.5 0 1,0 3.0,0a1.5,1.5 0 1,0 -3.0,0M510.1,1099.5a1.5,1.5 0 1,0 3.1,0a1.5,1.5 0 1,0 -3.1,0M492.0,1069.9a1.8,1.8 0 1,0 3.7,0a1.8,1.8 0 1,0 -3.7,0M338.3,926.0a1.4,1.4 0 1,0 2.8,0a1.4,1.4 0 1,0 -2.8,0M431.9,915.5a1.3,1.3 0 1,0 2.5,0a1.3,1.3 0 1,0 -2.5,0M383.2,925.6a1.4,1.4 0 1,0 2.7,0a1.4,1.4 0 1,0 -2.7,0M383.9,929.0a1.2,1.2 0 1,0 2.4,0a1.2,1.2 0 1,0 -2.4,0M374.6,1038.2a1.9,1.9 0 1,0 3.7,0a1.9,1.9 0 1,0 -3.7,0M325.9,981.0a1.2,1.2 0 1,0 2.4,0a1.2,1.2 0 1,0 -2.4,0M469.1,952.9a1.7,1.7 0 1,0 3.5,0a1.7,1.7 0 1,0 -3.5,0M483.1,1074.2a1.6,1.6 0 1,0 3.3,0a1.6,1.6 0 1,0 -3.3,0M432.9,1055.8a1.2,1.2 0 1,0 2.4,0a1.2,1.2 0 1,0 -2.4,0M556.8,942.7a1.1,1.1 0 1,0 2.2,0a1.1,1.1 0 1,0 -2.2,0" fill="#4a2a6e" />
</g>
<rect x="321.4" y="885.5" width="239.2" height="216.7" fill="none" stroke="#8a8a8a" stroke-width="1.2" />
<clipPath id="clipwv"><rect x="74.4" y="1108.5" width="239.2" height="216.7"/></clipPath>
<g clip-path="url(#clipwv)">
<rect x="74.4" y="1108.5" width="239.2" height="216.7" fill="#fdfbfd" />
<path d="M299.7,1317.3L440.7,1296.6M55.2,1307.7L87.6,1334.6M221.9,1075.8L191.9,1108.3M191.9,1108.3L158.5,1089.1M76.1,1116.2L99.3,1107.6M68.8,1157.3L76.1,1116.2M68.8,1157.3L80.1,1167.5M99.3,1107.6L120.2,1122.7M80.1,1167.5L94.9,1167.6M94.9,1167.6L120.2,1122.7M158.5,1089.1L142.4,1116.0M142.4,1116.0L127.5,1123.4M120.2,1122.7L127.5,1123.4M80.1,1167.5L67.2,1199.7M299.7,1317.3L290.6,1308.6M440.7,1296.6L318.9,1266.3M318.9,1266.3L290.0,1292.6M290.6,1308.6L290.0,1292.6M274.5,1274.8L290.0,1292.6M277.6,1247.4L295.0,1238.2M277.6,1247.4L274.5,1274.8M318.9,1266.3L311.5,1245.7M311.5,1245.7L295.0,1238.2M142.4,1116.0L178.2,1138.8M191.9,1108.3L194.9,1125.2M194.9,1125.2L178.2,1138.8M127.5,1123.4L141.8,1161.2M94.9,1167.6L114.6,1184.0M114.6,1184.0L120.3,1183.8M120.3,1183.8L141.8,1161.2M178.2,1138.8L176.6,1157.8M176.6,1157.8L163.1,1166.2M141.8,1161.2L163.1,1166.2M211.1,1337.1L203.7,1325.4M211.1,1337.1L251.6,1329.2M203.7,1325.4L232.9,1297.4M232.9,1297.4L255.1,1320.9M251.6,1329.2L255.1,1320.9M154.4,1347.9L192.6,1320.8M192.6,1320.8L203.7,1325.4M239.4,1274.6L230.7,1284.5M230.7,1284.5L232.9,1297.4M274.5,1274.8L239.4,1274.6M290.6,1308.6L255.1,1320.9M55.2,1307.7L81.8,1274.3M81.8,1274.3L62.3,1248.0M67.2,1199.7L82.7,1222.1M62.3,1248.0L82.7,1222.1M114.6,1184.0L96.4,1221.4M96.4,1221.4L82.7,1222.1M239.4,1274.6L237.2,1244.4M277.6,1247.4L256.0,1234.0M237.2,1244.4L256.0,1234.0M295.0,1238.2L293.7,1216.7M293.7,1216.7L282.8,1208.2M282.8,1208.2L258.7,1213.8M256.0,1234.0L258.7,1213.8M309.1,1145.1L301.6,1114.0M309.1,1145.1L280.8,1153.7M280.8,1153.7L270.8,1127.9M270.8,1127.9L301.6,1114.0M221.9,1075.8L235.0,1102.7M194.9,1125.2L214.6,1131.4M235.0,1102.7L214.6,1131.4M294.1,1068.4L253.6,1111.5M235.0,1102.7L253.6,1111.5M306.2,1102.1L301.6,1114.0M270.8,1127.9L258.9,1123.5M294.1,1068.4L306.2,1102.1M253.6,1111.5L258.9,1123.5M318.4,1203.8L340.3,1218.0M318.4,1203.8L312.8,1180.5M328.2,1158.6L444.9,1139.1M328.2,1158.6L312.8,1180.5M311.5,1245.7L340.3,1218.0M293.7,1216.7L318.4,1203.8M282.8,1208.2L285.5,1181.5M285.5,1181.5L312.8,1180.5M306.2,1102.1L444.9,1139.1M309.1,1145.1L328.2,1158.6M280.8,1153.7L278.3,1158.3M285.5,1181.5L281.9,1178.3M278.3,1158.3L281.9,1178.3M252.3,1206.0L258.7,1213.8M252.3,1206.0L257.4,1185.1M281.9,1178.3L257.4,1185.1M192.6,1320.8L186.6,1302.4M230.7,1284.5L212.0,1280.1M186.6,1302.4L212.0,1280.1M227.0,1202.9L252.3,1206.0M227.0,1202.9L218.3,1209.5M237.2,1244.4L217.8,1234.4M218.3,1209.5L217.8,1234.4M212.0,1280.1L196.8,1260.1M196.8,1260.1L200.8,1243.3M217.8,1234.4L200.8,1243.3M220.9,1142.3L244.1,1144.3M220.9,1142.3L212.4,1165.6M227.9,1177.3L245.8,1171.9M227.9,1177.3L212.4,1165.6M245.8,1171.9L250.6,1157.8M244.1,1144.3L250.6,1157.8M258.9,1123.5L244.1,1144.3M214.6,1131.4L220.9,1142.3M176.6,1157.8L198.2,1170.4M198.2,1170.4L212.4,1165.6M257.4,1185.1L245.8,1171.9M227.0,1202.9L227.9,1177.3M194.4,1198.4L218.3,1209.5M198.2,1170.4L194.4,1198.4M278.3,1158.3L250.6,1157.8M137.6,1229.4L155.8,1240.7M137.6,1229.4L142.5,1203.8M155.8,1240.7L178.2,1227.9M142.5,1203.8L162.8,1196.2M178.2,1227.9L179.6,1205.9M162.8,1196.2L179.6,1205.9M96.4,1221.4L116.3,1236.5M120.3,1183.8L142.5,1203.8M116.3,1236.5L137.6,1229.4M163.1,1166.2L162.8,1196.2M200.8,1243.3L178.2,1227.9M194.4,1198.4L179.6,1205.9M132.2,1277.0L112.8,1264.3M132.2,1277.0L117.7,1317.5M112.8,1264.3L90.7,1275.5M90.7,1275.5L108.6,1318.4M108.6,1318.4L117.7,1317.5M116.3,1236.5L112.8,1264.3M81.8,1274.3L90.7,1275.5M87.6,1334.6L108.6,1318.4M154.4,1347.9L142.6,1328.2M142.6,1328.2L117.7,1317.5M157.9,1257.6L139.6,1276.7M157.9,1257.6L176.8,1267.8M176.8,1267.8L174.9,1295.2M139.6,1276.7L158.4,1298.3M158.4,1298.3L174.9,1295.2M155.8,1240.7L157.9,1257.6M132.2,1277.0L139.6,1276.7M196.8,1260.1L176.8,1267.8M186.6,1302.4L174.9,1295.2M142.6,1328.2L158.4,1298.3" stroke="#c58bc8" stroke-width="1.3" fill="none" stroke-linejoin="round"/>
<path d="M313.7,1178.4L311.9,1182.6M308.2,1144.0L310.1,1146.1M218.2,1207.6L218.5,1211.4M278.3,1156.7L278.4,1160.0M194.6,1259.7L198.9,1260.6M177.9,1205.7L181.3,1206.0M253.2,1110.1L254.0,1112.9M271.4,1125.9L270.1,1129.8M95.7,1219.7L97.1,1223.2M227.4,1200.7L226.7,1205.1M154.9,1239.5L156.8,1241.9M193.1,1198.2L195.7,1198.5M114.6,1235.9L118.0,1237.1M144.6,1115.6L140.1,1116.3M244.8,1170.7L246.7,1173.1M121.5,1120.8L118.9,1124.5M194.1,1123.8L195.7,1126.7M212.7,1130.5L216.6,1132.3M273.6,1272.8L275.3,1276.8M294.3,1236.2L295.8,1240.2M291.4,1307.4L289.9,1309.8M178.9,1267.6L174.7,1267.9M119.0,1182.4L121.6,1185.3M229.3,1175.5L226.5,1179.0M282.5,1206.7L283.1,1209.7M211.5,1164.3L213.4,1167.0M291.8,1291.2L288.2,1294.0M284.5,1180.1L286.4,1182.9M82.2,1273.0L81.4,1275.7M221.6,1140.8L220.2,1143.8M229.7,1282.5L231.6,1286.5M237.7,1242.9L236.7,1245.8M281.8,1176.4L282.0,1180.2M96.2,1167.4L93.6,1167.8M177.5,1137.1L179.0,1140.6M107.5,1316.9L109.7,1319.9M161.8,1165.4L164.3,1167.0M257.5,1232.5L254.4,1235.5M196.8,1168.9L199.6,1172.0M139.8,1160.5L143.8,1161.9" stroke="#5a2c78" stroke-width="2" stroke-linecap="round" fill="none"/>
</g>
<rect x="74.4" y="1108.5" width="239.2" height="216.7" fill="none" stroke="#8a8a8a" stroke-width="1.2" />
<clipPath id="clipwb"><rect x="321.4" y="1108.5" width="239.2" height="216.7"/></clipPath>
<g clip-path="url(#clipwb)">
<rect x="321.4" y="1108.5" width="239.2" height="216.7" fill="#fdfbfd" />
<path d="M559.9,1328.5L571.5,1313.1M568.8,1127.8L559.1,1108.2M394.4,1082.9L410.6,1107.4M440.4,1097.0L410.6,1107.4M415.6,1145.0L391.3,1137.5M390.9,1124.3L391.3,1137.5M390.9,1124.3L409.8,1110.9M415.6,1145.0L424.2,1134.9M424.2,1134.9L409.8,1110.9M313.2,1170.5L327.7,1178.1M284.0,1182.3L313.2,1170.5M284.0,1182.3L318.9,1205.0M318.9,1205.0L322.8,1204.0M322.8,1204.0L327.7,1178.1M559.9,1328.5L555.7,1327.2M542.1,1337.5L555.7,1327.2M491.3,1209.1L465.3,1208.4M496.4,1199.9L491.3,1209.1M477.8,1174.2L459.2,1196.3M477.8,1174.2L484.8,1176.2M484.8,1176.2L496.4,1199.9M459.2,1196.3L465.3,1208.4M563.4,1143.3L537.3,1155.7M563.4,1143.3L563.5,1134.7M563.5,1134.7L537.3,1129.2M537.3,1129.2L531.5,1148.6M531.5,1148.6L537.3,1155.7M458.0,1113.4L476.5,1145.1M458.0,1113.4L454.5,1113.2M454.5,1113.2L439.4,1133.9M439.4,1133.9L450.6,1156.8M450.6,1156.8L469.0,1157.7M469.0,1157.7L476.5,1145.1M410.6,1107.4L409.8,1110.9M440.4,1097.0L454.5,1113.2M424.2,1134.9L439.4,1133.9M437.4,1171.1L450.6,1156.8M432.7,1170.2L437.4,1171.1M432.7,1170.2L415.5,1152.3M415.5,1152.3L415.6,1145.0M477.8,1174.2L469.0,1157.7M437.4,1171.1L444.3,1191.9M459.2,1196.3L444.3,1191.9M318.9,1205.0L301.6,1230.0M313.2,1170.5L316.8,1144.1M312.9,1296.1L317.2,1302.8M308.0,1326.7L317.2,1302.8M308.0,1326.7L321.3,1338.1M355.0,1338.9L332.3,1331.8M321.3,1338.1L332.3,1331.8M463.7,1347.4L475.7,1332.7M475.7,1332.7L487.7,1332.4M497.2,1342.3L487.7,1332.4M318.5,1109.7L335.5,1075.1M394.4,1082.9L367.9,1110.6M335.5,1075.1L367.9,1110.6M390.9,1124.3L367.9,1110.9M367.9,1110.9L367.9,1110.6M327.7,1178.1L340.3,1174.6M316.8,1144.1L322.9,1138.7M340.3,1174.6L346.1,1159.7M346.1,1159.7L322.9,1138.7M367.9,1110.9L357.3,1126.0M318.5,1109.7L326.1,1126.0M357.3,1126.0L326.1,1126.0M322.9,1138.7L326.1,1126.0M357.3,1126.0L362.8,1142.5M391.3,1137.5L385.2,1144.6M385.2,1144.6L362.8,1142.5M346.1,1159.7L356.4,1155.5M362.8,1142.5L356.4,1155.5M432.7,1170.2L407.6,1183.8M415.5,1152.3L400.9,1165.4M407.6,1183.8L400.9,1165.4M385.2,1144.6L388.1,1161.5M400.9,1165.4L388.1,1161.5M356.4,1155.5L375.4,1172.7M388.1,1161.5L375.4,1172.7M340.3,1174.6L350.9,1186.2M375.4,1172.7L375.4,1172.7M375.4,1172.7L363.9,1185.6M363.9,1185.6L350.9,1186.2M569.0,1154.3L563.4,1143.3M568.8,1127.8L563.5,1134.7M568.4,1251.8L570.0,1241.3M576.6,1262.2L568.4,1251.8M569.0,1154.3L566.9,1161.2M538.0,1160.2L537.3,1155.7M538.0,1160.2L546.3,1167.1M566.9,1161.2L546.3,1167.1M574.8,1177.5L570.6,1174.5M566.9,1161.2L570.6,1174.5M579.6,1222.0L569.8,1231.2M579.6,1222.0L571.5,1211.6M569.8,1231.2L560.3,1223.3M560.3,1223.3L563.2,1213.7M563.2,1213.7L571.5,1211.6M570.0,1241.3L569.5,1240.4M569.5,1240.4L569.8,1231.2M537.3,1129.2L532.8,1120.5M559.1,1108.2L544.4,1102.2M532.8,1120.5L544.4,1102.2M544.4,1102.2L535.0,1069.2M458.0,1113.4L472.3,1106.7M472.3,1106.7L483.3,1085.8M535.0,1069.2L509.1,1104.6M483.3,1085.8L509.1,1104.6M509.4,1196.7L514.0,1174.1M509.4,1196.7L520.1,1201.8M520.1,1201.8L532.3,1186.2M532.3,1186.2L524.4,1174.9M524.4,1174.9L514.0,1174.1M484.8,1176.2L505.8,1166.6M496.4,1199.9L509.4,1196.7M505.8,1166.6L514.0,1174.1M505.8,1166.6L508.2,1148.7M508.2,1148.7L531.5,1148.6M538.0,1160.2L524.4,1174.9M563.2,1213.7L557.0,1207.9M555.8,1224.4L545.4,1215.9M545.4,1215.9L545.4,1210.8M555.8,1224.4L560.3,1223.3M557.0,1207.9L545.4,1210.8M465.3,1208.4L461.6,1220.4M461.6,1220.4L445.9,1228.0M444.3,1191.9L430.4,1203.4M430.4,1203.4L430.7,1220.9M430.7,1220.9L432.0,1222.7M432.0,1222.7L445.9,1228.0M421.9,1349.7L417.6,1338.1M421.9,1349.7L448.5,1332.3M417.6,1338.1L431.0,1322.1M431.0,1322.1L447.1,1327.8M448.5,1332.3L447.1,1327.8M463.7,1347.4L448.5,1332.3M431.0,1322.1L427.8,1311.7M403.2,1328.0L417.6,1338.1M403.2,1328.0L413.3,1308.0M427.8,1311.7L413.3,1308.0M404.4,1223.6L430.7,1220.9M432.0,1222.7L423.0,1243.6M404.4,1223.6L402.5,1233.2M402.5,1233.2L411.8,1244.4M423.0,1243.6L411.8,1244.4M359.2,1334.2L371.9,1332.0M355.0,1338.9L359.2,1334.2M371.9,1332.0L385.6,1342.6M403.2,1328.0L400.8,1328.2M385.6,1342.6L400.8,1328.2M332.3,1331.8L339.7,1312.9M359.2,1334.2L353.3,1314.7M353.3,1314.7L339.7,1312.9M317.2,1302.8L334.8,1304.9M334.8,1304.9L339.7,1312.9M307.7,1268.4L316.1,1282.9M307.7,1268.4L315.9,1257.9M315.9,1257.9L340.6,1265.7M316.1,1282.9L339.1,1277.9M339.1,1277.9L340.6,1265.7M312.9,1296.1L316.1,1282.9M315.5,1239.9L315.9,1257.9M301.6,1230.0L315.5,1239.9M345.3,1260.4L340.6,1265.7M332.5,1235.8L345.3,1260.4M315.5,1239.9L332.5,1235.8M334.8,1304.9L344.6,1287.0M344.6,1287.0L339.1,1277.9M453.9,1313.7L465.5,1309.4M453.9,1313.7L438.5,1301.4M465.5,1309.4L464.3,1295.5M464.3,1295.5L451.0,1288.3M451.0,1288.3L438.8,1295.1M438.8,1295.1L438.5,1301.4M475.7,1332.7L471.3,1312.8M447.1,1327.8L453.9,1313.7M471.3,1312.8L465.5,1309.4M427.8,1311.7L438.5,1301.4M497.2,1342.3L511.2,1334.5M520.4,1339.6L511.2,1334.5M487.7,1332.4L494.9,1323.0M494.9,1323.0L508.8,1325.6M511.2,1334.5L508.8,1325.6M568.4,1251.8L552.7,1257.3M552.7,1257.3L552.8,1269.7M576.6,1262.2L567.6,1275.3M552.8,1269.7L567.6,1275.3M567.6,1275.3L571.4,1288.7M571.5,1313.1L564.1,1301.1M564.1,1301.1L564.9,1296.3M571.4,1288.7L564.9,1296.3M524.4,1316.9L531.6,1329.0M524.4,1316.9L527.6,1307.8M527.6,1307.8L535.1,1302.6M535.1,1302.6L546.7,1310.3M546.7,1317.1L531.8,1329.1M546.7,1317.1L546.7,1310.3M531.8,1329.1L531.6,1329.0M520.4,1339.6L531.6,1329.0M512.7,1318.9L508.8,1325.6M512.7,1318.9L524.4,1316.9M542.1,1337.5L531.8,1329.1M555.7,1327.2L546.7,1317.1M564.1,1301.1L546.7,1310.3M400.0,1215.6L392.0,1213.1M400.0,1215.6L413.0,1197.1M392.0,1213.1L385.8,1198.0M413.0,1197.1L407.1,1185.5M407.1,1185.5L390.4,1189.4M385.8,1198.0L390.4,1189.4M430.4,1203.4L413.0,1197.1M404.4,1223.6L400.0,1215.6M379.2,1220.1L392.0,1213.1M379.2,1220.1L367.8,1206.5M367.8,1206.5L371.2,1199.4M371.2,1199.4L385.8,1198.0M407.6,1183.8L407.1,1185.5M375.4,1172.7L390.4,1189.4M371.2,1199.4L363.9,1185.6M322.8,1204.0L332.7,1208.7M332.5,1235.8L336.9,1230.8M336.9,1230.8L332.7,1208.7M350.9,1186.2L346.1,1203.5M367.8,1206.5L357.0,1210.9M357.0,1210.9L346.1,1203.5M332.7,1208.7L346.1,1203.5M360.8,1245.8L351.2,1230.4M360.8,1245.8L378.7,1237.2M376.3,1227.2L378.7,1237.2M376.3,1227.2L357.0,1223.5M357.0,1223.5L351.2,1230.4M357.3,1257.4L345.3,1260.4M336.9,1230.8L351.2,1230.4M357.3,1257.4L360.8,1245.8M402.5,1233.2L384.9,1241.3M384.9,1241.3L378.7,1237.2M379.2,1220.1L376.3,1227.2M357.0,1210.9L357.0,1223.5M546.5,1243.8L531.3,1237.9M546.5,1243.8L550.6,1238.3M550.6,1238.3L550.1,1233.8M550.1,1233.8L538.2,1225.2M531.3,1237.9L531.7,1227.0M531.7,1227.0L538.2,1225.2M546.9,1252.2L546.5,1243.8M552.7,1257.3L546.9,1252.2M569.5,1240.4L550.6,1238.3M555.8,1224.4L550.1,1233.8M545.4,1215.9L538.2,1225.2M521.7,1218.9L523.7,1208.3M521.7,1218.9L531.7,1227.0M545.4,1210.8L541.0,1206.2M523.7,1208.3L541.0,1206.2M548.0,1176.4L556.9,1181.7M548.0,1176.4L537.3,1187.0M556.9,1181.7L556.9,1193.0M556.9,1193.0L543.4,1195.3M537.3,1187.0L543.4,1195.3M570.6,1174.5L556.9,1181.7M546.3,1167.1L548.0,1176.4M532.3,1186.2L537.3,1187.0M541.0,1206.2L543.4,1195.3M560.0,1195.9L557.0,1207.9M560.0,1195.9L556.9,1193.0M523.7,1208.3L520.1,1201.8M585.3,1200.3L572.5,1190.0M585.3,1200.3L573.4,1206.5M573.4,1206.5L564.8,1196.0M572.5,1190.0L564.8,1196.0M574.8,1177.5L572.5,1190.0M571.5,1211.6L573.4,1206.5M560.0,1195.9L564.8,1196.0M518.9,1119.3L509.3,1110.6M518.9,1119.3L506.3,1146.1M509.3,1110.6L492.1,1119.4M492.1,1119.4L491.7,1139.7M491.7,1139.7L506.3,1146.1M532.8,1120.5L518.9,1119.3M509.1,1104.6L509.3,1110.6M508.2,1148.7L506.3,1146.1M472.3,1106.7L492.1,1119.4M476.5,1145.1L491.7,1139.7M410.1,1301.1L415.3,1289.8M410.1,1301.1L413.3,1308.0M438.8,1295.1L429.9,1287.0M415.3,1289.8L429.9,1287.0M392.2,1269.8L399.7,1258.2M392.2,1269.8L377.2,1262.6M399.7,1258.2L385.7,1246.9M377.2,1262.6L385.7,1246.9M394.2,1278.2L409.0,1278.9M394.2,1278.2L392.2,1269.8M406.6,1256.9L414.8,1267.1M406.6,1256.9L399.7,1258.2M409.0,1278.9L414.8,1267.1M406.6,1256.9L411.8,1244.4M384.9,1241.3L385.7,1246.9M368.4,1266.0L357.3,1257.4M368.4,1266.0L377.2,1262.6M353.3,1314.7L361.6,1308.2M344.6,1287.0L361.8,1290.0M361.6,1308.2L361.8,1290.0M371.9,1332.0L376.3,1315.1M361.6,1308.2L376.3,1315.1M400.8,1328.2L384.5,1311.2M384.5,1311.2L376.3,1315.1M512.7,1318.9L506.5,1308.2M527.6,1307.8L510.9,1299.5M510.9,1299.5L506.5,1308.2M494.9,1323.0L493.3,1311.2M506.5,1308.2L493.3,1311.2M471.3,1312.8L487.3,1306.6M487.3,1306.6L493.3,1311.2M447.0,1239.5L445.9,1228.0M461.6,1220.4L473.1,1236.0M447.0,1239.5L460.0,1250.3M460.0,1250.3L465.0,1250.3M473.1,1236.0L465.0,1250.3M432.1,1273.8L424.8,1266.2M432.1,1273.8L447.3,1269.5M424.8,1266.2L430.6,1251.5M447.3,1269.5L447.4,1262.1M447.4,1262.1L436.0,1251.3M436.0,1251.3L430.6,1251.5M409.0,1278.9L415.3,1289.8M429.9,1287.0L432.1,1273.8M414.8,1267.1L424.8,1266.2M452.2,1274.0L447.3,1269.5M451.0,1288.3L452.2,1274.0M423.0,1243.6L430.6,1251.5M460.0,1250.3L447.4,1262.1M447.0,1239.5L436.0,1251.3M368.9,1281.3L364.5,1288.2M368.9,1281.3L390.6,1282.9M364.5,1288.2L387.1,1303.6M390.6,1282.9L392.4,1298.9M392.4,1298.9L387.1,1303.6M368.4,1266.0L368.9,1281.3M361.8,1290.0L364.5,1288.2M394.2,1278.2L390.6,1282.9M384.5,1311.2L387.1,1303.6M410.1,1301.1L392.4,1298.9M491.3,1209.1L496.2,1222.1M473.1,1236.0L485.9,1236.0M485.9,1236.0L496.2,1222.1M521.7,1218.9L509.0,1226.1M509.0,1226.1L496.2,1222.1M452.2,1274.0L467.4,1271.7M465.0,1250.3L472.3,1261.6M467.4,1271.7L472.3,1261.6M464.3,1295.5L474.5,1285.2M467.4,1271.7L474.5,1285.2M493.5,1250.9L487.0,1261.1M485.9,1236.0L493.5,1250.9M472.3,1261.6L487.0,1261.1M487.3,1306.6L489.5,1291.9M510.9,1299.5L509.8,1293.7M509.8,1293.7L489.5,1291.9M487.0,1261.1L493.0,1273.8M474.5,1285.2L486.4,1286.5M493.0,1273.8L486.4,1286.5M489.5,1291.9L486.4,1286.5M509.8,1293.7L514.9,1285.6M493.0,1273.8L512.0,1273.7M512.0,1273.7L514.9,1285.6M535.1,1302.6L535.1,1290.2M514.9,1285.6L535.1,1290.2M564.9,1296.3L541.0,1283.8M535.1,1290.2L541.0,1283.8M552.8,1269.7L541.6,1278.2M541.6,1278.2L541.0,1283.8M513.3,1243.7L506.8,1250.9M513.3,1243.7L524.5,1244.8M506.8,1250.9L514.5,1269.5M524.5,1244.8L531.3,1258.2M514.5,1269.5L528.9,1265.1M531.3,1258.2L528.9,1265.1M509.0,1226.1L513.3,1243.7M493.5,1250.9L506.8,1250.9M531.3,1237.9L524.5,1244.8M512.0,1273.7L514.5,1269.5M546.9,1252.2L531.3,1258.2M541.6,1278.2L528.9,1265.1" stroke="#b565b0" stroke-width="1.8" fill="none" stroke-linejoin="round"/>
<path d="M460.4,1248.1L459.5,1252.6M470.6,1310.7L472.0,1314.9M533.7,1118.6L531.8,1122.3M544.7,1194.0L542.2,1196.6M384.3,1246.5L387.2,1247.4M511.4,1195.9L507.4,1197.6M542.6,1283.4L539.4,1284.2M553.6,1255.4L551.7,1259.1M494.4,1249.0L492.5,1252.8M557.0,1179.7L556.7,1183.6M352.0,1229.1L350.3,1231.7M417.5,1289.3L413.1,1290.3M427.7,1286.5L432.1,1287.5M486.7,1176.0L482.8,1176.5M430.6,1169.9L434.9,1170.5M375.1,1261.7L379.3,1263.4M400.7,1214.4L399.3,1216.8M545.1,1316.1L548.4,1318.0M512.4,1271.7L511.6,1275.7M342.1,1265.4L339.1,1266.1M526.7,1265.1L531.2,1265.1M483.8,1235.9L488.1,1236.1M543.5,1210.1L547.4,1211.6M414.7,1195.7L411.3,1198.5M524.8,1172.8L524.1,1177.1M436.9,1300.2L440.1,1302.5M387.0,1159.6L389.2,1163.4M329.1,1177.0L326.4,1179.3M507.0,1249.6L506.7,1252.2M369.3,1199.2L373.0,1199.6M353.2,1312.5L353.4,1316.9M409.4,1277.6L408.5,1280.3M513.6,1267.6L515.3,1271.3M509.4,1109.3L509.3,1111.9M459.9,1112.4L456.1,1114.5M413.1,1266.7L416.6,1267.6M363.8,1286.3L365.3,1290.2M466.6,1270.4L468.3,1272.9M465.4,1307.1L465.6,1311.6M491.9,1310.8L494.7,1311.6M538.8,1158.2L537.2,1162.3M454.6,1111.5L454.4,1114.9M424.9,1242.7L421.2,1244.5M374.2,1314.6L378.5,1315.5M449.7,1287.4L452.3,1289.2M347.6,1158.9L344.6,1160.6M477.7,1144.3L475.3,1146.0M346.7,1259.9L344.0,1261.0M383.6,1143.8L386.8,1145.4M545.4,1165.5L547.2,1168.7M548.9,1251.6L545.0,1252.8M338.1,1312.9L341.3,1313.0M524.7,1315.1L524.2,1318.7M386.9,1196.6L384.7,1199.4M494.7,1221.7L497.7,1222.5M324.2,1203.2L321.3,1204.8M507.5,1165.1L504.1,1168.2M387.8,1301.8L386.3,1305.5M385.5,1239.8L384.4,1242.8M551.8,1233.4L548.4,1234.3M493.2,1139.3L490.1,1140.1M409.5,1183.0L405.7,1184.7M379.8,1218.5L378.6,1221.8M507.1,1225.2L510.8,1227.0M490.5,1207.3L492.2,1210.9M471.1,1261.0L473.6,1262.1M550.9,1268.8L554.7,1270.6M324.2,1124.8L327.9,1127.1M399.0,1256.5L400.5,1260.0M406.2,1183.7L407.9,1187.2M555.2,1192.5L558.5,1193.5M364.3,1142.2L361.4,1142.8M538.1,1154.2L536.5,1157.1M534.4,1289.2L535.9,1291.3M529.1,1258.0L533.6,1258.3M334.5,1207.6L330.9,1209.8M463.4,1219.1L459.7,1221.7M337.4,1277.0L340.8,1278.8M391.2,1135.6L391.3,1139.4M515.3,1243.3L511.3,1244.1" stroke="#5a2c78" stroke-width="2" stroke-linecap="round" fill="none"/>
</g>
<rect x="321.4" y="1108.5" width="239.2" height="216.7" fill="none" stroke="#8a8a8a" stroke-width="1.2" />
<rect x="512.1" y="1284.1" width="31.2" height="7.4" fill="#1a1716" />
<text x="529.7" y="1276" font-size="13" text-anchor="middle" font-weight="bold" fill="#231f20" >50μm</text>
<text x="614" y="886.3" font-size="48" text-anchor="start" font-weight="bold" fill="#111" >k</text>
<line x1="704.8" y1="962.8" x2="704.8" y2="1251.5" stroke="#231f20" stroke-width="2.6" />
<line x1="695.3" y1="1251.5" x2="704.8" y2="1251.5" stroke="#231f20" stroke-width="2.6" />
<line x1="695.3" y1="1155.57" x2="704.8" y2="1155.57" stroke="#231f20" stroke-width="2.6" />
<line x1="695.3" y1="1059.63" x2="704.8" y2="1059.63" stroke="#231f20" stroke-width="2.6" />
<line x1="695.3" y1="963.69" x2="704.8" y2="963.69" stroke="#231f20" stroke-width="2.6" />
<text transform="translate(644.78 1259.16)" font-size="22.20" fill="#231f20" >1000</text>
<text transform="translate(644.78 1163.22)" font-size="22.20" fill="#231f20" >1500</text>
<text transform="translate(644.78 1067.29)" font-size="22.20" fill="#231f20" >2000</text>
<text transform="translate(644.78 971.35)" font-size="22.20" fill="#231f20" >2500</text>
<line x1="695.3" y1="1251.5" x2="1039.7" y2="1251.5" stroke="#231f20" stroke-width="2.6" />
<rect x="714.3" y="1241" width="156.3" height="10.5" fill="#fff" stroke="#231f20" stroke-width="1.6" />
<rect x="870.6" y="1240.3" width="161.8" height="11.2" fill="#231f20" />
<text transform="translate(757.07 1276.51) scale(1.059 1)" font-size="20.43" fill="#231f20" >Light</text>
<text transform="translate(930.7 1277.09)" font-size="21.22" fill="#231f20" >Dark</text>
<text transform="translate(619.7 1174.9) rotate(-90) scale(0.95 1)" font-size="24" fill="#231f20">VO<tspan font-size="14.5" dy="8">2</tspan><tspan dy="-8"> (ml/hr)</tspan></text>
<polyline points="713.7,1174.81 727.5,1153.23 741.3,1166.23 755.1,1170.91 768.9,1121.26 782.7,1149.85 796.5,1173.51 810.3,1146.73 824.1,1158.43 837.9,1148.03 851.7,1132.44 865.5,1092.92 879.3,1063.55 893.1,1102.54 906.9,1139.71 920.7,1103.84 934.5,1134.52 948.3,1121.52 962.1,1096.04 975.9,1099.94 989.7,1115.02 1003.5,1138.41 1017.3,1114.76 1031.1,1079.15" fill="none" stroke="#231f20" stroke-width="2.6" stroke-linejoin="miter" />
<line x1="713.7" y1="1161.81" x2="713.7" y2="1187.8" stroke="#231f20" stroke-width="2.2" />
<line x1="709.1" y1="1161.81" x2="718.3" y2="1161.81" stroke="#231f20" stroke-width="2.2" />
<line x1="709.1" y1="1187.8" x2="718.3" y2="1187.8" stroke="#231f20" stroke-width="2.2" />
<line x1="727.5" y1="1133.74" x2="727.5" y2="1172.73" stroke="#231f20" stroke-width="2.2" />
<line x1="722.9" y1="1133.74" x2="732.1" y2="1133.74" stroke="#231f20" stroke-width="2.2" />
<line x1="722.9" y1="1172.73" x2="732.1" y2="1172.73" stroke="#231f20" stroke-width="2.2" />
<line x1="741.3" y1="1148.03" x2="741.3" y2="1184.42" stroke="#231f20" stroke-width="2.2" />
<line x1="736.7" y1="1148.03" x2="745.9" y2="1148.03" stroke="#231f20" stroke-width="2.2" />
<line x1="736.7" y1="1184.42" x2="745.9" y2="1184.42" stroke="#231f20" stroke-width="2.2" />
<line x1="755.1" y1="1164.41" x2="755.1" y2="1177.41" stroke="#231f20" stroke-width="2.2" />
<line x1="750.5" y1="1164.41" x2="759.7" y2="1164.41" stroke="#231f20" stroke-width="2.2" />
<line x1="750.5" y1="1177.41" x2="759.7" y2="1177.41" stroke="#231f20" stroke-width="2.2" />
<line x1="768.9" y1="1097.86" x2="768.9" y2="1144.65" stroke="#231f20" stroke-width="2.2" />
<line x1="764.3" y1="1097.86" x2="773.5" y2="1097.86" stroke="#231f20" stroke-width="2.2" />
<line x1="764.3" y1="1144.65" x2="773.5" y2="1144.65" stroke="#231f20" stroke-width="2.2" />
<line x1="782.7" y1="1135.55" x2="782.7" y2="1164.15" stroke="#231f20" stroke-width="2.2" />
<line x1="778.1" y1="1135.55" x2="787.3" y2="1135.55" stroke="#231f20" stroke-width="2.2" />
<line x1="778.1" y1="1164.15" x2="787.3" y2="1164.15" stroke="#231f20" stroke-width="2.2" />
<line x1="796.5" y1="1160.51" x2="796.5" y2="1186.5" stroke="#231f20" stroke-width="2.2" />
<line x1="791.9" y1="1160.51" x2="801.1" y2="1160.51" stroke="#231f20" stroke-width="2.2" />
<line x1="791.9" y1="1186.5" x2="801.1" y2="1186.5" stroke="#231f20" stroke-width="2.2" />
<line x1="810.3" y1="1136.33" x2="810.3" y2="1157.13" stroke="#231f20" stroke-width="2.2" />
<line x1="805.7" y1="1136.33" x2="814.9" y2="1136.33" stroke="#231f20" stroke-width="2.2" />
<line x1="805.7" y1="1157.13" x2="814.9" y2="1157.13" stroke="#231f20" stroke-width="2.2" />
<line x1="824.1" y1="1145.43" x2="824.1" y2="1171.43" stroke="#231f20" stroke-width="2.2" />
<line x1="819.5" y1="1145.43" x2="828.7" y2="1145.43" stroke="#231f20" stroke-width="2.2" />
<line x1="819.5" y1="1171.43" x2="828.7" y2="1171.43" stroke="#231f20" stroke-width="2.2" />
<line x1="837.9" y1="1129.84" x2="837.9" y2="1166.23" stroke="#231f20" stroke-width="2.2" />
<line x1="833.3" y1="1129.84" x2="842.5" y2="1129.84" stroke="#231f20" stroke-width="2.2" />
<line x1="833.3" y1="1166.23" x2="842.5" y2="1166.23" stroke="#231f20" stroke-width="2.2" />
<line x1="851.7" y1="1115.54" x2="851.7" y2="1149.33" stroke="#231f20" stroke-width="2.2" />
<line x1="847.1" y1="1115.54" x2="856.3" y2="1115.54" stroke="#231f20" stroke-width="2.2" />
<line x1="847.1" y1="1149.33" x2="856.3" y2="1149.33" stroke="#231f20" stroke-width="2.2" />
<line x1="865.5" y1="1070.83" x2="865.5" y2="1115.02" stroke="#231f20" stroke-width="2.2" />
<line x1="860.9" y1="1070.83" x2="870.1" y2="1070.83" stroke="#231f20" stroke-width="2.2" />
<line x1="860.9" y1="1115.02" x2="870.1" y2="1115.02" stroke="#231f20" stroke-width="2.2" />
<line x1="879.3" y1="1049.25" x2="879.3" y2="1077.85" stroke="#231f20" stroke-width="2.2" />
<line x1="874.7" y1="1049.25" x2="883.9" y2="1049.25" stroke="#231f20" stroke-width="2.2" />
<line x1="874.7" y1="1077.85" x2="883.9" y2="1077.85" stroke="#231f20" stroke-width="2.2" />
<line x1="893.1" y1="1081.75" x2="893.1" y2="1123.34" stroke="#231f20" stroke-width="2.2" />
<line x1="888.5" y1="1081.75" x2="897.7" y2="1081.75" stroke="#231f20" stroke-width="2.2" />
<line x1="888.5" y1="1123.34" x2="897.7" y2="1123.34" stroke="#231f20" stroke-width="2.2" />
<line x1="906.9" y1="1122.82" x2="906.9" y2="1156.61" stroke="#231f20" stroke-width="2.2" />
<line x1="902.3" y1="1122.82" x2="911.5" y2="1122.82" stroke="#231f20" stroke-width="2.2" />
<line x1="902.3" y1="1156.61" x2="911.5" y2="1156.61" stroke="#231f20" stroke-width="2.2" />
<line x1="920.7" y1="1085.65" x2="920.7" y2="1122.04" stroke="#231f20" stroke-width="2.2" />
<line x1="916.1" y1="1085.65" x2="925.3" y2="1085.65" stroke="#231f20" stroke-width="2.2" />
<line x1="916.1" y1="1122.04" x2="925.3" y2="1122.04" stroke="#231f20" stroke-width="2.2" />
<line x1="934.5" y1="1117.62" x2="934.5" y2="1151.41" stroke="#231f20" stroke-width="2.2" />
<line x1="929.9" y1="1117.62" x2="939.1" y2="1117.62" stroke="#231f20" stroke-width="2.2" />
<line x1="929.9" y1="1151.41" x2="939.1" y2="1151.41" stroke="#231f20" stroke-width="2.2" />
<line x1="948.3" y1="1094.22" x2="948.3" y2="1148.81" stroke="#231f20" stroke-width="2.2" />
<line x1="943.7" y1="1094.22" x2="952.9" y2="1094.22" stroke="#231f20" stroke-width="2.2" />
<line x1="943.7" y1="1148.81" x2="952.9" y2="1148.81" stroke="#231f20" stroke-width="2.2" />
<line x1="962.1" y1="1070.05" x2="962.1" y2="1122.04" stroke="#231f20" stroke-width="2.2" />
<line x1="957.5" y1="1070.05" x2="966.7" y2="1070.05" stroke="#231f20" stroke-width="2.2" />
<line x1="957.5" y1="1122.04" x2="966.7" y2="1122.04" stroke="#231f20" stroke-width="2.2" />
<line x1="975.9" y1="1077.85" x2="975.9" y2="1122.04" stroke="#231f20" stroke-width="2.2" />
<line x1="971.3" y1="1077.85" x2="980.5" y2="1077.85" stroke="#231f20" stroke-width="2.2" />
<line x1="971.3" y1="1122.04" x2="980.5" y2="1122.04" stroke="#231f20" stroke-width="2.2" />
<line x1="989.7" y1="1096.82" x2="989.7" y2="1133.22" stroke="#231f20" stroke-width="2.2" />
<line x1="985.1" y1="1096.82" x2="994.3" y2="1096.82" stroke="#231f20" stroke-width="2.2" />
<line x1="985.1" y1="1133.22" x2="994.3" y2="1133.22" stroke="#231f20" stroke-width="2.2" />
<line x1="1003.5" y1="1112.42" x2="1003.5" y2="1164.41" stroke="#231f20" stroke-width="2.2" />
<line x1="998.9" y1="1112.42" x2="1008.1" y2="1112.42" stroke="#231f20" stroke-width="2.2" />
<line x1="998.9" y1="1164.41" x2="1008.1" y2="1164.41" stroke="#231f20" stroke-width="2.2" />
<line x1="1017.3" y1="1103.06" x2="1017.3" y2="1126.46" stroke="#231f20" stroke-width="2.2" />
<line x1="1012.7" y1="1103.06" x2="1021.9" y2="1103.06" stroke="#231f20" stroke-width="2.2" />
<line x1="1012.7" y1="1126.46" x2="1021.9" y2="1126.46" stroke="#231f20" stroke-width="2.2" />
<line x1="1031.1" y1="1063.55" x2="1031.1" y2="1094.74" stroke="#231f20" stroke-width="2.2" />
<line x1="1026.5" y1="1063.55" x2="1035.7" y2="1063.55" stroke="#231f20" stroke-width="2.2" />
<line x1="1026.5" y1="1094.74" x2="1035.7" y2="1094.74" stroke="#231f20" stroke-width="2.2" />
<circle cx="713.7" cy="1174.81" r="4.3" fill="#231f20"/>
<circle cx="727.5" cy="1153.23" r="4.3" fill="#231f20"/>
<circle cx="741.3" cy="1166.23" r="4.3" fill="#231f20"/>
<circle cx="755.1" cy="1170.91" r="4.3" fill="#231f20"/>
<circle cx="768.9" cy="1121.26" r="4.3" fill="#231f20"/>
<circle cx="782.7" cy="1149.85" r="4.3" fill="#231f20"/>
<circle cx="796.5" cy="1173.51" r="4.3" fill="#231f20"/>
<circle cx="810.3" cy="1146.73" r="4.3" fill="#231f20"/>
<circle cx="824.1" cy="1158.43" r="4.3" fill="#231f20"/>
<circle cx="837.9" cy="1148.03" r="4.3" fill="#231f20"/>
<circle cx="851.7" cy="1132.44" r="4.3" fill="#231f20"/>
<circle cx="865.5" cy="1092.92" r="4.3" fill="#231f20"/>
<circle cx="879.3" cy="1063.55" r="4.3" fill="#231f20"/>
<circle cx="893.1" cy="1102.54" r="4.3" fill="#231f20"/>
<circle cx="906.9" cy="1139.71" r="4.3" fill="#231f20"/>
<circle cx="920.7" cy="1103.84" r="4.3" fill="#231f20"/>
<circle cx="934.5" cy="1134.52" r="4.3" fill="#231f20"/>
<circle cx="948.3" cy="1121.52" r="4.3" fill="#231f20"/>
<circle cx="962.1" cy="1096.04" r="4.3" fill="#231f20"/>
<circle cx="975.9" cy="1099.94" r="4.3" fill="#231f20"/>
<circle cx="989.7" cy="1115.02" r="4.3" fill="#231f20"/>
<circle cx="1003.5" cy="1138.41" r="4.3" fill="#231f20"/>
<circle cx="1017.3" cy="1114.76" r="4.3" fill="#231f20"/>
<circle cx="1031.1" cy="1079.15" r="4.3" fill="#231f20"/>
<polyline points="713.7,1148.81 727.5,1117.62 741.3,1098.12 755.1,1118.14 768.9,1111.64 782.7,1086.95 796.5,1106.44 810.3,1115.54 824.1,1122.04 837.9,1083.05 851.7,1062.25 865.5,1029.24 879.3,1029.24 893.1,1012.34 906.9,1018.84 920.7,1070.83 934.5,1011.04 948.3,1078.63 962.1,1078.63 975.9,1041.46 989.7,1079.15 1003.5,1059.13 1017.3,1052.63 1031.1,1052.63" fill="none" stroke="#5b2a8b" stroke-width="2.6" stroke-linejoin="miter" />
<line x1="713.7" y1="1134.52" x2="713.7" y2="1163.11" stroke="#5b2a8b" stroke-width="2.2" />
<line x1="709.1" y1="1134.52" x2="718.3" y2="1134.52" stroke="#5b2a8b" stroke-width="2.2" />
<line x1="709.1" y1="1163.11" x2="718.3" y2="1163.11" stroke="#5b2a8b" stroke-width="2.2" />
<line x1="727.5" y1="1098.12" x2="727.5" y2="1137.11" stroke="#5b2a8b" stroke-width="2.2" />
<line x1="722.9" y1="1098.12" x2="732.1" y2="1098.12" stroke="#5b2a8b" stroke-width="2.2" />
<line x1="722.9" y1="1137.11" x2="732.1" y2="1137.11" stroke="#5b2a8b" stroke-width="2.2" />
<line x1="741.3" y1="1069.53" x2="741.3" y2="1126.72" stroke="#5b2a8b" stroke-width="2.2" />
<line x1="736.7" y1="1069.53" x2="745.9" y2="1069.53" stroke="#5b2a8b" stroke-width="2.2" />
<line x1="736.7" y1="1126.72" x2="745.9" y2="1126.72" stroke="#5b2a8b" stroke-width="2.2" />
<line x1="755.1" y1="1093.44" x2="755.1" y2="1142.83" stroke="#5b2a8b" stroke-width="2.2" />
<line x1="750.5" y1="1093.44" x2="759.7" y2="1093.44" stroke="#5b2a8b" stroke-width="2.2" />
<line x1="750.5" y1="1142.83" x2="759.7" y2="1142.83" stroke="#5b2a8b" stroke-width="2.2" />
<line x1="768.9" y1="1053.15" x2="768.9" y2="1170.13" stroke="#5b2a8b" stroke-width="2.2" />
<line x1="764.3" y1="1053.15" x2="773.5" y2="1053.15" stroke="#5b2a8b" stroke-width="2.2" />
<line x1="764.3" y1="1170.13" x2="773.5" y2="1170.13" stroke="#5b2a8b" stroke-width="2.2" />
<line x1="782.7" y1="1067.45" x2="782.7" y2="1106.44" stroke="#5b2a8b" stroke-width="2.2" />
<line x1="778.1" y1="1067.45" x2="787.3" y2="1067.45" stroke="#5b2a8b" stroke-width="2.2" />
<line x1="778.1" y1="1106.44" x2="787.3" y2="1106.44" stroke="#5b2a8b" stroke-width="2.2" />
<line x1="796.5" y1="1083.05" x2="796.5" y2="1129.84" stroke="#5b2a8b" stroke-width="2.2" />
<line x1="791.9" y1="1083.05" x2="801.1" y2="1083.05" stroke="#5b2a8b" stroke-width="2.2" />
<line x1="791.9" y1="1129.84" x2="801.1" y2="1129.84" stroke="#5b2a8b" stroke-width="2.2" />
<line x1="810.3" y1="1105.14" x2="810.3" y2="1125.94" stroke="#5b2a8b" stroke-width="2.2" />
<line x1="805.7" y1="1105.14" x2="814.9" y2="1105.14" stroke="#5b2a8b" stroke-width="2.2" />
<line x1="805.7" y1="1125.94" x2="814.9" y2="1125.94" stroke="#5b2a8b" stroke-width="2.2" />
<line x1="824.1" y1="1107.74" x2="824.1" y2="1136.33" stroke="#5b2a8b" stroke-width="2.2" />
<line x1="819.5" y1="1107.74" x2="828.7" y2="1107.74" stroke="#5b2a8b" stroke-width="2.2" />
<line x1="819.5" y1="1136.33" x2="828.7" y2="1136.33" stroke="#5b2a8b" stroke-width="2.2" />
<line x1="837.9" y1="1063.55" x2="837.9" y2="1102.54" stroke="#5b2a8b" stroke-width="2.2" />
<line x1="833.3" y1="1063.55" x2="842.5" y2="1063.55" stroke="#5b2a8b" stroke-width="2.2" />
<line x1="833.3" y1="1102.54" x2="842.5" y2="1102.54" stroke="#5b2a8b" stroke-width="2.2" />
<line x1="851.7" y1="1033.66" x2="851.7" y2="1090.84" stroke="#5b2a8b" stroke-width="2.2" />
<line x1="847.1" y1="1033.66" x2="856.3" y2="1033.66" stroke="#5b2a8b" stroke-width="2.2" />
<line x1="847.1" y1="1090.84" x2="856.3" y2="1090.84" stroke="#5b2a8b" stroke-width="2.2" />
<line x1="865.5" y1="1007.14" x2="865.5" y2="1051.33" stroke="#5b2a8b" stroke-width="2.2" />
<line x1="860.9" y1="1007.14" x2="870.1" y2="1007.14" stroke="#5b2a8b" stroke-width="2.2" />
<line x1="860.9" y1="1051.33" x2="870.1" y2="1051.33" stroke="#5b2a8b" stroke-width="2.2" />
<line x1="879.3" y1="995.45" x2="879.3" y2="1063.03" stroke="#5b2a8b" stroke-width="2.2" />
<line x1="874.7" y1="995.45" x2="883.9" y2="995.45" stroke="#5b2a8b" stroke-width="2.2" />
<line x1="874.7" y1="1063.03" x2="883.9" y2="1063.03" stroke="#5b2a8b" stroke-width="2.2" />
<line x1="893.1" y1="991.55" x2="893.1" y2="1033.14" stroke="#5b2a8b" stroke-width="2.2" />
<line x1="888.5" y1="991.55" x2="897.7" y2="991.55" stroke="#5b2a8b" stroke-width="2.2" />
<line x1="888.5" y1="1033.14" x2="897.7" y2="1033.14" stroke="#5b2a8b" stroke-width="2.2" />
<line x1="906.9" y1="972.05" x2="906.9" y2="1065.63" stroke="#5b2a8b" stroke-width="2.2" />
<line x1="902.3" y1="972.05" x2="911.5" y2="972.05" stroke="#5b2a8b" stroke-width="2.2" />
<line x1="902.3" y1="1065.63" x2="911.5" y2="1065.63" stroke="#5b2a8b" stroke-width="2.2" />
<line x1="920.7" y1="1043.54" x2="920.7" y2="1098.12" stroke="#5b2a8b" stroke-width="2.2" />
<line x1="916.1" y1="1043.54" x2="925.3" y2="1043.54" stroke="#5b2a8b" stroke-width="2.2" />
<line x1="916.1" y1="1098.12" x2="925.3" y2="1098.12" stroke="#5b2a8b" stroke-width="2.2" />
<line x1="934.5" y1="990.25" x2="934.5" y2="1031.84" stroke="#5b2a8b" stroke-width="2.2" />
<line x1="929.9" y1="990.25" x2="939.1" y2="990.25" stroke="#5b2a8b" stroke-width="2.2" />
<line x1="929.9" y1="1031.84" x2="939.1" y2="1031.84" stroke="#5b2a8b" stroke-width="2.2" />
<line x1="948.3" y1="1034.44" x2="948.3" y2="1122.82" stroke="#5b2a8b" stroke-width="2.2" />
<line x1="943.7" y1="1034.44" x2="952.9" y2="1034.44" stroke="#5b2a8b" stroke-width="2.2" />
<line x1="943.7" y1="1122.82" x2="952.9" y2="1122.82" stroke="#5b2a8b" stroke-width="2.2" />
<line x1="962.1" y1="1050.03" x2="962.1" y2="1107.22" stroke="#5b2a8b" stroke-width="2.2" />
<line x1="957.5" y1="1050.03" x2="966.7" y2="1050.03" stroke="#5b2a8b" stroke-width="2.2" />
<line x1="957.5" y1="1107.22" x2="966.7" y2="1107.22" stroke="#5b2a8b" stroke-width="2.2" />
<line x1="975.9" y1="1005.06" x2="975.9" y2="1077.85" stroke="#5b2a8b" stroke-width="2.2" />
<line x1="971.3" y1="1005.06" x2="980.5" y2="1005.06" stroke="#5b2a8b" stroke-width="2.2" />
<line x1="971.3" y1="1077.85" x2="980.5" y2="1077.85" stroke="#5b2a8b" stroke-width="2.2" />
<line x1="989.7" y1="1051.85" x2="989.7" y2="1106.44" stroke="#5b2a8b" stroke-width="2.2" />
<line x1="985.1" y1="1051.85" x2="994.3" y2="1051.85" stroke="#5b2a8b" stroke-width="2.2" />
<line x1="985.1" y1="1106.44" x2="994.3" y2="1106.44" stroke="#5b2a8b" stroke-width="2.2" />
<line x1="1003.5" y1="1038.34" x2="1003.5" y2="1079.93" stroke="#5b2a8b" stroke-width="2.2" />
<line x1="998.9" y1="1038.34" x2="1008.1" y2="1038.34" stroke="#5b2a8b" stroke-width="2.2" />
<line x1="998.9" y1="1079.93" x2="1008.1" y2="1079.93" stroke="#5b2a8b" stroke-width="2.2" />
<line x1="1017.3" y1="1027.94" x2="1017.3" y2="1077.33" stroke="#5b2a8b" stroke-width="2.2" />
<line x1="1012.7" y1="1027.94" x2="1021.9" y2="1027.94" stroke="#5b2a8b" stroke-width="2.2" />
<line x1="1012.7" y1="1077.33" x2="1021.9" y2="1077.33" stroke="#5b2a8b" stroke-width="2.2" />
<line x1="1031.1" y1="1018.84" x2="1031.1" y2="1086.43" stroke="#5b2a8b" stroke-width="2.2" />
<line x1="1026.5" y1="1018.84" x2="1035.7" y2="1018.84" stroke="#5b2a8b" stroke-width="2.2" />
<line x1="1026.5" y1="1086.43" x2="1035.7" y2="1086.43" stroke="#5b2a8b" stroke-width="2.2" />
<rect x="709.4" y="1144.51" width="8.6" height="8.6" fill="#5b2a8b" />
<rect x="723.2" y="1113.32" width="8.6" height="8.6" fill="#5b2a8b" />
<rect x="737" y="1093.82" width="8.6" height="8.6" fill="#5b2a8b" />
<rect x="750.8" y="1113.84" width="8.6" height="8.6" fill="#5b2a8b" />
<rect x="764.6" y="1107.34" width="8.6" height="8.6" fill="#5b2a8b" />
<rect x="778.4" y="1082.65" width="8.6" height="8.6" fill="#5b2a8b" />
<rect x="792.2" y="1102.14" width="8.6" height="8.6" fill="#5b2a8b" />
<rect x="806" y="1111.24" width="8.6" height="8.6" fill="#5b2a8b" />
<rect x="819.8" y="1117.74" width="8.6" height="8.6" fill="#5b2a8b" />
<rect x="833.6" y="1078.75" width="8.6" height="8.6" fill="#5b2a8b" />
<rect x="847.4" y="1057.95" width="8.6" height="8.6" fill="#5b2a8b" />
<rect x="861.2" y="1024.94" width="8.6" height="8.6" fill="#5b2a8b" />
<rect x="875" y="1024.94" width="8.6" height="8.6" fill="#5b2a8b" />
<rect x="888.8" y="1008.04" width="8.6" height="8.6" fill="#5b2a8b" />
<rect x="902.6" y="1014.54" width="8.6" height="8.6" fill="#5b2a8b" />
<rect x="916.4" y="1066.53" width="8.6" height="8.6" fill="#5b2a8b" />
<rect x="930.2" y="1006.74" width="8.6" height="8.6" fill="#5b2a8b" />
<rect x="944" y="1074.33" width="8.6" height="8.6" fill="#5b2a8b" />
<rect x="957.8" y="1074.33" width="8.6" height="8.6" fill="#5b2a8b" />
<rect x="971.6" y="1037.16" width="8.6" height="8.6" fill="#5b2a8b" />
<rect x="985.4" y="1074.85" width="8.6" height="8.6" fill="#5b2a8b" />
<rect x="999.2" y="1054.83" width="8.6" height="8.6" fill="#5b2a8b" />
<rect x="1013" y="1048.33" width="8.6" height="8.6" fill="#5b2a8b" />
<rect x="1026.8" y="1048.33" width="8.6" height="8.6" fill="#5b2a8b" />
<line x1="836" y1="1203.2" x2="858.6" y2="1203.2" stroke="#231f20" stroke-width="2.2" />
<circle cx="847.3" cy="1203.2" r="4" fill="#231f20"/>
<text transform="translate(866.01 1208.63)" font-size="17.01" fill="#231f20" >Vehicle</text>
<line x1="836" y1="1225.3" x2="858.6" y2="1225.3" stroke="#5b2a8b" stroke-width="2.2" />
<rect x="843.1" y="1221.8" width="7" height="7" fill="#5b2a8b" />
<text transform="translate(864.71 1230.33)" font-size="17.28" fill="#231f20" >Parvalbumin blocker</text>
<line x1="1050.1" y1="1020.7" x2="1050.1" y2="1106.4" stroke="#231f20" stroke-width="1.6" />
<text x="1052.5" y="1068.7" font-size="21" text-anchor="middle" transform="rotate(90 1052.5 1068.7)" fill="#231f20" >***</text>
<text x="1118" y="885.5" font-size="48" text-anchor="start" font-weight="bold" fill="#111" >l</text>
<line x1="1229.8" y1="953.2" x2="1229.8" y2="1251.5" stroke="#231f20" stroke-width="2.6" />
<line x1="1221" y1="1251.5" x2="1229.8" y2="1251.5" stroke="#231f20" stroke-width="2.6" />
<line x1="1221" y1="1201.87" x2="1229.8" y2="1201.87" stroke="#231f20" stroke-width="2.6" />
<line x1="1221" y1="1152.24" x2="1229.8" y2="1152.24" stroke="#231f20" stroke-width="2.6" />
<line x1="1221" y1="1102.61" x2="1229.8" y2="1102.61" stroke="#231f20" stroke-width="2.6" />
<line x1="1221" y1="1052.98" x2="1229.8" y2="1052.98" stroke="#231f20" stroke-width="2.6" />
<line x1="1221" y1="1003.35" x2="1229.8" y2="1003.35" stroke="#231f20" stroke-width="2.6" />
<line x1="1221" y1="953.72" x2="1229.8" y2="953.72" stroke="#231f20" stroke-width="2.6" />
<text transform="translate(1169.02 1257.52) scale(0.970 1)" font-size="21.80" fill="#231f20" >0.08</text>
<text transform="translate(1168.91 1207.89) scale(0.970 1)" font-size="21.80" fill="#231f20" >0.10</text>
<text transform="translate(1169.23 1158.26) scale(0.970 1)" font-size="21.80" fill="#231f20" >0.12</text>
<text transform="translate(1168.81 1108.63) scale(0.970 1)" font-size="21.80" fill="#231f20" >0.14</text>
<text transform="translate(1169.02 1059) scale(0.970 1)" font-size="21.80" fill="#231f20" >0.16</text>
<text transform="translate(1169.02 1009.37) scale(0.970 1)" font-size="21.80" fill="#231f20" >0.18</text>
<text transform="translate(1168.91 959.74) scale(0.970 1)" font-size="21.80" fill="#231f20" >0.20</text>
<line x1="1221" y1="1251.5" x2="1577.9" y2="1251.5" stroke="#231f20" stroke-width="2.6" />
<rect x="1240.5" y="1240.8" width="161.8" height="10.5" fill="#fff" stroke="#231f20" stroke-width="1.6" />
<rect x="1402.3" y="1240" width="166.6" height="11.5" fill="#231f20" />
<text transform="translate(1297.76 1276.51) scale(1.066 1)" font-size="20.43" fill="#231f20" >Light</text>
<text transform="translate(1464.39 1276.79) scale(1.029 1)" font-size="20.82" fill="#231f20" >Dark</text>
<text transform="translate(1126.53 1209.41) rotate(-90) scale(0.972 1)" font-size="24.60" fill="#231f20" >Energy expenditure</text>
<text transform="translate(1157.63 1136.84) rotate(-90) scale(0.973 1)" font-size="24.60" fill="#231f20" >(Kcal/h)</text>
<polyline points="1239.7,1146.19 1254.01,1148.27 1268.32,1159.46 1282.63,1167.26 1296.94,1137.87 1311.25,1123.04 1325.56,1157.9 1339.87,1141.77 1354.18,1150.87 1368.49,1137.87 1382.8,1117.84 1397.11,1077.25 1411.42,1058.52 1425.73,1058.52 1440.04,1120.44 1454.35,1080.63 1468.66,1109.77 1482.97,1114.45 1497.28,1075.43 1511.59,1091.82 1525.9,1081.94 1540.21,1149.05 1554.52,1072.83 1568.83,1075.43" fill="none" stroke="#231f20" stroke-width="2.6" stroke-linejoin="miter" />
<line x1="1239.7" y1="1121.48" x2="1239.7" y2="1170.91" stroke="#231f20" stroke-width="2.2" />
<line x1="1235.1" y1="1121.48" x2="1244.3" y2="1121.48" stroke="#231f20" stroke-width="2.2" />
<line x1="1235.1" y1="1170.91" x2="1244.3" y2="1170.91" stroke="#231f20" stroke-width="2.2" />
<line x1="1254.01" y1="1122.26" x2="1254.01" y2="1174.29" stroke="#231f20" stroke-width="2.2" />
<line x1="1249.41" y1="1122.26" x2="1258.61" y2="1122.26" stroke="#231f20" stroke-width="2.2" />
<line x1="1249.41" y1="1174.29" x2="1258.61" y2="1174.29" stroke="#231f20" stroke-width="2.2" />
<line x1="1268.32" y1="1142.55" x2="1268.32" y2="1176.37" stroke="#231f20" stroke-width="2.2" />
<line x1="1263.72" y1="1142.55" x2="1272.92" y2="1142.55" stroke="#231f20" stroke-width="2.2" />
<line x1="1263.72" y1="1176.37" x2="1272.92" y2="1176.37" stroke="#231f20" stroke-width="2.2" />
<line x1="1282.63" y1="1160.76" x2="1282.63" y2="1173.77" stroke="#231f20" stroke-width="2.2" />
<line x1="1278.03" y1="1160.76" x2="1287.23" y2="1160.76" stroke="#231f20" stroke-width="2.2" />
<line x1="1278.03" y1="1173.77" x2="1287.23" y2="1173.77" stroke="#231f20" stroke-width="2.2" />
<line x1="1296.94" y1="1126.16" x2="1296.94" y2="1149.57" stroke="#231f20" stroke-width="2.2" />
<line x1="1292.34" y1="1126.16" x2="1301.54" y2="1126.16" stroke="#231f20" stroke-width="2.2" />
<line x1="1292.34" y1="1149.57" x2="1301.54" y2="1149.57" stroke="#231f20" stroke-width="2.2" />
<line x1="1311.25" y1="1108.73" x2="1311.25" y2="1137.35" stroke="#231f20" stroke-width="2.2" />
<line x1="1306.65" y1="1108.73" x2="1315.85" y2="1108.73" stroke="#231f20" stroke-width="2.2" />
<line x1="1306.65" y1="1137.35" x2="1315.85" y2="1137.35" stroke="#231f20" stroke-width="2.2" />
<line x1="1325.56" y1="1143.59" x2="1325.56" y2="1172.21" stroke="#231f20" stroke-width="2.2" />
<line x1="1320.96" y1="1143.59" x2="1330.16" y2="1143.59" stroke="#231f20" stroke-width="2.2" />
<line x1="1320.96" y1="1172.21" x2="1330.16" y2="1172.21" stroke="#231f20" stroke-width="2.2" />
<line x1="1339.87" y1="1130.06" x2="1339.87" y2="1153.48" stroke="#231f20" stroke-width="2.2" />
<line x1="1335.27" y1="1130.06" x2="1344.47" y2="1130.06" stroke="#231f20" stroke-width="2.2" />
<line x1="1335.27" y1="1153.48" x2="1344.47" y2="1153.48" stroke="#231f20" stroke-width="2.2" />
<line x1="1354.18" y1="1143.07" x2="1354.18" y2="1158.68" stroke="#231f20" stroke-width="2.2" />
<line x1="1349.58" y1="1143.07" x2="1358.78" y2="1143.07" stroke="#231f20" stroke-width="2.2" />
<line x1="1349.58" y1="1158.68" x2="1358.78" y2="1158.68" stroke="#231f20" stroke-width="2.2" />
<line x1="1368.49" y1="1114.45" x2="1368.49" y2="1161.28" stroke="#231f20" stroke-width="2.2" />
<line x1="1363.89" y1="1114.45" x2="1373.09" y2="1114.45" stroke="#231f20" stroke-width="2.2" />
<line x1="1363.89" y1="1161.28" x2="1373.09" y2="1161.28" stroke="#231f20" stroke-width="2.2" />
<line x1="1382.8" y1="1099.63" x2="1382.8" y2="1136.05" stroke="#231f20" stroke-width="2.2" />
<line x1="1378.2" y1="1099.63" x2="1387.4" y2="1099.63" stroke="#231f20" stroke-width="2.2" />
<line x1="1378.2" y1="1136.05" x2="1387.4" y2="1136.05" stroke="#231f20" stroke-width="2.2" />
<line x1="1397.11" y1="1051.24" x2="1397.11" y2="1103.27" stroke="#231f20" stroke-width="2.2" />
<line x1="1392.51" y1="1051.24" x2="1401.71" y2="1051.24" stroke="#231f20" stroke-width="2.2" />
<line x1="1392.51" y1="1103.27" x2="1401.71" y2="1103.27" stroke="#231f20" stroke-width="2.2" />
<line x1="1411.42" y1="1035.11" x2="1411.42" y2="1081.94" stroke="#231f20" stroke-width="2.2" />
<line x1="1406.82" y1="1035.11" x2="1416.02" y2="1035.11" stroke="#231f20" stroke-width="2.2" />
<line x1="1406.82" y1="1081.94" x2="1416.02" y2="1081.94" stroke="#231f20" stroke-width="2.2" />
<line x1="1425.73" y1="1033.81" x2="1425.73" y2="1083.24" stroke="#231f20" stroke-width="2.2" />
<line x1="1421.13" y1="1033.81" x2="1430.33" y2="1033.81" stroke="#231f20" stroke-width="2.2" />
<line x1="1421.13" y1="1083.24" x2="1430.33" y2="1083.24" stroke="#231f20" stroke-width="2.2" />
<line x1="1440.04" y1="1103.53" x2="1440.04" y2="1137.35" stroke="#231f20" stroke-width="2.2" />
<line x1="1435.44" y1="1103.53" x2="1444.64" y2="1103.53" stroke="#231f20" stroke-width="2.2" />
<line x1="1435.44" y1="1137.35" x2="1444.64" y2="1137.35" stroke="#231f20" stroke-width="2.2" />
<line x1="1454.35" y1="1055.92" x2="1454.35" y2="1105.35" stroke="#231f20" stroke-width="2.2" />
<line x1="1449.75" y1="1055.92" x2="1458.95" y2="1055.92" stroke="#231f20" stroke-width="2.2" />
<line x1="1449.75" y1="1105.35" x2="1458.95" y2="1105.35" stroke="#231f20" stroke-width="2.2" />
<line x1="1468.66" y1="1100.67" x2="1468.66" y2="1118.88" stroke="#231f20" stroke-width="2.2" />
<line x1="1464.06" y1="1100.67" x2="1473.26" y2="1100.67" stroke="#231f20" stroke-width="2.2" />
<line x1="1464.06" y1="1118.88" x2="1473.26" y2="1118.88" stroke="#231f20" stroke-width="2.2" />
<line x1="1482.97" y1="1088.44" x2="1482.97" y2="1140.47" stroke="#231f20" stroke-width="2.2" />
<line x1="1478.37" y1="1088.44" x2="1487.57" y2="1088.44" stroke="#231f20" stroke-width="2.2" />
<line x1="1478.37" y1="1140.47" x2="1487.57" y2="1140.47" stroke="#231f20" stroke-width="2.2" />
<line x1="1497.28" y1="1065.03" x2="1497.28" y2="1085.84" stroke="#231f20" stroke-width="2.2" />
<line x1="1492.68" y1="1065.03" x2="1501.88" y2="1065.03" stroke="#231f20" stroke-width="2.2" />
<line x1="1492.68" y1="1085.84" x2="1501.88" y2="1085.84" stroke="#231f20" stroke-width="2.2" />
<line x1="1511.59" y1="1078.81" x2="1511.59" y2="1104.83" stroke="#231f20" stroke-width="2.2" />
<line x1="1506.99" y1="1078.81" x2="1516.19" y2="1078.81" stroke="#231f20" stroke-width="2.2" />
<line x1="1506.99" y1="1104.83" x2="1516.19" y2="1104.83" stroke="#231f20" stroke-width="2.2" />
<line x1="1525.9" y1="1063.73" x2="1525.9" y2="1100.15" stroke="#231f20" stroke-width="2.2" />
<line x1="1521.3" y1="1063.73" x2="1530.5" y2="1063.73" stroke="#231f20" stroke-width="2.2" />
<line x1="1521.3" y1="1100.15" x2="1530.5" y2="1100.15" stroke="#231f20" stroke-width="2.2" />
<line x1="1540.21" y1="1139.95" x2="1540.21" y2="1158.16" stroke="#231f20" stroke-width="2.2" />
<line x1="1535.61" y1="1139.95" x2="1544.81" y2="1139.95" stroke="#231f20" stroke-width="2.2" />
<line x1="1535.61" y1="1158.16" x2="1544.81" y2="1158.16" stroke="#231f20" stroke-width="2.2" />
<line x1="1554.52" y1="1057.22" x2="1554.52" y2="1088.44" stroke="#231f20" stroke-width="2.2" />
<line x1="1549.92" y1="1057.22" x2="1559.12" y2="1057.22" stroke="#231f20" stroke-width="2.2" />
<line x1="1549.92" y1="1088.44" x2="1559.12" y2="1088.44" stroke="#231f20" stroke-width="2.2" />
<line x1="1568.83" y1="1063.73" x2="1568.83" y2="1087.14" stroke="#231f20" stroke-width="2.2" />
<line x1="1564.23" y1="1063.73" x2="1573.43" y2="1063.73" stroke="#231f20" stroke-width="2.2" />
<line x1="1564.23" y1="1087.14" x2="1573.43" y2="1087.14" stroke="#231f20" stroke-width="2.2" />
<circle cx="1239.7" cy="1146.19" r="4.3" fill="#231f20"/>
<circle cx="1254.01" cy="1148.27" r="4.3" fill="#231f20"/>
<circle cx="1268.32" cy="1159.46" r="4.3" fill="#231f20"/>
<circle cx="1282.63" cy="1167.26" r="4.3" fill="#231f20"/>
<circle cx="1296.94" cy="1137.87" r="4.3" fill="#231f20"/>
<circle cx="1311.25" cy="1123.04" r="4.3" fill="#231f20"/>
<circle cx="1325.56" cy="1157.9" r="4.3" fill="#231f20"/>
<circle cx="1339.87" cy="1141.77" r="4.3" fill="#231f20"/>
<circle cx="1354.18" cy="1150.87" r="4.3" fill="#231f20"/>
<circle cx="1368.49" cy="1137.87" r="4.3" fill="#231f20"/>
<circle cx="1382.8" cy="1117.84" r="4.3" fill="#231f20"/>
<circle cx="1397.11" cy="1077.25" r="4.3" fill="#231f20"/>
<circle cx="1411.42" cy="1058.52" r="4.3" fill="#231f20"/>
<circle cx="1425.73" cy="1058.52" r="4.3" fill="#231f20"/>
<circle cx="1440.04" cy="1120.44" r="4.3" fill="#231f20"/>
<circle cx="1454.35" cy="1080.63" r="4.3" fill="#231f20"/>
<circle cx="1468.66" cy="1109.77" r="4.3" fill="#231f20"/>
<circle cx="1482.97" cy="1114.45" r="4.3" fill="#231f20"/>
<circle cx="1497.28" cy="1075.43" r="4.3" fill="#231f20"/>
<circle cx="1511.59" cy="1091.82" r="4.3" fill="#231f20"/>
<circle cx="1525.9" cy="1081.94" r="4.3" fill="#231f20"/>
<circle cx="1540.21" cy="1149.05" r="4.3" fill="#231f20"/>
<circle cx="1554.52" cy="1072.83" r="4.3" fill="#231f20"/>
<circle cx="1568.83" cy="1075.43" r="4.3" fill="#231f20"/>
<polyline points="1239.7,1084.02 1254.01,1173.51 1268.32,1122.26 1282.63,1131.88 1296.94,1117.58 1311.25,1133.96 1325.56,1110.55 1339.87,1124.08 1354.18,1142.55 1368.49,1139.17 1382.8,1099.37 1397.11,1059.3 1411.42,1058.52 1425.73,1037.71 1440.04,1030.43 1454.35,1022.88 1468.66,1057.22 1482.97,1048.12 1497.28,1087.14 1511.59,1080.63 1525.9,1067.11 1540.21,1085.06 1554.52,1063.2 1568.83,1044.99" fill="none" stroke="#5b2a8b" stroke-width="2.6" stroke-linejoin="miter" />
<line x1="1239.7" y1="1037.19" x2="1239.7" y2="1130.84" stroke="#5b2a8b" stroke-width="2.2" />
<line x1="1235.1" y1="1037.19" x2="1244.3" y2="1037.19" stroke="#5b2a8b" stroke-width="2.2" />
<line x1="1235.1" y1="1130.84" x2="1244.3" y2="1130.84" stroke="#5b2a8b" stroke-width="2.2" />
<line x1="1254.01" y1="1161.8" x2="1254.01" y2="1185.21" stroke="#5b2a8b" stroke-width="2.2" />
<line x1="1249.41" y1="1161.8" x2="1258.61" y2="1161.8" stroke="#5b2a8b" stroke-width="2.2" />
<line x1="1249.41" y1="1185.21" x2="1258.61" y2="1185.21" stroke="#5b2a8b" stroke-width="2.2" />
<line x1="1268.32" y1="1096.24" x2="1268.32" y2="1148.27" stroke="#5b2a8b" stroke-width="2.2" />
<line x1="1263.72" y1="1096.24" x2="1272.92" y2="1096.24" stroke="#5b2a8b" stroke-width="2.2" />
<line x1="1263.72" y1="1148.27" x2="1272.92" y2="1148.27" stroke="#5b2a8b" stroke-width="2.2" />
<line x1="1282.63" y1="1107.17" x2="1282.63" y2="1156.6" stroke="#5b2a8b" stroke-width="2.2" />
<line x1="1278.03" y1="1107.17" x2="1287.23" y2="1107.17" stroke="#5b2a8b" stroke-width="2.2" />
<line x1="1278.03" y1="1156.6" x2="1287.23" y2="1156.6" stroke="#5b2a8b" stroke-width="2.2" />
<line x1="1296.94" y1="1094.16" x2="1296.94" y2="1140.99" stroke="#5b2a8b" stroke-width="2.2" />
<line x1="1292.34" y1="1094.16" x2="1301.54" y2="1094.16" stroke="#5b2a8b" stroke-width="2.2" />
<line x1="1292.34" y1="1140.99" x2="1301.54" y2="1140.99" stroke="#5b2a8b" stroke-width="2.2" />
<line x1="1311.25" y1="1081.94" x2="1311.25" y2="1185.99" stroke="#5b2a8b" stroke-width="2.2" />
<line x1="1306.65" y1="1081.94" x2="1315.85" y2="1081.94" stroke="#5b2a8b" stroke-width="2.2" />
<line x1="1306.65" y1="1185.99" x2="1315.85" y2="1185.99" stroke="#5b2a8b" stroke-width="2.2" />
<line x1="1325.56" y1="1085.84" x2="1325.56" y2="1135.27" stroke="#5b2a8b" stroke-width="2.2" />
<line x1="1320.96" y1="1085.84" x2="1330.16" y2="1085.84" stroke="#5b2a8b" stroke-width="2.2" />
<line x1="1320.96" y1="1135.27" x2="1330.16" y2="1135.27" stroke="#5b2a8b" stroke-width="2.2" />
<line x1="1339.87" y1="1109.77" x2="1339.87" y2="1138.39" stroke="#5b2a8b" stroke-width="2.2" />
<line x1="1335.27" y1="1109.77" x2="1344.47" y2="1109.77" stroke="#5b2a8b" stroke-width="2.2" />
<line x1="1335.27" y1="1138.39" x2="1344.47" y2="1138.39" stroke="#5b2a8b" stroke-width="2.2" />
<line x1="1354.18" y1="1133.44" x2="1354.18" y2="1151.65" stroke="#5b2a8b" stroke-width="2.2" />
<line x1="1349.58" y1="1133.44" x2="1358.78" y2="1133.44" stroke="#5b2a8b" stroke-width="2.2" />
<line x1="1349.58" y1="1151.65" x2="1358.78" y2="1151.65" stroke="#5b2a8b" stroke-width="2.2" />
<line x1="1368.49" y1="1117.06" x2="1368.49" y2="1161.28" stroke="#5b2a8b" stroke-width="2.2" />
<line x1="1363.89" y1="1117.06" x2="1373.09" y2="1117.06" stroke="#5b2a8b" stroke-width="2.2" />
<line x1="1363.89" y1="1161.28" x2="1373.09" y2="1161.28" stroke="#5b2a8b" stroke-width="2.2" />
<line x1="1382.8" y1="1074.65" x2="1382.8" y2="1124.08" stroke="#5b2a8b" stroke-width="2.2" />
<line x1="1378.2" y1="1074.65" x2="1387.4" y2="1074.65" stroke="#5b2a8b" stroke-width="2.2" />
<line x1="1378.2" y1="1124.08" x2="1387.4" y2="1124.08" stroke="#5b2a8b" stroke-width="2.2" />
<line x1="1397.11" y1="1038.49" x2="1397.11" y2="1080.11" stroke="#5b2a8b" stroke-width="2.2" />
<line x1="1392.51" y1="1038.49" x2="1401.71" y2="1038.49" stroke="#5b2a8b" stroke-width="2.2" />
<line x1="1392.51" y1="1080.11" x2="1401.71" y2="1080.11" stroke="#5b2a8b" stroke-width="2.2" />
<line x1="1411.42" y1="1035.11" x2="1411.42" y2="1081.94" stroke="#5b2a8b" stroke-width="2.2" />
<line x1="1406.82" y1="1035.11" x2="1416.02" y2="1035.11" stroke="#5b2a8b" stroke-width="2.2" />
<line x1="1406.82" y1="1081.94" x2="1416.02" y2="1081.94" stroke="#5b2a8b" stroke-width="2.2" />
<line x1="1425.73" y1="1014.3" x2="1425.73" y2="1061.12" stroke="#5b2a8b" stroke-width="2.2" />
<line x1="1421.13" y1="1014.3" x2="1430.33" y2="1014.3" stroke="#5b2a8b" stroke-width="2.2" />
<line x1="1421.13" y1="1061.12" x2="1430.33" y2="1061.12" stroke="#5b2a8b" stroke-width="2.2" />
<line x1="1440.04" y1="1001.81" x2="1440.04" y2="1059.04" stroke="#5b2a8b" stroke-width="2.2" />
<line x1="1435.44" y1="1001.81" x2="1444.64" y2="1001.81" stroke="#5b2a8b" stroke-width="2.2" />
<line x1="1435.44" y1="1059.04" x2="1444.64" y2="1059.04" stroke="#5b2a8b" stroke-width="2.2" />
<line x1="1454.35" y1="978.66" x2="1454.35" y2="1067.11" stroke="#5b2a8b" stroke-width="2.2" />
<line x1="1449.75" y1="978.66" x2="1458.95" y2="978.66" stroke="#5b2a8b" stroke-width="2.2" />
<line x1="1449.75" y1="1067.11" x2="1458.95" y2="1067.11" stroke="#5b2a8b" stroke-width="2.2" />
<line x1="1468.66" y1="1018.2" x2="1468.66" y2="1096.24" stroke="#5b2a8b" stroke-width="2.2" />
<line x1="1464.06" y1="1018.2" x2="1473.26" y2="1018.2" stroke="#5b2a8b" stroke-width="2.2" />
<line x1="1464.06" y1="1096.24" x2="1473.26" y2="1096.24" stroke="#5b2a8b" stroke-width="2.2" />
<line x1="1482.97" y1="1024.7" x2="1482.97" y2="1071.53" stroke="#5b2a8b" stroke-width="2.2" />
<line x1="1478.37" y1="1024.7" x2="1487.57" y2="1024.7" stroke="#5b2a8b" stroke-width="2.2" />
<line x1="1478.37" y1="1071.53" x2="1487.57" y2="1071.53" stroke="#5b2a8b" stroke-width="2.2" />
<line x1="1497.28" y1="1062.42" x2="1497.28" y2="1111.85" stroke="#5b2a8b" stroke-width="2.2" />
<line x1="1492.68" y1="1062.42" x2="1501.88" y2="1062.42" stroke="#5b2a8b" stroke-width="2.2" />
<line x1="1492.68" y1="1111.85" x2="1501.88" y2="1111.85" stroke="#5b2a8b" stroke-width="2.2" />
<line x1="1511.59" y1="1059.82" x2="1511.59" y2="1101.45" stroke="#5b2a8b" stroke-width="2.2" />
<line x1="1506.99" y1="1059.82" x2="1516.19" y2="1059.82" stroke="#5b2a8b" stroke-width="2.2" />
<line x1="1506.99" y1="1101.45" x2="1516.19" y2="1101.45" stroke="#5b2a8b" stroke-width="2.2" />
<line x1="1525.9" y1="1025.48" x2="1525.9" y2="1108.73" stroke="#5b2a8b" stroke-width="2.2" />
<line x1="1521.3" y1="1025.48" x2="1530.5" y2="1025.48" stroke="#5b2a8b" stroke-width="2.2" />
<line x1="1521.3" y1="1108.73" x2="1530.5" y2="1108.73" stroke="#5b2a8b" stroke-width="2.2" />
<line x1="1540.21" y1="1059.04" x2="1540.21" y2="1111.07" stroke="#5b2a8b" stroke-width="2.2" />
<line x1="1535.61" y1="1059.04" x2="1544.81" y2="1059.04" stroke="#5b2a8b" stroke-width="2.2" />
<line x1="1535.61" y1="1111.07" x2="1544.81" y2="1111.07" stroke="#5b2a8b" stroke-width="2.2" />
<line x1="1554.52" y1="1039.79" x2="1554.52" y2="1086.62" stroke="#5b2a8b" stroke-width="2.2" />
<line x1="1549.92" y1="1039.79" x2="1559.12" y2="1039.79" stroke="#5b2a8b" stroke-width="2.2" />
<line x1="1549.92" y1="1086.62" x2="1559.12" y2="1086.62" stroke="#5b2a8b" stroke-width="2.2" />
<line x1="1568.83" y1="1012.48" x2="1568.83" y2="1077.51" stroke="#5b2a8b" stroke-width="2.2" />
<line x1="1564.23" y1="1012.48" x2="1573.43" y2="1012.48" stroke="#5b2a8b" stroke-width="2.2" />
<line x1="1564.23" y1="1077.51" x2="1573.43" y2="1077.51" stroke="#5b2a8b" stroke-width="2.2" />
<rect x="1235.4" y="1079.72" width="8.6" height="8.6" fill="#5b2a8b" />
<rect x="1249.71" y="1169.21" width="8.6" height="8.6" fill="#5b2a8b" />
<rect x="1264.02" y="1117.96" width="8.6" height="8.6" fill="#5b2a8b" />
<rect x="1278.33" y="1127.58" width="8.6" height="8.6" fill="#5b2a8b" />
<rect x="1292.64" y="1113.28" width="8.6" height="8.6" fill="#5b2a8b" />
<rect x="1306.95" y="1129.66" width="8.6" height="8.6" fill="#5b2a8b" />
<rect x="1321.26" y="1106.25" width="8.6" height="8.6" fill="#5b2a8b" />
<rect x="1335.57" y="1119.78" width="8.6" height="8.6" fill="#5b2a8b" />
<rect x="1349.88" y="1138.25" width="8.6" height="8.6" fill="#5b2a8b" />
<rect x="1364.19" y="1134.87" width="8.6" height="8.6" fill="#5b2a8b" />
<rect x="1378.5" y="1095.07" width="8.6" height="8.6" fill="#5b2a8b" />
<rect x="1392.81" y="1055" width="8.6" height="8.6" fill="#5b2a8b" />
<rect x="1407.12" y="1054.22" width="8.6" height="8.6" fill="#5b2a8b" />
<rect x="1421.43" y="1033.41" width="8.6" height="8.6" fill="#5b2a8b" />
<rect x="1435.74" y="1026.13" width="8.6" height="8.6" fill="#5b2a8b" />
<rect x="1450.05" y="1018.58" width="8.6" height="8.6" fill="#5b2a8b" />
<rect x="1464.36" y="1052.92" width="8.6" height="8.6" fill="#5b2a8b" />
<rect x="1478.67" y="1043.82" width="8.6" height="8.6" fill="#5b2a8b" />
<rect x="1492.98" y="1082.84" width="8.6" height="8.6" fill="#5b2a8b" />
<rect x="1507.29" y="1076.33" width="8.6" height="8.6" fill="#5b2a8b" />
<rect x="1521.6" y="1062.81" width="8.6" height="8.6" fill="#5b2a8b" />
<rect x="1535.91" y="1080.76" width="8.6" height="8.6" fill="#5b2a8b" />
<rect x="1550.22" y="1058.9" width="8.6" height="8.6" fill="#5b2a8b" />
<rect x="1564.53" y="1040.69" width="8.6" height="8.6" fill="#5b2a8b" />
<line x1="1364.8" y1="1203.2" x2="1387.3" y2="1203.2" stroke="#231f20" stroke-width="2.2" />
<circle cx="1376.1" cy="1203.2" r="4" fill="#231f20"/>
<text transform="translate(1394.71 1208.63) scale(1.009 1)" font-size="17.01" fill="#231f20" >Vehicle</text>
<line x1="1364.8" y1="1225.6" x2="1387.3" y2="1225.6" stroke="#5b2a8b" stroke-width="2.2" />
<rect x="1372.6" y="1222.1" width="7" height="7" fill="#5b2a8b" />
<text transform="translate(1393.41 1230.63) scale(1.012 1)" font-size="17.14" fill="#231f20" >Parvalbumin blocker</text>
<line x1="1587.2" y1="1018.2" x2="1587.2" y2="1103.3" stroke="#231f20" stroke-width="1.6" />
<text x="1588" y="1062.4" font-size="21" text-anchor="middle" transform="rotate(90 1588 1062.4)" fill="#231f20" >***</text>
<text x="1628" y="886.3" font-size="48" text-anchor="start" font-weight="bold" fill="#111" >m</text>
<line x1="1748.9" y1="935.4" x2="1748.9" y2="1209.6" stroke="#231f20" stroke-width="2" />
<line x1="1735.4" y1="1209.6" x2="1748.9" y2="1209.6" stroke="#231f20" stroke-width="2" />
<line x1="1735.4" y1="1154.76" x2="1748.9" y2="1154.76" stroke="#231f20" stroke-width="2" />
<line x1="1735.4" y1="1099.92" x2="1748.9" y2="1099.92" stroke="#231f20" stroke-width="2" />
<line x1="1735.4" y1="1045.08" x2="1748.9" y2="1045.08" stroke="#231f20" stroke-width="2" />
<line x1="1735.4" y1="990.24" x2="1748.9" y2="990.24" stroke="#231f20" stroke-width="2" />
<line x1="1735.4" y1="935.4" x2="1748.9" y2="935.4" stroke="#231f20" stroke-width="2" />
<text transform="translate(1712.1 1218.45)" font-size="30.00" fill="#231f20" >0</text>
<text transform="translate(1712.55 1163.76)" font-size="30.00" fill="#231f20" >2</text>
<text transform="translate(1711.95 1108.77)" font-size="30.00" fill="#231f20" >4</text>
<text transform="translate(1712.25 1053.93)" font-size="30.00" fill="#231f20" >6</text>
<text transform="translate(1712.25 999.09)" font-size="30.00" fill="#231f20" >8</text>
<text transform="translate(1695.45 944.25)" font-size="30.00" fill="#231f20" >10</text>
<line x1="1735.7" y1="1209.6" x2="1947.8" y2="1209.6" stroke="#231f20" stroke-width="2" />
<rect x="1778.6" y="1044.6" width="67.6" height="165" fill="#1d1a19" />
<rect x="1867.5" y="1112.2" width="66.6" height="97.4" fill="#a48abc" stroke="#231f20" stroke-width="1.8" />
<line x1="1812.4" y1="1029.8" x2="1812.4" y2="1044.6" stroke="#231f20" stroke-width="1.8" />
<line x1="1795.5" y1="1029.8" x2="1829.3" y2="1029.8" stroke="#231f20" stroke-width="1.8" />
<line x1="1900.8" y1="1101.2" x2="1900.8" y2="1112.2" stroke="#231f20" stroke-width="1.8" />
<line x1="1883.9" y1="1101.2" x2="1917.7" y2="1101.2" stroke="#231f20" stroke-width="1.8" />
<circle cx="1812.63" cy="989.47" r="4.3" fill="#fff" stroke="#231f20" stroke-width="1.5"/>
<circle cx="1812.63" cy="1010.26" r="4.3" fill="#fff" stroke="#231f20" stroke-width="1.5"/>
<circle cx="1812.63" cy="1029.76" r="4.3" fill="#fff" stroke="#231f20" stroke-width="1.5"/>
<circle cx="1812.63" cy="1052.63" r="4.3" fill="#fff" stroke="#1d1a19" stroke-width="1.5"/>
<circle cx="1805.35" cy="1059.65" r="4.3" fill="#fff" stroke="#1d1a19" stroke-width="1.5"/>
<circle cx="1819.13" cy="1068.75" r="4.3" fill="#fff" stroke="#1d1a19" stroke-width="1.5"/>
<circle cx="1812.63" cy="1094.74" r="4.3" fill="#fff" stroke="#1d1a19" stroke-width="1.5"/>
<circle cx="1900.75" cy="1074.73" r="4.3" fill="#a084c2" stroke="#231f20" stroke-width="1.5"/>
<circle cx="1922.85" cy="1092.14" r="4.3" fill="#a084c2" stroke="#231f20" stroke-width="1.5"/>
<circle cx="1878.66" cy="1103.84" r="4.3" fill="#a084c2" stroke="#231f20" stroke-width="1.5"/>
<circle cx="1900.75" cy="1104.62" r="4.3" fill="#a084c2" stroke="#231f20" stroke-width="1.5"/>
<circle cx="1889.58" cy="1123.86" r="4.3" fill="#8a6ab0" stroke="#231f20" stroke-width="1.5"/>
<circle cx="1911.93" cy="1125.94" r="4.3" fill="#8a6ab0" stroke="#231f20" stroke-width="1.5"/>
<circle cx="1900.75" cy="1151.15" r="4.3" fill="#8a6ab0" stroke="#231f20" stroke-width="1.5"/>
<polyline points="1811.9,971.3 1811.9,959 1901,959 1901,971.3" fill="none" stroke="#231f20" stroke-width="1.8" stroke-linejoin="miter" />
<text transform="translate(1787.18 947.9) scale(1.017 1)" font-size="30.29" font-style="italic" fill="#231f20" >P</text>
<text transform="translate(1814.36 946.62) scale(1.054 1)" font-size="27.38" fill="#231f20" >=</text>
<text transform="translate(1839.33 947.61) scale(0.994 1)" font-size="29.44" fill="#231f20" >0.0016</text>
<text transform="translate(1690.39 1169.42) rotate(-90)" font-size="29.09" fill="#231f20" >Insulin (ng/mL)</text>
<circle cx="1741.6" cy="1242.4" r="4.8" fill="#fff" stroke="#231f20" stroke-width="1.6"/>
<text transform="translate(1763.49 1251.78) scale(0.995 1)" font-size="22.04" fill="#231f20" >Vehicle</text>
<circle cx="1741.6" cy="1274.2" r="4.8" fill="#a48abc" stroke="#231f20" stroke-width="1.6"/>
<text transform="translate(1762.83 1283.57) scale(0.968 1)" font-size="22.86" fill="#231f20" >Parvalbumin blocker</text>
<text x="9" y="1411.8" font-size="48" text-anchor="start" font-weight="bold" fill="#111" >n</text>
<line x1="82" y1="1453.6" x2="82" y2="1694.6" stroke="#231f20" stroke-width="2.6" />
<line x1="74.6" y1="1694.6" x2="82" y2="1694.6" stroke="#231f20" stroke-width="2.6" />
<line x1="74.6" y1="1614.27" x2="82" y2="1614.27" stroke="#231f20" stroke-width="2.6" />
<line x1="74.6" y1="1533.93" x2="82" y2="1533.93" stroke="#231f20" stroke-width="2.6" />
<line x1="74.6" y1="1453.6" x2="82" y2="1453.6" stroke="#231f20" stroke-width="2.6" />
<line x1="74.6" y1="1694.6" x2="375.1" y2="1694.6" stroke="#231f20" stroke-width="2.6" />
<line x1="112.5" y1="1694.6" x2="112.5" y2="1701.5" stroke="#231f20" stroke-width="2.6" />
<line x1="158.9" y1="1694.6" x2="158.9" y2="1701.5" stroke="#231f20" stroke-width="2.6" />
<line x1="205" y1="1694.6" x2="205" y2="1701.5" stroke="#231f20" stroke-width="2.6" />
<line x1="251.3" y1="1694.6" x2="251.3" y2="1701.5" stroke="#231f20" stroke-width="2.6" />
<line x1="298.2" y1="1694.6" x2="298.2" y2="1701.5" stroke="#231f20" stroke-width="2.6" />
<line x1="344.6" y1="1694.6" x2="344.6" y2="1701.5" stroke="#231f20" stroke-width="2.6" />
<polyline points="112.5,1489.32 158.9,1589.66 205,1620.85 251.3,1648.42 298.2,1642.32 344.6,1623.56" fill="none" stroke="#5b2a8b" stroke-width="2.8" stroke-linejoin="miter" />
<line x1="112.5" y1="1485.71" x2="112.5" y2="1493.84" stroke="#5b2a8b" stroke-width="2.6" />
<line x1="107" y1="1485.71" x2="118" y2="1485.71" stroke="#5b2a8b" stroke-width="2.6" />
<line x1="107" y1="1493.84" x2="118" y2="1493.84" stroke="#5b2a8b" stroke-width="2.6" />
<line x1="158.9" y1="1583.56" x2="158.9" y2="1595.99" stroke="#5b2a8b" stroke-width="2.6" />
<line x1="153.4" y1="1583.56" x2="164.4" y2="1583.56" stroke="#5b2a8b" stroke-width="2.6" />
<line x1="153.4" y1="1595.99" x2="164.4" y2="1595.99" stroke="#5b2a8b" stroke-width="2.6" />
<line x1="205" y1="1616.78" x2="205" y2="1625.82" stroke="#5b2a8b" stroke-width="2.6" />
<line x1="199.5" y1="1616.78" x2="210.5" y2="1616.78" stroke="#5b2a8b" stroke-width="2.6" />
<line x1="199.5" y1="1625.82" x2="210.5" y2="1625.82" stroke="#5b2a8b" stroke-width="2.6" />
<line x1="251.3" y1="1644.58" x2="251.3" y2="1652.94" stroke="#5b2a8b" stroke-width="2.6" />
<line x1="245.8" y1="1644.58" x2="256.8" y2="1644.58" stroke="#5b2a8b" stroke-width="2.6" />
<line x1="245.8" y1="1652.94" x2="256.8" y2="1652.94" stroke="#5b2a8b" stroke-width="2.6" />
<line x1="298.2" y1="1638.47" x2="298.2" y2="1646.84" stroke="#5b2a8b" stroke-width="2.6" />
<line x1="292.7" y1="1638.47" x2="303.7" y2="1638.47" stroke="#5b2a8b" stroke-width="2.6" />
<line x1="292.7" y1="1646.84" x2="303.7" y2="1646.84" stroke="#5b2a8b" stroke-width="2.6" />
<line x1="344.6" y1="1619.04" x2="344.6" y2="1628.08" stroke="#5b2a8b" stroke-width="2.6" />
<line x1="339.1" y1="1619.04" x2="350.1" y2="1619.04" stroke="#5b2a8b" stroke-width="2.6" />
<line x1="339.1" y1="1628.08" x2="350.1" y2="1628.08" stroke="#5b2a8b" stroke-width="2.6" />
<rect x="107.5" y="1484.32" width="10" height="10" fill="#5b2a8b" />
<rect x="153.9" y="1584.66" width="10" height="10" fill="#5b2a8b" />
<rect x="200" y="1615.85" width="10" height="10" fill="#5b2a8b" />
<rect x="246.3" y="1643.42" width="10" height="10" fill="#5b2a8b" />
<rect x="293.2" y="1637.32" width="10" height="10" fill="#5b2a8b" />
<rect x="339.6" y="1618.56" width="10" height="10" fill="#5b2a8b" />
<polyline points="112.5,1492.03 158.9,1588.08 205,1616.78 251.3,1624.24 298.2,1595.99 344.6,1576.1" fill="none" stroke="#231f20" stroke-width="2.8" stroke-linejoin="miter" />
<line x1="158.9" y1="1579.04" x2="158.9" y2="1597.12" stroke="#231f20" stroke-width="2.6" />
<line x1="153.4" y1="1579.04" x2="164.4" y2="1579.04" stroke="#231f20" stroke-width="2.6" />
<line x1="153.4" y1="1597.12" x2="164.4" y2="1597.12" stroke="#231f20" stroke-width="2.6" />
<line x1="251.3" y1="1618.59" x2="251.3" y2="1629.44" stroke="#231f20" stroke-width="2.6" />
<line x1="245.8" y1="1618.59" x2="256.8" y2="1618.59" stroke="#231f20" stroke-width="2.6" />
<line x1="245.8" y1="1629.44" x2="256.8" y2="1629.44" stroke="#231f20" stroke-width="2.6" />
<line x1="298.2" y1="1591.47" x2="298.2" y2="1602.32" stroke="#231f20" stroke-width="2.6" />
<line x1="292.7" y1="1591.47" x2="303.7" y2="1591.47" stroke="#231f20" stroke-width="2.6" />
<line x1="292.7" y1="1602.32" x2="303.7" y2="1602.32" stroke="#231f20" stroke-width="2.6" />
<line x1="344.6" y1="1567.06" x2="344.6" y2="1584.69" stroke="#231f20" stroke-width="2.6" />
<line x1="339.1" y1="1567.06" x2="350.1" y2="1567.06" stroke="#231f20" stroke-width="2.6" />
<line x1="339.1" y1="1584.69" x2="350.1" y2="1584.69" stroke="#231f20" stroke-width="2.6" />
<circle cx="112.5" cy="1492.03" r="5.2" fill="#231f20"/>
<circle cx="158.9" cy="1588.08" r="5.2" fill="#231f20"/>
<circle cx="205" cy="1616.78" r="5.2" fill="#231f20"/>
<circle cx="251.3" cy="1624.24" r="5.2" fill="#231f20"/>
<circle cx="298.2" cy="1595.99" r="5.2" fill="#231f20"/>
<circle cx="344.6" cy="1576.1" r="5.2" fill="#231f20"/>
<line x1="151.9" y1="1454.3" x2="180.6" y2="1454.3" stroke="#231f20" stroke-width="2.2" />
<ellipse cx="166.3" cy="1454.3" rx="3.6" ry="4.4" fill="#231f20"/>
<text transform="translate(189.89 1461.28)" font-size="21.77" fill="#231f20" >Vehicle</text>
<line x1="151.9" y1="1482.4" x2="180.6" y2="1482.4" stroke="#5b2a8b" stroke-width="2.2" />
<rect x="162.3" y="1478.4" width="8" height="8" fill="#5b2a8b" />
<text transform="translate(188.54 1489.09) scale(1.028 1)" font-size="21.36" fill="#231f20" >Parvalbumin blocker</text>
<text transform="translate(39.35 1460.02) scale(0.980 1)" font-size="25.80" fill="#231f20" >15</text>
<text transform="translate(39.22 1543.4) scale(0.980 1)" font-size="25.80" fill="#231f20" >10</text>
<text transform="translate(53.38 1626.17) scale(0.980 1)" font-size="25.80" fill="#231f20" >5</text>
<text transform="translate(53.25 1708.6) scale(0.980 1)" font-size="25.80" fill="#231f20" >0</text>
<text transform="translate(103.73 1729.12)" font-size="25.60" fill="#231f20" >0</text>
<text transform="translate(145.34 1729.12)" font-size="25.60" fill="#231f20" >15</text>
<text transform="translate(191.73 1729.12)" font-size="25.60" fill="#231f20" >30</text>
<text transform="translate(238.2 1729.12)" font-size="25.60" fill="#231f20" >60</text>
<text transform="translate(285.26 1729.12)" font-size="25.60" fill="#231f20" >90</text>
<text transform="translate(326.38 1729.12)" font-size="25.60" fill="#231f20" >120</text>
<text transform="translate(181.2 1762.45) scale(1.036 1)" font-size="24.06" fill="#231f20" >Time (mins)</text>
<text transform="translate(28.32 1658.96) rotate(-90)" font-size="25.13" fill="#231f20" >Glucose (mM)</text>
<text transform="translate(242.33 1677.85)" font-size="23.00" fill="#231f20" >**</text>
<text transform="translate(285.94 1672.25)" font-size="23.00" fill="#231f20" >***</text>
<text transform="translate(333.44 1654.14)" font-size="23.00" fill="#231f20" >***</text>
<line x1="482.7" y1="1450" x2="482.7" y2="1693.9" stroke="#231f20" stroke-width="2.6" />
<line x1="471.2" y1="1693.9" x2="482.7" y2="1693.9" stroke="#231f20" stroke-width="2.6" />
<line x1="471.2" y1="1632.93" x2="482.7" y2="1632.93" stroke="#231f20" stroke-width="2.6" />
<line x1="471.2" y1="1571.95" x2="482.7" y2="1571.95" stroke="#231f20" stroke-width="2.6" />
<line x1="471.2" y1="1510.97" x2="482.7" y2="1510.97" stroke="#231f20" stroke-width="2.6" />
<line x1="471.2" y1="1450" x2="482.7" y2="1450" stroke="#231f20" stroke-width="2.6" />
<line x1="471.2" y1="1693.9" x2="775.1" y2="1693.9" stroke="#231f20" stroke-width="2.6" />
<line x1="512.8" y1="1693.9" x2="512.8" y2="1704" stroke="#231f20" stroke-width="2.6" />
<line x1="559.3" y1="1693.9" x2="559.3" y2="1704" stroke="#231f20" stroke-width="2.6" />
<line x1="605.3" y1="1693.9" x2="605.3" y2="1704" stroke="#231f20" stroke-width="2.6" />
<line x1="651.5" y1="1693.9" x2="651.5" y2="1704" stroke="#231f20" stroke-width="2.6" />
<line x1="697.9" y1="1693.9" x2="697.9" y2="1704" stroke="#231f20" stroke-width="2.6" />
<line x1="744.2" y1="1693.9" x2="744.2" y2="1704" stroke="#231f20" stroke-width="2.6" />
<polyline points="512.8,1599.83 559.3,1524.8 605.3,1569.32 651.5,1588.08 697.9,1595.31 744.2,1597.12" fill="none" stroke="#5b2a8b" stroke-width="2.8" stroke-linejoin="miter" />
<line x1="559.3" y1="1516.89" x2="559.3" y2="1528.19" stroke="#5b2a8b" stroke-width="2.6" />
<line x1="553.8" y1="1516.89" x2="564.8" y2="1516.89" stroke="#5b2a8b" stroke-width="2.6" />
<line x1="553.8" y1="1528.19" x2="564.8" y2="1528.19" stroke="#5b2a8b" stroke-width="2.6" />
<line x1="651.5" y1="1583.56" x2="651.5" y2="1592.6" stroke="#5b2a8b" stroke-width="2.6" />
<line x1="646" y1="1583.56" x2="657" y2="1583.56" stroke="#5b2a8b" stroke-width="2.6" />
<line x1="646" y1="1592.6" x2="657" y2="1592.6" stroke="#5b2a8b" stroke-width="2.6" />
<line x1="744.2" y1="1588.76" x2="744.2" y2="1600.51" stroke="#5b2a8b" stroke-width="2.6" />
<line x1="738.7" y1="1588.76" x2="749.7" y2="1588.76" stroke="#5b2a8b" stroke-width="2.6" />
<line x1="738.7" y1="1600.51" x2="749.7" y2="1600.51" stroke="#5b2a8b" stroke-width="2.6" />
<rect x="507.8" y="1594.83" width="10" height="10" fill="#5b2a8b" />
<rect x="554.3" y="1519.8" width="10" height="10" fill="#5b2a8b" />
<rect x="600.3" y="1564.32" width="10" height="10" fill="#5b2a8b" />
<rect x="646.5" y="1583.08" width="10" height="10" fill="#5b2a8b" />
<rect x="692.9" y="1590.31" width="10" height="10" fill="#5b2a8b" />
<rect x="739.2" y="1592.12" width="10" height="10" fill="#5b2a8b" />
<polyline points="512.8,1593.05 559.3,1512.82 605.3,1545.82 651.5,1566.61 697.9,1589.89 744.2,1595.31" fill="none" stroke="#231f20" stroke-width="2.8" stroke-linejoin="miter" />
<line x1="559.3" y1="1499.94" x2="559.3" y2="1512.82" stroke="#231f20" stroke-width="2.6" />
<line x1="553.8" y1="1499.94" x2="564.8" y2="1499.94" stroke="#231f20" stroke-width="2.6" />
<line x1="553.8" y1="1512.82" x2="564.8" y2="1512.82" stroke="#231f20" stroke-width="2.6" />
<line x1="605.3" y1="1541.07" x2="605.3" y2="1550.79" stroke="#231f20" stroke-width="2.6" />
<line x1="599.8" y1="1541.07" x2="610.8" y2="1541.07" stroke="#231f20" stroke-width="2.6" />
<line x1="599.8" y1="1550.79" x2="610.8" y2="1550.79" stroke="#231f20" stroke-width="2.6" />
<line x1="651.5" y1="1563.22" x2="651.5" y2="1570.68" stroke="#231f20" stroke-width="2.6" />
<line x1="646" y1="1563.22" x2="657" y2="1563.22" stroke="#231f20" stroke-width="2.6" />
<line x1="646" y1="1570.68" x2="657" y2="1570.68" stroke="#231f20" stroke-width="2.6" />
<line x1="744.2" y1="1590.34" x2="744.2" y2="1600.96" stroke="#231f20" stroke-width="2.6" />
<line x1="738.7" y1="1590.34" x2="749.7" y2="1590.34" stroke="#231f20" stroke-width="2.6" />
<line x1="738.7" y1="1600.96" x2="749.7" y2="1600.96" stroke="#231f20" stroke-width="2.6" />
<circle cx="512.8" cy="1593.05" r="5.2" fill="#231f20"/>
<circle cx="559.3" cy="1512.82" r="5.2" fill="#231f20"/>
<circle cx="605.3" cy="1545.82" r="5.2" fill="#231f20"/>
<circle cx="651.5" cy="1566.61" r="5.2" fill="#231f20"/>
<circle cx="697.9" cy="1589.89" r="5.2" fill="#231f20"/>
<circle cx="744.2" cy="1595.31" r="5.2" fill="#231f20"/>
<line x1="541.2" y1="1454.1" x2="568.4" y2="1454.1" stroke="#231f20" stroke-width="2.2" />
<ellipse cx="554.8" cy="1454.1" rx="3.6" ry="4.4" fill="#231f20"/>
<text transform="translate(578.89 1460.2) scale(1.085 1)" font-size="20.00" fill="#231f20" >Vehicle</text>
<line x1="541.2" y1="1481.9" x2="568.4" y2="1481.9" stroke="#5b2a8b" stroke-width="2.2" />
<rect x="550.8" y="1477.9" width="8" height="8" fill="#5b2a8b" />
<text transform="translate(577.25 1488.39) scale(1.018 1)" font-size="21.50" fill="#231f20" >Parvalbumin blocker</text>
<text transform="translate(456.63 1700.58) scale(1.130 1)" font-size="18.50" fill="#231f20" >0</text>
<text transform="translate(456.73 1639.52) scale(1.130 1)" font-size="18.50" fill="#231f20" >5</text>
<text transform="translate(445.03 1578.63) scale(1.130 1)" font-size="18.50" fill="#231f20" >10</text>
<text transform="translate(445.13 1517.56) scale(1.130 1)" font-size="18.50" fill="#231f20" >15</text>
<text transform="translate(445.03 1456.68) scale(1.130 1)" font-size="18.50" fill="#231f20" >20</text>
<text transform="translate(503.93 1730.62)" font-size="25.60" fill="#231f20" >0</text>
<text transform="translate(545.74 1730.62)" font-size="25.60" fill="#231f20" >15</text>
<text transform="translate(591.93 1730.62)" font-size="25.60" fill="#231f20" >30</text>
<text transform="translate(638.5 1730.62)" font-size="25.60" fill="#231f20" >60</text>
<text transform="translate(685.36 1730.62)" font-size="25.60" fill="#231f20" >90</text>
<text transform="translate(726.68 1730.62)" font-size="25.60" fill="#231f20" >120</text>
<text transform="translate(581.6 1763.86) scale(1.017 1)" font-size="24.49" fill="#231f20" >Time (mins)</text>
<text transform="translate(429.9 1630.99) rotate(-90) scale(0.814 1)" font-size="24.28" fill="#231f20" >Glucose(mM)</text>
<text transform="translate(601.12 1532.14)" font-size="23.00" fill="#231f20" >*</text>
<text transform="translate(647.51 1562.64)" font-size="23.00" fill="#231f20" >*</text>
<text x="778" y="1411.5" font-size="48" text-anchor="start" font-weight="bold" fill="#111" >o</text>
<circle cx="967.7" cy="1403.1" r="4.2" fill="#fff" stroke="#231f20" stroke-width="1.5"/>
<text transform="translate(984.61 1410.52) scale(0.954 1)" font-size="18.10" fill="#231f20" >Vehicle</text>
<circle cx="967.7" cy="1428.2" r="4.2" fill="#a48abc" stroke="#231f20" stroke-width="1.5"/>
<text transform="translate(983.81 1435.72) scale(0.944 1)" font-size="18.37" fill="#231f20" >Parvalbumin blocker</text>
<line x1="867" y1="1482.3" x2="867" y2="1686.4" stroke="#231f20" stroke-width="2" />
<line x1="856.8" y1="1686.4" x2="867" y2="1686.4" stroke="#231f20" stroke-width="2" />
<text transform="translate(846.86 1692.57)" font-size="17.00" fill="#231f20" >0</text>
<line x1="856.8" y1="1645.58" x2="867" y2="1645.58" stroke="#231f20" stroke-width="2" />
<text transform="translate(847.03 1651.75)" font-size="17.00" fill="#231f20" >1</text>
<line x1="856.8" y1="1604.76" x2="867" y2="1604.76" stroke="#231f20" stroke-width="2" />
<text transform="translate(847.12 1611.01)" font-size="17.00" fill="#231f20" >2</text>
<line x1="856.8" y1="1563.94" x2="867" y2="1563.94" stroke="#231f20" stroke-width="2" />
<text transform="translate(846.95 1570.11)" font-size="17.00" fill="#231f20" >3</text>
<line x1="856.8" y1="1523.12" x2="867" y2="1523.12" stroke="#231f20" stroke-width="2" />
<text transform="translate(846.77 1529.28)" font-size="17.00" fill="#231f20" >4</text>
<line x1="856.8" y1="1482.3" x2="867" y2="1482.3" stroke="#231f20" stroke-width="2" />
<text transform="translate(846.95 1488.38)" font-size="17.00" fill="#231f20" >5</text>
<rect x="872.4" y="1646.1" width="12.7" height="40.3" fill="#1d1a19" />
<rect x="888.5" y="1592" width="11" height="94.4" fill="#a48abc" stroke="#231f20" stroke-width="1.6" />
<line x1="894" y1="1589" x2="894" y2="1592" stroke="#231f20" stroke-width="1.6" />
<line x1="890" y1="1589" x2="898" y2="1589" stroke="#231f20" stroke-width="1.6" />
<circle cx="877.96" cy="1637.5" r="3.7" fill="#fff" stroke="#231f20" stroke-width="1.5"/>
<circle cx="878.88" cy="1639.8" r="3.7" fill="#fff" stroke="#231f20" stroke-width="1.5"/>
<circle cx="878.36" cy="1644.98" r="3.7" fill="#fff" stroke="#231f20" stroke-width="1.5"/>
<circle cx="879.06" cy="1647.28" r="3.7" fill="#fff" stroke="#231f20" stroke-width="1.5"/>
<circle cx="879.13" cy="1652.46" r="3.7" fill="#fff" stroke="#231f20" stroke-width="1.5"/>
<circle cx="892.7" cy="1542" r="3.7" fill="#a48ac6" stroke="#231f20" stroke-width="1.5"/>
<circle cx="892.54" cy="1558.68" r="3.7" fill="#a48ac6" stroke="#231f20" stroke-width="1.5"/>
<circle cx="895.01" cy="1582.84" r="3.7" fill="#a48ac6" stroke="#231f20" stroke-width="1.5"/>
<circle cx="893.28" cy="1583.99" r="3.7" fill="#a48ac6" stroke="#231f20" stroke-width="1.5"/>
<circle cx="893.2" cy="1585.72" r="3.7" fill="#a48ac6" stroke="#231f20" stroke-width="1.5"/>
<circle cx="895.49" cy="1587.45" r="3.7" fill="#a48ac6" stroke="#231f20" stroke-width="1.5"/>
<circle cx="893.91" cy="1613.91" r="3.7" fill="#7d5aa8" stroke="#231f20" stroke-width="1.5"/>
<circle cx="895.01" cy="1615.06" r="3.7" fill="#7d5aa8" stroke="#231f20" stroke-width="1.5"/>
<circle cx="893.93" cy="1616.21" r="3.7" fill="#7d5aa8" stroke="#231f20" stroke-width="1.5"/>
<circle cx="894.42" cy="1618.51" r="3.7" fill="#7d5aa8" stroke="#231f20" stroke-width="1.5"/>
<circle cx="892.95" cy="1626.57" r="3.7" fill="#7d5aa8" stroke="#231f20" stroke-width="1.5"/>
<rect x="913.9" y="1647" width="12.6" height="39.4" fill="#1d1a19" />
<rect x="929.4" y="1625.4" width="12.1" height="61" fill="#a48abc" stroke="#231f20" stroke-width="1.6" />
<line x1="935.45" y1="1622.4" x2="935.45" y2="1625.4" stroke="#231f20" stroke-width="1.6" />
<line x1="931.45" y1="1622.4" x2="939.45" y2="1622.4" stroke="#231f20" stroke-width="1.6" />
<circle cx="920.6" cy="1637.5" r="3.7" fill="#fff" stroke="#231f20" stroke-width="1.5"/>
<circle cx="921.3" cy="1642.68" r="3.7" fill="#fff" stroke="#231f20" stroke-width="1.5"/>
<circle cx="920.27" cy="1647.28" r="3.7" fill="#fff" stroke="#231f20" stroke-width="1.5"/>
<circle cx="920.92" cy="1649.58" r="3.7" fill="#fff" stroke="#231f20" stroke-width="1.5"/>
<circle cx="920.71" cy="1653.61" r="3.7" fill="#fff" stroke="#231f20" stroke-width="1.5"/>
<circle cx="934.14" cy="1585.72" r="3.7" fill="#a48ac6" stroke="#231f20" stroke-width="1.5"/>
<circle cx="936.22" cy="1616.21" r="3.7" fill="#a48ac6" stroke="#231f20" stroke-width="1.5"/>
<circle cx="935.72" cy="1617.94" r="3.7" fill="#a48ac6" stroke="#231f20" stroke-width="1.5"/>
<circle cx="934.85" cy="1619.66" r="3.7" fill="#a48ac6" stroke="#231f20" stroke-width="1.5"/>
<circle cx="934.04" cy="1630.02" r="3.7" fill="#7d5aa8" stroke="#231f20" stroke-width="1.5"/>
<circle cx="936.55" cy="1632.32" r="3.7" fill="#7d5aa8" stroke="#231f20" stroke-width="1.5"/>
<circle cx="935.37" cy="1634.62" r="3.7" fill="#7d5aa8" stroke="#231f20" stroke-width="1.5"/>
<circle cx="936.11" cy="1636.92" r="3.7" fill="#7d5aa8" stroke="#231f20" stroke-width="1.5"/>
<rect x="955.3" y="1643.6" width="12.6" height="42.8" fill="#1d1a19" />
<rect x="970.8" y="1621.4" width="12.1" height="65" fill="#a48abc" stroke="#231f20" stroke-width="1.6" />
<line x1="976.85" y1="1618.4" x2="976.85" y2="1621.4" stroke="#231f20" stroke-width="1.6" />
<line x1="972.85" y1="1618.4" x2="980.85" y2="1618.4" stroke="#231f20" stroke-width="1.6" />
<circle cx="962.74" cy="1633.47" r="3.7" fill="#fff" stroke="#231f20" stroke-width="1.5"/>
<circle cx="962.24" cy="1635.77" r="3.7" fill="#fff" stroke="#231f20" stroke-width="1.5"/>
<circle cx="962.86" cy="1638.07" r="3.7" fill="#fff" stroke="#231f20" stroke-width="1.5"/>
<circle cx="961.28" cy="1641.53" r="3.7" fill="#fff" stroke="#231f20" stroke-width="1.5"/>
<circle cx="962.5" cy="1643.83" r="3.7" fill="#fff" stroke="#231f20" stroke-width="1.5"/>
<circle cx="961.43" cy="1647.28" r="3.7" fill="#fff" stroke="#231f20" stroke-width="1.5"/>
<circle cx="962.91" cy="1649.58" r="3.7" fill="#fff" stroke="#231f20" stroke-width="1.5"/>
<circle cx="977.99" cy="1605.86" r="3.7" fill="#a48ac6" stroke="#231f20" stroke-width="1.5"/>
<circle cx="975.64" cy="1607.01" r="3.7" fill="#a48ac6" stroke="#231f20" stroke-width="1.5"/>
<circle cx="975.76" cy="1608.73" r="3.7" fill="#a48ac6" stroke="#231f20" stroke-width="1.5"/>
<circle cx="976" cy="1611.03" r="3.7" fill="#a48ac6" stroke="#231f20" stroke-width="1.5"/>
<circle cx="978.25" cy="1618.51" r="3.7" fill="#a48ac6" stroke="#231f20" stroke-width="1.5"/>
<circle cx="976.66" cy="1619.66" r="3.7" fill="#a48ac6" stroke="#231f20" stroke-width="1.5"/>
<circle cx="977.23" cy="1628.87" r="3.7" fill="#7d5aa8" stroke="#231f20" stroke-width="1.5"/>
<circle cx="976.25" cy="1636.92" r="3.7" fill="#7d5aa8" stroke="#231f20" stroke-width="1.5"/>
<rect x="997" y="1646.7" width="12.7" height="39.7" fill="#1d1a19" />
<rect x="1012.5" y="1622.2" width="11.8" height="64.2" fill="#a48abc" stroke="#231f20" stroke-width="1.6" />
<line x1="1018.4" y1="1619.2" x2="1018.4" y2="1622.2" stroke="#231f20" stroke-width="1.6" />
<line x1="1014.4" y1="1619.2" x2="1022.4" y2="1619.2" stroke="#231f20" stroke-width="1.6" />
<circle cx="1003.37" cy="1635.77" r="3.7" fill="#fff" stroke="#231f20" stroke-width="1.5"/>
<circle cx="1003.01" cy="1640.38" r="3.7" fill="#fff" stroke="#231f20" stroke-width="1.5"/>
<circle cx="1002.9" cy="1644.98" r="3.7" fill="#fff" stroke="#231f20" stroke-width="1.5"/>
<circle cx="1003.61" cy="1649.58" r="3.7" fill="#fff" stroke="#231f20" stroke-width="1.5"/>
<circle cx="1003.6" cy="1654.18" r="3.7" fill="#fff" stroke="#231f20" stroke-width="1.5"/>
<circle cx="1019.61" cy="1597.8" r="3.7" fill="#a48ac6" stroke="#231f20" stroke-width="1.5"/>
<circle cx="1018.95" cy="1615.06" r="3.7" fill="#a48ac6" stroke="#231f20" stroke-width="1.5"/>
<circle cx="1019.69" cy="1616.21" r="3.7" fill="#a48ac6" stroke="#231f20" stroke-width="1.5"/>
<circle cx="1019.47" cy="1618.51" r="3.7" fill="#a48ac6" stroke="#231f20" stroke-width="1.5"/>
<circle cx="1019.87" cy="1620.81" r="3.7" fill="#a48ac6" stroke="#231f20" stroke-width="1.5"/>
<circle cx="1018.91" cy="1626.57" r="3.7" fill="#7d5aa8" stroke="#231f20" stroke-width="1.5"/>
<circle cx="1017.39" cy="1631.17" r="3.7" fill="#7d5aa8" stroke="#231f20" stroke-width="1.5"/>
<circle cx="1019.48" cy="1633.47" r="3.7" fill="#7d5aa8" stroke="#231f20" stroke-width="1.5"/>
<rect x="1038.5" y="1643.3" width="12.3" height="43.1" fill="#1d1a19" />
<rect x="1054.2" y="1622.9" width="11" height="63.5" fill="#a48abc" stroke="#231f20" stroke-width="1.6" />
<line x1="1059.7" y1="1619.9" x2="1059.7" y2="1622.9" stroke="#231f20" stroke-width="1.6" />
<line x1="1055.7" y1="1619.9" x2="1063.7" y2="1619.9" stroke="#231f20" stroke-width="1.6" />
<circle cx="1046.04" cy="1632.32" r="3.7" fill="#fff" stroke="#231f20" stroke-width="1.5"/>
<circle cx="1045.86" cy="1634.62" r="3.7" fill="#fff" stroke="#231f20" stroke-width="1.5"/>
<circle cx="1044.86" cy="1638.07" r="3.7" fill="#fff" stroke="#231f20" stroke-width="1.5"/>
<circle cx="1045.29" cy="1642.68" r="3.7" fill="#fff" stroke="#231f20" stroke-width="1.5"/>
<circle cx="1043.78" cy="1647.28" r="3.7" fill="#fff" stroke="#231f20" stroke-width="1.5"/>
<circle cx="1045.64" cy="1653.03" r="3.7" fill="#fff" stroke="#231f20" stroke-width="1.5"/>
<circle cx="1059.92" cy="1596.65" r="3.7" fill="#a48ac6" stroke="#231f20" stroke-width="1.5"/>
<circle cx="1059.05" cy="1605.28" r="3.7" fill="#a48ac6" stroke="#231f20" stroke-width="1.5"/>
<circle cx="1058.39" cy="1611.61" r="3.7" fill="#a48ac6" stroke="#231f20" stroke-width="1.5"/>
<circle cx="1060.76" cy="1618.51" r="3.7" fill="#a48ac6" stroke="#231f20" stroke-width="1.5"/>
<circle cx="1061.17" cy="1619.66" r="3.7" fill="#a48ac6" stroke="#231f20" stroke-width="1.5"/>
<circle cx="1058.47" cy="1621.97" r="3.7" fill="#a48ac6" stroke="#231f20" stroke-width="1.5"/>
<circle cx="1060.6" cy="1624.27" r="3.7" fill="#7d5aa8" stroke="#231f20" stroke-width="1.5"/>
<circle cx="1059.43" cy="1627.72" r="3.7" fill="#7d5aa8" stroke="#231f20" stroke-width="1.5"/>
<circle cx="1058.65" cy="1634.62" r="3.7" fill="#7d5aa8" stroke="#231f20" stroke-width="1.5"/>
<circle cx="1059.08" cy="1644.98" r="3.7" fill="#7d5aa8" stroke="#231f20" stroke-width="1.5"/>
<line x1="856.8" y1="1686.4" x2="1071.5" y2="1686.4" stroke="#231f20" stroke-width="2" />
<line x1="886" y1="1686.4" x2="886" y2="1696.9" stroke="#231f20" stroke-width="2" />
<line x1="927.5" y1="1686.4" x2="927.5" y2="1696.9" stroke="#231f20" stroke-width="2" />
<line x1="969" y1="1686.4" x2="969" y2="1696.9" stroke="#231f20" stroke-width="2" />
<line x1="1010.4" y1="1686.4" x2="1010.4" y2="1696.9" stroke="#231f20" stroke-width="2" />
<line x1="1052" y1="1686.4" x2="1052" y2="1696.9" stroke="#231f20" stroke-width="2" />
<text transform="translate(894.9 1535.8) rotate(-90) scale(0.92 1)" font-size="21.6" fill="#231f20">[<tspan font-style="italic">P</tspan> < 0.001</text>
<text transform="translate(934.5 1568.5) rotate(-90) scale(0.92 1)" font-size="21.6" fill="#231f20">[<tspan font-style="italic">P</tspan> = 0.0003</text>
<text transform="translate(977.5 1582.1) rotate(-90) scale(0.92 1)" font-size="21.6" fill="#231f20">[<tspan font-style="italic">P</tspan> < 0.0001</text>
<text transform="translate(1018 1583.2) rotate(-90) scale(0.92 1)" font-size="21.6" fill="#231f20">[<tspan font-style="italic">P</tspan> < 0.0001</text>
<text transform="translate(1061 1577.6) rotate(-90) scale(0.92 1)" font-size="21.6" fill="#231f20">[<tspan font-style="italic">P</tspan> = 0.0007</text>
<text transform="translate(896.3 1713.3) rotate(-45)" font-size="20.5" font-style="italic" fill="#231f20" text-anchor="end">Cd301</text>
<text transform="translate(937.8 1713.3) rotate(-45)" font-size="20.5" font-style="italic" fill="#231f20" text-anchor="end">Mrc1</text>
<text transform="translate(979.3 1713.3) rotate(-45)" font-size="20.5" font-style="italic" fill="#231f20" text-anchor="end">Arg1</text>
<text transform="translate(1020.7 1713.3) rotate(-45)" font-size="20.5" font-style="italic" fill="#231f20" text-anchor="end">Fizz1</text>
<text transform="translate(1062.3 1713.3) rotate(-45)" font-size="20.5" font-style="italic" fill="#231f20" text-anchor="end">Tgm2</text>
<text transform="translate(877.76 1432.69) scale(0.995 1)" font-size="21.29" fill="#231f20" >scWAT</text>
<text transform="translate(826.94 1702.97) rotate(-90) scale(0.947 1)" font-size="20.75" fill="#231f20" >Relative  mRNA  expression</text>
<line x1="1163.4" y1="1480.7" x2="1163.4" y2="1684.6" stroke="#231f20" stroke-width="2" />
<line x1="1153.3" y1="1684.6" x2="1163.4" y2="1684.6" stroke="#231f20" stroke-width="2" />
<text transform="translate(1141.56 1690.76)" font-size="17.00" fill="#231f20" >0</text>
<line x1="1153.3" y1="1633.62" x2="1163.4" y2="1633.62" stroke="#231f20" stroke-width="2" />
<text transform="translate(1141.73 1639.79)" font-size="17.00" fill="#231f20" >1</text>
<line x1="1153.3" y1="1582.65" x2="1163.4" y2="1582.65" stroke="#231f20" stroke-width="2" />
<text transform="translate(1141.82 1588.9)" font-size="17.00" fill="#231f20" >2</text>
<line x1="1153.3" y1="1531.67" x2="1163.4" y2="1531.67" stroke="#231f20" stroke-width="2" />
<text transform="translate(1141.64 1537.84)" font-size="17.00" fill="#231f20" >3</text>
<line x1="1153.3" y1="1480.7" x2="1163.4" y2="1480.7" stroke="#231f20" stroke-width="2" />
<text transform="translate(1141.48 1486.87)" font-size="17.00" fill="#231f20" >4</text>
<rect x="1168" y="1634.4" width="12.4" height="50.2" fill="#1d1a19" />
<rect x="1184.5" y="1593.7" width="11.3" height="90.9" fill="#a48abc" stroke="#231f20" stroke-width="1.6" />
<line x1="1190.15" y1="1590.7" x2="1190.15" y2="1593.7" stroke="#231f20" stroke-width="1.6" />
<line x1="1186.15" y1="1590.7" x2="1194.15" y2="1590.7" stroke="#231f20" stroke-width="1.6" />
<circle cx="1173.41" cy="1601.64" r="3.7" fill="#fff" stroke="#231f20" stroke-width="1.5"/>
<circle cx="1173.01" cy="1620.85" r="3.7" fill="#fff" stroke="#231f20" stroke-width="1.5"/>
<circle cx="1173.89" cy="1629.89" r="3.7" fill="#fff" stroke="#231f20" stroke-width="1.5"/>
<circle cx="1173.16" cy="1634.41" r="3.7" fill="#fff" stroke="#231f20" stroke-width="1.5"/>
<circle cx="1172.9" cy="1640.06" r="3.7" fill="#fff" stroke="#231f20" stroke-width="1.5"/>
<circle cx="1173.9" cy="1646.84" r="3.7" fill="#fff" stroke="#231f20" stroke-width="1.5"/>
<circle cx="1175.45" cy="1653.62" r="3.7" fill="#fff" stroke="#231f20" stroke-width="1.5"/>
<circle cx="1191.05" cy="1559.83" r="3.7" fill="#a48ac6" stroke="#231f20" stroke-width="1.5"/>
<circle cx="1190.95" cy="1568.87" r="3.7" fill="#a48ac6" stroke="#231f20" stroke-width="1.5"/>
<circle cx="1189.32" cy="1585.82" r="3.7" fill="#a48ac6" stroke="#231f20" stroke-width="1.5"/>
<circle cx="1190.26" cy="1588.08" r="3.7" fill="#a48ac6" stroke="#231f20" stroke-width="1.5"/>
<circle cx="1189.48" cy="1593.73" r="3.7" fill="#7d5aa8" stroke="#231f20" stroke-width="1.5"/>
<circle cx="1189.17" cy="1595.99" r="3.7" fill="#7d5aa8" stroke="#231f20" stroke-width="1.5"/>
<circle cx="1188.97" cy="1602.77" r="3.7" fill="#7d5aa8" stroke="#231f20" stroke-width="1.5"/>
<circle cx="1189.29" cy="1609.55" r="3.7" fill="#7d5aa8" stroke="#231f20" stroke-width="1.5"/>
<circle cx="1191.43" cy="1623.11" r="3.7" fill="#7d5aa8" stroke="#231f20" stroke-width="1.5"/>
<rect x="1209.8" y="1634.4" width="12.4" height="50.2" fill="#1d1a19" />
<rect x="1225.6" y="1605" width="11.3" height="79.6" fill="#a48abc" stroke="#231f20" stroke-width="1.6" />
<line x1="1231.25" y1="1602" x2="1231.25" y2="1605" stroke="#231f20" stroke-width="1.6" />
<line x1="1227.25" y1="1602" x2="1235.25" y2="1602" stroke="#231f20" stroke-width="1.6" />
<circle cx="1216.99" cy="1618.59" r="3.7" fill="#fff" stroke="#231f20" stroke-width="1.5"/>
<circle cx="1216.92" cy="1626.5" r="3.7" fill="#fff" stroke="#231f20" stroke-width="1.5"/>
<circle cx="1216.9" cy="1634.41" r="3.7" fill="#fff" stroke="#231f20" stroke-width="1.5"/>
<circle cx="1215.08" cy="1641.19" r="3.7" fill="#fff" stroke="#231f20" stroke-width="1.5"/>
<circle cx="1215.43" cy="1653.62" r="3.7" fill="#fff" stroke="#231f20" stroke-width="1.5"/>
<circle cx="1231.63" cy="1583.56" r="3.7" fill="#a48ac6" stroke="#231f20" stroke-width="1.5"/>
<circle cx="1231.95" cy="1592.6" r="3.7" fill="#a48ac6" stroke="#231f20" stroke-width="1.5"/>
<circle cx="1232.31" cy="1595.99" r="3.7" fill="#a48ac6" stroke="#231f20" stroke-width="1.5"/>
<circle cx="1232.39" cy="1600.51" r="3.7" fill="#a48ac6" stroke="#231f20" stroke-width="1.5"/>
<circle cx="1230.01" cy="1605.03" r="3.7" fill="#7d5aa8" stroke="#231f20" stroke-width="1.5"/>
<circle cx="1231.57" cy="1609.55" r="3.7" fill="#7d5aa8" stroke="#231f20" stroke-width="1.5"/>
<circle cx="1231.77" cy="1614.07" r="3.7" fill="#7d5aa8" stroke="#231f20" stroke-width="1.5"/>
<circle cx="1231.27" cy="1618.59" r="3.7" fill="#7d5aa8" stroke="#231f20" stroke-width="1.5"/>
<circle cx="1230.28" cy="1623.11" r="3.7" fill="#7d5aa8" stroke="#231f20" stroke-width="1.5"/>
<rect x="1250.9" y="1634.4" width="12.7" height="50.2" fill="#1d1a19" />
<rect x="1266.7" y="1593.7" width="12" height="90.9" fill="#a48abc" stroke="#231f20" stroke-width="1.6" />
<line x1="1272.7" y1="1590.7" x2="1272.7" y2="1593.7" stroke="#231f20" stroke-width="1.6" />
<line x1="1268.7" y1="1590.7" x2="1276.7" y2="1590.7" stroke="#231f20" stroke-width="1.6" />
<circle cx="1257.17" cy="1609.55" r="3.7" fill="#fff" stroke="#231f20" stroke-width="1.5"/>
<circle cx="1256.02" cy="1628.76" r="3.7" fill="#fff" stroke="#231f20" stroke-width="1.5"/>
<circle cx="1258.55" cy="1632.15" r="3.7" fill="#fff" stroke="#231f20" stroke-width="1.5"/>
<circle cx="1258.35" cy="1638.93" r="3.7" fill="#fff" stroke="#231f20" stroke-width="1.5"/>
<circle cx="1257.39" cy="1647.97" r="3.7" fill="#fff" stroke="#231f20" stroke-width="1.5"/>
<circle cx="1272.1" cy="1542.88" r="3.7" fill="#a48ac6" stroke="#231f20" stroke-width="1.5"/>
<circle cx="1273.93" cy="1564.35" r="3.7" fill="#a48ac6" stroke="#231f20" stroke-width="1.5"/>
<circle cx="1272.92" cy="1571.13" r="3.7" fill="#a48ac6" stroke="#231f20" stroke-width="1.5"/>
<circle cx="1273.85" cy="1585.82" r="3.7" fill="#a48ac6" stroke="#231f20" stroke-width="1.5"/>
<circle cx="1273.74" cy="1588.08" r="3.7" fill="#a48ac6" stroke="#231f20" stroke-width="1.5"/>
<circle cx="1272.73" cy="1598.25" r="3.7" fill="#7d5aa8" stroke="#231f20" stroke-width="1.5"/>
<circle cx="1272.44" cy="1602.77" r="3.7" fill="#7d5aa8" stroke="#231f20" stroke-width="1.5"/>
<circle cx="1273" cy="1609.55" r="3.7" fill="#7d5aa8" stroke="#231f20" stroke-width="1.5"/>
<circle cx="1272.49" cy="1623.11" r="3.7" fill="#7d5aa8" stroke="#231f20" stroke-width="1.5"/>
<circle cx="1271.68" cy="1633.28" r="3.7" fill="#7d5aa8" stroke="#231f20" stroke-width="1.5"/>
<rect x="1292.7" y="1634.4" width="12.4" height="50.2" fill="#1d1a19" />
<rect x="1308.1" y="1606.2" width="11.9" height="78.4" fill="#a48abc" stroke="#231f20" stroke-width="1.6" />
<line x1="1314.05" y1="1603.2" x2="1314.05" y2="1606.2" stroke="#231f20" stroke-width="1.6" />
<line x1="1310.05" y1="1603.2" x2="1318.05" y2="1603.2" stroke="#231f20" stroke-width="1.6" />
<circle cx="1298.32" cy="1618.59" r="3.7" fill="#fff" stroke="#231f20" stroke-width="1.5"/>
<circle cx="1299.84" cy="1627.63" r="3.7" fill="#fff" stroke="#231f20" stroke-width="1.5"/>
<circle cx="1297.53" cy="1634.41" r="3.7" fill="#fff" stroke="#231f20" stroke-width="1.5"/>
<circle cx="1297.54" cy="1638.93" r="3.7" fill="#fff" stroke="#231f20" stroke-width="1.5"/>
<circle cx="1299.28" cy="1643.45" r="3.7" fill="#fff" stroke="#231f20" stroke-width="1.5"/>
<circle cx="1313.39" cy="1589.21" r="3.7" fill="#a48ac6" stroke="#231f20" stroke-width="1.5"/>
<circle cx="1314.15" cy="1592.6" r="3.7" fill="#a48ac6" stroke="#231f20" stroke-width="1.5"/>
<circle cx="1313.96" cy="1595.99" r="3.7" fill="#a48ac6" stroke="#231f20" stroke-width="1.5"/>
<circle cx="1313.58" cy="1600.51" r="3.7" fill="#a48ac6" stroke="#231f20" stroke-width="1.5"/>
<circle cx="1315.54" cy="1605.03" r="3.7" fill="#a48ac6" stroke="#231f20" stroke-width="1.5"/>
<circle cx="1313.14" cy="1609.55" r="3.7" fill="#7d5aa8" stroke="#231f20" stroke-width="1.5"/>
<circle cx="1313.79" cy="1625.37" r="3.7" fill="#7d5aa8" stroke="#231f20" stroke-width="1.5"/>
<rect x="1334" y="1634.4" width="12.5" height="50.2" fill="#1d1a19" />
<rect x="1349.9" y="1616.3" width="11.3" height="68.3" fill="#a48abc" stroke="#231f20" stroke-width="1.6" />
<line x1="1355.55" y1="1613.3" x2="1355.55" y2="1616.3" stroke="#231f20" stroke-width="1.6" />
<line x1="1351.55" y1="1613.3" x2="1359.55" y2="1613.3" stroke="#231f20" stroke-width="1.6" />
<circle cx="1339.36" cy="1624.24" r="3.7" fill="#fff" stroke="#231f20" stroke-width="1.5"/>
<circle cx="1340.65" cy="1629.89" r="3.7" fill="#fff" stroke="#231f20" stroke-width="1.5"/>
<circle cx="1339.58" cy="1635.54" r="3.7" fill="#fff" stroke="#231f20" stroke-width="1.5"/>
<circle cx="1339.82" cy="1641.19" r="3.7" fill="#fff" stroke="#231f20" stroke-width="1.5"/>
<circle cx="1340.99" cy="1644.58" r="3.7" fill="#fff" stroke="#231f20" stroke-width="1.5"/>
<circle cx="1355.01" cy="1606.16" r="3.7" fill="#a48ac6" stroke="#231f20" stroke-width="1.5"/>
<circle cx="1355.73" cy="1608.42" r="3.7" fill="#a48ac6" stroke="#231f20" stroke-width="1.5"/>
<circle cx="1356.76" cy="1614.07" r="3.7" fill="#a48ac6" stroke="#231f20" stroke-width="1.5"/>
<circle cx="1354.35" cy="1618.59" r="3.7" fill="#7d5aa8" stroke="#231f20" stroke-width="1.5"/>
<circle cx="1354.23" cy="1623.11" r="3.7" fill="#7d5aa8" stroke="#231f20" stroke-width="1.5"/>
<circle cx="1354.74" cy="1627.63" r="3.7" fill="#7d5aa8" stroke="#231f20" stroke-width="1.5"/>
<circle cx="1356.35" cy="1632.15" r="3.7" fill="#7d5aa8" stroke="#231f20" stroke-width="1.5"/>
<line x1="1153.3" y1="1684.6" x2="1367.5" y2="1684.6" stroke="#231f20" stroke-width="2" />
<line x1="1181.5" y1="1684.6" x2="1181.5" y2="1695.1" stroke="#231f20" stroke-width="2" />
<line x1="1223.3" y1="1684.6" x2="1223.3" y2="1695.1" stroke="#231f20" stroke-width="2" />
<line x1="1264.7" y1="1684.6" x2="1264.7" y2="1695.1" stroke="#231f20" stroke-width="2" />
<line x1="1306.3" y1="1684.6" x2="1306.3" y2="1695.1" stroke="#231f20" stroke-width="2" />
<line x1="1348.1" y1="1684.6" x2="1348.1" y2="1695.1" stroke="#231f20" stroke-width="2" />
<text transform="translate(1191.3 1538) rotate(-90) scale(0.92 1)" font-size="21.6" fill="#231f20">[<tspan font-style="italic">P</tspan> < 0.0001</text>
<text transform="translate(1230.9 1569.7) rotate(-90) scale(0.92 1)" font-size="21.6" fill="#231f20">[<tspan font-style="italic">P</tspan> < 0.0001</text>
<text transform="translate(1273.8 1526.7) rotate(-90) scale(0.92 1)" font-size="21.6" fill="#231f20">[<tspan font-style="italic">P</tspan> < 0.0001</text>
<text transform="translate(1314.5 1553.8) rotate(-90) scale(0.92 1)" font-size="21.6" fill="#231f20">[<tspan font-style="italic">P</tspan> = 0.0004</text>
<text transform="translate(1354 1564) rotate(-90) scale(0.92 1)" font-size="21.6" fill="#231f20">[<tspan font-style="italic">P</tspan> < 0.0001</text>
<text transform="translate(1191.8 1711.5) rotate(-45)" font-size="20.5" font-style="italic" fill="#231f20" text-anchor="end">Cd301</text>
<text transform="translate(1233.6 1711.5) rotate(-45)" font-size="20.5" font-style="italic" fill="#231f20" text-anchor="end">Mrc1</text>
<text transform="translate(1275 1711.5) rotate(-45)" font-size="20.5" font-style="italic" fill="#231f20" text-anchor="end">Arg1</text>
<text transform="translate(1316.6 1711.5) rotate(-45)" font-size="20.5" font-style="italic" fill="#231f20" text-anchor="end">Fizz1</text>
<text transform="translate(1358.4 1711.5) rotate(-45)" font-size="20.5" font-style="italic" fill="#231f20" text-anchor="end">Tgm2</text>
<text transform="translate(1169.04 1425) scale(1.083 1)" font-size="20.29" fill="#231f20" >BAT</text>
<text transform="translate(1127.73 1703.38) rotate(-90) scale(0.969 1)" font-size="20.32" fill="#231f20" >Relative  mRNA  expression</text>
<text x="1398" y="1407" font-size="48" text-anchor="start" font-weight="bold" fill="#111" >p</text>
<circle cx="1567.1" cy="1399.8" r="4.2" fill="#fff" stroke="#231f20" stroke-width="1.5"/>
<text transform="translate(1584.21 1406.84) scale(1.033 1)" font-size="16.46" fill="#231f20" >Vehicle</text>
<circle cx="1567.1" cy="1424.6" r="4.2" fill="#a48abc" stroke="#231f20" stroke-width="1.5"/>
<text transform="translate(1583.41 1431.63) scale(1.010 1)" font-size="17.14" fill="#231f20" >Parvalbumin blocker</text>
<line x1="1460.5" y1="1481.9" x2="1460.5" y2="1685.7" stroke="#231f20" stroke-width="2" />
<line x1="1449.9" y1="1685.7" x2="1460.5" y2="1685.7" stroke="#231f20" stroke-width="2" />
<text transform="translate(1439.14 1692.21)" font-size="18.00" fill="#231f20" >0</text>
<line x1="1449.9" y1="1634.75" x2="1460.5" y2="1634.75" stroke="#231f20" stroke-width="2" />
<text transform="translate(1439.32 1641.26)" font-size="18.00" fill="#231f20" >1</text>
<line x1="1449.9" y1="1583.8" x2="1460.5" y2="1583.8" stroke="#231f20" stroke-width="2" />
<text transform="translate(1439.41 1590.4)" font-size="18.00" fill="#231f20" >2</text>
<line x1="1449.9" y1="1532.85" x2="1460.5" y2="1532.85" stroke="#231f20" stroke-width="2" />
<text transform="translate(1439.23 1539.36)" font-size="18.00" fill="#231f20" >3</text>
<line x1="1449.9" y1="1481.9" x2="1460.5" y2="1481.9" stroke="#231f20" stroke-width="2" />
<text transform="translate(1439.05 1488.41)" font-size="18.00" fill="#231f20" >4</text>
<rect x="1465.7" y="1634.9" width="12.4" height="50.8" fill="#1d1a19" />
<rect x="1481.5" y="1596" width="11.3" height="89.7" fill="#a48abc" stroke="#231f20" stroke-width="1.6" />
<line x1="1487.15" y1="1593" x2="1487.15" y2="1596" stroke="#231f20" stroke-width="1.6" />
<line x1="1483.15" y1="1593" x2="1491.15" y2="1593" stroke="#231f20" stroke-width="1.6" />
<circle cx="1472.27" cy="1614.07" r="3.7" fill="#fff" stroke="#231f20" stroke-width="1.5"/>
<circle cx="1472.63" cy="1618.59" r="3.7" fill="#fff" stroke="#231f20" stroke-width="1.5"/>
<circle cx="1472.79" cy="1627.63" r="3.7" fill="#fff" stroke="#231f20" stroke-width="1.5"/>
<circle cx="1473.23" cy="1634.41" r="3.7" fill="#fff" stroke="#231f20" stroke-width="1.5"/>
<circle cx="1472.62" cy="1641.19" r="3.7" fill="#fff" stroke="#231f20" stroke-width="1.5"/>
<circle cx="1473.17" cy="1647.97" r="3.7" fill="#fff" stroke="#231f20" stroke-width="1.5"/>
<circle cx="1470.49" cy="1654.75" r="3.7" fill="#fff" stroke="#231f20" stroke-width="1.5"/>
<circle cx="1487.05" cy="1555.31" r="3.7" fill="#a48ac6" stroke="#231f20" stroke-width="1.5"/>
<circle cx="1488.48" cy="1570" r="3.7" fill="#a48ac6" stroke="#231f20" stroke-width="1.5"/>
<circle cx="1487.6" cy="1593.73" r="3.7" fill="#a48ac6" stroke="#231f20" stroke-width="1.5"/>
<circle cx="1488.35" cy="1595.99" r="3.7" fill="#a48ac6" stroke="#231f20" stroke-width="1.5"/>
<circle cx="1485.99" cy="1602.77" r="3.7" fill="#7d5aa8" stroke="#231f20" stroke-width="1.5"/>
<circle cx="1487.06" cy="1607.29" r="3.7" fill="#7d5aa8" stroke="#231f20" stroke-width="1.5"/>
<circle cx="1486.39" cy="1618.59" r="3.7" fill="#7d5aa8" stroke="#231f20" stroke-width="1.5"/>
<rect x="1506.4" y="1634.9" width="12.4" height="50.8" fill="#1d1a19" />
<rect x="1522.2" y="1605" width="11.8" height="80.7" fill="#a48abc" stroke="#231f20" stroke-width="1.6" />
<line x1="1528.1" y1="1602" x2="1528.1" y2="1605" stroke="#231f20" stroke-width="1.6" />
<line x1="1524.1" y1="1602" x2="1532.1" y2="1602" stroke="#231f20" stroke-width="1.6" />
<circle cx="1512.73" cy="1629.89" r="3.7" fill="#fff" stroke="#231f20" stroke-width="1.5"/>
<circle cx="1512.82" cy="1632.15" r="3.7" fill="#fff" stroke="#231f20" stroke-width="1.5"/>
<circle cx="1511.14" cy="1636.67" r="3.7" fill="#fff" stroke="#231f20" stroke-width="1.5"/>
<circle cx="1511.75" cy="1640.06" r="3.7" fill="#fff" stroke="#231f20" stroke-width="1.5"/>
<circle cx="1527.44" cy="1589.21" r="3.7" fill="#a48ac6" stroke="#231f20" stroke-width="1.5"/>
<circle cx="1529.35" cy="1595.99" r="3.7" fill="#a48ac6" stroke="#231f20" stroke-width="1.5"/>
<circle cx="1528.9" cy="1602.77" r="3.7" fill="#a48ac6" stroke="#231f20" stroke-width="1.5"/>
<circle cx="1527.08" cy="1609.55" r="3.7" fill="#7d5aa8" stroke="#231f20" stroke-width="1.5"/>
<circle cx="1528.99" cy="1616.33" r="3.7" fill="#7d5aa8" stroke="#231f20" stroke-width="1.5"/>
<circle cx="1527.02" cy="1623.11" r="3.7" fill="#7d5aa8" stroke="#231f20" stroke-width="1.5"/>
<rect x="1547.7" y="1634.9" width="12.2" height="50.8" fill="#1d1a19" />
<rect x="1563.6" y="1612.3" width="11.7" height="73.4" fill="#a48abc" stroke="#231f20" stroke-width="1.6" />
<line x1="1569.45" y1="1609.3" x2="1569.45" y2="1612.3" stroke="#231f20" stroke-width="1.6" />
<line x1="1565.45" y1="1609.3" x2="1573.45" y2="1609.3" stroke="#231f20" stroke-width="1.6" />
<circle cx="1554.15" cy="1620.85" r="3.7" fill="#fff" stroke="#231f20" stroke-width="1.5"/>
<circle cx="1552.68" cy="1627.63" r="3.7" fill="#fff" stroke="#231f20" stroke-width="1.5"/>
<circle cx="1552.31" cy="1634.41" r="3.7" fill="#fff" stroke="#231f20" stroke-width="1.5"/>
<circle cx="1554.91" cy="1638.93" r="3.7" fill="#fff" stroke="#231f20" stroke-width="1.5"/>
<circle cx="1552.93" cy="1642.32" r="3.7" fill="#fff" stroke="#231f20" stroke-width="1.5"/>
<circle cx="1568.6" cy="1602.77" r="3.7" fill="#a48ac6" stroke="#231f20" stroke-width="1.5"/>
<circle cx="1570.9" cy="1607.29" r="3.7" fill="#a48ac6" stroke="#231f20" stroke-width="1.5"/>
<circle cx="1570.57" cy="1611.81" r="3.7" fill="#a48ac6" stroke="#231f20" stroke-width="1.5"/>
<circle cx="1568.82" cy="1616.33" r="3.7" fill="#7d5aa8" stroke="#231f20" stroke-width="1.5"/>
<rect x="1589.3" y="1634.9" width="12.5" height="50.8" fill="#1d1a19" />
<rect x="1604.7" y="1598.3" width="12" height="87.4" fill="#a48abc" stroke="#231f20" stroke-width="1.6" />
<line x1="1610.7" y1="1595.3" x2="1610.7" y2="1598.3" stroke="#231f20" stroke-width="1.6" />
<line x1="1606.7" y1="1595.3" x2="1614.7" y2="1595.3" stroke="#231f20" stroke-width="1.6" />
<circle cx="1596.93" cy="1625.37" r="3.7" fill="#fff" stroke="#231f20" stroke-width="1.5"/>
<circle cx="1595.67" cy="1632.15" r="3.7" fill="#fff" stroke="#231f20" stroke-width="1.5"/>
<circle cx="1596.08" cy="1636.67" r="3.7" fill="#fff" stroke="#231f20" stroke-width="1.5"/>
<circle cx="1594.66" cy="1641.19" r="3.7" fill="#fff" stroke="#231f20" stroke-width="1.5"/>
<circle cx="1596.87" cy="1644.58" r="3.7" fill="#fff" stroke="#231f20" stroke-width="1.5"/>
<circle cx="1611.27" cy="1568.87" r="3.7" fill="#a48ac6" stroke="#231f20" stroke-width="1.5"/>
<circle cx="1612.1" cy="1575.65" r="3.7" fill="#a48ac6" stroke="#231f20" stroke-width="1.5"/>
<circle cx="1611.88" cy="1582.43" r="3.7" fill="#a48ac6" stroke="#231f20" stroke-width="1.5"/>
<circle cx="1610.1" cy="1590.34" r="3.7" fill="#a48ac6" stroke="#231f20" stroke-width="1.5"/>
<circle cx="1610.28" cy="1598.25" r="3.7" fill="#a48ac6" stroke="#231f20" stroke-width="1.5"/>
<circle cx="1609.7" cy="1607.29" r="3.7" fill="#7d5aa8" stroke="#231f20" stroke-width="1.5"/>
<circle cx="1609.64" cy="1614.07" r="3.7" fill="#7d5aa8" stroke="#231f20" stroke-width="1.5"/>
<circle cx="1609.4" cy="1623.11" r="3.7" fill="#7d5aa8" stroke="#231f20" stroke-width="1.5"/>
<rect x="1630.2" y="1634.9" width="12.5" height="50.8" fill="#1d1a19" />
<rect x="1646" y="1598.6" width="11.8" height="87.1" fill="#a48abc" stroke="#231f20" stroke-width="1.6" />
<line x1="1651.9" y1="1595.6" x2="1651.9" y2="1598.6" stroke="#231f20" stroke-width="1.6" />
<line x1="1647.9" y1="1595.6" x2="1655.9" y2="1595.6" stroke="#231f20" stroke-width="1.6" />
<circle cx="1635.85" cy="1629.89" r="3.7" fill="#fff" stroke="#231f20" stroke-width="1.5"/>
<circle cx="1636.76" cy="1633.28" r="3.7" fill="#fff" stroke="#231f20" stroke-width="1.5"/>
<circle cx="1634.96" cy="1636.67" r="3.7" fill="#fff" stroke="#231f20" stroke-width="1.5"/>
<circle cx="1636.98" cy="1640.06" r="3.7" fill="#fff" stroke="#231f20" stroke-width="1.5"/>
<circle cx="1651.41" cy="1551.92" r="3.7" fill="#a48ac6" stroke="#231f20" stroke-width="1.5"/>
<circle cx="1651.33" cy="1568.87" r="3.7" fill="#a48ac6" stroke="#231f20" stroke-width="1.5"/>
<circle cx="1652.86" cy="1588.08" r="3.7" fill="#a48ac6" stroke="#231f20" stroke-width="1.5"/>
<circle cx="1651.84" cy="1600.51" r="3.7" fill="#7d5aa8" stroke="#231f20" stroke-width="1.5"/>
<circle cx="1651.35" cy="1607.29" r="3.7" fill="#7d5aa8" stroke="#231f20" stroke-width="1.5"/>
<circle cx="1651.84" cy="1614.07" r="3.7" fill="#7d5aa8" stroke="#231f20" stroke-width="1.5"/>
<circle cx="1652.51" cy="1624.24" r="3.7" fill="#7d5aa8" stroke="#231f20" stroke-width="1.5"/>
<line x1="1449.9" y1="1685.7" x2="1665.7" y2="1685.7" stroke="#231f20" stroke-width="2" />
<line x1="1478.8" y1="1685.7" x2="1478.8" y2="1696.2" stroke="#231f20" stroke-width="2" />
<line x1="1519.9" y1="1685.7" x2="1519.9" y2="1696.2" stroke="#231f20" stroke-width="2" />
<line x1="1561.1" y1="1685.7" x2="1561.1" y2="1696.2" stroke="#231f20" stroke-width="2" />
<line x1="1602.4" y1="1685.7" x2="1602.4" y2="1696.2" stroke="#231f20" stroke-width="2" />
<line x1="1644.2" y1="1685.7" x2="1644.2" y2="1696.2" stroke="#231f20" stroke-width="2" />
<text transform="translate(1487.9 1535.8) rotate(-90) scale(0.92 1)" font-size="21.6" fill="#231f20">[<tspan font-style="italic">P</tspan> < 0.0001</text>
<text transform="translate(1527.5 1569.7) rotate(-90) scale(0.92 1)" font-size="21.6" fill="#231f20">[<tspan font-style="italic">P</tspan> < 0.0001</text>
<text transform="translate(1564.8 1585.5) rotate(-90) scale(0.92 1)" font-size="21.6" fill="#231f20">[<tspan font-style="italic">P</tspan> < 0.0001</text>
<text transform="translate(1605.5 1557.2) rotate(-90) scale(0.92 1)" font-size="21.6" fill="#231f20">[<tspan font-style="italic">P</tspan> < 0.0001</text>
<text transform="translate(1648.4 1533.5) rotate(-90) scale(0.92 1)" font-size="21.6" fill="#231f20">[<tspan font-style="italic">P</tspan> < 0.0001</text>
<text transform="translate(1489.1 1712.6) rotate(-45)" font-size="20.5" font-style="italic" fill="#231f20" text-anchor="end">Ucp1</text>
<text transform="translate(1530.2 1712.6) rotate(-45)" font-size="20.5" font-style="italic" fill="#231f20" text-anchor="end">Pgc1α</text>
<text transform="translate(1571.4 1712.6) rotate(-45)" font-size="20.5" font-style="italic" fill="#231f20" text-anchor="end">Cidea</text>
<text transform="translate(1612.7 1712.6) rotate(-45)" font-size="20.5" font-style="italic" fill="#231f20" text-anchor="end">Prdm16</text>
<text transform="translate(1654.5 1712.6) rotate(-45)" font-size="20.5" font-style="italic" fill="#231f20" text-anchor="end">Cytc</text>
<text transform="translate(1464.77 1424.79) scale(0.988 1)" font-size="21.14" fill="#231f20" >scWAT</text>
<text transform="translate(1429.89 1694.98) rotate(-90) scale(1.009 1)" font-size="19.57" fill="#231f20" >Relative  mRNA  expression</text>
<line x1="1763" y1="1475.1" x2="1763" y2="1678.5" stroke="#231f20" stroke-width="2" />
<line x1="1752.4" y1="1678.5" x2="1763" y2="1678.5" stroke="#231f20" stroke-width="2" />
<text transform="translate(1741.72 1684.49)" font-size="16.50" fill="#231f20" >0</text>
<line x1="1752.4" y1="1627.65" x2="1763" y2="1627.65" stroke="#231f20" stroke-width="2" />
<text transform="translate(1741.88 1633.64)" font-size="16.50" fill="#231f20" >1</text>
<line x1="1752.4" y1="1576.8" x2="1763" y2="1576.8" stroke="#231f20" stroke-width="2" />
<text transform="translate(1741.97 1582.88)" font-size="16.50" fill="#231f20" >2</text>
<line x1="1752.4" y1="1525.95" x2="1763" y2="1525.95" stroke="#231f20" stroke-width="2" />
<text transform="translate(1741.8 1531.94)" font-size="16.50" fill="#231f20" >3</text>
<line x1="1752.4" y1="1475.1" x2="1763" y2="1475.1" stroke="#231f20" stroke-width="2" />
<text transform="translate(1741.64 1481.09)" font-size="16.50" fill="#231f20" >4</text>
<rect x="1767.6" y="1627.6" width="12" height="50.9" fill="#1d1a19" />
<rect x="1783.4" y="1594.9" width="11.3" height="83.6" fill="#a48abc" stroke="#231f20" stroke-width="1.6" />
<line x1="1789.05" y1="1591.9" x2="1789.05" y2="1594.9" stroke="#231f20" stroke-width="1.6" />
<line x1="1785.05" y1="1591.9" x2="1793.05" y2="1591.9" stroke="#231f20" stroke-width="1.6" />
<circle cx="1774.48" cy="1614.07" r="3.7" fill="#fff" stroke="#231f20" stroke-width="1.5"/>
<circle cx="1774.57" cy="1618.59" r="3.7" fill="#fff" stroke="#231f20" stroke-width="1.5"/>
<circle cx="1773.56" cy="1625.37" r="3.7" fill="#fff" stroke="#231f20" stroke-width="1.5"/>
<circle cx="1772.88" cy="1634.41" r="3.7" fill="#fff" stroke="#231f20" stroke-width="1.5"/>
<circle cx="1772.1" cy="1641.19" r="3.7" fill="#fff" stroke="#231f20" stroke-width="1.5"/>
<circle cx="1774.09" cy="1646.84" r="3.7" fill="#fff" stroke="#231f20" stroke-width="1.5"/>
<circle cx="1788.96" cy="1562.09" r="3.7" fill="#a48ac6" stroke="#231f20" stroke-width="1.5"/>
<circle cx="1789.83" cy="1575.65" r="3.7" fill="#a48ac6" stroke="#231f20" stroke-width="1.5"/>
<circle cx="1788.67" cy="1581.3" r="3.7" fill="#a48ac6" stroke="#231f20" stroke-width="1.5"/>
<circle cx="1789.86" cy="1593.73" r="3.7" fill="#a48ac6" stroke="#231f20" stroke-width="1.5"/>
<circle cx="1788.37" cy="1598.25" r="3.7" fill="#7d5aa8" stroke="#231f20" stroke-width="1.5"/>
<circle cx="1789.96" cy="1602.77" r="3.7" fill="#7d5aa8" stroke="#231f20" stroke-width="1.5"/>
<circle cx="1789.74" cy="1614.07" r="3.7" fill="#7d5aa8" stroke="#231f20" stroke-width="1.5"/>
<circle cx="1788.79" cy="1619.72" r="3.7" fill="#7d5aa8" stroke="#231f20" stroke-width="1.5"/>
<rect x="1808.9" y="1627.6" width="12.5" height="50.9" fill="#1d1a19" />
<rect x="1824.8" y="1586.9" width="11.3" height="91.6" fill="#a48abc" stroke="#231f20" stroke-width="1.6" />
<line x1="1830.45" y1="1583.9" x2="1830.45" y2="1586.9" stroke="#231f20" stroke-width="1.6" />
<line x1="1826.45" y1="1583.9" x2="1834.45" y2="1583.9" stroke="#231f20" stroke-width="1.6" />
<circle cx="1815.26" cy="1607.29" r="3.7" fill="#fff" stroke="#231f20" stroke-width="1.5"/>
<circle cx="1815.7" cy="1620.85" r="3.7" fill="#fff" stroke="#231f20" stroke-width="1.5"/>
<circle cx="1814.23" cy="1627.63" r="3.7" fill="#fff" stroke="#231f20" stroke-width="1.5"/>
<circle cx="1815.31" cy="1635.54" r="3.7" fill="#fff" stroke="#231f20" stroke-width="1.5"/>
<circle cx="1816.07" cy="1640.06" r="3.7" fill="#fff" stroke="#231f20" stroke-width="1.5"/>
<circle cx="1829.75" cy="1564.35" r="3.7" fill="#a48ac6" stroke="#231f20" stroke-width="1.5"/>
<circle cx="1831.36" cy="1576.78" r="3.7" fill="#a48ac6" stroke="#231f20" stroke-width="1.5"/>
<circle cx="1831.01" cy="1583.56" r="3.7" fill="#a48ac6" stroke="#231f20" stroke-width="1.5"/>
<circle cx="1831.48" cy="1590.34" r="3.7" fill="#7d5aa8" stroke="#231f20" stroke-width="1.5"/>
<circle cx="1829.96" cy="1594.86" r="3.7" fill="#7d5aa8" stroke="#231f20" stroke-width="1.5"/>
<circle cx="1829.23" cy="1600.51" r="3.7" fill="#7d5aa8" stroke="#231f20" stroke-width="1.5"/>
<rect x="1850.3" y="1627.6" width="12.2" height="50.9" fill="#1d1a19" />
<rect x="1866.1" y="1598.7" width="11.3" height="79.8" fill="#a48abc" stroke="#231f20" stroke-width="1.6" />
<line x1="1871.75" y1="1595.7" x2="1871.75" y2="1598.7" stroke="#231f20" stroke-width="1.6" />
<line x1="1867.75" y1="1595.7" x2="1875.75" y2="1595.7" stroke="#231f20" stroke-width="1.6" />
<circle cx="1857.3" cy="1614.07" r="3.7" fill="#fff" stroke="#231f20" stroke-width="1.5"/>
<circle cx="1857.31" cy="1623.11" r="3.7" fill="#fff" stroke="#231f20" stroke-width="1.5"/>
<circle cx="1856.24" cy="1627.63" r="3.7" fill="#fff" stroke="#231f20" stroke-width="1.5"/>
<circle cx="1855.18" cy="1633.28" r="3.7" fill="#fff" stroke="#231f20" stroke-width="1.5"/>
<circle cx="1855.49" cy="1641.19" r="3.7" fill="#fff" stroke="#231f20" stroke-width="1.5"/>
<circle cx="1872.15" cy="1574.52" r="3.7" fill="#a48ac6" stroke="#231f20" stroke-width="1.5"/>
<circle cx="1871.12" cy="1576.78" r="3.7" fill="#a48ac6" stroke="#231f20" stroke-width="1.5"/>
<circle cx="1873.1" cy="1585.82" r="3.7" fill="#a48ac6" stroke="#231f20" stroke-width="1.5"/>
<circle cx="1872.02" cy="1594.86" r="3.7" fill="#a48ac6" stroke="#231f20" stroke-width="1.5"/>
<circle cx="1870.85" cy="1605.03" r="3.7" fill="#7d5aa8" stroke="#231f20" stroke-width="1.5"/>
<circle cx="1872.22" cy="1609.55" r="3.7" fill="#7d5aa8" stroke="#231f20" stroke-width="1.5"/>
<circle cx="1871.33" cy="1616.33" r="3.7" fill="#7d5aa8" stroke="#231f20" stroke-width="1.5"/>
<rect x="1891.4" y="1627.6" width="12.5" height="50.9" fill="#1d1a19" />
<rect x="1907.2" y="1585.8" width="11.3" height="92.7" fill="#a48abc" stroke="#231f20" stroke-width="1.6" />
<line x1="1912.85" y1="1582.8" x2="1912.85" y2="1585.8" stroke="#231f20" stroke-width="1.6" />
<line x1="1908.85" y1="1582.8" x2="1916.85" y2="1582.8" stroke="#231f20" stroke-width="1.6" />
<circle cx="1898.95" cy="1608.42" r="3.7" fill="#fff" stroke="#231f20" stroke-width="1.5"/>
<circle cx="1898.88" cy="1620.85" r="3.7" fill="#fff" stroke="#231f20" stroke-width="1.5"/>
<circle cx="1897.69" cy="1625.37" r="3.7" fill="#fff" stroke="#231f20" stroke-width="1.5"/>
<circle cx="1898.08" cy="1632.15" r="3.7" fill="#fff" stroke="#231f20" stroke-width="1.5"/>
<circle cx="1898.24" cy="1636.67" r="3.7" fill="#fff" stroke="#231f20" stroke-width="1.5"/>
<circle cx="1898.57" cy="1641.19" r="3.7" fill="#fff" stroke="#231f20" stroke-width="1.5"/>
<circle cx="1914.28" cy="1562.09" r="3.7" fill="#a48ac6" stroke="#231f20" stroke-width="1.5"/>
<circle cx="1911.44" cy="1571.13" r="3.7" fill="#a48ac6" stroke="#231f20" stroke-width="1.5"/>
<circle cx="1912.43" cy="1575.65" r="3.7" fill="#a48ac6" stroke="#231f20" stroke-width="1.5"/>
<circle cx="1913.16" cy="1581.3" r="3.7" fill="#a48ac6" stroke="#231f20" stroke-width="1.5"/>
<circle cx="1912.26" cy="1586.95" r="3.7" fill="#7d5aa8" stroke="#231f20" stroke-width="1.5"/>
<circle cx="1913.12" cy="1594.86" r="3.7" fill="#7d5aa8" stroke="#231f20" stroke-width="1.5"/>
<circle cx="1911.62" cy="1607.29" r="3.7" fill="#7d5aa8" stroke="#231f20" stroke-width="1.5"/>
<circle cx="1913.99" cy="1612.94" r="3.7" fill="#7d5aa8" stroke="#231f20" stroke-width="1.5"/>
<rect x="1932.6" y="1627.6" width="12.6" height="50.9" fill="#1d1a19" />
<rect x="1948.4" y="1604" width="12" height="74.5" fill="#a48abc" stroke="#231f20" stroke-width="1.6" />
<line x1="1954.4" y1="1601" x2="1954.4" y2="1604" stroke="#231f20" stroke-width="1.6" />
<line x1="1950.4" y1="1601" x2="1958.4" y2="1601" stroke="#231f20" stroke-width="1.6" />
<circle cx="1938.98" cy="1603.9" r="3.7" fill="#fff" stroke="#231f20" stroke-width="1.5"/>
<circle cx="1937.75" cy="1620.85" r="3.7" fill="#fff" stroke="#231f20" stroke-width="1.5"/>
<circle cx="1939.39" cy="1627.63" r="3.7" fill="#fff" stroke="#231f20" stroke-width="1.5"/>
<circle cx="1938.34" cy="1634.41" r="3.7" fill="#fff" stroke="#231f20" stroke-width="1.5"/>
<circle cx="1937.99" cy="1640.06" r="3.7" fill="#fff" stroke="#231f20" stroke-width="1.5"/>
<circle cx="1954.35" cy="1588.08" r="3.7" fill="#a48ac6" stroke="#231f20" stroke-width="1.5"/>
<circle cx="1953.31" cy="1593.73" r="3.7" fill="#a48ac6" stroke="#231f20" stroke-width="1.5"/>
<circle cx="1953.53" cy="1595.99" r="3.7" fill="#a48ac6" stroke="#231f20" stroke-width="1.5"/>
<circle cx="1955.5" cy="1602.77" r="3.7" fill="#a48ac6" stroke="#231f20" stroke-width="1.5"/>
<circle cx="1954.99" cy="1609.55" r="3.7" fill="#7d5aa8" stroke="#231f20" stroke-width="1.5"/>
<circle cx="1952.94" cy="1616.33" r="3.7" fill="#7d5aa8" stroke="#231f20" stroke-width="1.5"/>
<circle cx="1955.23" cy="1620.85" r="3.7" fill="#7d5aa8" stroke="#231f20" stroke-width="1.5"/>
<line x1="1752.4" y1="1678.5" x2="1966" y2="1678.5" stroke="#231f20" stroke-width="2" />
<line x1="1780.7" y1="1678.5" x2="1780.7" y2="1689" stroke="#231f20" stroke-width="2" />
<line x1="1822" y1="1678.5" x2="1822" y2="1689" stroke="#231f20" stroke-width="2" />
<line x1="1863.9" y1="1678.5" x2="1863.9" y2="1689" stroke="#231f20" stroke-width="2" />
<line x1="1904.5" y1="1678.5" x2="1904.5" y2="1689" stroke="#231f20" stroke-width="2" />
<line x1="1946.8" y1="1678.5" x2="1946.8" y2="1689" stroke="#231f20" stroke-width="2" />
<text transform="translate(1788.2 1541.4) rotate(-90) scale(0.92 1)" font-size="21.6" fill="#231f20">[<tspan font-style="italic">P</tspan> = 0.0002</text>
<text transform="translate(1827.8 1550.4) rotate(-90) scale(0.92 1)" font-size="21.6" fill="#231f20">[<tspan font-style="italic">P</tspan> < 0.0001</text>
<text transform="translate(1869.6 1552.7) rotate(-90) scale(0.92 1)" font-size="21.6" fill="#231f20">[<tspan font-style="italic">P</tspan> = 0.0001</text>
<text transform="translate(1910.3 1544.8) rotate(-90) scale(0.92 1)" font-size="21.6" fill="#231f20">[<tspan font-style="italic">P</tspan> < 0.0001</text>
<text transform="translate(1953.2 1567.4) rotate(-90) scale(0.92 1)" font-size="21.6" fill="#231f20">[<tspan font-style="italic">P</tspan> = 0.0004</text>
<text transform="translate(1791 1705.4) rotate(-45)" font-size="20.5" font-style="italic" fill="#231f20" text-anchor="end">Ucp1</text>
<text transform="translate(1832.3 1705.4) rotate(-45)" font-size="20.5" font-style="italic" fill="#231f20" text-anchor="end">Pgc1α</text>
<text transform="translate(1874.2 1705.4) rotate(-45)" font-size="20.5" font-style="italic" fill="#231f20" text-anchor="end">Cidea</text>
<text transform="translate(1914.8 1705.4) rotate(-45)" font-size="20.5" font-style="italic" fill="#231f20" text-anchor="end">Prdm16</text>
<text transform="translate(1957.1 1705.4) rotate(-45)" font-size="20.5" font-style="italic" fill="#231f20" text-anchor="end">Cytc</text>
<text transform="translate(1770.69 1425) scale(1.026 1)" font-size="20.87" fill="#231f20" >BAT</text>
<text transform="translate(1723.55 1695.47) rotate(-90) scale(1.045 1)" font-size="18.82" fill="#231f20" >Relative  mRNA  expression</text>
</svg>
</body></html>
